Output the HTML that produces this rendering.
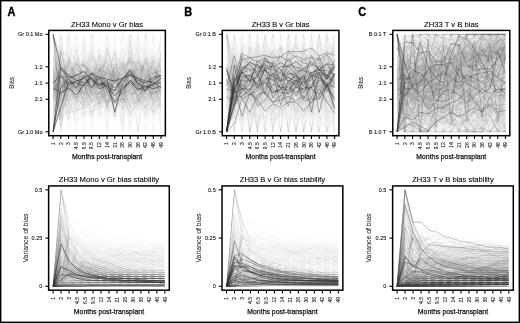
<!DOCTYPE html>
<html><head><meta charset="utf-8"><title>Figure</title>
<style>html,body{margin:0;padding:0;background:#fff;} svg{display:block;will-change:transform;} path{vector-effect:non-scaling-stroke;}</style>
</head><body>
<svg xmlns="http://www.w3.org/2000/svg" width="520" height="323" viewBox="0 0 520 323" font-family='"Liberation Sans", sans-serif'><rect x="0" y="0" width="520" height="323" fill="#fff"/><defs><filter id="bl" x="0" y="0" width="520" height="323" filterUnits="userSpaceOnUse"><feGaussianBlur stdDeviation="0.35"/></filter><filter id="bt" x="0" y="0" width="520" height="323" filterUnits="userSpaceOnUse"><feGaussianBlur stdDeviation="0.22"/></filter></defs><g filter="url(#bl)"><g fill="none" stroke-linejoin="round" transform="matrix(7.71 0 0 0.975000 53.1 34.3)"><g stroke="#555" stroke-opacity="0.0075" stroke-width="0.8"><path d="M0 81 1 70 2 72 3 52 4 100 5 100 6 62 7 40 8 85 9 88 10 14 11 17 12 40 13 14 14 13"/><path d="M0 54 1 42 2 100 3 14 4 20 5 76 6 85 7 37 8 23 9 78 10 74 11 62 12 64 13 39 14 78"/><path d="M0 30 1 23 2 45 3 81 4 70 5 62 6 50 7 28 8 66 9 74 10 51 11 43 12 71 13 100 14 0"/></g><g stroke="#555" stroke-opacity="0.01" stroke-width="0.8"><path d="M0 100 1 47 2 27 3 33 4 27 5 16 6 0 7 39 8 36 9 42 10 0 11 19 12 64 13 81 14 40"/><path d="M0 0 1 38 2 100 3 100 4 0 5 0 6 100 7 39 8 48 9 80 10 80 11 65 12 0 13 0 14 80"/><path d="M0 0 1 100 2 89 3 90 4 21 5 0 6 89 7 29 8 41 9 22 10 84 11 85 12 13 13 82 14 26"/><path d="M0 47 1 32 2 77 3 87 4 33 5 56 6 22 7 12 8 43 9 33 10 70 11 51 12 28 13 12 14 76"/><path d="M0 80 1 100 2 11 3 66 4 33 5 17 6 18 7 41 8 37 9 56 10 54 11 16 12 12 13 19 14 23"/><path d="M0 87 1 81 2 37 3 87 4 100 5 59 6 32 7 68 8 100 9 14 10 0 11 68 12 81 13 0 14 0"/><path d="M0 22 1 45 2 86 3 22 4 44 5 63 6 75 7 100 8 0 9 53 10 0 11 32 12 43 13 100 14 86"/><path d="M0 89 1 67 2 21 3 57 4 0 5 55 6 79 7 44 8 88 9 52 10 0 11 0 12 79 13 87 14 100"/><path d="M0 100 1 69 2 0 3 73 4 12 5 70 6 88 7 75 8 0 9 90 10 100 11 59 12 38 13 21 14 100"/><path d="M0 0 1 68 2 48 3 0 4 17 5 72 6 71 7 61 8 44 9 71 10 53 11 20 12 78 13 0 14 100"/><path d="M0 74 1 51 2 61 3 39 4 56 5 79 6 10 7 78 8 28 9 25 10 68 11 52 12 34 13 0 14 65"/><path d="M0 78 1 50 2 85 3 14 4 78 5 73 6 70 7 15 8 48 9 90 10 45 11 33 12 24 13 22 14 46"/><path d="M0 66 1 33 2 39 3 28 4 100 5 49 6 86 7 79 8 71 9 30 10 18 11 21 12 45 13 100 14 100"/><path d="M0 0 1 100 2 76 3 75 4 0 5 71 6 41 7 83 8 37 9 16 10 33 11 100 12 57 13 100 14 12"/><path d="M0 23 1 85 2 0 3 78 4 30 5 65 6 20 7 13 8 16 9 64 10 45 11 45 12 100 13 17 14 100"/><path d="M0 30 1 24 2 100 3 46 4 89 5 24 6 26 7 64 8 20 9 67 10 19 11 20 12 37 13 79 14 0"/><path d="M0 63 1 21 2 52 3 76 4 78 5 41 6 47 7 23 8 43 9 36 10 40 11 67 12 52 13 83 14 74"/><path d="M0 54 1 68 2 74 3 0 4 0 5 54 6 100 7 100 8 69 9 0 10 12 11 56 12 15 13 85 14 69"/><path d="M0 0 1 100 2 24 3 100 4 70 5 42 6 100 7 100 8 0 9 52 10 100 11 69 12 58 13 58 14 0"/><path d="M0 68 1 68 2 100 3 12 4 100 5 39 6 52 7 64 8 100 9 78 10 60 11 82 12 100 13 68 14 44"/><path d="M0 100 1 23 2 47 3 45 4 78 5 24 6 0 7 100 8 0 9 44 10 73 11 30 12 100 13 85 14 20"/><path d="M0 0 1 84 2 87 3 28 4 17 5 46 6 86 7 38 8 38 9 13 10 34 11 37 12 28 13 41 14 47"/><path d="M0 48 1 29 2 0 3 73 4 100 5 66 6 100 7 100 8 46 9 12 10 21 11 22 12 11 13 0 14 66"/><path d="M0 76 1 71 2 45 3 27 4 76 5 44 6 28 7 22 8 55 9 70 10 66 11 70 12 12 13 84 14 30"/><path d="M0 15 1 0 2 89 3 81 4 46 5 73 6 28 7 87 8 41 9 41 10 39 11 24 12 48 13 66 14 20"/><path d="M0 85 1 83 2 41 3 29 4 68 5 0 6 16 7 63 8 49 9 32 10 34 11 100 12 0 13 38 14 36"/><path d="M0 100 1 0 2 39 3 55 4 37 5 74 6 32 7 89 8 100 9 59 10 100 11 22 12 0 13 86 14 30"/></g><g stroke="#555" stroke-opacity="0.0125" stroke-width="0.8"><path d="M0 79 1 56 2 29 3 63 4 53 5 85 6 64 7 42 8 0 9 0 10 37 11 46 12 64 13 39 14 54"/><path d="M0 69 1 45 2 34 3 0 4 69 5 63 6 67 7 72 8 89 9 15 10 46 11 59 12 100 13 15 14 31"/><path d="M0 37 1 22 2 43 3 0 4 100 5 0 6 0 7 57 8 82 9 13 10 100 11 83 12 28 13 85 14 84"/><path d="M0 77 1 25 2 74 3 32 4 68 5 33 6 71 7 49 8 44 9 14 10 67 11 100 12 60 13 21 14 29"/><path d="M0 100 1 100 2 46 3 76 4 16 5 79 6 67 7 87 8 71 9 14 10 57 11 0 12 52 13 33 14 80"/><path d="M0 56 1 33 2 88 3 100 4 11 5 0 6 80 7 46 8 27 9 0 10 80 11 11 12 0 13 42 14 59"/><path d="M0 74 1 71 2 43 3 47 4 78 5 30 6 46 7 0 8 85 9 14 10 68 11 11 12 37 13 20 14 59"/><path d="M0 30 1 0 2 65 3 15 4 47 5 22 6 32 7 43 8 80 9 37 10 24 11 64 12 89 13 51 14 18"/><path d="M0 62 1 32 2 49 3 58 4 53 5 14 6 46 7 0 8 60 9 87 10 12 11 59 12 27 13 82 14 87"/><path d="M0 82 1 48 2 77 3 23 4 0 5 0 6 20 7 100 8 28 9 43 10 100 11 0 12 0 13 40 14 87"/><path d="M0 66 1 70 2 0 3 69 4 13 5 18 6 75 7 76 8 100 9 100 10 72 11 76 12 84 13 0 14 19"/><path d="M0 29 1 77 2 34 3 75 4 67 5 0 6 74 7 14 8 23 9 67 10 53 11 87 12 51 13 100 14 0"/><path d="M0 72 1 68 2 69 3 31 4 73 5 64 6 56 7 65 8 13 9 81 10 45 11 100 12 0 13 100 14 72"/><path d="M0 86 1 25 2 87 3 81 4 87 5 46 6 29 7 32 8 0 9 19 10 43 11 65 12 65 13 88 14 32"/><path d="M0 50 1 100 2 55 3 20 4 35 5 100 6 36 7 71 8 71 9 73 10 12 11 44 12 88 13 82 14 43"/><path d="M0 12 1 11 2 27 3 0 4 100 5 100 6 74 7 100 8 74 9 35 10 45 11 100 12 100 13 52 14 84"/><path d="M0 0 1 46 2 51 3 83 4 77 5 54 6 71 7 77 8 35 9 21 10 100 11 72 12 34 13 28 14 66"/><path d="M0 83 1 0 2 29 3 100 4 13 5 61 6 42 7 74 8 54 9 59 10 0 11 66 12 56 13 15 14 15"/><path d="M0 75 1 52 2 65 3 37 4 39 5 78 6 83 7 35 8 45 9 84 10 44 11 16 12 100 13 65 14 55"/><path d="M0 82 1 100 2 76 3 43 4 58 5 84 6 12 7 60 8 46 9 43 10 12 11 100 12 54 13 18 14 40"/><path d="M0 65 1 30 2 31 3 0 4 27 5 49 6 13 7 65 8 59 9 24 10 0 11 14 12 68 13 28 14 40"/><path d="M0 81 1 100 2 30 3 0 4 0 5 82 6 0 7 33 8 63 9 0 10 83 11 100 12 56 13 0 14 0"/><path d="M0 38 1 45 2 29 3 100 4 50 5 41 6 73 7 74 8 69 9 76 10 26 11 84 12 30 13 17 14 42"/><path d="M0 59 1 54 2 82 3 45 4 15 5 59 6 85 7 66 8 56 9 100 10 32 11 33 12 11 13 33 14 62"/><path d="M0 80 1 59 2 0 3 36 4 74 5 64 6 76 7 73 8 100 9 74 10 31 11 53 12 71 13 84 14 58"/><path d="M0 41 1 81 2 0 3 0 4 15 5 67 6 58 7 16 8 41 9 31 10 87 11 52 12 27 13 34 14 54"/><path d="M0 0 1 36 2 51 3 34 4 60 5 0 6 52 7 10 8 21 9 40 10 44 11 100 12 44 13 11 14 10"/><path d="M0 79 1 0 2 36 3 52 4 29 5 20 6 53 7 42 8 20 9 39 10 45 11 21 12 100 13 41 14 57"/><path d="M0 90 1 21 2 100 3 81 4 77 5 57 6 36 7 79 8 24 9 0 10 0 11 71 12 22 13 64 14 10"/><path d="M0 34 1 56 2 83 3 81 4 62 5 43 6 0 7 0 8 35 9 10 10 0 11 49 12 60 13 27 14 0"/></g><g stroke="#555" stroke-opacity="0.015" stroke-width="0.8"><path d="M0 75 1 21 2 100 3 81 4 81 5 100 6 37 7 100 8 38 9 0 10 17 11 30 12 0 13 82 14 18"/><path d="M0 0 1 76 2 0 3 34 4 0 5 73 6 100 7 0 8 11 9 22 10 100 11 100 12 30 13 36 14 56"/><path d="M0 79 1 73 2 14 3 67 4 80 5 66 6 22 7 24 8 71 9 29 10 36 11 45 12 13 13 49 14 39"/><path d="M0 100 1 78 2 29 3 14 4 79 5 58 6 78 7 0 8 88 9 60 10 79 11 14 12 15 13 62 14 0"/><path d="M0 65 1 49 2 87 3 30 4 13 5 66 6 44 7 30 8 24 9 0 10 53 11 65 12 85 13 0 14 21"/><path d="M0 47 1 0 2 65 3 0 4 100 5 36 6 70 7 69 8 84 9 0 10 0 11 26 12 100 13 100 14 30"/><path d="M0 13 1 72 2 76 3 77 4 65 5 60 6 0 7 19 8 100 9 89 10 73 11 29 12 0 13 59 14 0"/><path d="M0 31 1 63 2 48 3 46 4 42 5 33 6 70 7 100 8 100 9 0 10 31 11 38 12 40 13 35 14 57"/><path d="M0 63 1 36 2 65 3 90 4 67 5 0 6 55 7 47 8 19 9 100 10 0 11 72 12 100 13 64 14 25"/><path d="M0 0 1 0 2 100 3 68 4 15 5 0 6 67 7 85 8 49 9 83 10 81 11 0 12 100 13 26 14 27"/><path d="M0 15 1 100 2 46 3 83 4 43 5 54 6 100 7 74 8 84 9 48 10 10 11 66 12 14 13 72 14 22"/><path d="M0 100 1 13 2 27 3 100 4 39 5 50 6 88 7 41 8 79 9 40 10 100 11 29 12 86 13 36 14 78"/><path d="M0 88 1 41 2 30 3 100 4 29 5 60 6 0 7 45 8 49 9 42 10 57 11 47 12 88 13 70 14 52"/><path d="M0 100 1 100 2 69 3 21 4 63 5 0 6 57 7 42 8 29 9 47 10 42 11 0 12 88 13 53 14 37"/><path d="M0 100 1 46 2 32 3 42 4 52 5 67 6 40 7 55 8 16 9 100 10 19 11 64 12 21 13 29 14 69"/><path d="M0 71 1 100 2 25 3 85 4 73 5 39 6 64 7 0 8 50 9 0 10 20 11 0 12 87 13 55 14 0"/><path d="M0 57 1 27 2 79 3 27 4 0 5 0 6 27 7 54 8 83 9 81 10 22 11 30 12 11 13 53 14 79"/><path d="M0 43 1 77 2 28 3 68 4 43 5 14 6 52 7 75 8 43 9 88 10 61 11 61 12 71 13 100 14 86"/><path d="M0 60 1 86 2 50 3 72 4 24 5 17 6 42 7 65 8 73 9 57 10 100 11 100 12 0 13 33 14 0"/><path d="M0 28 1 100 2 20 3 38 4 73 5 85 6 80 7 66 8 0 9 71 10 0 11 13 12 22 13 54 14 24"/><path d="M0 81 1 100 2 26 3 37 4 50 5 37 6 65 7 39 8 35 9 26 10 14 11 63 12 23 13 23 14 63"/><path d="M0 34 1 100 2 18 3 82 4 35 5 60 6 36 7 100 8 35 9 41 10 0 11 42 12 46 13 0 14 79"/><path d="M0 80 1 56 2 27 3 83 4 37 5 31 6 65 7 100 8 57 9 79 10 37 11 78 12 68 13 100 14 0"/><path d="M0 22 1 100 2 0 3 48 4 28 5 61 6 80 7 11 8 88 9 29 10 26 11 20 12 40 13 53 14 89"/><path d="M0 72 1 51 2 12 3 71 4 21 5 86 6 88 7 31 8 83 9 87 10 14 11 49 12 61 13 23 14 77"/><path d="M0 49 1 50 2 88 3 57 4 100 5 87 6 70 7 25 8 68 9 100 10 10 11 42 12 81 13 0 14 74"/><path d="M0 65 1 48 2 63 3 18 4 71 5 34 6 0 7 10 8 34 9 47 10 18 11 100 12 73 13 77 14 36"/><path d="M0 67 1 84 2 86 3 67 4 77 5 28 6 21 7 31 8 84 9 100 10 41 11 40 12 82 13 100 14 58"/><path d="M0 22 1 0 2 20 3 12 4 24 5 25 6 20 7 76 8 83 9 73 10 52 11 30 12 62 13 13 14 100"/><path d="M0 41 1 72 2 37 3 70 4 22 5 37 6 60 7 38 8 85 9 23 10 33 11 45 12 0 13 100 14 51"/><path d="M0 33 1 63 2 34 3 76 4 64 5 42 6 49 7 55 8 37 9 82 10 11 11 60 12 55 13 35 14 77"/><path d="M0 93 1 66 2 65 3 64 4 48 5 73 6 89 7 52 8 59 9 55 10 21 11 73 12 34 13 74 14 22"/><path d="M0 55 1 57 2 52 3 55 4 46 5 50 6 38 7 38 8 42 9 93 10 35 11 64 12 59 13 35 14 49"/><path d="M0 46 1 36 2 5 3 71 4 31 5 66 6 70 7 80 8 59 9 56 10 62 11 59 12 74 13 40 14 65"/><path d="M0 100 1 28 2 59 3 60 4 62 5 57 6 39 7 83 8 40 9 31 10 34 11 27 12 56 13 65 14 55"/><path d="M0 100 1 46 2 31 3 59 4 27 5 39 6 32 7 48 8 45 9 56 10 54 11 59 12 69 13 65 14 30"/><path d="M0 77 1 34 2 31 3 60 4 23 5 51 6 53 7 13 8 47 9 57 10 10 11 43 12 29 13 16 14 51"/><path d="M0 100 1 62 2 69 3 48 4 58 5 22 6 25 7 65 8 66 9 40 10 10 11 19 12 61 13 29 14 27"/><path d="M0 57 1 54 2 37 3 42 4 79 5 36 6 81 7 46 8 45 9 49 10 56 11 80 12 49 13 33 14 51"/><path d="M0 69 1 45 2 65 3 53 4 100 5 34 6 69 7 66 8 43 9 32 10 23 11 39 12 10 13 84 14 74"/><path d="M0 12 1 28 2 36 3 76 4 27 5 43 6 37 7 44 8 66 9 50 10 37 11 40 12 31 13 35 14 25"/><path d="M0 0 1 56 2 38 3 34 4 30 5 35 6 13 7 46 8 27 9 47 10 36 11 32 12 68 13 46 14 36"/><path d="M0 36 1 51 2 44 3 79 4 75 5 37 6 33 7 68 8 14 9 30 10 15 11 38 12 59 13 62 14 40"/><path d="M0 23 1 36 2 49 3 44 4 45 5 35 6 37 7 41 8 83 9 63 10 20 11 74 12 0 13 45 14 49"/><path d="M0 45 1 56 2 28 3 60 4 55 5 47 6 45 7 36 8 73 9 41 10 66 11 34 12 61 13 62 14 27"/><path d="M0 61 1 44 2 31 3 42 4 61 5 46 6 42 7 50 8 30 9 47 10 54 11 16 12 45 13 37 14 35"/><path d="M0 71 1 61 2 68 3 41 4 65 5 57 6 21 7 70 8 56 9 47 10 55 11 0 12 49 13 48 14 38"/><path d="M0 73 1 58 2 77 3 98 4 71 5 49 6 75 7 66 8 39 9 39 10 46 11 53 12 35 13 45 14 56"/><path d="M0 0 1 55 2 29 3 28 4 40 5 58 6 54 7 56 8 14 9 4 10 46 11 11 12 48 13 65 14 44"/><path d="M0 69 1 51 2 63 3 62 4 43 5 35 6 50 7 76 8 50 9 41 10 48 11 60 12 89 13 49 14 52"/><path d="M0 16 1 53 2 38 3 35 4 46 5 29 6 1 7 58 8 58 9 57 10 64 11 66 12 81 13 56 14 74"/><path d="M0 57 1 35 2 50 3 55 4 73 5 54 6 39 7 21 8 38 9 39 10 46 11 65 12 35 13 18 14 27"/><path d="M0 22 1 74 2 52 3 37 4 39 5 60 6 49 7 52 8 86 9 48 10 64 11 80 12 51 13 71 14 47"/><path d="M0 30 1 52 2 26 3 58 4 40 5 48 6 68 7 76 8 45 9 66 10 61 11 66 12 55 13 37 14 73"/><path d="M0 34 1 41 2 40 3 57 4 46 5 72 6 48 7 55 8 39 9 54 10 24 11 47 12 46 13 45 14 24"/><path d="M0 32 1 37 2 46 3 63 4 79 5 95 6 35 7 79 8 53 9 40 10 47 11 55 12 24 13 76 14 30"/><path d="M0 35 1 12 2 37 3 28 4 45 5 51 6 13 7 67 8 41 9 39 10 25 11 75 12 63 13 58 14 64"/><path d="M0 72 1 73 2 74 3 11 4 47 5 39 6 60 7 54 8 62 9 88 10 64 11 36 12 49 13 38 14 51"/><path d="M0 100 1 70 2 0 3 13 4 88 5 78 6 75 7 23 8 64 9 26 10 78 11 45 12 37 13 60 14 81"/><path d="M0 100 1 51 2 57 3 49 4 55 5 71 6 46 7 73 8 42 9 51 10 66 11 75 12 73 13 56 14 69"/><path d="M0 20 1 60 2 40 3 77 4 30 5 0 6 56 7 26 8 20 9 28 10 53 11 48 12 48 13 71 14 55"/><path d="M0 100 1 25 2 33 3 71 4 39 5 40 6 53 7 54 8 30 9 56 10 47 11 58 12 13 13 36 14 70"/><path d="M0 70 1 80 2 54 3 50 4 70 5 59 6 84 7 50 8 83 9 82 10 77 11 81 12 72 13 91 14 60"/><path d="M0 84 1 55 2 58 3 44 4 66 5 21 6 25 7 75 8 6 9 63 10 47 11 26 12 52 13 51 14 23"/><path d="M0 52 1 45 2 50 3 37 4 47 5 84 6 42 7 62 8 14 9 41 10 43 11 63 12 49 13 54 14 12"/></g><g stroke="#555" stroke-opacity="0.0175" stroke-width="0.8"><path d="M0 50 1 62 2 86 3 45 4 58 5 62 6 41 7 72 8 35 9 67 10 36 11 79 12 50 13 47 14 79"/><path d="M0 44 1 56 2 66 3 86 4 69 5 77 6 35 7 81 8 31 9 70 10 85 11 33 12 17 13 88 14 49"/><path d="M0 100 1 44 2 54 3 40 4 53 5 57 6 32 7 45 8 56 9 23 10 54 11 26 12 39 13 47 14 54"/><path d="M0 62 1 55 2 40 3 61 4 49 5 36 6 44 7 58 8 48 9 44 10 51 11 74 12 52 13 59 14 54"/><path d="M0 51 1 62 2 63 3 67 4 73 5 71 6 61 7 78 8 60 9 52 10 67 11 45 12 64 13 65 14 59"/><path d="M0 90 1 53 2 81 3 71 4 56 5 53 6 84 7 28 8 66 9 67 10 25 11 61 12 76 13 21 14 49"/><path d="M0 0 1 62 2 49 3 25 4 58 5 85 6 91 7 90 8 81 9 61 10 74 11 29 12 76 13 38 14 64"/><path d="M0 43 1 46 2 23 3 58 4 22 5 6 6 46 7 40 8 38 9 59 10 38 11 44 12 15 13 49 14 54"/><path d="M0 67 1 10 2 33 3 84 4 18 5 52 6 51 7 70 8 52 9 75 10 58 11 52 12 32 13 42 14 100"/><path d="M0 100 1 50 2 72 3 76 4 76 5 56 6 50 7 57 8 84 9 52 10 50 11 67 12 71 13 49 14 26"/><path d="M0 67 1 70 2 91 3 41 4 40 5 47 6 34 7 100 8 36 9 61 10 50 11 57 12 41 13 38 14 40"/><path d="M0 52 1 52 2 39 3 49 4 64 5 55 6 62 7 32 8 24 9 47 10 45 11 57 12 68 13 54 14 61"/><path d="M0 39 1 74 2 0 3 57 4 38 5 17 6 62 7 63 8 63 9 79 10 70 11 49 12 48 13 38 14 25"/><path d="M0 45 1 52 2 46 3 49 4 66 5 70 6 58 7 48 8 41 9 50 10 46 11 11 12 30 13 49 14 37"/><path d="M0 59 1 12 2 50 3 59 4 43 5 100 6 69 7 70 8 7 9 78 10 22 11 60 12 37 13 41 14 79"/><path d="M0 29 1 38 2 61 3 27 4 40 5 20 6 66 7 25 8 62 9 36 10 37 11 64 12 53 13 48 14 44"/><path d="M0 27 1 43 2 61 3 59 4 67 5 31 6 53 7 28 8 69 9 39 10 61 11 54 12 65 13 22 14 59"/><path d="M0 73 1 27 2 51 3 51 4 67 5 62 6 54 7 31 8 28 9 79 10 68 11 40 12 28 13 47 14 54"/><path d="M0 69 1 25 2 50 3 53 4 46 5 54 6 47 7 52 8 39 9 38 10 36 11 54 12 40 13 43 14 44"/><path d="M0 82 1 60 2 39 3 25 4 22 5 38 6 57 7 42 8 17 9 50 10 47 11 28 12 23 13 39 14 49"/><path d="M0 53 1 45 2 61 3 32 4 65 5 64 6 47 7 64 8 59 9 46 10 49 11 59 12 45 13 62 14 44"/><path d="M0 46 1 58 2 0 3 25 4 52 5 42 6 30 7 34 8 30 9 67 10 36 11 32 12 23 13 54 14 53"/><path d="M0 100 1 52 2 47 3 67 4 32 5 76 6 69 7 54 8 77 9 63 10 54 11 65 12 61 13 42 14 54"/><path d="M0 51 1 64 2 23 3 26 4 28 5 49 6 82 7 56 8 4 9 39 10 48 11 50 12 25 13 43 14 75"/><path d="M0 59 1 69 2 56 3 65 4 59 5 13 6 69 7 51 8 81 9 34 10 31 11 82 12 88 13 63 14 53"/><path d="M0 57 1 58 2 48 3 100 4 44 5 61 6 22 7 48 8 48 9 39 10 66 11 77 12 52 13 31 14 26"/><path d="M0 27 1 63 2 38 3 33 4 38 5 53 6 39 7 64 8 40 9 15 10 17 11 61 12 41 13 31 14 38"/><path d="M0 76 1 21 2 35 3 37 4 41 5 46 6 65 7 49 8 56 9 60 10 51 11 53 12 26 13 28 14 51"/><path d="M0 37 1 36 2 44 3 23 4 35 5 47 6 26 7 47 8 29 9 55 10 33 11 29 12 47 13 36 14 52"/><path d="M0 12 1 37 2 4 3 32 4 65 5 50 6 29 7 67 8 56 9 74 10 20 11 17 12 61 13 54 14 39"/><path d="M0 63 1 38 2 51 3 51 4 45 5 33 6 29 7 57 8 55 9 44 10 37 11 63 12 35 13 39 14 59"/><path d="M0 62 1 52 2 50 3 46 4 61 5 78 6 53 7 41 8 58 9 61 10 61 11 58 12 57 13 55 14 62"/><path d="M0 100 1 41 2 73 3 29 4 50 5 71 6 57 7 39 8 41 9 44 10 29 11 55 12 72 13 97 14 24"/><path d="M0 36 1 52 2 45 3 65 4 44 5 70 6 66 7 67 8 75 9 45 10 55 11 67 12 18 13 50 14 54"/><path d="M0 100 1 55 2 30 3 42 4 37 5 67 6 81 7 76 8 26 9 49 10 62 11 28 12 64 13 54 14 35"/><path d="M0 66 1 47 2 66 3 40 4 73 5 70 6 55 7 65 8 49 9 61 10 35 11 53 12 56 13 45 14 38"/></g><g stroke="#555" stroke-opacity="0.02" stroke-width="0.8"><path d="M0 52 1 56 2 54 3 35 4 14 5 27 6 51 7 19 8 48 9 56 10 26 11 26 12 40 13 72 14 72"/><path d="M0 68 1 57 2 44 3 44 4 82 5 43 6 33 7 20 8 79 9 0 10 20 11 51 12 30 13 49 14 54"/><path d="M0 33 1 43 2 61 3 26 4 24 5 60 6 69 7 40 8 49 9 38 10 18 11 33 12 46 13 59 14 44"/><path d="M0 51 1 48 2 37 3 40 4 70 5 41 6 31 7 46 8 38 9 23 10 48 11 57 12 73 13 68 14 49"/><path d="M0 100 1 47 2 49 3 50 4 51 5 52 6 22 7 41 8 40 9 51 10 39 11 44 12 63 13 56 14 32"/><path d="M0 65 1 43 2 46 3 55 4 57 5 38 6 56 7 60 8 60 9 55 10 52 11 44 12 57 13 80 14 55"/><path d="M0 50 1 47 2 61 3 44 4 36 5 73 6 65 7 47 8 61 9 64 10 47 11 47 12 57 13 79 14 38"/><path d="M0 39 1 51 2 57 3 31 4 47 5 41 6 27 7 74 8 33 9 38 10 41 11 71 12 57 13 67 14 91"/><path d="M0 48 1 37 2 44 3 30 4 42 5 26 6 53 7 16 8 38 9 41 10 48 11 25 12 40 13 67 14 40"/><path d="M0 61 1 0 2 69 3 38 4 63 5 76 6 61 7 30 8 68 9 65 10 49 11 67 12 65 13 49 14 69"/><path d="M0 64 1 31 2 51 3 58 4 37 5 49 6 53 7 45 8 34 9 53 10 60 11 41 12 36 13 36 14 52"/><path d="M0 76 1 55 2 38 3 39 4 57 5 59 6 76 7 63 8 47 9 45 10 52 11 44 12 58 13 48 14 47"/><path d="M0 25 1 66 2 4 3 29 4 63 5 32 6 55 7 73 8 38 9 52 10 81 11 68 12 14 13 54 14 38"/><path d="M0 66 1 25 2 48 3 48 4 25 5 68 6 36 7 42 8 49 9 57 10 26 11 55 12 21 13 28 14 80"/><path d="M0 37 1 68 2 58 3 39 4 53 5 43 6 55 7 46 8 48 9 55 10 48 11 63 12 56 13 55 14 49"/><path d="M0 100 1 54 2 76 3 74 4 68 5 19 6 72 7 70 8 69 9 86 10 88 11 48 12 79 13 28 14 60"/><path d="M0 42 1 64 2 54 3 64 4 61 5 39 6 63 7 49 8 36 9 66 10 28 11 72 12 47 13 27 14 53"/><path d="M0 65 1 43 2 43 3 35 4 52 5 44 6 55 7 47 8 34 9 48 10 60 11 47 12 45 13 21 14 42"/><path d="M0 29 1 25 2 30 3 59 4 54 5 37 6 37 7 63 8 72 9 25 10 50 11 34 12 43 13 50 14 26"/><path d="M0 80 1 60 2 42 3 30 4 79 5 39 6 81 7 82 8 66 9 33 10 7 11 17 12 62 13 61 14 64"/><path d="M0 59 1 44 2 59 3 47 4 39 5 66 6 60 7 74 8 57 9 46 10 24 11 60 12 0 13 44 14 59"/><path d="M0 63 1 46 2 55 3 0 4 55 5 39 6 47 7 68 8 59 9 50 10 37 11 77 12 100 13 46 14 71"/><path d="M0 22 1 41 2 39 3 32 4 72 5 39 6 45 7 47 8 42 9 49 10 34 11 25 12 19 13 27 14 19"/><path d="M0 75 1 32 2 75 3 56 4 61 5 55 6 33 7 45 8 44 9 54 10 58 11 29 12 58 13 46 14 7"/><path d="M0 54 1 47 2 66 3 52 4 55 5 57 6 39 7 45 8 67 9 50 10 62 11 59 12 64 13 37 14 60"/><path d="M0 100 1 51 2 68 3 73 4 71 5 23 6 57 7 81 8 17 9 87 10 53 11 84 12 55 13 67 14 60"/><path d="M0 80 1 41 2 42 3 63 4 54 5 46 6 44 7 28 8 38 9 58 10 34 11 53 12 80 13 71 14 59"/><path d="M0 67 1 51 2 45 3 37 4 38 5 10 6 40 7 64 8 43 9 22 10 42 11 33 12 57 13 27 14 64"/><path d="M0 25 1 40 2 29 3 46 4 62 5 41 6 61 7 21 8 40 9 23 10 46 11 63 12 51 13 19 14 73"/><path d="M0 34 1 38 2 70 3 42 4 42 5 23 6 38 7 72 8 43 9 12 10 77 11 42 12 69 13 65 14 37"/><path d="M0 77 1 48 2 48 3 37 4 38 5 57 6 63 7 65 8 38 9 45 10 49 11 35 12 45 13 73 14 57"/><path d="M0 58 1 30 2 57 3 71 4 67 5 83 6 46 7 47 8 58 9 69 10 28 11 49 12 46 13 37 14 7"/><path d="M0 52 1 64 2 49 3 75 4 36 5 36 6 44 7 33 8 25 9 58 10 15 11 46 12 37 13 64 14 61"/><path d="M0 68 1 74 2 41 3 51 4 39 5 55 6 20 7 52 8 55 9 49 10 37 11 34 12 56 13 30 14 30"/><path d="M0 46 1 81 2 44 3 27 4 48 5 74 6 35 7 57 8 80 9 51 10 62 11 58 12 49 13 74 14 75"/><path d="M0 58 1 23 2 30 3 16 4 44 5 9 6 60 7 19 8 65 9 55 10 30 11 30 12 42 13 56 14 53"/><path d="M0 56 1 51 2 48 3 61 4 55 5 68 6 63 7 62 8 50 9 54 10 42 11 73 12 59 13 57 14 48"/><path d="M0 31 1 53 2 44 3 61 4 76 5 59 6 62 7 67 8 31 9 52 10 37 11 69 12 55 13 27 14 54"/></g><g stroke="#555" stroke-opacity="0.0225" stroke-width="0.8"><path d="M0 34 1 74 2 70 3 38 4 77 5 96 6 43 7 40 8 48 9 59 10 94 11 43 12 49 13 54 14 73"/><path d="M0 25 1 77 2 31 3 45 4 32 5 46 6 56 7 23 8 74 9 64 10 52 11 33 12 62 13 31 14 46"/><path d="M0 41 1 68 2 33 3 46 4 50 5 80 6 38 7 52 8 46 9 60 10 57 11 54 12 49 13 64 14 45"/><path d="M0 0 1 50 2 48 3 40 4 51 5 86 6 34 7 41 8 37 9 64 10 48 11 69 12 62 13 60 14 45"/><path d="M0 34 1 28 2 62 3 55 4 7 5 61 6 75 7 50 8 40 9 38 10 40 11 50 12 31 13 61 14 28"/><path d="M0 41 1 40 2 35 3 17 4 53 5 46 6 65 7 24 8 34 9 31 10 36 11 23 12 39 13 49 14 24"/><path d="M0 100 1 52 2 58 3 33 4 56 5 82 6 21 7 40 8 21 9 66 10 50 11 36 12 62 13 55 14 17"/><path d="M0 89 1 64 2 45 3 64 4 51 5 45 6 65 7 67 8 46 9 64 10 77 11 52 12 45 13 45 14 98"/><path d="M0 0 1 44 2 43 3 63 4 47 5 71 6 67 7 56 8 37 9 78 10 58 11 71 12 53 13 48 14 54"/><path d="M0 35 1 11 2 8 3 35 4 6 5 100 6 32 7 0 8 44 9 47 10 41 11 66 12 45 13 78 14 46"/><path d="M0 52 1 35 2 57 3 32 4 46 5 58 6 36 7 40 8 37 9 38 10 45 11 48 12 38 13 36 14 38"/><path d="M0 38 1 66 2 37 3 52 4 58 5 63 6 64 7 32 8 16 9 54 10 70 11 35 12 42 13 61 14 13"/><path d="M0 46 1 52 2 43 3 30 4 42 5 54 6 54 7 27 8 57 9 32 10 28 11 65 12 64 13 28 14 62"/><path d="M0 100 1 75 2 35 3 68 4 55 5 64 6 29 7 71 8 39 9 39 10 30 11 49 12 55 13 69 14 52"/><path d="M0 68 1 63 2 60 3 36 4 31 5 58 6 25 7 58 8 36 9 80 10 34 11 65 12 73 13 74 14 72"/><path d="M0 0 1 97 2 49 3 25 4 45 5 31 6 56 7 55 8 35 9 29 10 65 11 38 12 41 13 63 14 93"/><path d="M0 58 1 58 2 48 3 63 4 48 5 62 6 32 7 32 8 64 9 15 10 44 11 43 12 56 13 62 14 35"/><path d="M0 64 1 75 2 66 3 76 4 56 5 51 6 73 7 77 8 59 9 49 10 52 11 42 12 65 13 61 14 62"/><path d="M0 28 1 47 2 61 3 54 4 53 5 25 6 54 7 60 8 84 9 52 10 58 11 32 12 76 13 51 14 37"/><path d="M0 16 1 31 2 39 3 58 4 84 5 80 6 61 7 46 8 50 9 38 10 55 11 21 12 47 13 25 14 71"/><path d="M0 37 1 28 2 30 3 27 4 17 5 40 6 52 7 97 8 24 9 56 10 24 11 52 12 50 13 1 14 39"/><path d="M0 0 1 53 2 32 3 79 4 8 5 97 6 60 7 56 8 52 9 65 10 56 11 39 12 64 13 39 14 59"/><path d="M0 42 1 64 2 45 3 55 4 62 5 45 6 63 7 52 8 45 9 49 10 63 11 77 12 74 13 39 14 45"/><path d="M0 32 1 39 2 56 3 50 4 52 5 41 6 48 7 37 8 63 9 73 10 50 11 26 12 37 13 33 14 59"/><path d="M0 53 1 45 2 43 3 53 4 60 5 47 6 36 7 73 8 45 9 46 10 58 11 57 12 70 13 78 14 70"/><path d="M0 16 1 52 2 46 3 28 4 32 5 50 6 49 7 63 8 45 9 28 10 28 11 37 12 43 13 42 14 40"/><path d="M0 44 1 37 2 21 3 51 4 5 5 34 6 50 7 12 8 41 9 52 10 22 11 43 12 43 13 40 14 65"/></g><g stroke="#555" stroke-opacity="0.025" stroke-width="0.8"><path d="M0 54 1 40 2 33 3 44 4 45 5 67 6 39 7 44 8 45 9 58 10 31 11 51 12 50 13 65 14 64"/><path d="M0 100 1 49 2 80 3 78 4 1 5 47 6 49 7 74 8 26 9 24 10 51 11 12 12 43 13 46 14 0"/><path d="M0 77 1 40 2 26 3 48 4 50 5 32 6 28 7 51 8 50 9 27 10 5 11 43 12 41 13 49 14 46"/><path d="M0 56 1 56 2 30 3 34 4 43 5 25 6 59 7 67 8 46 9 47 10 49 11 24 12 42 13 46 14 51"/><path d="M0 59 1 39 2 62 3 79 4 62 5 43 6 58 7 67 8 63 9 38 10 44 11 62 12 73 13 55 14 30"/><path d="M0 54 1 45 2 57 3 53 4 56 5 44 6 37 7 60 8 45 9 56 10 47 11 44 12 69 13 54 14 47"/><path d="M0 0 1 73 2 29 3 29 4 80 5 66 6 71 7 60 8 67 9 69 10 33 11 10 12 55 13 62 14 55"/><path d="M0 79 1 36 2 72 3 31 4 50 5 63 6 38 7 59 8 43 9 29 10 59 11 58 12 58 13 39 14 32"/><path d="M0 24 1 54 2 36 3 46 4 40 5 53 6 50 7 38 8 38 9 37 10 44 11 44 12 48 13 14 14 48"/><path d="M0 61 1 31 2 48 3 34 4 54 5 29 6 42 7 37 8 54 9 44 10 43 11 61 12 39 13 47 14 60"/><path d="M0 20 1 39 2 65 3 57 4 27 5 38 6 85 7 79 8 55 9 80 10 52 11 40 12 64 13 50 14 64"/><path d="M0 39 1 51 2 93 3 21 4 48 5 41 6 47 7 30 8 57 9 73 10 64 11 79 12 57 13 79 14 83"/><path d="M0 57 1 47 2 36 3 38 4 43 5 50 6 38 7 50 8 23 9 17 10 59 11 37 12 49 13 54 14 54"/><path d="M0 53 1 55 2 63 3 39 4 12 5 55 6 69 7 49 8 56 9 28 10 24 11 70 12 0 13 38 14 47"/><path d="M0 39 1 62 2 50 3 47 4 40 5 79 6 73 7 75 8 49 9 58 10 48 11 51 12 54 13 33 14 48"/><path d="M0 41 1 64 2 61 3 53 4 69 5 58 6 69 7 35 8 84 9 92 10 50 11 42 12 45 13 75 14 64"/><path d="M0 65 1 58 2 36 3 57 4 34 5 44 6 22 7 92 8 22 9 62 10 58 11 50 12 85 13 26 14 59"/><path d="M0 0 1 63 2 49 3 33 4 53 5 50 6 57 7 58 8 52 9 53 10 33 11 39 12 48 13 24 14 52"/><path d="M0 66 1 58 2 55 3 48 4 29 5 26 6 35 7 54 8 63 9 59 10 40 11 46 12 34 13 42 14 53"/><path d="M0 100 1 56 2 27 3 55 4 38 5 53 6 40 7 46 8 45 9 64 10 28 11 34 12 34 13 6 14 32"/><path d="M0 47 1 54 2 36 3 42 4 50 5 70 6 61 7 34 8 41 9 21 10 82 11 30 12 44 13 41 14 81"/><path d="M0 100 1 23 2 64 3 49 4 38 5 55 6 46 7 72 8 51 9 45 10 64 11 53 12 37 13 27 14 44"/><path d="M0 24 1 37 2 63 3 29 4 48 5 46 6 22 7 27 8 21 9 67 10 49 11 41 12 33 13 30 14 34"/><path d="M0 55 1 45 2 30 3 38 4 2 5 39 6 37 7 40 8 42 9 18 10 31 11 51 12 43 13 51 14 1"/><path d="M0 34 1 53 2 55 3 78 4 41 5 49 6 30 7 36 8 48 9 45 10 15 11 76 12 41 13 57 14 22"/><path d="M0 79 1 67 2 30 3 29 4 34 5 63 6 39 7 53 8 65 9 69 10 64 11 70 12 59 13 40 14 41"/><path d="M0 86 1 53 2 45 3 44 4 55 5 0 6 18 7 42 8 75 9 44 10 85 11 64 12 45 13 30 14 80"/><path d="M0 79 1 35 2 58 3 55 4 27 5 57 6 39 7 50 8 54 9 65 10 2 11 61 12 57 13 27 14 51"/><path d="M0 50 1 53 2 51 3 48 4 62 5 47 6 47 7 34 8 48 9 51 10 37 11 45 12 34 13 43 14 43"/><path d="M0 100 1 37 2 55 3 53 4 51 5 54 6 51 7 53 8 42 9 55 10 37 11 23 12 21 13 44 14 38"/><path d="M0 27 1 56 2 52 3 44 4 39 5 51 6 21 7 31 8 34 9 63 10 40 11 54 12 50 13 44 14 32"/><path d="M0 0 1 46 2 87 3 55 4 54 5 18 6 73 7 81 8 25 9 30 10 79 11 54 12 49 13 55 14 57"/><path d="M0 62 1 79 2 30 3 75 4 62 5 60 6 67 7 63 8 31 9 66 10 68 11 63 12 57 13 61 14 72"/><path d="M0 47 1 79 2 54 3 24 4 36 5 60 6 71 7 55 8 49 9 51 10 49 11 66 12 39 13 53 14 79"/><path d="M0 25 1 48 2 34 3 43 4 69 5 15 6 50 7 26 8 25 9 80 10 71 11 44 12 72 13 49 14 45"/><path d="M0 59 1 55 2 18 3 17 4 62 5 24 6 34 7 56 8 28 9 34 10 6 11 41 12 47 13 43 14 53"/><path d="M0 42 1 48 2 29 3 20 4 62 5 32 6 19 7 0 8 34 9 35 10 66 11 38 12 28 13 40 14 36"/><path d="M0 0 1 48 2 28 3 56 4 50 5 16 6 41 7 34 8 63 9 54 10 23 11 42 12 53 13 46 14 46"/><path d="M0 67 1 45 2 72 3 31 4 68 5 63 6 46 7 93 8 72 9 53 10 72 11 53 12 40 13 76 14 35"/><path d="M0 26 1 43 2 26 3 48 4 35 5 61 6 56 7 47 8 64 9 67 10 42 11 33 12 52 13 62 14 47"/><path d="M0 73 1 44 2 72 3 10 4 28 5 34 6 51 7 55 8 53 9 87 10 10 11 24 12 69 13 42 14 17"/><path d="M0 15 1 30 2 19 3 54 4 45 5 42 6 31 7 33 8 50 9 87 10 38 11 60 12 67 13 43 14 49"/><path d="M0 47 1 60 2 26 3 62 4 62 5 27 6 35 7 49 8 66 9 55 10 54 11 59 12 42 13 41 14 24"/><path d="M0 100 1 50 2 40 3 60 4 14 5 66 6 45 7 61 8 36 9 39 10 76 11 14 12 39 13 56 14 51"/></g><g stroke="#555" stroke-opacity="0.0275" stroke-width="0.8"><path d="M0 37 1 31 2 54 3 69 4 55 5 53 6 42 7 75 8 60 9 40 10 59 11 80 12 61 13 46 14 50"/><path d="M0 69 1 50 2 72 3 48 4 62 5 31 6 55 7 25 8 83 9 44 10 63 11 36 12 38 13 55 14 82"/><path d="M0 100 1 37 2 34 3 46 4 32 5 37 6 45 7 96 8 52 9 100 10 50 11 50 12 61 13 44 14 32"/><path d="M0 41 1 66 2 44 3 41 4 73 5 76 6 69 7 39 8 58 9 56 10 59 11 59 12 51 13 29 14 32"/><path d="M0 68 1 53 2 70 3 48 4 65 5 52 6 20 7 68 8 40 9 24 10 39 11 71 12 72 13 57 14 57"/><path d="M0 67 1 48 2 27 3 28 4 50 5 37 6 31 7 52 8 17 9 45 10 45 11 37 12 15 13 38 14 44"/><path d="M0 44 1 50 2 41 3 62 4 32 5 21 6 63 7 32 8 27 9 28 10 41 11 31 12 0 13 33 14 40"/><path d="M0 53 1 54 2 52 3 43 4 58 5 41 6 21 7 37 8 54 9 63 10 45 11 39 12 64 13 54 14 65"/><path d="M0 81 1 51 2 38 3 41 4 62 5 38 6 57 7 70 8 28 9 61 10 58 11 18 12 59 13 74 14 46"/><path d="M0 39 1 53 2 30 3 55 4 29 5 21 6 30 7 57 8 45 9 41 10 46 11 69 12 43 13 79 14 36"/><path d="M0 62 1 37 2 57 3 61 4 80 5 88 6 14 7 42 8 43 9 71 10 55 11 27 12 42 13 60 14 55"/><path d="M0 100 1 63 2 46 3 25 4 30 5 58 6 62 7 4 8 72 9 42 10 66 11 44 12 56 13 38 14 64"/><path d="M0 94 1 72 2 72 3 60 4 40 5 37 6 48 7 84 8 63 9 78 10 58 11 63 12 50 13 53 14 73"/><path d="M0 50 1 53 2 46 3 29 4 47 5 14 6 64 7 29 8 29 9 68 10 31 11 54 12 16 13 70 14 38"/><path d="M0 61 1 38 2 42 3 52 4 51 5 40 6 50 7 48 8 47 9 55 10 71 11 69 12 50 13 35 14 47"/><path d="M0 16 1 64 2 74 3 56 4 54 5 38 6 79 7 63 8 40 9 94 10 28 11 64 12 51 13 21 14 19"/><path d="M0 44 1 65 2 13 3 38 4 32 5 74 6 48 7 0 8 46 9 49 10 99 11 51 12 79 13 64 14 16"/><path d="M0 69 1 51 2 80 3 51 4 60 5 25 6 80 7 61 8 85 9 59 10 53 11 41 12 46 13 84 14 49"/><path d="M0 68 1 59 2 73 3 59 4 56 5 68 6 59 7 67 8 67 9 69 10 64 11 59 12 60 13 46 14 37"/><path d="M0 42 1 50 2 33 3 39 4 61 5 41 6 53 7 73 8 48 9 41 10 55 11 55 12 54 13 50 14 67"/><path d="M0 100 1 19 2 33 3 51 4 61 5 49 6 50 7 38 8 50 9 22 10 18 11 36 12 56 13 46 14 54"/><path d="M0 100 1 54 2 26 3 55 4 30 5 58 6 56 7 44 8 40 9 33 10 34 11 41 12 70 13 69 14 48"/><path d="M0 53 1 72 2 75 3 73 4 12 5 46 6 78 7 42 8 59 9 78 10 65 11 75 12 35 13 67 14 68"/><path d="M0 63 1 80 2 2 3 57 4 23 5 21 6 50 7 43 8 35 9 81 10 23 11 84 12 47 13 48 14 40"/><path d="M0 34 1 62 2 67 3 46 4 74 5 29 6 47 7 20 8 64 9 23 10 64 11 57 12 40 13 34 14 77"/></g><g stroke="#555" stroke-opacity="0.03" stroke-width="0.8"><path d="M0 50 1 93 2 38 3 54 4 56 5 47 6 56 7 51 8 67 9 56 10 43 11 54 12 53 13 83 14 69"/><path d="M0 26 1 33 2 39 3 56 4 58 5 48 6 66 7 58 8 63 9 39 10 37 11 43 12 54 13 26 14 64"/><path d="M0 0 1 62 2 39 3 67 4 61 5 43 6 66 7 34 8 50 9 47 10 91 11 65 12 57 13 46 14 64"/><path d="M0 33 1 52 2 62 3 27 4 62 5 84 6 60 7 58 8 31 9 58 10 90 11 55 12 48 13 57 14 62"/><path d="M0 64 1 26 2 30 3 0 4 69 5 68 6 32 7 29 8 57 9 92 10 24 11 0 12 68 13 67 14 74"/><path d="M0 54 1 17 2 56 3 46 4 65 5 48 6 22 7 54 8 38 9 75 10 43 11 39 12 39 13 46 14 27"/><path d="M0 59 1 72 2 71 3 80 4 66 5 65 6 15 7 52 8 50 9 54 10 18 11 52 12 51 13 25 14 38"/><path d="M0 66 1 22 2 38 3 46 4 43 5 9 6 56 7 65 8 38 9 100 10 45 11 49 12 49 13 29 14 31"/><path d="M0 49 1 33 2 54 3 28 4 34 5 40 6 32 7 35 8 51 9 45 10 50 11 51 12 43 13 67 14 60"/><path d="M0 0 1 47 2 55 3 60 4 24 5 49 6 84 7 43 8 55 9 49 10 77 11 41 12 54 13 58 14 46"/><path d="M0 47 1 61 2 68 3 83 4 46 5 31 6 82 7 77 8 54 9 65 10 74 11 60 12 31 13 60 14 52"/><path d="M0 73 1 57 2 23 3 28 4 40 5 43 6 66 7 61 8 52 9 68 10 46 11 58 12 22 13 57 14 97"/><path d="M0 50 1 46 2 26 3 64 4 53 5 40 6 39 7 36 8 49 9 47 10 40 11 59 12 43 13 17 14 36"/><path d="M0 100 1 56 2 63 3 54 4 50 5 0 6 27 7 35 8 61 9 55 10 65 11 23 12 46 13 87 14 63"/><path d="M0 52 1 40 2 59 3 29 4 47 5 11 6 39 7 28 8 61 9 52 10 61 11 29 12 35 13 21 14 47"/></g><g stroke="#555" stroke-opacity="0.06" stroke-width="0.8"><path d="M0 48 1 22 2 75 3 79 4 65 5 55 6 59 7 68 8 67 9 77 10 60 11 55 12 61 13 81 14 70"/><path d="M0 52 1 53 2 56 3 65 4 64 5 45 6 65 7 40 8 58 9 70 10 64 11 52 12 23 13 66 14 73"/></g><g stroke="#555" stroke-opacity="0.0625" stroke-width="0.8"><path d="M0 50 1 0 2 56 3 52 4 66 5 57 6 44 7 59 8 56 9 57 10 43 11 39 12 69 13 60 14 56"/><path d="M0 66 1 84 2 61 3 79 4 63 5 19 6 71 7 59 8 58 9 31 10 63 11 36 12 32 13 37 14 47"/><path d="M0 59 1 43 2 46 3 49 4 42 5 59 6 39 7 47 8 71 9 67 10 47 11 58 12 44 13 51 14 86"/></g><g stroke="#555" stroke-opacity="0.065" stroke-width="0.8"><path d="M0 84 1 47 2 82 3 71 4 86 5 52 6 54 7 81 8 68 9 65 10 80 11 73 12 82 13 53 14 58"/><path d="M0 42 1 30 2 49 3 65 4 42 5 42 6 61 7 39 8 60 9 58 10 70 11 50 12 61 13 46 14 63"/></g><g stroke="#555" stroke-opacity="0.0675" stroke-width="0.8"><path d="M0 42 1 74 2 42 3 48 4 63 5 55 6 41 7 67 8 67 9 58 10 58 11 56 12 62 13 48 14 58"/></g><g stroke="#555" stroke-opacity="0.07" stroke-width="0.8"><path d="M0 0 1 19 2 21 3 42 4 63 5 53 6 39 7 26 8 25 9 35 10 56 11 4 12 24 13 29 14 36"/><path d="M0 100 1 20 2 22 3 47 4 52 5 26 6 45 7 38 8 44 9 45 10 19 11 32 12 26 13 28 14 31"/><path d="M0 33 1 51 2 24 3 54 4 34 5 34 6 36 7 46 8 23 9 54 10 47 11 48 12 39 13 45 14 28"/></g><g stroke="#555" stroke-opacity="0.0725" stroke-width="0.8"><path d="M0 100 1 11 2 56 3 40 4 50 5 58 6 61 7 74 8 48 9 46 10 54 11 45 12 61 13 60 14 56"/></g><g stroke="#555" stroke-opacity="0.075" stroke-width="0.8"><path d="M0 50 1 66 2 28 3 61 4 59 5 38 6 53 7 55 8 32 9 36 10 44 11 33 12 34 13 35 14 45"/></g><g stroke="#555" stroke-opacity="0.0775" stroke-width="0.8"><path d="M0 100 1 42 2 65 3 39 4 54 5 47 6 47 7 55 8 61 9 50 10 49 11 28 12 50 13 49 14 41"/><path d="M0 50 1 57 2 41 3 28 4 42 5 39 6 54 7 37 8 38 9 18 10 18 11 46 12 27 13 38 14 43"/><path d="M0 61 1 26 2 63 3 60 4 54 5 51 6 56 7 52 8 58 9 53 10 51 11 49 12 53 13 47 14 50"/><path d="M0 0 1 71 2 58 3 38 4 73 5 39 6 41 7 75 8 35 9 26 10 50 11 63 12 65 13 52 14 49"/></g><g stroke="#555" stroke-opacity="0.08" stroke-width="0.8"><path d="M0 43 1 64 2 79 3 80 4 73 5 85 6 52 7 53 8 47 9 76 10 66 11 69 12 41 13 75 14 62"/><path d="M0 60 1 41 2 50 3 56 4 43 5 43 6 36 7 31 8 48 9 52 10 61 11 31 12 39 13 33 14 46"/></g><g stroke="#555" stroke-opacity="0.0825" stroke-width="0.8"><path d="M0 66 1 17 2 51 3 52 4 71 5 56 6 71 7 53 8 30 9 62 10 81 11 67 12 70 13 62 14 75"/></g><g stroke="#555" stroke-opacity="0.085" stroke-width="0.8"><path d="M0 46 1 94 2 67 3 64 4 59 5 59 6 59 7 55 8 61 9 58 10 54 11 58 12 60 13 49 14 61"/><path d="M0 77 1 70 2 63 3 65 4 65 5 56 6 42 7 71 8 63 9 57 10 61 11 60 12 65 13 69 14 58"/><path d="M0 0 1 67 2 41 3 48 4 47 5 49 6 40 7 61 8 49 9 36 10 45 11 47 12 53 13 45 14 37"/><path d="M0 45 1 67 2 48 3 66 4 39 5 20 6 38 7 57 8 50 9 33 10 43 11 58 12 56 13 51 14 45"/><path d="M0 45 1 45 2 47 3 57 4 60 5 53 6 51 7 58 8 37 9 71 10 28 11 58 12 47 13 42 14 42"/></g><g stroke="#555" stroke-opacity="0.0875" stroke-width="0.8"><path d="M0 100 1 52 2 59 3 43 4 48 5 32 6 55 7 33 8 52 9 52 10 52 11 47 12 29 13 39 14 51"/><path d="M0 41 1 17 2 52 3 56 4 43 5 58 6 49 7 47 8 56 9 59 10 34 11 43 12 53 13 62 14 51"/><path d="M0 100 1 54 2 68 3 63 4 67 5 63 6 31 7 53 8 45 9 62 10 51 11 43 12 54 13 40 14 62"/><path d="M0 51 1 62 2 43 3 43 4 61 5 40 6 54 7 48 8 52 9 33 10 28 11 34 12 39 13 43 14 58"/></g><g stroke="#555" stroke-opacity="0.09" stroke-width="0.8"><path d="M0 50 1 15 2 60 3 40 4 47 5 60 6 65 7 41 8 52 9 47 10 48 11 37 12 62 13 54 14 50"/><path d="M0 36 1 34 2 32 3 36 4 29 5 28 6 36 7 31 8 31 9 34 10 37 11 40 12 43 13 29 14 12"/><path d="M0 64 1 70 2 28 3 32 4 62 5 50 6 51 7 49 8 54 9 47 10 70 11 32 12 62 13 61 14 32"/><path d="M0 67 1 44 2 58 3 68 4 70 5 58 6 22 7 51 8 34 9 43 10 58 11 27 12 47 13 67 14 37"/></g><g stroke="#555" stroke-opacity="0.0925" stroke-width="0.8"><path d="M0 0 1 63 2 36 3 37 4 39 5 39 6 21 7 30 8 37 9 32 10 26 11 37 12 28 13 41 14 37"/></g><g stroke="#555" stroke-opacity="0.095" stroke-width="0.8"><path d="M0 18 1 57 2 40 3 50 4 26 5 48 6 46 7 16 8 41 9 32 10 0 11 19 12 55 13 38 14 42"/><path d="M0 0 1 27 2 37 3 46 4 36 5 43 6 34 7 29 8 40 9 55 10 40 11 58 12 27 13 42 14 36"/></g><g stroke="#555" stroke-opacity="0.1" stroke-width="0.8"><path d="M0 56 1 4 2 54 3 38 4 28 5 69 6 46 7 59 8 67 9 44 10 37 11 68 12 58 13 52 14 58"/></g><g stroke="#555" stroke-opacity="0.1025" stroke-width="0.8"><path d="M0 55 1 90 2 40 3 56 4 31 5 42 6 26 7 44 8 44 9 50 10 23 11 62 12 44 13 40 14 28"/><path d="M0 34 1 41 2 24 3 45 4 39 5 41 6 38 7 38 8 51 9 40 10 33 11 41 12 30 13 30 14 55"/></g><g stroke="#555" stroke-opacity="0.105" stroke-width="0.8"><path d="M0 58 1 44 2 62 3 61 4 54 5 67 6 65 7 61 8 58 9 59 10 75 11 68 12 67 13 56 14 51"/><path d="M0 66 1 67 2 67 3 67 4 73 5 42 6 73 7 50 8 46 9 41 10 49 11 66 12 45 13 72 14 54"/></g><g stroke="#555" stroke-opacity="0.11" stroke-width="0.8"><path d="M0 56 1 77 2 53 3 67 4 45 5 51 6 56 7 48 8 69 9 46 10 62 11 58 12 39 13 54 14 55"/><path d="M0 22 1 38 2 68 3 55 4 67 5 43 6 62 7 61 8 46 9 64 10 44 11 42 12 28 13 64 14 66"/></g><g stroke="#555" stroke-opacity="0.1125" stroke-width="0.8"><path d="M0 0 1 27 2 49 3 52 4 46 5 46 6 56 7 53 8 42 9 41 10 25 11 51 12 54 13 40 14 36"/></g><g stroke="#555" stroke-opacity="0.115" stroke-width="0.8"><path d="M0 56 1 47 2 54 3 49 4 45 5 61 6 37 7 60 8 44 9 47 10 39 11 56 12 51 13 53 14 48"/><path d="M0 92 1 18 2 37 3 59 4 51 5 71 6 45 7 72 8 85 9 55 10 41 11 100 12 41 13 47 14 59"/><path d="M0 53 1 79 2 64 3 62 4 76 5 61 6 59 7 62 8 67 9 60 10 84 11 70 12 45 13 69 14 67"/></g><g stroke="#555" stroke-opacity="0.12" stroke-width="0.8"><path d="M0 64 1 61 2 53 3 50 4 83 5 63 6 68 7 55 8 69 9 67 10 61 11 61 12 76 13 54 14 56"/></g><g stroke="#555" stroke-opacity="0.1225" stroke-width="0.8"><path d="M0 36 1 45 2 53 3 45 4 56 5 51 6 50 7 22 8 18 9 76 10 7 11 56 12 68 13 35 14 43"/><path d="M0 100 1 53 2 56 3 65 4 54 5 48 6 61 7 49 8 67 9 55 10 44 11 48 12 58 13 54 14 73"/><path d="M0 100 1 43 2 46 3 54 4 51 5 48 6 56 7 70 8 45 9 60 10 58 11 47 12 45 13 51 14 59"/><path d="M0 100 1 15 2 59 3 50 4 44 5 51 6 68 7 68 8 57 9 53 10 51 11 48 12 40 13 31 14 53"/><path d="M0 0 1 29 2 43 3 30 4 32 5 55 6 36 7 33 8 43 9 36 10 48 11 36 12 59 13 32 14 48"/></g><g stroke="#555" stroke-opacity="0.1275" stroke-width="0.8"><path d="M0 36 1 57 2 47 3 36 4 31 5 45 6 30 7 60 8 51 9 50 10 52 11 63 12 54 13 52 14 41"/></g><g stroke="#555" stroke-opacity="0.13" stroke-width="0.8"><path d="M0 74 1 31 2 81 3 77 4 76 5 67 6 71 7 69 8 69 9 67 10 59 11 72 12 67 13 80 14 72"/><path d="M0 52 1 39 2 31 3 42 4 30 5 46 6 72 7 35 8 81 9 39 10 48 11 48 12 53 13 51 14 61"/><path d="M0 54 1 34 2 43 3 56 4 48 5 49 6 41 7 52 8 34 9 44 10 41 11 35 12 43 13 48 14 48"/><path d="M0 100 1 61 2 54 3 29 4 49 5 48 6 55 7 48 8 34 9 36 10 42 11 48 12 59 13 40 14 50"/></g><g stroke="#555" stroke-opacity="0.1325" stroke-width="0.8"><path d="M0 49 1 47 2 74 3 39 4 62 5 62 6 59 7 54 8 64 9 61 10 57 11 77 12 46 13 52 14 70"/></g><g stroke="#555" stroke-opacity="0.135" stroke-width="0.8"><path d="M0 44 1 95 2 54 3 41 4 69 5 74 6 71 7 35 8 44 9 54 10 73 11 65 12 76 13 60 14 68"/><path d="M0 66 1 20 2 17 3 26 4 31 5 62 6 61 7 15 8 44 9 30 10 58 11 41 12 25 13 57 14 24"/></g><g stroke="#555" stroke-opacity="0.1375" stroke-width="0.8"><path d="M0 40 1 45 2 38 3 30 4 39 5 36 6 36 7 40 8 42 9 50 10 34 11 43 12 53 13 52 14 30"/><path d="M0 42 1 86 2 78 3 65 4 50 5 70 6 60 7 71 8 56 9 52 10 56 11 44 12 76 13 80 14 68"/></g><g stroke="#555" stroke-opacity="0.14" stroke-width="0.8"><path d="M0 49 1 37 2 59 3 46 4 74 5 52 6 42 7 68 8 40 9 67 10 66 11 73 12 42 13 52 14 46"/><path d="M0 29 1 45 2 42 3 59 4 44 5 44 6 43 7 41 8 39 9 47 10 49 11 44 12 60 13 23 14 36"/><path d="M0 100 1 60 2 88 3 41 4 45 5 54 6 54 7 40 8 20 9 33 10 41 11 43 12 33 13 54 14 36"/><path d="M0 88 1 79 2 45 3 72 4 45 5 58 6 52 7 76 8 41 9 71 10 51 11 51 12 50 13 70 14 65"/><path d="M0 50 1 59 2 57 3 52 4 51 5 62 6 44 7 60 8 51 9 56 10 52 11 45 12 54 13 59 14 59"/></g><g stroke="#555" stroke-opacity="0.1425" stroke-width="0.8"><path d="M0 31 1 88 2 42 3 33 4 31 5 39 6 54 7 33 8 49 9 34 10 27 11 56 12 24 13 36 14 48"/><path d="M0 64 1 36 2 68 3 89 4 80 5 79 6 75 7 58 8 74 9 64 10 81 11 65 12 82 13 71 14 73"/><path d="M0 64 1 42 2 44 3 70 4 52 5 53 6 35 7 58 8 77 9 66 10 72 11 62 12 57 13 44 14 52"/></g><g stroke="#555" stroke-opacity="0.145" stroke-width="0.8"><path d="M0 22 1 53 2 55 3 57 4 60 5 40 6 40 7 13 8 50 9 41 10 43 11 29 12 41 13 53 14 44"/><path d="M0 0 1 51 2 54 3 54 4 41 5 46 6 46 7 64 8 32 9 30 10 32 11 27 12 37 13 56 14 46"/></g><g stroke="#555" stroke-opacity="0.1475" stroke-width="0.8"><path d="M0 0 1 83 2 60 3 50 4 41 5 59 6 35 7 75 8 46 9 52 10 76 11 42 12 67 13 60 14 59"/><path d="M0 53 1 60 2 56 3 65 4 50 5 83 6 65 7 63 8 57 9 59 10 64 11 55 12 66 13 57 14 65"/><path d="M0 83 1 29 2 55 3 15 4 56 5 49 6 50 7 57 8 60 9 63 10 40 11 69 12 43 13 68 14 42"/><path d="M0 53 1 67 2 40 3 58 4 47 5 23 6 32 7 41 8 72 9 37 10 23 11 37 12 36 13 62 14 54"/><path d="M0 0 1 87 2 23 3 50 4 31 5 40 6 43 7 59 8 57 9 62 10 39 11 37 12 31 13 53 14 19"/></g><g stroke="#555" stroke-opacity="0.15" stroke-width="0.8"><path d="M0 56 1 50 2 48 3 48 4 60 5 36 6 47 7 45 8 41 9 29 10 54 11 52 12 35 13 60 14 57"/><path d="M0 37 1 70 2 51 3 36 4 40 5 33 6 37 7 26 8 48 9 36 10 28 11 29 12 37 13 40 14 37"/></g></g><g fill="none" stroke-linejoin="round" transform="matrix(7.71 0 0 0.097500 53.1 34.3)"><g stroke="#333" stroke-opacity="0.62" stroke-width="1.0"><path d="M0 0 1 350 2 450 3 420 4 380 5 470 6 520 7 500 8 550 9 470 10 360 11 520 12 570 13 460 14 430"/><path d="M0 1000 1 340 2 420 3 470 4 500 5 440 6 530 7 470 8 800 9 500 10 400 11 500 12 550 13 520 14 450"/><path d="M0 1000 1 745 2 490 3 500 4 530 5 400 6 450 7 550 8 700 9 580 10 470 11 550 12 580 13 500 14 500"/><path d="M0 1000 1 553 2 460 3 550 4 420 5 550 6 440 7 460 8 480 9 450 10 380 11 470 12 500 13 440 14 420"/><path d="M0 550 1 600 2 550 3 620 4 520 5 450 6 560 7 520 8 630 9 550 10 490 11 570 12 530 13 560 14 530"/><path d="M0 500 1 420 2 520 3 480 4 450 5 400 6 500 7 530 8 580 9 450 10 420 11 450 12 480 13 490 14 550"/></g></g><g fill="none" stroke-linejoin="round" transform="matrix(7.98 0 0 -1.930000 53.1 286.3)"><g stroke="#555" stroke-opacity="0.01" stroke-width="0.8"><path d="M0 0 1 1 2 1 3 4 4 9 5 9 6 8 7 7 8 6 9 10 10 10 11 10 12 10 13 12 14 12"/><path d="M0 0 1 4 2 18 3 16 4 12 5 11 6 12 7 11 8 10 9 10 10 11 11 14 12 13 13 12 14 12"/><path d="M0 0 1 38 2 21 3 14 4 20 5 16 6 17 7 19 8 19 9 17 10 18 11 17 12 15 13 15 14 15"/><path d="M0 0 1 5 2 26 3 19 4 19 5 16 6 18 7 16 8 16 9 18 10 18 11 17 12 17 13 17 14 17"/><path d="M0 0 1 50 2 33 3 25 4 22 5 22 6 23 7 23 8 22 9 21 10 19 11 18 12 17 13 19 14 18"/><path d="M0 0 1 1 2 1 3 8 4 6 5 5 6 5 7 6 8 6 9 7 10 8 11 10 12 11 13 10 14 10"/><path d="M0 0 1 8 2 5 3 9 4 9 5 9 6 7 7 7 8 7 9 12 10 14 11 13 12 15 13 16 14 15"/><path d="M0 0 1 0 2 1 3 23 4 27 5 27 6 23 7 20 8 17 9 18 10 18 11 18 12 17 13 16 14 15"/><path d="M0 0 1 5 2 14 3 12 4 16 5 13 6 13 7 12 8 14 9 15 10 16 11 14 12 15 13 15 14 16"/><path d="M0 0 1 6 2 19 3 16 4 12 5 14 6 14 7 15 8 15 9 14 10 14 11 14 12 16 13 17 14 16"/><path d="M0 0 1 0 2 2 3 4 4 6 5 6 6 6 7 7 8 8 9 9 10 10 11 10 12 10 13 11 14 12"/><path d="M0 0 1 32 2 22 3 22 4 20 5 18 6 16 7 14 8 12 9 12 10 15 11 15 12 17 13 17 14 16"/><path d="M0 0 1 0 2 5 3 4 4 4 5 4 6 3 7 3 8 3 9 4 10 5 11 6 12 8 13 8 14 10"/><path d="M0 0 1 20 2 26 3 18 4 17 5 14 6 13 7 12 8 12 9 10 10 10 11 9 12 8 13 12 14 12"/><path d="M0 0 1 3 2 27 3 18 4 20 5 16 6 17 7 19 8 19 9 17 10 17 11 15 12 14 13 13 14 13"/><path d="M0 0 1 32 2 28 3 28 4 21 5 21 6 18 7 19 8 17 9 17 10 16 11 17 12 18 13 17 14 17"/><path d="M0 0 1 0 2 11 3 14 4 12 5 10 6 10 7 9 8 9 9 13 10 11 11 12 12 12 13 11 14 11"/><path d="M0 0 1 0 2 0 3 6 4 5 5 8 6 7 7 8 8 9 9 10 10 10 11 10 12 9 13 9 14 9"/><path d="M0 0 1 50 2 25 3 23 4 17 5 15 6 12 7 11 8 11 9 11 10 12 11 12 12 11 13 11 14 14"/><path d="M0 0 1 33 2 17 3 22 4 18 5 20 6 17 7 18 8 18 9 17 10 19 11 18 12 18 13 17 14 16"/><path d="M0 0 1 23 2 13 3 9 4 14 5 16 6 18 7 15 8 16 9 15 10 15 11 14 12 16 13 16 14 15"/><path d="M0 0 1 18 2 25 3 24 4 19 5 17 6 22 7 20 8 19 9 18 10 19 11 17 12 16 13 18 14 17"/><path d="M0 0 1 10 2 5 3 7 4 6 5 4 6 7 7 9 8 9 9 9 10 12 11 11 12 13 13 14 14 13"/><path d="M0 0 1 3 2 4 3 14 4 11 5 13 6 11 7 10 8 11 9 11 10 10 11 13 12 13 13 13 14 12"/><path d="M0 0 1 3 2 2 3 2 4 2 5 2 6 6 7 5 8 10 9 11 10 10 11 9 12 9 13 9 14 12"/><path d="M0 0 1 14 2 10 3 7 4 14 5 20 6 17 7 20 8 17 9 16 10 14 11 13 12 12 13 11 14 10"/><path d="M0 0 1 1 2 6 3 6 4 6 5 6 6 6 7 7 8 6 9 7 10 6 11 8 12 9 13 8 14 8"/><path d="M0 0 1 9 2 6 3 4 4 6 5 5 6 4 7 6 8 6 9 6 10 7 11 7 12 6 13 8 14 8"/><path d="M0 0 1 1 2 19 3 15 4 11 5 10 6 9 7 11 8 10 9 9 10 9 11 9 12 10 13 10 14 11"/><path d="M0 0 1 1 2 29 3 23 4 22 5 20 6 18 7 16 8 21 9 19 10 17 11 16 12 15 13 14 14 13"/><path d="M0 0 1 16 2 8 3 6 4 7 5 5 6 7 7 6 8 10 9 10 10 10 11 12 12 14 13 13 14 13"/><path d="M0 0 1 21 2 11 3 9 4 7 5 11 6 10 7 10 8 9 9 9 10 11 11 11 12 11 13 10 14 9"/><path d="M0 0 1 12 2 8 3 8 4 13 5 15 6 13 7 12 8 11 9 10 10 12 11 11 12 11 13 10 14 10"/><path d="M0 0 1 2 2 1 3 23 4 27 5 25 6 21 7 23 8 23 9 21 10 19 11 19 12 18 13 17 14 17"/><path d="M0 0 1 3 2 27 3 22 4 17 5 13 6 11 7 11 8 15 9 14 10 13 11 12 12 12 13 11 14 10"/><path d="M0 0 1 35 2 18 3 12 4 16 5 17 6 17 7 20 8 20 9 19 10 20 11 20 12 19 13 19 14 19"/><path d="M0 0 1 29 2 20 3 19 4 17 5 17 6 20 7 19 8 21 9 19 10 19 11 19 12 18 13 18 14 19"/><path d="M0 0 1 0 2 3 3 2 4 7 5 6 6 8 7 12 8 10 9 11 10 12 11 12 12 11 13 12 14 11"/><path d="M0 0 1 50 2 33 3 24 4 21 5 19 6 21 7 22 8 22 9 22 10 20 11 21 12 21 13 21 14 21"/><path d="M0 0 1 1 2 0 3 0 4 6 5 5 6 4 7 5 8 5 9 4 10 7 11 6 12 7 13 7 14 9"/></g><g stroke="#555" stroke-opacity="0.0125" stroke-width="0.8"><path d="M0 0 1 19 2 10 3 17 4 18 5 16 6 15 7 16 8 17 9 18 10 18 11 18 12 19 13 19 14 18"/><path d="M0 0 1 2 2 6 3 4 4 9 5 15 6 17 7 18 8 16 9 17 10 17 11 18 12 19 13 19 14 20"/><path d="M0 0 1 30 2 15 3 10 4 14 5 11 6 14 7 12 8 13 9 14 10 16 11 16 12 17 13 18 14 19"/><path d="M0 0 1 3 2 2 3 22 4 19 5 24 6 26 7 22 8 21 9 19 10 18 11 17 12 17 13 16 14 17"/><path d="M0 0 1 12 2 8 3 5 4 4 5 15 6 14 7 14 8 17 9 19 10 19 11 18 12 17 13 16 14 16"/><path d="M0 0 1 3 2 10 3 7 4 11 5 11 6 10 7 9 8 13 9 12 10 14 11 15 12 14 13 13 14 12"/><path d="M0 0 1 2 2 20 3 19 4 15 5 12 6 12 7 11 8 10 9 15 10 14 11 18 12 16 13 17 14 19"/><path d="M0 0 1 9 2 11 3 9 4 11 5 14 6 11 7 11 8 10 9 10 10 11 11 10 12 9 13 9 14 9"/><path d="M0 0 1 2 2 7 3 19 4 21 5 17 6 17 7 16 8 15 9 16 10 18 11 16 12 15 13 15 14 14"/><path d="M0 0 1 50 2 33 3 33 4 26 5 25 6 22 7 19 8 17 9 16 10 19 11 20 12 20 13 19 14 17"/><path d="M0 0 1 13 2 9 3 8 4 6 5 14 6 15 7 15 8 13 9 15 10 16 11 14 12 15 13 15 14 14"/><path d="M0 0 1 14 2 10 3 17 4 13 5 12 6 10 7 11 8 11 9 10 10 12 11 13 12 12 13 12 14 11"/><path d="M0 0 1 0 2 33 3 33 4 30 5 25 6 23 7 23 8 22 9 23 10 22 11 21 12 21 13 20 14 19"/><path d="M0 0 1 5 2 5 3 4 4 4 5 8 6 12 7 14 8 15 9 13 10 12 11 12 12 12 13 11 14 11"/><path d="M0 0 1 1 2 5 3 3 4 4 5 5 6 4 7 7 8 9 9 11 10 10 11 11 12 12 13 13 14 14"/><path d="M0 0 1 0 2 4 3 22 4 25 5 22 6 20 7 17 8 15 9 16 10 17 11 18 12 19 13 19 14 18"/><path d="M0 0 1 5 2 9 3 8 4 18 5 21 6 17 7 18 8 17 9 16 10 16 11 15 12 14 13 14 14 16"/><path d="M0 0 1 1 2 3 3 20 4 19 5 19 6 21 7 20 8 18 9 17 10 15 11 16 12 15 13 14 14 14"/><path d="M0 0 1 5 2 3 3 5 4 9 5 9 6 10 7 11 8 11 9 14 10 13 11 13 12 12 13 11 14 11"/><path d="M0 0 1 50 2 25 3 17 4 13 5 14 6 12 7 10 8 9 9 8 10 7 11 7 12 7 13 9 14 8"/><path d="M0 0 1 28 2 19 3 15 4 14 5 12 6 14 7 16 8 15 9 14 10 14 11 14 12 14 13 14 14 15"/><path d="M0 0 1 0 2 0 3 2 4 5 5 11 6 11 7 12 8 11 9 13 10 13 11 14 12 13 13 12 14 13"/><path d="M0 0 1 50 2 28 3 23 4 19 5 18 6 16 7 19 8 18 9 20 10 20 11 19 12 18 13 17 14 19"/><path d="M0 0 1 7 2 19 3 20 4 18 5 17 6 14 7 16 8 15 9 14 10 13 11 16 12 16 13 16 14 18"/><path d="M0 0 1 12 2 8 3 7 4 5 5 14 6 13 7 13 8 11 9 10 10 9 11 10 12 9 13 8 14 8"/><path d="M0 0 1 0 2 22 3 20 4 24 5 20 6 17 7 16 8 17 9 18 10 18 11 16 12 18 13 17 14 17"/><path d="M0 0 1 4 2 19 3 16 4 23 5 24 6 23 7 23 8 21 9 20 10 21 11 19 12 18 13 18 14 18"/><path d="M0 0 1 14 2 9 3 23 4 17 5 16 6 15 7 15 8 15 9 18 10 16 11 16 12 15 13 16 14 16"/><path d="M0 0 1 4 2 10 3 14 4 11 5 12 6 15 7 14 8 16 9 17 10 16 11 17 12 18 13 18 14 17"/><path d="M0 0 1 5 2 26 3 18 4 14 5 11 6 11 7 16 8 14 9 16 10 16 11 18 12 18 13 19 14 19"/><path d="M0 0 1 0 2 3 3 11 4 8 5 11 6 10 7 8 8 10 9 11 10 10 11 12 12 13 13 12 14 12"/><path d="M0 0 1 34 2 24 3 16 4 12 5 11 6 13 7 12 8 15 9 13 10 12 11 13 12 13 13 12 14 11"/><path d="M0 0 1 15 2 18 3 12 4 13 5 13 6 17 7 15 8 14 9 13 10 12 11 12 12 11 13 12 14 11"/><path d="M0 0 1 4 2 9 3 8 4 18 5 21 6 18 7 15 8 16 9 16 10 15 11 18 12 19 13 20 14 18"/><path d="M0 0 1 23 2 12 3 13 4 10 5 12 6 10 7 10 8 13 9 13 10 13 11 11 12 10 13 12 14 13"/><path d="M0 0 1 40 2 24 3 18 4 18 5 16 6 13 7 12 8 10 9 10 10 11 11 10 12 10 13 9 14 11"/><path d="M0 0 1 0 2 8 3 5 4 13 5 13 6 11 7 10 8 10 9 9 10 11 11 11 12 11 13 11 14 11"/><path d="M0 0 1 11 2 10 3 8 4 19 5 23 6 20 7 20 8 19 9 21 10 19 11 18 12 16 13 15 14 17"/><path d="M0 0 1 15 2 8 3 11 4 11 5 11 6 11 7 11 8 14 9 16 10 16 11 16 12 15 13 16 14 17"/><path d="M0 0 1 2 2 7 3 7 4 5 5 14 6 12 7 11 8 11 9 15 10 16 11 17 12 18 13 19 14 17"/><path d="M0 0 1 24 2 12 3 15 4 16 5 19 6 16 7 17 8 15 9 16 10 17 11 17 12 18 13 18 14 19"/><path d="M0 0 1 50 2 33 3 22 4 25 5 24 6 22 7 20 8 19 9 17 10 15 11 14 12 14 13 14 14 13"/><path d="M0 0 1 0 2 0 3 0 4 8 5 7 6 6 7 5 8 6 9 6 10 5 11 5 12 10 13 11 14 14"/><path d="M0 0 1 0 2 33 3 22 4 17 5 15 6 16 7 19 8 17 9 19 10 20 11 20 12 20 13 19 14 20"/><path d="M0 0 1 0 2 33 3 33 4 30 5 27 6 24 7 27 8 25 9 22 10 20 11 21 12 21 13 22 14 21"/><path d="M0 0 1 21 2 11 3 13 4 10 5 10 6 11 7 10 8 11 9 10 10 9 11 10 12 9 13 9 14 11"/><path d="M0 0 1 0 2 9 3 8 4 8 5 11 6 9 7 8 8 11 9 10 10 11 11 11 12 10 13 9 14 9"/><path d="M0 0 1 23 2 13 3 17 4 17 5 16 6 13 7 12 8 14 9 15 10 16 11 17 12 16 13 15 14 15"/><path d="M0 0 1 14 2 18 3 12 4 11 5 12 6 13 7 11 8 10 9 10 10 10 11 12 12 12 13 12 14 13"/><path d="M0 0 1 5 2 3 3 2 4 11 5 13 6 11 7 14 8 16 9 15 10 14 11 15 12 15 13 16 14 17"/><path d="M0 0 1 0 2 0 3 2 4 19 5 21 6 20 7 17 8 20 9 19 10 18 11 17 12 19 13 19 14 17"/><path d="M0 0 1 0 2 20 3 27 4 21 5 21 6 20 7 19 8 22 9 21 10 19 11 18 12 17 13 16 14 17"/><path d="M0 0 1 40 2 21 3 24 4 21 5 19 6 16 7 16 8 14 9 13 10 13 11 13 12 11 13 13 14 14"/><path d="M0 0 1 50 2 26 3 22 4 17 5 14 6 12 7 11 8 16 9 15 10 14 11 13 12 14 13 14 14 13"/><path d="M0 0 1 15 2 8 3 17 4 16 5 13 6 11 7 14 8 13 9 14 10 13 11 12 12 13 13 12 14 13"/><path d="M0 0 1 0 2 0 3 25 4 19 5 15 6 13 7 12 8 12 9 11 10 10 11 15 12 14 13 13 14 17"/><path d="M0 0 1 0 2 4 3 10 4 7 5 8 6 8 7 7 8 8 9 7 10 6 11 6 12 5 13 5 14 5"/><path d="M0 0 1 1 2 12 3 12 4 19 5 18 6 21 7 22 8 19 9 17 10 17 11 17 12 16 13 16 14 16"/><path d="M0 0 1 0 2 0 3 25 4 19 5 18 6 17 7 15 8 16 9 18 10 17 11 16 12 17 13 15 14 15"/></g><g stroke="#555" stroke-opacity="0.015" stroke-width="0.8"><path d="M0 0 1 3 2 27 3 21 4 21 5 19 6 16 7 15 8 19 9 19 10 18 11 17 12 16 13 15 14 14"/><path d="M0 0 1 4 2 12 3 12 4 9 5 11 6 10 7 10 8 11 9 9 10 11 11 10 12 10 13 9 14 9"/><path d="M0 0 1 5 2 9 3 6 4 5 5 12 6 14 7 15 8 17 9 16 10 15 11 15 12 14 13 13 14 13"/><path d="M0 0 1 8 2 25 3 22 4 25 5 20 6 21 7 18 8 19 9 19 10 18 11 16 12 18 13 19 14 19"/><path d="M0 0 1 23 2 26 3 22 4 17 5 15 6 21 7 21 8 20 9 20 10 18 11 19 12 18 13 18 14 18"/><path d="M0 0 1 4 2 26 3 26 4 24 5 23 6 22 7 19 8 20 9 21 10 21 11 21 12 20 13 19 14 19"/><path d="M0 0 1 3 2 2 3 4 4 3 5 2 6 4 7 4 8 4 9 5 10 4 11 4 12 4 13 4 14 4"/><path d="M0 0 1 50 2 33 3 25 4 30 5 24 6 22 7 22 8 19 9 20 10 21 11 19 12 20 13 20 14 20"/><path d="M0 0 1 5 2 4 3 7 4 6 5 5 6 5 7 13 8 17 9 17 10 15 11 15 12 16 13 16 14 17"/><path d="M0 0 1 0 2 26 3 26 4 23 5 23 6 19 7 17 8 19 9 19 10 17 11 18 12 17 13 17 14 18"/><path d="M0 0 1 50 2 25 3 23 4 20 5 20 6 23 7 19 8 17 9 16 10 14 11 14 12 14 13 14 14 14"/><path d="M0 0 1 2 2 6 3 6 4 6 5 6 6 5 7 4 8 5 9 6 10 6 11 6 12 9 13 11 14 11"/><path d="M0 0 1 2 2 10 3 7 4 6 5 4 6 4 7 6 8 8 9 8 10 10 11 9 12 9 13 11 14 10"/><path d="M0 0 1 0 2 0 3 1 4 1 5 5 6 15 7 13 8 19 9 17 10 17 11 20 12 19 13 21 14 20"/><path d="M0 0 1 3 2 20 3 17 4 13 5 11 6 14 7 15 8 14 9 14 10 13 11 13 12 12 13 11 14 11"/><path d="M0 0 1 33 2 17 3 16 4 14 5 17 6 18 7 16 8 15 9 17 10 17 11 17 12 17 13 16 14 15"/><path d="M0 0 1 31 2 21 3 16 4 13 5 10 6 9 7 16 8 15 9 18 10 16 11 18 12 17 13 17 14 17"/><path d="M0 0 1 1 2 30 3 20 4 17 5 14 6 12 7 11 8 10 9 10 10 9 11 12 12 11 13 10 14 10"/><path d="M0 0 1 14 2 25 3 23 4 19 5 15 6 19 7 17 8 16 9 17 10 18 11 16 12 17 13 18 14 17"/><path d="M0 0 1 50 2 33 3 33 4 30 5 27 6 23 7 20 8 18 9 21 10 22 11 21 12 22 13 22 14 22"/><path d="M0 0 1 2 2 13 3 9 4 7 5 6 6 5 7 5 8 8 9 7 10 7 11 7 12 6 13 6 14 7"/><path d="M0 0 1 1 2 6 3 20 4 22 5 22 6 20 7 18 8 19 9 20 10 21 11 20 12 20 13 21 14 19"/><path d="M0 0 1 21 2 18 3 12 4 13 5 10 6 14 7 13 8 12 9 11 10 11 11 12 12 12 13 11 14 12"/><path d="M0 0 1 9 2 6 3 6 4 8 5 14 6 14 7 13 8 16 9 15 10 13 11 13 12 13 13 13 14 14"/><path d="M0 0 1 3 2 27 3 27 4 26 5 22 6 21 7 19 8 19 9 21 10 22 11 20 12 20 13 19 14 19"/><path d="M0 0 1 23 2 11 3 18 4 19 5 15 6 13 7 13 8 12 9 12 10 12 11 12 12 11 13 14 14 17"/><path d="M0 0 1 12 2 13 3 9 4 7 5 11 6 10 7 9 8 9 9 8 10 7 11 7 12 7 13 7 14 6"/><path d="M0 0 1 2 2 28 3 28 4 27 5 25 6 21 7 18 8 17 9 16 10 15 11 14 12 14 13 14 14 13"/><path d="M0 0 1 50 2 33 3 25 4 20 5 17 6 14 7 12 8 19 9 18 10 16 11 20 12 19 13 21 14 19"/><path d="M0 0 1 50 2 25 3 18 4 14 5 12 6 10 7 11 8 10 9 13 10 13 11 12 12 14 13 13 14 12"/><path d="M0 0 1 2 2 1 3 3 4 11 5 13 6 11 7 11 8 10 9 14 10 13 11 13 12 12 13 15 14 14"/><path d="M0 0 1 34 2 19 3 13 4 9 5 12 6 15 7 16 8 16 9 18 10 17 11 16 12 16 13 17 14 17"/><path d="M0 0 1 1 2 30 3 23 4 17 5 18 6 15 7 13 8 12 9 12 10 15 11 16 12 17 13 18 14 18"/><path d="M0 0 1 3 2 6 3 4 4 5 5 4 6 8 7 8 8 9 9 10 10 10 11 10 12 10 13 11 14 12"/><path d="M0 0 1 6 2 9 3 7 4 6 5 12 6 14 7 15 8 13 9 16 10 17 11 15 12 15 13 14 14 15"/><path d="M0 0 1 9 2 25 3 22 4 18 5 17 6 14 7 13 8 16 9 15 10 14 11 14 12 14 13 13 14 14"/><path d="M0 0 1 2 2 7 3 6 4 4 5 7 6 8 7 7 8 8 9 11 10 10 11 11 12 13 13 14 14 13"/><path d="M0 0 1 0 2 0 3 2 4 1 5 2 6 3 7 3 8 5 9 4 10 4 11 4 12 3 13 6 14 7"/><path d="M0 0 1 0 2 26 3 30 4 28 5 24 6 21 7 21 8 22 9 20 10 20 11 21 12 19 13 19 14 19"/><path d="M0 0 1 14 2 19 3 17 4 22 5 19 6 20 7 19 8 17 9 18 10 16 11 17 12 16 13 15 14 14"/><path d="M0 0 1 8 2 4 3 6 4 6 5 6 6 5 7 6 8 7 9 8 10 8 11 7 12 7 13 8 14 10"/><path d="M0 0 1 0 2 1 3 5 4 4 5 3 6 9 7 8 8 7 9 8 10 10 11 10 12 11 13 11 14 11"/><path d="M0 0 1 1 2 8 3 8 4 6 5 6 6 6 7 13 8 12 9 12 10 11 11 15 12 14 13 15 14 14"/><path d="M0 0 1 1 2 1 3 23 4 27 5 25 6 21 7 20 8 20 9 17 10 17 11 19 12 21 13 21 14 20"/><path d="M0 0 1 15 2 10 3 7 4 14 5 14 6 13 7 14 8 13 9 13 10 12 11 15 12 14 13 14 14 13"/><path d="M0 0 1 3 2 4 3 4 4 9 5 12 6 10 7 9 8 10 9 9 10 12 11 12 12 12 13 12 14 11"/><path d="M0 0 1 7 2 15 3 13 4 10 5 8 6 9 7 8 8 7 9 7 10 6 11 6 12 7 13 7 14 7"/><path d="M0 0 1 3 2 13 3 10 4 8 5 10 6 13 7 12 8 13 9 11 10 10 11 10 12 9 13 9 14 9"/><path d="M0 0 1 30 2 15 3 10 4 11 5 9 6 8 7 8 8 13 9 13 10 14 11 13 12 12 13 11 14 12"/><path d="M0 0 1 50 2 27 3 18 4 15 5 19 6 20 7 20 8 19 9 17 10 16 11 14 12 14 13 13 14 13"/><path d="M0 0 1 50 2 25 3 20 4 21 5 22 6 22 7 19 8 19 9 20 10 19 11 20 12 20 13 20 14 19"/><path d="M0 0 1 16 2 10 3 7 4 7 5 8 6 7 7 7 8 6 9 6 10 6 11 10 12 13 13 13 14 12"/><path d="M0 0 1 4 2 4 3 5 4 5 5 8 6 8 7 11 8 14 9 14 10 15 11 14 12 14 13 13 14 13"/><path d="M0 0 1 21 2 12 3 12 4 9 5 9 6 11 7 10 8 13 9 12 10 12 11 14 12 13 13 14 14 13"/><path d="M0 0 1 13 2 7 3 5 4 6 5 10 6 9 7 10 8 10 9 9 10 10 11 9 12 12 13 11 14 12"/><path d="M0 0 1 50 2 33 3 25 4 22 5 21 6 23 7 20 8 20 9 18 10 16 11 17 12 18 13 16 14 17"/><path d="M0 0 1 32 2 16 3 12 4 10 5 9 6 12 7 14 8 12 9 14 10 15 11 15 12 15 13 16 14 16"/><path d="M0 0 1 2 2 2 3 7 4 5 5 5 6 10 7 10 8 12 9 10 10 10 11 11 12 11 13 12 14 12"/><path d="M0 0 1 0 2 1 3 8 4 8 5 7 6 9 7 10 8 10 9 9 10 8 11 11 12 11 13 14 14 13"/><path d="M0 0 1 30 2 28 3 20 4 17 5 17 6 16 7 14 8 12 9 12 10 13 11 13 12 12 13 14 14 14"/><path d="M0 0 1 50 2 33 3 25 4 20 5 27 6 29 7 27 8 24 9 23 10 22 11 24 12 23 13 21 14 20"/><path d="M0 0 1 19 2 18 3 18 4 15 5 16 6 13 7 11 8 13 9 13 10 12 11 12 12 12 13 11 14 11"/><path d="M0 0 1 9 2 6 3 22 4 20 5 20 6 17 7 14 8 15 9 14 10 15 11 15 12 14 13 13 14 15"/><path d="M0 0 1 4 2 12 3 19 4 20 5 18 6 19 7 16 8 18 9 16 10 15 11 14 12 13 13 14 14 14"/><path d="M0 0 1 4 2 8 3 6 4 5 5 4 6 11 7 15 8 17 9 16 10 16 11 15 12 14 13 14 14 13"/><path d="M0 0 1 50 2 25 3 22 4 17 5 16 6 15 7 14 8 13 9 14 10 13 11 12 12 11 13 12 14 11"/><path d="M0 0 1 8 2 25 3 17 4 13 5 15 6 15 7 14 8 12 9 14 10 13 11 14 12 15 13 14 14 13"/><path d="M0 0 1 18 2 12 3 9 4 7 5 6 6 11 7 9 8 10 9 12 10 11 11 11 12 10 13 11 14 10"/><path d="M0 0 1 14 2 9 3 7 4 18 5 17 6 14 7 15 8 17 9 16 10 18 11 16 12 17 13 17 14 17"/><path d="M0 0 1 0 2 33 3 25 4 20 5 16 6 21 7 22 8 21 9 21 10 22 11 21 12 20 13 20 14 21"/><path d="M0 0 1 5 2 4 3 4 4 4 5 8 6 8 7 8 8 11 9 11 10 11 11 13 12 13 13 13 14 12"/><path d="M0 0 1 6 2 7 3 13 4 13 5 13 6 11 7 10 8 9 9 14 10 17 11 16 12 16 13 15 14 14"/><path d="M0 0 1 1 2 2 3 3 4 4 5 6 6 5 7 10 8 10 9 11 10 12 11 11 12 11 13 10 14 9"/><path d="M0 0 1 8 2 25 3 18 4 13 5 11 6 11 7 14 8 12 9 13 10 14 11 14 12 14 13 14 14 13"/><path d="M0 0 1 8 2 5 3 13 4 12 5 10 6 18 7 16 8 15 9 19 10 18 11 17 12 16 13 19 14 18"/><path d="M0 0 1 1 2 1 3 17 4 21 5 21 6 22 7 22 8 21 9 20 10 19 11 19 12 17 13 20 14 21"/><path d="M0 0 1 0 2 18 3 13 4 13 5 13 6 18 7 17 8 15 9 15 10 17 11 18 12 19 13 20 14 19"/><path d="M0 0 1 22 2 21 3 20 4 23 5 22 6 24 7 23 8 24 9 22 10 22 11 20 12 18 13 18 14 17"/><path d="M0 0 1 6 2 9 3 19 4 18 5 16 6 15 7 17 8 17 9 15 10 17 11 18 12 18 13 18 14 19"/><path d="M0 0 1 5 2 3 3 5 4 4 5 3 6 3 7 2 8 2 9 3 10 4 11 4 12 4 13 4 14 4"/><path d="M0 0 1 4 2 3 3 2 4 3 5 2 6 2 7 3 8 2 9 2 10 4 11 4 12 4 13 4 14 5"/><path d="M0 0 1 0 2 0 3 0 4 0 5 0 6 0 7 1 8 1 9 3 10 3 11 2 12 2 13 2 14 2"/><path d="M0 0 1 1 2 5 3 7 4 6 5 6 6 6 7 6 8 6 9 5 10 5 11 4 12 4 13 4 14 4"/><path d="M0 0 1 26 2 13 3 9 4 7 5 5 6 5 7 5 8 5 9 5 10 5 11 5 12 5 13 5 14 4"/><path d="M0 0 1 15 2 13 3 9 4 9 5 7 6 6 7 6 8 5 9 4 10 4 11 4 12 4 13 4 14 4"/><path d="M0 0 1 9 2 6 3 5 4 5 5 4 6 3 7 4 8 4 9 4 10 4 11 4 12 4 13 4 14 4"/><path d="M0 0 1 7 2 4 3 5 4 4 5 6 6 7 7 6 8 6 9 5 10 7 11 7 12 6 13 6 14 6"/><path d="M0 0 1 0 2 1 3 1 4 3 5 3 6 4 7 3 8 3 9 3 10 2 11 3 12 3 13 3 14 2"/><path d="M0 0 1 3 2 2 3 1 4 4 5 5 6 4 7 4 8 4 9 4 10 5 11 5 12 6 13 6 14 6"/><path d="M0 0 1 1 2 2 3 8 4 6 5 5 6 4 7 3 8 4 9 4 10 3 11 3 12 3 13 3 14 3"/><path d="M0 0 1 16 2 8 3 5 4 4 5 3 6 3 7 3 8 3 9 3 10 2 11 2 12 3 13 3 14 3"/><path d="M0 0 1 1 2 1 3 4 4 4 5 4 6 4 7 3 8 5 9 4 10 5 11 5 12 4 13 4 14 4"/><path d="M0 0 1 1 2 2 3 1 4 1 5 1 6 1 7 1 8 3 9 3 10 3 11 4 12 5 13 5 14 4"/><path d="M0 0 1 1 2 2 3 2 4 2 5 1 6 1 7 1 8 2 9 2 10 2 11 2 12 2 13 2 14 2"/><path d="M0 0 1 1 2 2 3 1 4 2 5 1 6 1 7 1 8 1 9 1 10 1 11 2 12 2 13 1 14 1"/><path d="M0 0 1 1 2 0 3 2 4 1 5 1 6 3 7 3 8 3 9 2 10 2 11 5 12 4 13 4 14 4"/><path d="M0 0 1 1 2 1 3 3 4 2 5 3 6 2 7 2 8 3 9 3 10 3 11 3 12 3 13 3 14 3"/><path d="M0 0 1 15 2 8 3 5 4 4 5 5 6 4 7 4 8 4 9 5 10 5 11 5 12 4 13 5 14 4"/><path d="M0 0 1 2 2 1 3 1 4 1 5 2 6 1 7 2 8 2 9 2 10 2 11 1 12 2 13 2 14 2"/><path d="M0 0 1 7 2 3 3 2 4 2 5 2 6 3 7 4 8 4 9 4 10 4 11 4 12 5 13 4 14 5"/><path d="M0 0 1 3 2 1 3 1 4 2 5 2 6 2 7 3 8 2 9 2 10 2 11 2 12 2 13 2 14 2"/><path d="M0 0 1 14 2 7 3 5 4 4 5 4 6 3 7 3 8 4 9 3 10 3 11 3 12 3 13 3 14 3"/><path d="M0 0 1 2 2 2 3 3 4 2 5 2 6 2 7 3 8 3 9 3 10 3 11 2 12 2 13 2 14 2"/><path d="M0 0 1 0 2 0 3 1 4 1 5 2 6 2 7 1 8 1 9 1 10 2 11 2 12 1 13 1 14 2"/><path d="M0 0 1 0 2 1 3 2 4 4 5 6 6 6 7 6 8 5 9 5 10 4 11 4 12 4 13 5 14 5"/><path d="M0 0 1 3 2 2 3 1 4 2 5 2 6 2 7 4 8 3 9 3 10 3 11 4 12 4 13 4 14 4"/><path d="M0 0 1 0 2 0 3 9 4 7 5 6 6 5 7 5 8 4 9 5 10 4 11 4 12 4 13 4 14 4"/><path d="M0 0 1 5 2 26 3 22 4 20 5 17 6 15 7 14 8 13 9 12 10 11 11 11 12 10 13 9 14 9"/><path d="M0 0 1 12 2 7 3 6 4 4 5 4 6 4 7 3 8 3 9 3 10 3 11 3 12 3 13 2 14 2"/><path d="M0 0 1 8 2 4 3 6 4 5 5 8 6 7 7 6 8 6 9 5 10 5 11 5 12 4 13 5 14 4"/><path d="M0 0 1 28 2 17 3 12 4 10 5 8 6 7 7 6 8 6 9 5 10 4 11 4 12 5 13 5 14 5"/><path d="M0 0 1 0 2 2 3 2 4 2 5 1 6 2 7 2 8 2 9 2 10 2 11 2 12 2 13 2 14 2"/><path d="M0 0 1 4 2 3 3 3 4 2 5 5 6 5 7 5 8 7 9 6 10 6 11 6 12 5 13 5 14 5"/><path d="M0 0 1 0 2 0 3 0 4 0 5 3 6 2 7 2 8 3 9 3 10 3 11 3 12 3 13 2 14 3"/></g><g stroke="#555" stroke-opacity="0.0175" stroke-width="0.8"><path d="M0 0 1 0 2 1 3 3 4 4 5 4 6 4 7 5 8 5 9 5 10 6 11 6 12 6 13 6 14 5"/><path d="M0 0 1 25 2 13 3 8 4 9 5 16 6 13 7 12 8 12 9 15 10 15 11 16 12 17 13 16 14 15"/><path d="M0 0 1 4 2 26 3 18 4 17 5 14 6 13 7 12 8 14 9 12 10 12 11 11 12 10 13 11 14 10"/><path d="M0 0 1 1 2 1 3 5 4 4 5 12 6 10 7 11 8 14 9 14 10 15 11 16 12 16 13 15 14 16"/><path d="M0 0 1 1 2 9 3 13 4 13 5 11 6 11 7 13 8 13 9 13 10 12 11 12 12 14 13 13 14 12"/><path d="M0 0 1 8 2 8 3 13 4 10 5 8 6 9 7 10 8 12 9 11 10 10 11 11 12 13 13 13 14 13"/><path d="M0 0 1 0 2 0 3 0 4 2 5 5 6 6 7 8 8 7 9 8 10 11 11 13 12 13 13 14 14 14"/><path d="M0 0 1 0 2 0 3 1 4 2 5 8 6 7 7 8 8 7 9 9 10 9 11 8 12 9 13 10 14 9"/><path d="M0 0 1 8 2 5 3 4 4 12 5 11 6 9 7 9 8 9 9 11 10 13 11 14 12 13 13 13 14 12"/><path d="M0 0 1 5 2 4 3 9 4 11 5 14 6 12 7 12 8 11 9 12 10 11 11 13 12 12 13 11 14 12"/><path d="M0 0 1 29 2 16 3 12 4 9 5 7 6 9 7 12 8 13 9 13 10 12 11 13 12 12 13 11 14 10"/><path d="M0 0 1 4 2 5 3 12 4 10 5 8 6 7 7 10 8 11 9 10 10 9 11 11 12 10 13 9 14 9"/><path d="M0 0 1 3 2 12 3 11 4 13 5 11 6 10 7 13 8 15 9 15 10 14 11 16 12 16 13 15 14 16"/><path d="M0 0 1 3 2 2 3 2 4 11 5 10 6 12 7 10 8 13 9 12 10 12 11 13 12 12 13 11 14 12"/><path d="M0 0 1 8 2 25 3 24 4 21 5 25 6 21 7 20 8 22 9 20 10 19 11 18 12 20 13 20 14 20"/><path d="M0 0 1 8 2 25 3 22 4 17 5 17 6 15 7 13 8 14 9 15 10 14 11 14 12 14 13 13 14 13"/><path d="M0 0 1 10 2 8 3 15 4 14 5 12 6 13 7 12 8 11 9 10 10 12 11 13 12 12 13 13 14 12"/><path d="M0 0 1 50 2 33 3 23 4 19 5 16 6 14 7 12 8 12 9 14 10 13 11 16 12 15 13 17 14 17"/><path d="M0 0 1 24 2 16 3 22 4 23 5 19 6 17 7 15 8 16 9 16 10 16 11 16 12 17 13 16 14 15"/><path d="M0 0 1 12 2 7 3 5 4 3 5 3 6 9 7 9 8 10 9 10 10 10 11 11 12 11 13 10 14 11"/><path d="M0 0 1 6 2 26 3 25 4 19 5 17 6 15 7 16 8 15 9 13 10 13 11 12 12 11 13 10 14 11"/><path d="M0 0 1 3 2 2 3 22 4 19 5 15 6 16 7 14 8 13 9 13 10 16 11 16 12 16 13 18 14 17"/><path d="M0 0 1 2 2 10 3 7 4 14 5 12 6 10 7 11 8 12 9 13 10 12 11 11 12 12 13 13 14 13"/><path d="M0 0 1 2 2 7 3 11 4 10 5 8 6 7 7 8 8 10 9 9 10 9 11 9 12 10 13 10 14 9"/><path d="M0 0 1 13 2 25 3 23 4 20 5 17 6 22 7 21 8 21 9 21 10 20 11 20 12 21 13 22 14 21"/><path d="M0 0 1 10 2 18 3 14 4 13 5 12 6 11 7 9 8 9 9 8 10 8 11 7 12 9 13 9 14 12"/><path d="M0 0 1 8 2 7 3 5 4 5 5 6 6 9 7 8 8 10 9 12 10 13 11 13 12 14 13 13 14 12"/><path d="M0 0 1 17 2 25 3 18 4 15 5 19 6 16 7 14 8 14 9 15 10 16 11 15 12 16 13 17 14 17"/><path d="M0 0 1 4 2 11 3 10 4 19 5 19 6 16 7 17 8 15 9 17 10 17 11 17 12 16 13 16 14 16"/><path d="M0 0 1 32 2 22 3 16 4 15 5 15 6 13 7 11 8 14 9 15 10 15 11 14 12 16 13 15 14 14"/><path d="M0 0 1 13 2 7 3 7 4 15 5 17 6 18 7 18 8 18 9 20 10 18 11 18 12 17 13 18 14 18"/><path d="M0 0 1 2 2 16 3 12 4 13 5 11 6 12 7 15 8 16 9 15 10 15 11 14 12 15 13 15 14 15"/><path d="M0 0 1 11 2 6 3 6 4 5 5 13 6 11 7 11 8 12 9 12 10 11 11 14 12 14 13 13 14 13"/><path d="M0 0 1 5 2 13 3 9 4 15 5 13 6 12 7 12 8 11 9 11 10 10 11 11 12 11 13 12 14 11"/><path d="M0 0 1 22 2 18 3 24 4 20 5 20 6 20 7 19 8 17 9 15 10 14 11 14 12 13 13 16 14 16"/><path d="M0 0 1 5 2 4 3 13 4 10 5 8 6 8 7 7 8 8 9 9 10 8 11 8 12 10 13 10 14 10"/><path d="M0 0 1 14 2 7 3 7 4 12 5 12 6 11 7 15 8 17 9 16 10 17 11 17 12 16 13 16 14 14"/><path d="M0 0 1 26 2 21 3 25 4 24 5 22 6 19 7 17 8 15 9 14 10 14 11 14 12 13 13 12 14 12"/><path d="M0 0 1 0 2 0 3 25 4 22 5 25 6 25 7 25 8 25 9 25 10 25 11 23 12 23 13 23 14 23"/><path d="M0 0 1 50 2 33 3 25 4 19 5 19 6 16 7 19 8 16 9 17 10 17 11 17 12 17 13 15 14 15"/><path d="M0 0 1 3 2 4 3 4 4 15 5 14 6 15 7 13 8 12 9 11 10 11 11 14 12 13 13 12 14 13"/><path d="M0 0 1 8 2 4 3 4 4 4 5 4 6 6 7 8 8 9 9 8 10 9 11 11 12 10 13 10 14 10"/><path d="M0 0 1 12 2 6 3 7 4 7 5 6 6 6 7 9 8 12 9 14 10 14 11 15 12 14 13 13 14 14"/><path d="M0 0 1 1 2 23 3 16 4 18 5 18 6 17 7 20 8 18 9 16 10 15 11 14 12 15 13 16 14 15"/><path d="M0 0 1 20 2 13 3 12 4 12 5 12 6 15 7 14 8 15 9 16 10 15 11 14 12 13 13 13 14 12"/><path d="M0 0 1 14 2 7 3 6 4 4 5 5 6 5 7 5 8 5 9 5 10 5 11 5 12 5 13 6 14 5"/><path d="M0 0 1 1 2 29 3 20 4 17 5 16 6 20 7 19 8 17 9 16 10 14 11 14 12 13 13 13 14 12"/><path d="M0 0 1 10 2 7 3 10 4 7 5 10 6 9 7 8 8 8 9 8 10 8 11 10 12 9 13 9 14 9"/><path d="M0 0 1 8 2 16 3 20 4 15 5 15 6 13 7 12 8 12 9 11 10 10 11 10 12 9 13 8 14 8"/><path d="M0 0 1 7 2 11 3 14 4 18 5 16 6 16 7 14 8 14 9 13 10 16 11 19 12 18 13 20 14 18"/><path d="M0 0 1 31 2 21 3 14 4 13 5 12 6 11 7 11 8 11 9 15 10 18 11 17 12 17 13 18 14 18"/><path d="M0 0 1 0 2 0 3 0 4 0 5 0 6 14 7 21 8 21 9 18 10 17 11 16 12 19 13 21 14 20"/><path d="M0 0 1 1 2 5 3 13 4 10 5 10 6 9 7 8 8 10 9 9 10 9 11 8 12 9 13 10 14 10"/><path d="M0 0 1 0 2 11 3 24 4 18 5 14 6 14 7 13 8 17 9 17 10 17 11 19 12 18 13 17 14 16"/><path d="M0 0 1 50 2 33 3 22 4 17 5 14 6 13 7 12 8 11 9 11 10 14 11 14 12 16 13 16 14 15"/><path d="M0 0 1 19 2 10 3 8 4 19 5 17 6 14 7 18 8 20 9 21 10 21 11 21 12 21 13 22 14 20"/><path d="M0 0 1 4 2 3 3 2 4 8 5 10 6 9 7 12 8 12 9 11 10 10 11 9 12 11 13 12 14 11"/><path d="M0 0 1 9 2 15 3 14 4 12 5 19 6 17 7 16 8 15 9 17 10 18 11 17 12 16 13 17 14 17"/><path d="M0 0 1 0 2 12 3 12 4 11 5 9 6 13 7 16 8 15 9 14 10 13 11 15 12 16 13 14 14 15"/><path d="M0 0 1 0 2 2 3 1 4 1 5 1 6 2 7 12 8 11 9 14 10 14 11 13 12 14 13 15 14 15"/><path d="M0 0 1 16 2 11 3 8 4 7 5 12 6 11 7 10 8 9 9 8 10 9 11 9 12 11 13 12 14 12"/><path d="M0 0 1 0 2 8 3 5 4 11 5 9 6 8 7 8 8 7 9 6 10 8 11 8 12 8 13 8 14 8"/><path d="M0 0 1 35 2 18 3 12 4 12 5 13 6 14 7 12 8 14 9 13 10 13 11 14 12 14 13 13 14 14"/><path d="M0 0 1 18 2 15 3 18 4 17 5 21 6 19 7 18 8 20 9 18 10 18 11 17 12 16 13 16 14 15"/><path d="M0 0 1 2 2 1 3 6 4 16 5 15 6 19 7 18 8 15 9 14 10 13 11 12 12 11 13 10 14 10"/><path d="M0 0 1 1 2 1 3 4 4 6 5 5 6 8 7 9 8 8 9 9 10 8 11 8 12 7 13 10 14 10"/><path d="M0 0 1 4 2 2 3 8 4 9 5 13 6 12 7 10 8 9 9 12 10 11 11 11 12 12 13 13 14 14"/><path d="M0 0 1 11 2 19 3 21 4 17 5 18 6 18 7 17 8 16 9 19 10 21 11 19 12 19 13 19 14 20"/><path d="M0 0 1 9 2 25 3 17 4 13 5 12 6 11 7 13 8 14 9 15 10 15 11 15 12 15 13 16 14 16"/><path d="M0 0 1 7 2 5 3 22 4 17 5 20 6 20 7 18 8 16 9 15 10 15 11 15 12 14 13 15 14 14"/><path d="M0 0 1 11 2 8 3 6 4 15 5 14 6 12 7 16 8 18 9 18 10 18 11 17 12 19 13 18 14 17"/><path d="M0 0 1 50 2 33 3 29 4 23 5 21 6 24 7 23 8 24 9 24 10 24 11 22 12 20 13 19 14 20"/><path d="M0 0 1 4 2 12 3 8 4 6 5 6 6 6 7 5 8 6 9 6 10 6 11 5 12 6 13 5 14 5"/><path d="M0 0 1 50 2 33 3 33 4 30 5 30 6 26 7 24 8 23 9 23 10 22 11 20 12 20 13 20 14 19"/><path d="M0 0 1 3 2 4 3 5 4 14 5 17 6 14 7 13 8 12 9 13 10 13 11 14 12 13 13 12 14 11"/><path d="M0 0 1 2 2 2 3 1 4 1 5 8 6 10 7 9 8 9 9 10 10 9 11 9 12 8 13 8 14 8"/><path d="M0 0 1 28 2 14 3 13 4 12 5 11 6 10 7 15 8 18 9 19 10 18 11 17 12 16 13 16 14 15"/><path d="M0 0 1 6 2 26 3 22 4 17 5 14 6 18 7 17 8 18 9 18 10 19 11 20 12 18 13 17 14 17"/><path d="M0 0 1 50 2 33 3 33 4 26 5 26 6 26 7 25 8 24 9 25 10 24 11 23 12 21 13 23 14 23"/><path d="M0 0 1 1 2 4 3 3 4 3 5 2 6 2 7 2 8 3 9 2 10 3 11 3 12 3 13 2 14 3"/><path d="M0 0 1 1 2 1 3 3 4 2 5 2 6 3 7 3 8 4 9 4 10 4 11 4 12 5 13 6 14 5"/><path d="M0 0 1 16 2 9 3 8 4 6 5 5 6 5 7 4 8 4 9 4 10 4 11 4 12 4 13 3 14 3"/><path d="M0 0 1 0 2 1 3 1 4 1 5 1 6 1 7 1 8 1 9 1 10 1 11 1 12 1 13 1 14 1"/><path d="M0 0 1 1 2 0 3 0 4 1 5 1 6 1 7 1 8 1 9 1 10 1 11 1 12 1 13 1 14 1"/><path d="M0 0 1 7 2 4 3 3 4 3 5 3 6 3 7 4 8 4 9 3 10 4 11 4 12 4 13 5 14 5"/><path d="M0 0 1 19 2 11 3 7 4 7 5 9 6 10 7 11 8 10 9 9 10 8 11 8 12 8 13 8 14 7"/><path d="M0 0 1 0 2 2 3 2 4 2 5 4 6 3 7 3 8 3 9 3 10 3 11 2 12 3 13 2 14 2"/><path d="M0 0 1 16 2 8 3 11 4 10 5 8 6 7 7 7 8 6 9 6 10 5 11 5 12 5 13 4 14 6"/><path d="M0 0 1 12 2 6 3 4 4 3 5 3 6 3 7 3 8 3 9 3 10 3 11 3 12 2 13 2 14 3"/><path d="M0 0 1 0 2 2 3 4 4 5 5 4 6 4 7 6 8 6 9 5 10 5 11 4 12 4 13 4 14 4"/><path d="M0 0 1 0 2 1 3 0 4 1 5 1 6 1 7 1 8 2 9 2 10 1 11 1 12 2 13 1 14 1"/><path d="M0 0 1 6 2 14 3 10 4 8 5 7 6 7 7 6 8 6 9 6 10 6 11 6 12 5 13 5 14 5"/><path d="M0 0 1 0 2 0 3 0 4 1 5 1 6 1 7 1 8 1 9 1 10 1 11 2 12 2 13 2 14 2"/><path d="M0 0 1 11 2 6 3 5 4 4 5 8 6 7 7 6 8 8 9 8 10 8 11 8 12 7 13 7 14 7"/><path d="M0 0 1 0 2 3 3 2 4 2 5 2 6 3 7 3 8 3 9 3 10 3 11 3 12 3 13 2 14 2"/><path d="M0 0 1 1 2 3 3 3 4 3 5 3 6 2 7 3 8 3 9 3 10 2 11 2 12 2 13 3 14 3"/><path d="M0 0 1 11 2 5 3 4 4 3 5 3 6 2 7 3 8 3 9 3 10 3 11 3 12 3 13 3 14 3"/><path d="M0 0 1 10 2 5 3 3 4 3 5 2 6 2 7 2 8 1 9 1 10 1 11 1 12 1 13 1 14 1"/><path d="M0 0 1 2 2 5 3 6 4 6 5 5 6 4 7 4 8 4 9 4 10 3 11 3 12 3 13 3 14 3"/><path d="M0 0 1 0 2 1 3 2 4 2 5 2 6 1 7 1 8 1 9 1 10 1 11 1 12 1 13 1 14 1"/><path d="M0 0 1 1 2 9 3 7 4 6 5 5 6 4 7 3 8 3 9 4 10 3 11 3 12 3 13 3 14 3"/><path d="M0 0 1 12 2 9 3 6 4 7 5 6 6 5 7 4 8 4 9 4 10 3 11 3 12 3 13 3 14 3"/><path d="M0 0 1 1 2 4 3 4 4 3 5 3 6 5 7 4 8 6 9 5 10 5 11 4 12 4 13 4 14 4"/><path d="M0 0 1 1 2 0 3 0 4 0 5 4 6 4 7 3 8 4 9 4 10 4 11 4 12 5 13 4 14 4"/><path d="M0 0 1 0 2 0 3 5 4 5 5 4 6 6 7 5 8 4 9 4 10 4 11 4 12 4 13 4 14 4"/><path d="M0 0 1 6 2 3 3 2 4 2 5 2 6 1 7 2 8 2 9 2 10 3 11 3 12 3 13 2 14 2"/><path d="M0 0 1 15 2 8 3 6 4 4 5 3 6 4 7 3 8 3 9 3 10 2 11 2 12 2 13 2 14 2"/><path d="M0 0 1 0 2 0 3 1 4 1 5 1 6 1 7 1 8 1 9 1 10 1 11 1 12 1 13 1 14 1"/><path d="M0 0 1 3 2 3 3 3 4 6 5 5 6 4 7 5 8 5 9 6 10 6 11 5 12 5 13 5 14 5"/><path d="M0 0 1 3 2 2 3 1 4 1 5 1 6 1 7 1 8 1 9 1 10 1 11 1 12 1 13 1 14 1"/><path d="M0 0 1 0 2 0 3 0 4 0 5 1 6 1 7 1 8 1 9 1 10 1 11 1 12 1 13 1 14 1"/><path d="M0 0 1 18 2 9 3 10 4 8 5 7 6 6 7 5 8 5 9 5 10 5 11 4 12 4 13 5 14 6"/><path d="M0 0 1 1 2 1 3 1 4 1 5 2 6 2 7 2 8 2 9 2 10 2 11 2 12 3 13 2 14 2"/><path d="M0 0 1 10 2 13 3 9 4 8 5 7 6 6 7 6 8 7 9 6 10 5 11 5 12 5 13 5 14 5"/><path d="M0 0 1 2 2 1 3 2 4 2 5 2 6 2 7 1 8 1 9 1 10 2 11 1 12 1 13 1 14 1"/></g><g stroke="#555" stroke-opacity="0.02" stroke-width="0.8"><path d="M0 0 1 50 2 25 3 17 4 17 5 21 6 18 7 18 8 19 9 17 10 18 11 17 12 17 13 18 14 18"/><path d="M0 0 1 0 2 7 3 5 4 4 5 9 6 8 7 7 8 7 9 6 10 8 11 7 12 7 13 7 14 8"/><path d="M0 0 1 9 2 6 3 5 4 19 5 24 6 25 7 22 8 20 9 18 10 17 11 17 12 17 13 18 14 17"/><path d="M0 0 1 25 2 17 3 12 4 9 5 17 6 14 7 14 8 13 9 17 10 16 11 18 12 17 13 18 14 17"/><path d="M0 0 1 0 2 33 3 25 4 22 5 20 6 18 7 22 8 20 9 22 10 21 11 20 12 19 13 20 14 22"/><path d="M0 0 1 3 2 2 3 3 4 2 5 2 6 2 7 2 8 11 9 10 10 15 11 18 12 17 13 19 14 20"/><path d="M0 0 1 13 2 25 3 17 4 19 5 18 6 17 7 20 8 18 9 17 10 16 11 16 12 16 13 15 14 15"/><path d="M0 0 1 50 2 33 3 28 4 21 5 17 6 15 7 14 8 16 9 15 10 15 11 14 12 16 13 16 14 16"/><path d="M0 0 1 11 2 6 3 8 4 16 5 16 6 14 7 13 8 14 9 13 10 13 11 13 12 15 13 15 14 14"/><path d="M0 0 1 1 2 4 3 3 4 2 5 2 6 4 7 4 8 4 9 7 10 6 11 9 12 10 13 12 14 12"/><path d="M0 0 1 5 2 6 3 4 4 14 5 12 6 12 7 14 8 16 9 17 10 17 11 16 12 16 13 16 14 15"/><path d="M0 0 1 2 2 16 3 18 4 15 5 12 6 11 7 14 8 15 9 14 10 13 11 13 12 13 13 13 14 15"/><path d="M0 0 1 0 2 0 3 25 4 20 5 17 6 24 7 21 8 19 9 21 10 19 11 18 12 19 13 18 14 17"/><path d="M0 0 1 50 2 28 3 23 4 24 5 21 6 18 7 15 8 14 9 12 10 13 11 12 12 13 13 12 14 13"/><path d="M0 0 1 9 2 25 3 24 4 25 5 22 6 23 7 20 8 18 9 19 10 19 11 17 12 18 13 17 14 17"/><path d="M0 0 1 0 2 3 3 3 4 17 5 15 6 20 7 20 8 19 9 21 10 21 11 22 12 21 13 21 14 21"/><path d="M0 0 1 7 2 14 3 13 4 15 5 18 6 16 7 16 8 16 9 15 10 14 11 13 12 12 13 14 14 14"/><path d="M0 0 1 29 2 19 3 19 4 19 5 17 6 17 7 17 8 17 9 19 10 19 11 19 12 19 13 17 14 17"/><path d="M0 0 1 34 2 17 3 13 4 18 5 19 6 17 7 17 8 18 9 16 10 17 11 15 12 15 13 14 14 14"/><path d="M0 0 1 4 2 8 3 7 4 6 5 8 6 7 7 12 8 13 9 13 10 13 11 12 12 11 13 11 14 11"/><path d="M0 0 1 2 2 18 3 12 4 11 5 12 6 11 7 9 8 9 9 8 10 8 11 8 12 8 13 9 14 8"/><path d="M0 0 1 39 2 21 3 14 4 16 5 18 6 19 7 17 8 16 9 17 10 15 11 15 12 14 13 13 14 12"/><path d="M0 0 1 1 2 2 3 8 4 14 5 11 6 12 7 10 8 12 9 14 10 12 11 11 12 11 13 12 14 12"/><path d="M0 0 1 0 2 12 3 8 4 13 5 14 6 12 7 15 8 14 9 13 10 12 11 12 12 12 13 12 14 11"/><path d="M0 0 1 0 2 3 3 2 4 2 5 8 6 7 7 7 8 12 9 12 10 12 11 13 12 13 13 12 14 12"/><path d="M0 0 1 3 2 7 3 10 4 7 5 6 6 11 7 10 8 9 9 8 10 9 11 9 12 10 13 10 14 10"/><path d="M0 0 1 11 2 7 3 6 4 17 5 14 6 13 7 11 8 11 9 9 10 11 11 10 12 10 13 10 14 11"/><path d="M0 0 1 0 2 33 3 25 4 30 5 30 6 29 7 27 8 25 9 27 10 24 11 25 12 23 13 22 14 23"/><path d="M0 0 1 1 2 5 3 6 4 5 5 4 6 4 7 3 8 5 9 6 10 5 11 6 12 5 13 5 14 5"/><path d="M0 0 1 1 2 22 3 16 4 15 5 13 6 16 7 15 8 17 9 16 10 16 11 16 12 18 13 17 14 16"/><path d="M0 0 1 36 2 29 3 23 4 27 5 25 6 21 7 23 8 21 9 21 10 22 11 22 12 22 13 23 14 21"/><path d="M0 0 1 2 2 1 3 6 4 8 5 10 6 14 7 12 8 11 9 10 10 11 11 10 12 10 13 11 14 12"/><path d="M0 0 1 8 2 5 3 7 4 7 5 6 6 10 7 10 8 9 9 8 10 10 11 15 12 15 13 15 14 15"/><path d="M0 0 1 0 2 1 3 23 4 23 5 19 6 18 7 16 8 20 9 19 10 21 11 22 12 23 13 21 14 20"/><path d="M0 0 1 36 2 29 3 22 4 19 5 17 6 19 7 20 8 18 9 16 10 17 11 17 12 17 13 18 14 17"/><path d="M0 0 1 31 2 20 3 14 4 14 5 15 6 16 7 15 8 16 9 14 10 16 11 16 12 16 13 16 14 16"/><path d="M0 0 1 6 2 3 3 8 4 6 5 11 6 13 7 13 8 13 9 14 10 13 11 12 12 11 13 11 14 11"/><path d="M0 0 1 29 2 17 3 18 4 17 5 21 6 18 7 16 8 16 9 18 10 16 11 15 12 15 13 15 14 15"/><path d="M0 0 1 14 2 10 3 9 4 18 5 20 6 17 7 15 8 16 9 17 10 16 11 16 12 16 13 15 14 16"/><path d="M0 0 1 21 2 14 3 10 4 19 5 18 6 15 7 19 8 19 9 19 10 18 11 20 12 21 13 19 14 20"/><path d="M0 0 1 5 2 19 3 14 4 13 5 10 6 9 7 9 8 11 9 11 10 10 11 12 12 11 13 11 14 10"/><path d="M0 0 1 50 2 33 3 23 4 22 5 18 6 21 7 18 8 16 9 16 10 16 11 18 12 18 13 19 14 19"/><path d="M0 0 1 0 2 1 3 20 4 17 5 14 6 19 7 16 8 14 9 13 10 12 11 14 12 15 13 15 14 15"/><path d="M0 0 1 0 2 0 3 1 4 3 5 3 6 3 7 3 8 3 9 3 10 3 11 3 12 2 13 3 14 3"/><path d="M0 0 1 1 2 1 3 1 4 3 5 2 6 3 7 4 8 4 9 7 10 7 11 6 12 6 13 5 14 5"/><path d="M0 0 1 1 2 2 3 2 4 2 5 3 6 3 7 3 8 3 9 2 10 3 11 3 12 2 13 2 14 2"/><path d="M0 0 1 0 2 1 3 0 4 2 5 1 6 2 7 1 8 1 9 2 10 2 11 2 12 2 13 2 14 2"/><path d="M0 0 1 14 2 9 3 7 4 5 5 4 6 5 7 5 8 4 9 4 10 4 11 3 12 3 13 3 14 3"/><path d="M0 0 1 2 2 1 3 1 4 1 5 1 6 1 7 1 8 1 9 1 10 1 11 1 12 1 13 1 14 1"/><path d="M0 0 1 0 2 1 3 1 4 1 5 2 6 2 7 2 8 1 9 1 10 1 11 1 12 1 13 1 14 2"/><path d="M0 0 1 1 2 1 3 1 4 1 5 1 6 1 7 2 8 2 9 2 10 2 11 2 12 2 13 2 14 3"/><path d="M0 0 1 1 2 0 3 1 4 0 5 1 6 1 7 2 8 1 9 1 10 1 11 1 12 1 13 2 14 2"/><path d="M0 0 1 19 2 14 3 10 4 8 5 8 6 7 7 6 8 6 9 6 10 5 11 5 12 4 13 4 14 4"/><path d="M0 0 1 5 2 3 3 2 4 2 5 2 6 1 7 1 8 1 9 1 10 1 11 1 12 1 13 1 14 1"/><path d="M0 0 1 2 2 4 3 3 4 2 5 2 6 2 7 2 8 2 9 2 10 2 11 2 12 2 13 1 14 1"/><path d="M0 0 1 8 2 10 3 7 4 7 5 6 6 5 7 6 8 5 9 5 10 5 11 5 12 6 13 5 14 5"/><path d="M0 0 1 8 2 4 3 3 4 3 5 4 6 3 7 3 8 2 9 2 10 2 11 2 12 3 13 2 14 3"/><path d="M0 0 1 5 2 3 3 2 4 2 5 1 6 1 7 1 8 1 9 1 10 1 11 1 12 1 13 1 14 1"/><path d="M0 0 1 11 2 5 3 4 4 3 5 7 6 6 7 5 8 5 9 4 10 4 11 4 12 4 13 5 14 5"/><path d="M0 0 1 2 2 1 3 1 4 1 5 1 6 1 7 1 8 1 9 1 10 2 11 2 12 2 13 2 14 2"/><path d="M0 0 1 2 2 2 3 2 4 1 5 1 6 1 7 1 8 1 9 1 10 1 11 1 12 1 13 1 14 1"/><path d="M0 0 1 0 2 0 3 3 4 3 5 2 6 2 7 2 8 3 9 3 10 3 11 3 12 2 13 2 14 2"/><path d="M0 0 1 2 2 4 3 5 4 5 5 5 6 5 7 5 8 4 9 5 10 7 11 7 12 7 13 6 14 6"/><path d="M0 0 1 1 2 1 3 1 4 1 5 1 6 1 7 1 8 1 9 1 10 2 11 2 12 4 13 4 14 3"/><path d="M0 0 1 1 2 1 3 8 4 6 5 5 6 4 7 4 8 4 9 4 10 3 11 4 12 5 13 5 14 5"/><path d="M0 0 1 2 2 1 3 1 4 4 5 3 6 2 7 2 8 2 9 2 10 2 11 2 12 2 13 2 14 2"/><path d="M0 0 1 9 2 6 3 4 4 3 5 3 6 3 7 3 8 3 9 2 10 2 11 2 12 2 13 2 14 3"/><path d="M0 0 1 0 2 1 3 1 4 1 5 0 6 1 7 1 8 1 9 1 10 1 11 1 12 1 13 1 14 1"/><path d="M0 0 1 12 2 6 3 4 4 3 5 7 6 6 7 5 8 7 9 7 10 7 11 6 12 6 13 5 14 5"/><path d="M0 0 1 8 2 5 3 3 4 3 5 2 6 2 7 3 8 2 9 2 10 2 11 2 12 3 13 3 14 3"/><path d="M0 0 1 1 2 1 3 2 4 1 5 4 6 3 7 3 8 3 9 3 10 3 11 2 12 2 13 2 14 3"/><path d="M0 0 1 1 2 1 3 1 4 2 5 2 6 2 7 2 8 2 9 2 10 2 11 2 12 2 13 2 14 3"/><path d="M0 0 1 0 2 4 3 3 4 2 5 2 6 2 7 3 8 3 9 3 10 4 11 4 12 4 13 4 14 4"/><path d="M0 0 1 4 2 3 3 3 4 3 5 2 6 2 7 2 8 2 9 2 10 2 11 2 12 2 13 2 14 2"/><path d="M0 0 1 4 2 3 3 3 4 3 5 3 6 3 7 3 8 2 9 2 10 3 11 3 12 3 13 3 14 4"/><path d="M0 0 1 1 2 1 3 1 4 2 5 2 6 2 7 2 8 3 9 2 10 3 11 3 12 3 13 3 14 3"/><path d="M0 0 1 0 2 3 3 2 4 3 5 2 6 3 7 3 8 3 9 2 10 2 11 2 12 2 13 2 14 2"/><path d="M0 0 1 6 2 4 3 5 4 4 5 4 6 4 7 3 8 4 9 3 10 3 11 3 12 3 13 3 14 3"/><path d="M0 0 1 6 2 3 3 3 4 3 5 3 6 4 7 4 8 4 9 4 10 4 11 4 12 3 13 3 14 3"/><path d="M0 0 1 0 2 0 3 0 4 0 5 1 6 0 7 0 8 0 9 0 10 1 11 1 12 1 13 1 14 1"/><path d="M0 0 1 2 2 1 3 2 4 3 5 2 6 2 7 2 8 2 9 2 10 2 11 2 12 2 13 2 14 2"/><path d="M0 0 1 2 2 2 3 1 4 4 5 4 6 3 7 3 8 3 9 4 10 4 11 3 12 3 13 3 14 3"/><path d="M0 0 1 6 2 4 3 6 4 4 5 5 6 5 7 4 8 4 9 4 10 3 11 3 12 3 13 3 14 3"/><path d="M0 0 1 20 2 13 3 12 4 9 5 7 6 6 7 5 8 5 9 5 10 5 11 5 12 5 13 5 14 5"/><path d="M0 0 1 1 2 3 3 3 4 3 5 3 6 2 7 2 8 2 9 2 10 2 11 2 12 2 13 2 14 2"/><path d="M0 0 1 6 2 3 3 3 4 4 5 3 6 5 7 6 8 5 9 4 10 4 11 4 12 4 13 4 14 4"/><path d="M0 0 1 29 2 16 3 16 4 17 5 15 6 12 7 12 8 11 9 10 10 9 11 8 12 8 13 7 14 7"/><path d="M0 0 1 22 2 26 3 19 4 20 5 19 6 19 7 17 8 16 9 15 10 13 11 12 12 11 13 11 14 10"/><path d="M0 0 1 8 2 8 3 8 4 6 5 5 6 5 7 4 8 4 9 3 10 4 11 3 12 3 13 3 14 3"/><path d="M0 0 1 13 2 9 3 13 4 10 5 9 6 8 7 8 8 7 9 6 10 6 11 6 12 5 13 5 14 5"/><path d="M0 0 1 35 2 18 3 12 4 9 5 8 6 7 7 6 8 5 9 4 10 4 11 4 12 3 13 3 14 3"/><path d="M0 0 1 8 2 7 3 5 4 4 5 5 6 5 7 5 8 4 9 5 10 4 11 4 12 6 13 6 14 5"/><path d="M0 0 1 4 2 2 3 6 4 6 5 6 6 6 7 5 8 5 9 5 10 5 11 4 12 4 13 4 14 4"/><path d="M0 0 1 10 2 23 3 16 4 13 5 10 6 9 7 9 8 7 9 7 10 6 11 6 12 6 13 5 14 6"/><path d="M0 0 1 5 2 7 3 8 4 6 5 5 6 5 7 4 8 4 9 4 10 4 11 4 12 3 13 3 14 3"/><path d="M0 0 1 0 2 13 3 9 4 7 5 11 6 9 7 8 8 7 9 8 10 8 11 7 12 7 13 7 14 8"/></g><g stroke="#555" stroke-opacity="0.0225" stroke-width="0.8"><path d="M0 0 1 8 2 5 3 4 4 4 5 6 6 6 7 5 8 5 9 4 10 5 11 5 12 5 13 4 14 4"/><path d="M0 0 1 13 2 8 3 5 4 4 5 3 6 3 7 3 8 4 9 4 10 4 11 3 12 3 13 3 14 3"/><path d="M0 0 1 4 2 3 3 2 4 2 5 3 6 3 7 3 8 2 9 2 10 2 11 2 12 2 13 2 14 1"/><path d="M0 0 1 12 2 8 3 5 4 5 5 8 6 6 7 6 8 5 9 5 10 4 11 4 12 4 13 4 14 4"/><path d="M0 0 1 0 2 3 3 3 4 5 5 5 6 6 7 5 8 4 9 4 10 3 11 3 12 3 13 3 14 3"/><path d="M0 0 1 0 2 0 3 1 4 2 5 2 6 2 7 2 8 2 9 2 10 2 11 2 12 2 13 2 14 2"/><path d="M0 0 1 12 2 7 3 8 4 6 5 6 6 7 7 7 8 7 9 7 10 6 11 6 12 5 13 5 14 5"/><path d="M0 0 1 3 2 5 3 3 4 3 5 3 6 2 7 2 8 2 9 2 10 2 11 2 12 2 13 2 14 3"/><path d="M0 0 1 10 2 6 3 7 4 6 5 6 6 6 7 5 8 5 9 5 10 5 11 4 12 4 13 4 14 4"/><path d="M0 0 1 3 2 2 3 2 4 2 5 13 6 11 7 10 8 9 9 9 10 8 11 8 12 7 13 8 14 8"/><path d="M0 0 1 2 2 1 3 2 4 1 5 1 6 1 7 1 8 1 9 1 10 1 11 1 12 1 13 1 14 1"/><path d="M0 0 1 4 2 3 3 2 4 2 5 2 6 2 7 2 8 3 9 3 10 3 11 3 12 3 13 3 14 3"/><path d="M0 0 1 0 2 0 3 1 4 1 5 1 6 1 7 1 8 1 9 1 10 1 11 2 12 2 13 2 14 2"/><path d="M0 0 1 3 2 11 3 7 4 6 5 5 6 6 7 5 8 5 9 5 10 5 11 5 12 4 13 4 14 4"/><path d="M0 0 1 0 2 0 3 2 4 3 5 2 6 3 7 3 8 3 9 3 10 3 11 3 12 3 13 3 14 3"/><path d="M0 0 1 47 2 24 3 17 4 13 5 11 6 9 7 8 8 7 9 7 10 6 11 6 12 5 13 5 14 6"/><path d="M0 0 1 0 2 0 3 0 4 0 5 0 6 1 7 2 8 2 9 3 10 3 11 2 12 2 13 2 14 2"/><path d="M0 0 1 1 2 0 3 0 4 1 5 1 6 1 7 1 8 1 9 1 10 1 11 1 12 1 13 1 14 1"/><path d="M0 0 1 2 2 3 3 2 4 2 5 2 6 2 7 2 8 3 9 3 10 3 11 3 12 3 13 3 14 3"/><path d="M0 0 1 1 2 1 3 3 4 7 5 8 6 6 7 6 8 5 9 5 10 4 11 4 12 4 13 4 14 4"/><path d="M0 0 1 0 2 0 3 0 4 1 5 1 6 1 7 6 8 6 9 5 10 5 11 5 12 4 13 5 14 5"/><path d="M0 0 1 14 2 7 3 11 4 11 5 15 6 13 7 11 8 10 9 9 10 8 11 7 12 7 13 7 14 6"/><path d="M0 0 1 2 2 1 3 1 4 1 5 1 6 1 7 1 8 1 9 1 10 1 11 1 12 1 13 1 14 1"/><path d="M0 0 1 0 2 1 3 1 4 1 5 1 6 1 7 1 8 1 9 2 10 1 11 2 12 2 13 2 14 2"/><path d="M0 0 1 0 2 0 3 0 4 0 5 0 6 1 7 1 8 1 9 1 10 1 11 1 12 1 13 2 14 2"/><path d="M0 0 1 6 2 4 3 3 4 2 5 2 6 2 7 2 8 2 9 2 10 2 11 2 12 2 13 2 14 1"/><path d="M0 0 1 0 2 1 3 2 4 3 5 3 6 3 7 3 8 3 9 3 10 3 11 2 12 2 13 2 14 3"/><path d="M0 0 1 4 2 11 3 8 4 6 5 5 6 6 7 6 8 6 9 6 10 5 11 6 12 5 13 5 14 5"/><path d="M0 0 1 6 2 4 3 3 4 6 5 5 6 4 7 4 8 3 9 3 10 4 11 4 12 5 13 5 14 5"/><path d="M0 0 1 4 2 12 3 10 4 8 5 6 6 5 7 5 8 4 9 4 10 4 11 4 12 3 13 3 14 3"/><path d="M0 0 1 50 2 25 3 19 4 15 5 14 6 12 7 11 8 9 9 9 10 9 11 8 12 7 13 7 14 7"/><path d="M0 0 1 15 2 8 3 6 4 5 5 4 6 5 7 5 8 5 9 7 10 7 11 9 12 8 13 8 14 7"/><path d="M0 0 1 23 2 12 3 10 4 8 5 6 6 5 7 5 8 4 9 4 10 3 11 3 12 4 13 3 14 3"/><path d="M0 0 1 44 2 22 3 15 4 11 5 10 6 8 7 7 8 6 9 6 10 5 11 5 12 4 13 4 14 4"/><path d="M0 0 1 8 2 8 3 6 4 4 5 4 6 3 7 3 8 3 9 2 10 2 11 2 12 2 13 2 14 2"/><path d="M0 0 1 2 2 2 3 3 4 8 5 9 6 9 7 9 8 9 9 8 10 7 11 6 12 6 13 5 14 5"/><path d="M0 0 1 12 2 11 3 11 4 13 5 10 6 9 7 7 8 7 9 7 10 6 11 7 12 7 13 6 14 6"/><path d="M0 0 1 6 2 12 3 10 4 8 5 6 6 6 7 5 8 5 9 5 10 4 11 4 12 4 13 3 14 3"/><path d="M0 0 1 26 2 23 3 16 4 12 5 10 6 9 7 8 8 8 9 7 10 7 11 6 12 7 13 8 14 7"/><path d="M0 0 1 3 2 2 3 2 4 3 5 4 6 4 7 3 8 3 9 4 10 7 11 8 12 7 13 7 14 7"/><path d="M0 0 1 14 2 8 3 11 4 12 5 10 6 10 7 9 8 8 9 7 10 6 11 7 12 7 13 7 14 6"/><path d="M0 0 1 22 2 12 3 10 4 10 5 9 6 8 7 7 8 8 9 7 10 6 11 6 12 5 13 5 14 6"/><path d="M0 0 1 13 2 7 3 4 4 3 5 3 6 3 7 3 8 4 9 4 10 5 11 4 12 4 13 4 14 4"/><path d="M0 0 1 18 2 10 3 7 4 6 5 5 6 4 7 4 8 3 9 3 10 4 11 4 12 3 13 3 14 3"/><path d="M0 0 1 15 2 10 3 9 4 9 5 7 6 6 7 5 8 5 9 4 10 4 11 4 12 4 13 4 14 4"/><path d="M0 0 1 26 2 16 3 10 4 8 5 6 6 6 7 5 8 7 9 6 10 6 11 6 12 5 13 6 14 6"/><path d="M0 0 1 17 2 18 3 12 4 9 5 7 6 6 7 5 8 5 9 6 10 5 11 5 12 5 13 4 14 5"/><path d="M0 0 1 8 2 8 3 9 4 8 5 6 6 6 7 5 8 5 9 5 10 4 11 4 12 4 13 4 14 4"/><path d="M0 0 1 22 2 11 3 7 4 5 5 5 6 4 7 3 8 3 9 3 10 3 11 3 12 3 13 3 14 3"/><path d="M0 0 1 5 2 5 3 4 4 3 5 3 6 3 7 2 8 3 9 2 10 2 11 2 12 2 13 3 14 3"/><path d="M0 0 1 2 2 6 3 4 4 11 5 9 6 8 7 7 8 6 9 6 10 6 11 6 12 6 13 6 14 5"/><path d="M0 0 1 50 2 27 3 18 4 14 5 12 6 10 7 9 8 8 9 7 10 6 11 6 12 5 13 5 14 5"/><path d="M0 0 1 2 2 1 3 7 4 6 5 10 6 9 7 8 8 8 9 8 10 8 11 7 12 9 13 8 14 8"/><path d="M0 0 1 44 2 22 3 15 4 12 5 11 6 9 7 8 8 7 9 6 10 7 11 7 12 7 13 6 14 6"/><path d="M0 0 1 26 2 15 3 10 4 8 5 6 6 5 7 5 8 5 9 4 10 4 11 4 12 3 13 3 14 3"/><path d="M0 0 1 5 2 5 3 4 4 4 5 3 6 3 7 3 8 6 9 6 10 6 11 6 12 6 13 5 14 5"/><path d="M0 0 1 2 2 11 3 13 4 10 5 9 6 8 7 7 8 8 9 7 10 7 11 6 12 6 13 6 14 6"/><path d="M0 0 1 27 2 27 3 19 4 20 5 16 6 13 7 12 8 11 9 9 10 9 11 9 12 8 13 9 14 9"/><path d="M0 0 1 9 2 7 3 6 4 4 5 4 6 3 7 3 8 7 9 6 10 5 11 7 12 6 13 6 14 5"/><path d="M0 0 1 13 2 10 3 14 4 11 5 12 6 10 7 9 8 10 9 9 10 8 11 8 12 9 13 8 14 7"/><path d="M0 0 1 20 2 10 3 7 4 5 5 4 6 4 7 3 8 3 9 3 10 3 11 3 12 3 13 3 14 3"/></g><g stroke="#555" stroke-opacity="0.025" stroke-width="0.8"><path d="M0 0 1 1 2 1 3 1 4 1 5 1 6 1 7 1 8 1 9 1 10 1 11 1 12 1 13 1 14 1"/><path d="M0 0 1 13 2 7 3 4 4 15 5 12 6 10 7 9 8 9 9 9 10 8 11 9 12 8 13 8 14 9"/><path d="M0 0 1 7 2 7 3 5 4 4 5 3 6 3 7 3 8 2 9 3 10 4 11 3 12 3 13 3 14 3"/><path d="M0 0 1 0 2 2 3 2 4 1 5 2 6 2 7 2 8 2 9 2 10 2 11 2 12 2 13 2 14 2"/><path d="M0 0 1 2 2 2 3 3 4 2 5 2 6 2 7 2 8 1 9 2 10 2 11 2 12 2 13 2 14 2"/><path d="M0 0 1 0 2 0 3 0 4 0 5 0 6 1 7 1 8 1 9 1 10 0 11 0 12 1 13 1 14 1"/><path d="M0 0 1 27 2 14 3 9 4 11 5 10 6 9 7 8 8 7 9 7 10 6 11 7 12 7 13 6 14 6"/><path d="M0 0 1 9 2 5 3 6 4 5 5 4 6 4 7 3 8 3 9 3 10 3 11 3 12 2 13 2 14 2"/><path d="M0 0 1 5 2 2 3 2 4 1 5 1 6 1 7 1 8 1 9 1 10 1 11 1 12 1 13 1 14 1"/><path d="M0 0 1 5 2 2 3 2 4 2 5 2 6 1 7 1 8 1 9 1 10 1 11 1 12 1 13 1 14 1"/><path d="M0 0 1 2 2 5 3 4 4 4 5 3 6 5 7 6 8 5 9 5 10 5 11 4 12 4 13 4 14 4"/><path d="M0 0 1 1 2 8 3 9 4 7 5 6 6 5 7 5 8 4 9 4 10 4 11 4 12 4 13 4 14 4"/><path d="M0 0 1 0 2 1 3 1 4 1 5 1 6 1 7 1 8 1 9 2 10 2 11 2 12 1 13 1 14 1"/><path d="M0 0 1 0 2 0 3 1 4 4 5 3 6 4 7 3 8 3 9 3 10 3 11 3 12 5 13 4 14 4"/><path d="M0 0 1 3 2 1 3 1 4 1 5 2 6 3 7 3 8 2 9 2 10 2 11 2 12 2 13 2 14 2"/><path d="M0 0 1 3 2 2 3 1 4 1 5 1 6 1 7 2 8 2 9 3 10 3 11 3 12 3 13 3 14 3"/><path d="M0 0 1 0 2 2 3 2 4 2 5 2 6 2 7 5 8 5 9 5 10 4 11 4 12 5 13 5 14 4"/><path d="M0 0 1 20 2 11 3 7 4 6 5 5 6 5 7 4 8 4 9 3 10 3 11 3 12 3 13 3 14 3"/><path d="M0 0 1 0 2 0 3 1 4 2 5 3 6 2 7 2 8 2 9 2 10 2 11 2 12 2 13 2 14 2"/><path d="M0 0 1 10 2 13 3 9 4 8 5 6 6 5 7 5 8 4 9 4 10 4 11 4 12 4 13 5 14 4"/><path d="M0 0 1 0 2 1 3 1 4 1 5 1 6 1 7 2 8 1 9 2 10 3 11 3 12 3 13 3 14 3"/><path d="M0 0 1 30 2 15 3 10 4 9 5 7 6 6 7 5 8 5 9 4 10 4 11 4 12 4 13 4 14 4"/><path d="M0 0 1 1 2 4 3 3 4 2 5 2 6 2 7 2 8 2 9 3 10 3 11 2 12 2 13 2 14 2"/><path d="M0 0 1 1 2 2 3 1 4 4 5 3 6 3 7 2 8 2 9 2 10 2 11 2 12 2 13 2 14 3"/><path d="M0 0 1 2 2 1 3 3 4 3 5 2 6 3 7 2 8 2 9 2 10 3 11 3 12 3 13 3 14 3"/><path d="M0 0 1 1 2 6 3 7 4 5 5 5 6 4 7 4 8 3 9 3 10 3 11 3 12 3 13 3 14 3"/><path d="M0 0 1 5 2 5 3 4 4 3 5 8 6 8 7 7 8 7 9 6 10 7 11 6 12 6 13 6 14 6"/><path d="M0 0 1 10 2 5 3 3 4 4 5 4 6 3 7 3 8 2 9 2 10 4 11 4 12 4 13 4 14 4"/><path d="M0 0 1 0 2 0 3 0 4 0 5 0 6 0 7 1 8 1 9 0 10 1 11 1 12 1 13 1 14 1"/><path d="M0 0 1 20 2 10 3 7 4 6 5 5 6 4 7 3 8 3 9 3 10 3 11 3 12 4 13 3 14 3"/><path d="M0 0 1 4 2 2 3 2 4 1 5 1 6 2 7 2 8 1 9 2 10 2 11 2 12 2 13 1 14 1"/><path d="M0 0 1 10 2 19 3 13 4 10 5 9 6 9 7 9 8 9 9 8 10 8 11 8 12 7 13 6 14 6"/><path d="M0 0 1 1 2 6 3 5 4 4 5 3 6 2 7 2 8 3 9 3 10 2 11 2 12 2 13 2 14 2"/><path d="M0 0 1 5 2 3 3 5 4 4 5 4 6 4 7 3 8 3 9 2 10 2 11 2 12 2 13 2 14 2"/><path d="M0 0 1 3 2 1 3 1 4 3 5 4 6 3 7 3 8 3 9 4 10 5 11 4 12 4 13 4 14 4"/><path d="M0 0 1 0 2 5 3 5 4 5 5 5 6 4 7 4 8 3 9 3 10 4 11 3 12 3 13 3 14 3"/><path d="M0 0 1 0 2 1 3 2 4 3 5 2 6 3 7 4 8 3 9 3 10 4 11 3 12 3 13 3 14 3"/><path d="M0 0 1 12 2 6 3 6 4 5 5 5 6 4 7 4 8 4 9 4 10 4 11 3 12 3 13 3 14 3"/><path d="M0 0 1 2 2 2 3 4 4 3 5 3 6 2 7 4 8 3 9 3 10 3 11 3 12 3 13 3 14 3"/><path d="M0 0 1 1 2 1 3 1 4 1 5 2 6 2 7 2 8 2 9 2 10 2 11 2 12 2 13 2 14 2"/><path d="M0 0 1 4 2 3 3 9 4 8 5 6 6 5 7 5 8 4 9 5 10 6 11 6 12 6 13 6 14 6"/><path d="M0 0 1 1 2 1 3 3 4 3 5 2 6 2 7 2 8 2 9 4 10 4 11 4 12 4 13 4 14 3"/><path d="M0 0 1 1 2 3 3 3 4 2 5 3 6 3 7 2 8 2 9 2 10 2 11 2 12 2 13 2 14 2"/><path d="M0 0 1 13 2 10 3 7 4 10 5 8 6 7 7 6 8 6 9 5 10 5 11 6 12 6 13 5 14 5"/><path d="M0 0 1 36 2 19 3 13 4 10 5 8 6 7 7 6 8 6 9 5 10 5 11 5 12 5 13 5 14 4"/><path d="M0 0 1 1 2 7 3 9 4 7 5 9 6 14 7 12 8 12 9 10 10 9 11 9 12 9 13 9 14 8"/><path d="M0 0 1 31 2 16 3 11 4 9 5 10 6 9 7 11 8 10 9 9 10 8 11 7 12 8 13 7 14 9"/><path d="M0 0 1 24 2 12 3 8 4 7 5 6 6 5 7 4 8 4 9 3 10 3 11 3 12 2 13 3 14 2"/><path d="M0 0 1 50 2 25 3 17 4 13 5 10 6 8 7 7 8 6 9 6 10 5 11 5 12 4 13 4 14 4"/><path d="M0 0 1 0 2 13 3 16 4 12 5 10 6 10 7 10 8 10 9 9 10 8 11 7 12 7 13 6 14 7"/><path d="M0 0 1 14 2 11 3 7 4 5 5 6 6 7 7 6 8 5 9 4 10 4 11 4 12 4 13 3 14 3"/><path d="M0 0 1 1 2 11 3 12 4 9 5 8 6 7 7 6 8 6 9 6 10 6 11 5 12 5 13 5 14 4"/><path d="M0 0 1 25 2 14 3 14 4 10 5 9 6 7 7 8 8 7 9 7 10 8 11 7 12 7 13 6 14 7"/><path d="M0 0 1 6 2 5 3 7 4 7 5 6 6 5 7 4 8 4 9 3 10 3 11 3 12 4 13 3 14 3"/><path d="M0 0 1 10 2 7 3 4 4 3 5 3 6 3 7 3 8 3 9 3 10 3 11 3 12 2 13 2 14 2"/><path d="M0 0 1 2 2 1 3 2 4 3 5 3 6 4 7 4 8 5 9 5 10 5 11 4 12 4 13 4 14 4"/><path d="M0 0 1 23 2 12 3 17 4 17 5 14 6 13 7 12 8 10 9 13 10 11 11 11 12 10 13 9 14 8"/><path d="M0 0 1 0 2 15 3 12 4 12 5 9 6 12 7 10 8 10 9 9 10 8 11 8 12 7 13 7 14 7"/><path d="M0 0 1 33 2 17 3 12 4 9 5 7 6 6 7 6 8 5 9 4 10 4 11 4 12 4 13 4 14 3"/><path d="M0 0 1 40 2 21 3 14 4 11 5 9 6 8 7 7 8 6 9 6 10 6 11 6 12 5 13 5 14 5"/><path d="M0 0 1 11 2 7 3 16 4 13 5 13 6 11 7 9 8 9 9 8 10 7 11 7 12 6 13 6 14 5"/><path d="M0 0 1 7 2 5 3 4 4 5 5 4 6 3 7 4 8 4 9 3 10 3 11 3 12 3 13 3 14 3"/><path d="M0 0 1 8 2 6 3 5 4 8 5 8 6 6 7 6 8 7 9 6 10 6 11 5 12 5 13 5 14 5"/><path d="M0 0 1 10 2 12 3 9 4 7 5 6 6 5 7 5 8 4 9 4 10 4 11 4 12 3 13 3 14 3"/><path d="M0 0 1 14 2 7 3 9 4 7 5 6 6 5 7 5 8 5 9 5 10 4 11 4 12 4 13 4 14 4"/><path d="M0 0 1 15 2 7 3 11 4 9 5 7 6 6 7 5 8 5 9 5 10 4 11 4 12 4 13 4 14 4"/><path d="M0 0 1 21 2 11 3 9 4 8 5 6 6 5 7 4 8 4 9 4 10 3 11 3 12 3 13 3 14 2"/><path d="M0 0 1 50 2 25 3 17 4 13 5 11 6 9 7 8 8 7 9 6 10 6 11 5 12 5 13 4 14 4"/><path d="M0 0 1 10 2 5 3 4 4 4 5 4 6 4 7 4 8 6 9 5 10 5 11 5 12 5 13 5 14 5"/><path d="M0 0 1 42 2 25 3 17 4 14 5 11 6 10 7 9 8 9 9 8 10 7 11 7 12 6 13 6 14 5"/><path d="M0 0 1 19 2 13 3 9 4 7 5 6 6 6 7 5 8 5 9 5 10 4 11 4 12 4 13 3 14 3"/><path d="M0 0 1 10 2 5 3 5 4 5 5 5 6 5 7 6 8 7 9 7 10 6 11 6 12 7 13 6 14 6"/><path d="M0 0 1 12 2 7 3 5 4 5 5 4 6 4 7 3 8 3 9 3 10 2 11 2 12 2 13 2 14 2"/><path d="M0 0 1 41 2 20 3 14 4 10 5 11 6 10 7 9 8 9 9 8 10 7 11 7 12 8 13 7 14 7"/><path d="M0 0 1 26 2 13 3 9 4 7 5 6 6 5 7 5 8 4 9 4 10 3 11 3 12 3 13 3 14 3"/><path d="M0 0 1 17 2 16 3 11 4 11 5 9 6 8 7 8 8 7 9 7 10 6 11 6 12 6 13 6 14 6"/><path d="M0 0 1 17 2 24 3 17 4 13 5 11 6 11 7 10 8 8 9 8 10 7 11 8 12 8 13 9 14 8"/><path d="M0 0 1 47 2 24 3 16 4 13 5 11 6 9 7 8 8 7 9 7 10 6 11 6 12 5 13 5 14 5"/><path d="M0 0 1 12 2 7 3 6 4 7 5 6 6 5 7 5 8 5 9 4 10 4 11 4 12 4 13 4 14 3"/><path d="M0 0 1 4 2 2 3 2 4 2 5 5 6 5 7 7 8 8 9 8 10 8 11 8 12 9 13 8 14 8"/><path d="M0 0 1 23 2 11 3 9 4 8 5 9 6 7 7 6 8 6 9 5 10 5 11 4 12 4 13 4 14 4"/><path d="M0 0 1 5 2 3 3 3 4 7 5 6 6 5 7 7 8 6 9 5 10 5 11 5 12 7 13 8 14 8"/><path d="M0 0 1 29 2 15 3 11 4 10 5 8 6 8 7 7 8 9 9 9 10 9 11 9 12 11 13 10 14 11"/><path d="M0 0 1 5 2 4 3 3 4 4 5 5 6 5 7 4 8 4 9 4 10 3 11 3 12 3 13 3 14 3"/><path d="M0 0 1 20 2 10 3 7 4 6 5 8 6 7 7 6 8 5 9 5 10 5 11 4 12 4 13 4 14 3"/><path d="M0 0 1 27 2 13 3 9 4 7 5 6 6 5 7 5 8 4 9 4 10 3 11 3 12 3 13 3 14 3"/><path d="M0 0 1 8 2 7 3 5 4 6 5 5 6 5 7 6 8 5 9 5 10 5 11 4 12 5 13 4 14 5"/><path d="M0 0 1 0 2 7 3 6 4 5 5 5 6 4 7 3 8 3 9 3 10 4 11 4 12 4 13 4 14 4"/></g><g stroke="#555" stroke-opacity="0.0275" stroke-width="0.8"><path d="M0 0 1 0 2 1 3 3 4 2 5 2 6 2 7 2 8 2 9 2 10 2 11 2 12 2 13 2 14 2"/><path d="M0 0 1 2 2 2 3 2 4 1 5 2 6 2 7 3 8 4 9 3 10 3 11 3 12 3 13 3 14 3"/><path d="M0 0 1 20 2 14 3 10 4 8 5 7 6 6 7 8 8 7 9 8 10 7 11 7 12 6 13 6 14 6"/><path d="M0 0 1 3 2 2 3 1 4 2 5 3 6 3 7 3 8 2 9 2 10 2 11 2 12 2 13 2 14 2"/><path d="M0 0 1 1 2 1 3 1 4 1 5 1 6 3 7 3 8 3 9 3 10 3 11 3 12 3 13 3 14 3"/><path d="M0 0 1 2 2 4 3 4 4 3 5 2 6 2 7 2 8 2 9 2 10 2 11 2 12 2 13 2 14 2"/><path d="M0 0 1 0 2 0 3 1 4 1 5 2 6 2 7 2 8 2 9 2 10 2 11 2 12 3 13 3 14 2"/><path d="M0 0 1 0 2 0 3 0 4 0 5 0 6 2 7 1 8 1 9 2 10 1 11 1 12 1 13 1 14 1"/><path d="M0 0 1 5 2 5 3 4 4 3 5 3 6 2 7 3 8 3 9 3 10 3 11 3 12 3 13 3 14 3"/><path d="M0 0 1 1 2 1 3 1 4 2 5 2 6 2 7 2 8 2 9 2 10 1 11 2 12 2 13 3 14 2"/><path d="M0 0 1 3 2 2 3 1 4 2 5 3 6 6 7 6 8 5 9 5 10 4 11 5 12 4 13 4 14 4"/><path d="M0 0 1 7 2 8 3 10 4 9 5 7 6 6 7 9 8 8 9 7 10 7 11 6 12 6 13 5 14 5"/><path d="M0 0 1 2 2 2 3 2 4 4 5 5 6 4 7 4 8 4 9 4 10 3 11 3 12 3 13 3 14 3"/><path d="M0 0 1 0 2 0 3 1 4 1 5 2 6 3 7 3 8 2 9 3 10 3 11 3 12 3 13 3 14 3"/><path d="M0 0 1 2 2 1 3 1 4 1 5 1 6 1 7 1 8 0 9 0 10 1 11 1 12 1 13 1 14 1"/><path d="M0 0 1 12 2 10 3 6 4 5 5 4 6 5 7 4 8 4 9 5 10 5 11 5 12 5 13 5 14 5"/><path d="M0 0 1 2 2 7 3 5 4 4 5 5 6 4 7 6 8 5 9 5 10 8 11 7 12 7 13 7 14 7"/><path d="M0 0 1 2 2 2 3 2 4 2 5 4 6 4 7 3 8 4 9 3 10 3 11 3 12 3 13 3 14 3"/><path d="M0 0 1 0 2 0 3 0 4 1 5 0 6 0 7 0 8 0 9 0 10 0 11 0 12 0 13 0 14 1"/><path d="M0 0 1 0 2 1 3 1 4 1 5 1 6 1 7 2 8 2 9 1 10 1 11 1 12 1 13 1 14 1"/><path d="M0 0 1 33 2 19 3 12 4 10 5 8 6 6 7 6 8 5 9 5 10 6 11 5 12 5 13 4 14 4"/><path d="M0 0 1 11 2 14 3 9 4 9 5 7 6 6 7 5 8 5 9 5 10 4 11 4 12 4 13 4 14 4"/><path d="M0 0 1 2 2 1 3 1 4 7 5 6 6 6 7 5 8 5 9 5 10 4 11 4 12 4 13 4 14 4"/><path d="M0 0 1 1 2 17 3 11 4 10 5 9 6 8 7 7 8 6 9 7 10 7 11 7 12 7 13 6 14 6"/><path d="M0 0 1 4 2 3 3 2 4 3 5 3 6 3 7 4 8 4 9 4 10 4 11 3 12 3 13 3 14 4"/><path d="M0 0 1 10 2 5 3 6 4 4 5 4 6 3 7 3 8 2 9 2 10 2 11 2 12 2 13 2 14 2"/><path d="M0 0 1 21 2 18 3 12 4 10 5 10 6 13 7 12 8 11 9 10 10 11 11 10 12 9 13 10 14 10"/><path d="M0 0 1 0 2 4 3 6 4 5 5 4 6 4 7 3 8 3 9 4 10 4 11 3 12 3 13 3 14 3"/><path d="M0 0 1 10 2 7 3 5 4 4 5 4 6 3 7 3 8 2 9 2 10 2 11 2 12 2 13 2 14 2"/><path d="M0 0 1 11 2 7 3 5 4 4 5 4 6 3 7 3 8 6 9 5 10 5 11 5 12 5 13 6 14 7"/><path d="M0 0 1 9 2 5 3 5 4 6 5 5 6 5 7 4 8 5 9 5 10 5 11 4 12 4 13 4 14 4"/><path d="M0 0 1 15 2 7 3 6 4 5 5 5 6 4 7 8 8 7 9 7 10 7 11 6 12 6 13 6 14 6"/><path d="M0 0 1 11 2 6 3 4 4 4 5 3 6 3 7 3 8 2 9 2 10 2 11 2 12 2 13 2 14 2"/><path d="M0 0 1 36 2 18 3 13 4 10 5 8 6 7 7 7 8 6 9 5 10 7 11 7 12 6 13 7 14 6"/><path d="M0 0 1 9 2 18 3 13 4 11 5 9 6 8 7 7 8 6 9 6 10 6 11 6 12 5 13 5 14 5"/><path d="M0 0 1 3 2 10 3 10 4 8 5 6 6 5 7 4 8 4 9 4 10 4 11 4 12 6 13 6 14 6"/><path d="M0 0 1 15 2 11 3 9 4 7 5 6 6 5 7 5 8 4 9 5 10 4 11 4 12 4 13 4 14 3"/><path d="M0 0 1 32 2 16 3 11 4 8 5 7 6 6 7 5 8 4 9 4 10 4 11 4 12 3 13 3 14 3"/><path d="M0 0 1 31 2 19 3 13 4 10 5 8 6 9 7 9 8 9 9 8 10 8 11 7 12 7 13 7 14 7"/><path d="M0 0 1 13 2 12 3 16 4 13 5 14 6 12 7 12 8 11 9 10 10 10 11 10 12 9 13 8 14 8"/><path d="M0 0 1 8 2 9 3 11 4 9 5 9 6 7 7 6 8 6 9 5 10 5 11 5 12 4 13 4 14 4"/><path d="M0 0 1 16 2 9 3 7 4 6 5 5 6 5 7 4 8 4 9 5 10 4 11 5 12 6 13 5 14 5"/><path d="M0 0 1 1 2 3 3 16 4 12 5 10 6 8 7 10 8 10 9 9 10 8 11 7 12 7 13 6 14 6"/><path d="M0 0 1 26 2 14 3 10 4 10 5 12 6 10 7 10 8 9 9 9 10 9 11 9 12 8 13 8 14 8"/><path d="M0 0 1 9 2 9 3 6 4 6 5 5 6 4 7 4 8 4 9 3 10 3 11 3 12 3 13 3 14 3"/><path d="M0 0 1 4 2 11 3 12 4 9 5 9 6 11 7 10 8 9 9 8 10 7 11 7 12 6 13 7 14 7"/><path d="M0 0 1 6 2 10 3 7 4 9 5 8 6 7 7 9 8 8 9 7 10 7 11 6 12 6 13 5 14 5"/><path d="M0 0 1 8 2 7 3 5 4 4 5 3 6 4 7 4 8 5 9 4 10 4 11 4 12 3 13 3 14 3"/></g><g stroke="#555" stroke-opacity="0.03" stroke-width="0.8"><path d="M0 0 1 9 2 8 3 6 4 4 5 4 6 3 7 3 8 2 9 2 10 2 11 2 12 2 13 2 14 2"/><path d="M0 0 1 0 2 0 3 2 4 2 5 2 6 2 7 2 8 2 9 2 10 2 11 2 12 2 13 2 14 2"/><path d="M0 0 1 19 2 10 3 9 4 8 5 6 6 6 7 5 8 5 9 4 10 5 11 5 12 5 13 4 14 4"/><path d="M0 0 1 2 2 2 3 3 4 3 5 4 6 4 7 3 8 3 9 3 10 4 11 4 12 3 13 3 14 3"/><path d="M0 0 1 7 2 4 3 7 4 8 5 8 6 7 7 6 8 6 9 8 10 7 11 8 12 8 13 8 14 8"/><path d="M0 0 1 7 2 5 3 3 4 3 5 3 6 3 7 3 8 3 9 3 10 3 11 3 12 2 13 2 14 2"/><path d="M0 0 1 1 2 1 3 1 4 1 5 1 6 5 7 4 8 4 9 3 10 4 11 4 12 4 13 4 14 4"/><path d="M0 0 1 10 2 5 3 3 4 2 5 4 6 4 7 4 8 4 9 6 10 6 11 5 12 5 13 5 14 5"/><path d="M0 0 1 1 2 1 3 2 4 1 5 1 6 1 7 1 8 1 9 1 10 1 11 1 12 1 13 1 14 1"/><path d="M0 0 1 11 2 9 3 8 4 6 5 5 6 7 7 6 8 6 9 5 10 5 11 5 12 4 13 4 14 4"/><path d="M0 0 1 1 2 1 3 2 4 2 5 3 6 4 7 4 8 3 9 3 10 3 11 3 12 3 13 3 14 3"/><path d="M0 0 1 1 2 7 3 6 4 4 5 3 6 4 7 3 8 3 9 3 10 3 11 2 12 3 13 3 14 4"/><path d="M0 0 1 0 2 2 3 2 4 2 5 2 6 1 7 1 8 1 9 1 10 1 11 1 12 1 13 1 14 1"/><path d="M0 0 1 10 2 6 3 5 4 4 5 10 6 10 7 8 8 8 9 7 10 6 11 6 12 6 13 6 14 6"/><path d="M0 0 1 1 2 1 3 2 4 1 5 3 6 2 7 2 8 3 9 2 10 3 11 2 12 2 13 2 14 2"/><path d="M0 0 1 27 2 13 3 12 4 9 5 7 6 6 7 5 8 5 9 5 10 5 11 4 12 4 13 4 14 5"/><path d="M0 0 1 15 2 12 3 8 4 6 5 5 6 5 7 4 8 4 9 4 10 3 11 3 12 3 13 3 14 3"/><path d="M0 0 1 24 2 24 3 16 4 16 5 15 6 13 7 11 8 10 9 9 10 8 11 8 12 8 13 7 14 7"/><path d="M0 0 1 25 2 13 3 9 4 7 5 6 6 6 7 5 8 5 9 6 10 6 11 5 12 6 13 5 14 5"/><path d="M0 0 1 4 2 8 3 6 4 7 5 7 6 6 7 5 8 4 9 4 10 4 11 3 12 3 13 3 14 3"/><path d="M0 0 1 9 2 8 3 9 4 9 5 9 6 8 7 7 8 6 9 5 10 5 11 5 12 4 13 4 14 4"/><path d="M0 0 1 17 2 9 3 8 4 8 5 7 6 10 7 9 8 8 9 7 10 7 11 6 12 6 13 5 14 5"/><path d="M0 0 1 22 2 11 3 8 4 7 5 6 6 5 7 5 8 4 9 4 10 3 11 3 12 3 13 3 14 3"/><path d="M0 0 1 24 2 12 3 10 4 9 5 7 6 6 7 6 8 5 9 4 10 4 11 4 12 5 13 4 14 5"/><path d="M0 0 1 7 2 5 3 9 4 7 5 7 6 6 7 5 8 6 9 6 10 5 11 5 12 4 13 4 14 4"/><path d="M0 0 1 5 2 13 3 11 4 13 5 10 6 10 7 9 8 8 9 7 10 7 11 6 12 6 13 6 14 5"/><path d="M0 0 1 9 2 6 3 15 4 13 5 11 6 9 7 9 8 8 9 8 10 8 11 9 12 8 13 8 14 8"/><path d="M0 0 1 4 2 12 3 8 4 7 5 6 6 5 7 5 8 5 9 5 10 5 11 5 12 4 13 4 14 4"/><path d="M0 0 1 19 2 10 3 7 4 13 5 11 6 10 7 12 8 11 9 10 10 9 11 8 12 7 13 8 14 8"/><path d="M0 0 1 23 2 11 3 9 4 7 5 6 6 5 7 5 8 5 9 4 10 4 11 4 12 4 13 4 14 4"/><path d="M0 0 1 22 2 20 3 14 4 12 5 10 6 9 7 8 8 7 9 6 10 6 11 6 12 6 13 5 14 6"/><path d="M0 0 1 4 2 2 3 2 4 1 5 2 6 2 7 2 8 2 9 2 10 2 11 2 12 2 13 2 14 1"/><path d="M0 0 1 50 2 30 3 22 4 19 5 15 6 12 7 11 8 10 9 9 10 8 11 8 12 7 13 7 14 6"/><path d="M0 0 1 8 2 11 3 10 4 8 5 9 6 7 7 8 8 7 9 6 10 6 11 5 12 5 13 5 14 4"/><path d="M0 0 1 16 2 20 3 14 4 11 5 9 6 8 7 7 8 6 9 6 10 6 11 5 12 5 13 5 14 5"/><path d="M0 0 1 0 2 8 3 10 4 9 5 9 6 9 7 7 8 7 9 6 10 6 11 6 12 6 13 6 14 5"/><path d="M0 0 1 21 2 18 3 12 4 13 5 11 6 9 7 10 8 9 9 8 10 7 11 7 12 8 13 9 14 10"/><path d="M0 0 1 8 2 7 3 7 4 6 5 5 6 4 7 6 8 6 9 7 10 7 11 10 12 10 13 9 14 9"/><path d="M0 0 1 20 2 12 3 8 4 6 5 7 6 6 7 5 8 5 9 7 10 6 11 6 12 6 13 6 14 6"/><path d="M0 0 1 10 2 7 3 8 4 6 5 5 6 4 7 3 8 3 9 3 10 3 11 3 12 3 13 2 14 2"/><path d="M0 0 1 18 2 11 3 7 4 6 5 5 6 5 7 4 8 3 9 3 10 3 11 3 12 3 13 3 14 3"/><path d="M0 0 1 24 2 15 3 10 4 8 5 6 6 5 7 4 8 4 9 4 10 3 11 3 12 3 13 3 14 2"/><path d="M0 0 1 16 2 14 3 9 4 8 5 6 6 5 7 5 8 4 9 4 10 4 11 4 12 3 13 3 14 3"/></g><g stroke="#555" stroke-opacity="0.0325" stroke-width="0.8"><path d="M0 0 1 1 2 2 3 2 4 2 5 2 6 4 7 4 8 4 9 4 10 4 11 3 12 3 13 4 14 4"/><path d="M0 0 1 5 2 16 3 12 4 10 5 8 6 7 7 6 8 5 9 5 10 5 11 5 12 5 13 4 14 4"/><path d="M0 0 1 4 2 20 3 13 4 11 5 9 6 8 7 7 8 7 9 7 10 7 11 6 12 6 13 5 14 6"/><path d="M0 0 1 5 2 5 3 5 4 5 5 6 6 5 7 5 8 8 9 8 10 8 11 8 12 7 13 7 14 7"/><path d="M0 0 1 7 2 11 3 9 4 8 5 8 6 7 7 6 8 6 9 5 10 5 11 4 12 4 13 4 14 4"/><path d="M0 0 1 0 2 31 3 27 4 21 5 17 6 17 7 17 8 15 9 15 10 13 11 13 12 12 13 11 14 11"/><path d="M0 0 1 17 2 12 3 9 4 7 5 6 6 6 7 5 8 5 9 5 10 5 11 4 12 4 13 4 14 4"/><path d="M0 0 1 0 2 2 3 2 4 2 5 6 6 7 7 11 8 10 9 9 10 11 11 10 12 9 13 11 14 10"/><path d="M0 0 1 30 2 15 3 11 4 8 5 7 6 6 7 6 8 5 9 6 10 5 11 5 12 5 13 4 14 4"/><path d="M0 0 1 29 2 22 3 16 4 12 5 11 6 11 7 9 8 8 9 7 10 7 11 7 12 6 13 6 14 5"/><path d="M0 0 1 23 2 12 3 10 4 8 5 7 6 6 7 5 8 5 9 5 10 4 11 4 12 4 13 4 14 4"/><path d="M0 0 1 5 2 12 3 8 4 6 5 6 6 5 7 4 8 4 9 4 10 3 11 3 12 3 13 3 14 3"/><path d="M0 0 1 33 2 18 3 12 4 10 5 8 6 8 7 7 8 6 9 5 10 5 11 5 12 4 13 4 14 4"/><path d="M0 0 1 6 2 14 3 10 4 10 5 8 6 8 7 8 8 9 9 8 10 8 11 9 12 9 13 8 14 8"/><path d="M0 0 1 12 2 10 3 7 4 8 5 8 6 7 7 6 8 5 9 6 10 7 11 7 12 6 13 6 14 6"/><path d="M0 0 1 28 2 14 3 9 4 7 5 6 6 5 7 5 8 4 9 4 10 3 11 3 12 3 13 3 14 2"/><path d="M0 0 1 36 2 18 3 12 4 10 5 8 6 7 7 6 8 7 9 6 10 7 11 7 12 6 13 6 14 5"/><path d="M0 0 1 4 2 16 3 11 4 9 5 8 6 8 7 10 8 8 9 7 10 8 11 8 12 8 13 7 14 7"/><path d="M0 0 1 24 2 13 3 10 4 8 5 6 6 8 7 8 8 7 9 8 10 8 11 8 12 8 13 7 14 7"/><path d="M0 0 1 49 2 25 3 17 4 13 5 10 6 9 7 11 8 10 9 9 10 8 11 7 12 7 13 6 14 7"/><path d="M0 0 1 11 2 6 3 5 4 4 5 3 6 3 7 3 8 4 9 5 10 5 11 5 12 4 13 4 14 4"/><path d="M0 0 1 24 2 12 3 8 4 6 5 9 6 8 7 7 8 7 9 6 10 6 11 5 12 5 13 5 14 5"/><path d="M0 0 1 1 2 1 3 4 4 5 5 5 6 4 7 4 8 4 9 4 10 4 11 4 12 4 13 3 14 3"/><path d="M0 0 1 26 2 14 3 10 4 8 5 6 6 6 7 5 8 5 9 4 10 4 11 4 12 3 13 3 14 3"/><path d="M0 0 1 2 2 5 3 4 4 3 5 3 6 2 7 2 8 3 9 2 10 2 11 2 12 2 13 2 14 2"/><path d="M0 0 1 11 2 5 3 4 4 12 5 10 6 9 7 8 8 7 9 7 10 6 11 7 12 6 13 6 14 5"/><path d="M0 0 1 19 2 9 3 12 4 10 5 8 6 7 7 6 8 6 9 6 10 7 11 7 12 6 13 6 14 5"/><path d="M0 0 1 20 2 11 3 8 4 6 5 5 6 5 7 5 8 4 9 4 10 4 11 4 12 3 13 3 14 3"/><path d="M0 0 1 33 2 18 3 13 4 10 5 9 6 8 7 8 8 7 9 6 10 6 11 6 12 6 13 7 14 6"/><path d="M0 0 1 39 2 23 3 18 4 18 5 15 6 14 7 12 8 11 9 10 10 9 11 8 12 8 13 8 14 8"/><path d="M0 0 1 33 2 22 3 14 4 11 5 9 6 8 7 7 8 6 9 6 10 5 11 5 12 5 13 5 14 5"/><path d="M0 0 1 36 2 18 3 14 4 12 5 12 6 10 7 9 8 8 9 7 10 6 11 6 12 6 13 5 14 5"/><path d="M0 0 1 32 2 16 3 12 4 9 5 9 6 7 7 7 8 6 9 7 10 7 11 6 12 6 13 6 14 6"/><path d="M0 0 1 12 2 6 3 6 4 8 5 7 6 6 7 5 8 6 9 5 10 5 11 4 12 4 13 4 14 4"/><path d="M0 0 1 50 2 25 3 18 4 16 5 14 6 13 7 11 8 10 9 9 10 8 11 8 12 8 13 7 14 7"/><path d="M0 0 1 33 2 16 3 11 4 11 5 9 6 8 7 7 8 6 9 6 10 6 11 6 12 5 13 5 14 5"/><path d="M0 0 1 5 2 4 3 8 4 7 5 6 6 5 7 4 8 4 9 5 10 4 11 4 12 4 13 3 14 3"/><path d="M0 0 1 15 2 15 3 10 4 13 5 15 6 15 7 14 8 14 9 13 10 14 11 13 12 13 13 12 14 12"/><path d="M0 0 1 2 2 12 3 13 4 12 5 10 6 9 7 8 8 7 9 7 10 6 11 6 12 5 13 5 14 5"/><path d="M0 0 1 8 2 7 3 5 4 4 5 3 6 6 7 5 8 4 9 5 10 4 11 5 12 4 13 4 14 4"/><path d="M0 0 1 39 2 23 3 18 4 14 5 12 6 10 7 9 8 9 9 8 10 7 11 6 12 6 13 6 14 6"/><path d="M0 0 1 31 2 16 3 10 4 8 5 7 6 6 7 5 8 5 9 4 10 4 11 4 12 3 13 3 14 3"/><path d="M0 0 1 50 2 26 3 17 4 13 5 11 6 9 7 8 8 7 9 7 10 6 11 6 12 5 13 5 14 5"/></g><g stroke="#555" stroke-opacity="0.035" stroke-width="0.8"><path d="M0 0 1 21 2 11 3 8 4 10 5 8 6 7 7 6 8 6 9 5 10 5 11 4 12 4 13 4 14 3"/><path d="M0 0 1 14 2 7 3 5 4 4 5 5 6 4 7 4 8 4 9 3 10 3 11 3 12 3 13 3 14 2"/><path d="M0 0 1 6 2 10 3 8 4 8 5 7 6 6 7 5 8 5 9 4 10 4 11 4 12 4 13 4 14 4"/><path d="M0 0 1 13 2 15 3 12 4 11 5 9 6 8 7 7 8 7 9 6 10 5 11 5 12 5 13 4 14 4"/><path d="M0 0 1 3 2 7 3 8 4 7 5 6 6 9 7 9 8 8 9 8 10 7 11 7 12 6 13 7 14 7"/><path d="M0 0 1 38 2 20 3 13 4 11 5 9 6 7 7 6 8 6 9 5 10 5 11 4 12 4 13 4 14 4"/><path d="M0 0 1 23 2 13 3 10 4 8 5 7 6 6 7 5 8 5 9 6 10 5 11 5 12 5 13 5 14 5"/><path d="M0 0 1 1 2 15 3 12 4 9 5 10 6 9 7 8 8 7 9 6 10 5 11 5 12 5 13 5 14 5"/><path d="M0 0 1 7 2 6 3 4 4 3 5 3 6 4 7 3 8 3 9 3 10 3 11 3 12 3 13 3 14 2"/><path d="M0 0 1 7 2 5 3 4 4 5 5 4 6 4 7 4 8 3 9 3 10 3 11 3 12 3 13 2 14 2"/><path d="M0 0 1 6 2 19 3 14 4 11 5 9 6 9 7 9 8 8 9 8 10 9 11 9 12 8 13 8 14 8"/><path d="M0 0 1 4 2 5 3 6 4 5 5 4 6 4 7 3 8 4 9 4 10 4 11 4 12 4 13 3 14 3"/><path d="M0 0 1 11 2 9 3 7 4 6 5 5 6 5 7 5 8 4 9 4 10 4 11 3 12 3 13 3 14 3"/><path d="M0 0 1 6 2 13 3 8 4 6 5 6 6 5 7 5 8 4 9 7 10 6 11 6 12 6 13 5 14 5"/><path d="M0 0 1 31 2 15 3 16 4 13 5 11 6 9 7 8 8 7 9 6 10 6 11 6 12 6 13 6 14 7"/><path d="M0 0 1 14 2 8 3 10 4 10 5 10 6 10 7 10 8 9 9 8 10 7 11 7 12 6 13 6 14 6"/><path d="M0 0 1 11 2 9 3 6 4 7 5 6 6 6 7 5 8 6 9 5 10 5 11 4 12 5 13 5 14 5"/><path d="M0 0 1 14 2 13 3 9 4 11 5 9 6 8 7 7 8 6 9 6 10 5 11 5 12 6 13 6 14 6"/><path d="M0 0 1 25 2 15 3 10 4 8 5 6 6 5 7 5 8 4 9 4 10 4 11 4 12 3 13 4 14 3"/><path d="M0 0 1 16 2 11 3 8 4 8 5 6 6 6 7 5 8 5 9 5 10 4 11 4 12 4 13 4 14 3"/><path d="M0 0 1 32 2 17 3 11 4 9 5 7 6 6 7 5 8 5 9 4 10 4 11 4 12 4 13 4 14 4"/><path d="M0 0 1 4 2 8 3 6 4 5 5 4 6 5 7 4 8 4 9 4 10 4 11 3 12 3 13 3 14 3"/><path d="M0 0 1 18 2 11 3 8 4 6 5 5 6 4 7 4 8 3 9 3 10 3 11 3 12 3 13 3 14 3"/><path d="M0 0 1 0 2 10 3 7 4 14 5 11 6 10 7 8 8 9 9 9 10 8 11 7 12 7 13 7 14 6"/><path d="M0 0 1 0 2 5 3 10 4 10 5 8 6 7 7 6 8 6 9 7 10 6 11 6 12 5 13 5 14 5"/><path d="M0 0 1 18 2 14 3 15 4 15 5 14 6 14 7 16 8 14 9 13 10 15 11 13 12 13 13 14 14 13"/><path d="M0 0 1 8 2 10 3 7 4 10 5 8 6 10 7 8 8 7 9 8 10 8 11 8 12 8 13 7 14 7"/><path d="M0 0 1 50 2 26 3 22 4 17 5 15 6 12 7 13 8 11 9 10 10 10 11 9 12 8 13 8 14 9"/><path d="M0 0 1 8 2 17 3 12 4 9 5 7 6 6 7 5 8 5 9 5 10 4 11 4 12 4 13 3 14 4"/><path d="M0 0 1 3 2 2 3 1 4 1 5 1 6 2 7 2 8 1 9 1 10 1 11 1 12 2 13 2 14 2"/><path d="M0 0 1 12 2 7 3 8 4 8 5 6 6 6 7 6 8 5 9 4 10 4 11 4 12 3 13 3 14 3"/><path d="M0 0 1 10 2 11 3 9 4 7 5 7 6 7 7 6 8 5 9 5 10 5 11 6 12 6 13 7 14 7"/><path d="M0 0 1 10 2 5 3 8 4 6 5 6 6 5 7 5 8 4 9 4 10 4 11 4 12 4 13 4 14 4"/><path d="M0 0 1 3 2 2 3 3 4 3 5 2 6 3 7 3 8 3 9 2 10 2 11 3 12 3 13 3 14 2"/><path d="M0 0 1 5 2 7 3 7 4 8 5 6 6 5 7 5 8 4 9 4 10 4 11 3 12 3 13 3 14 3"/><path d="M0 0 1 3 2 7 3 5 4 4 5 4 6 4 7 5 8 4 9 5 10 5 11 5 12 5 13 5 14 5"/><path d="M0 0 1 6 2 26 3 25 4 19 5 16 6 14 7 12 8 10 9 9 10 9 11 9 12 8 13 9 14 8"/><path d="M0 0 1 11 2 7 3 5 4 7 5 5 6 5 7 4 8 4 9 4 10 4 11 4 12 3 13 3 14 3"/><path d="M0 0 1 3 2 7 3 7 4 5 5 4 6 4 7 3 8 3 9 3 10 3 11 2 12 2 13 2 14 2"/><path d="M0 0 1 0 2 0 3 0 4 0 5 1 6 1 7 1 8 1 9 1 10 1 11 1 12 2 13 2 14 2"/></g><g stroke="#555" stroke-opacity="0.0375" stroke-width="0.8"><path d="M0 0 1 39 2 20 3 13 4 10 5 9 6 7 7 6 8 6 9 5 10 5 11 5 12 4 13 4 14 4"/><path d="M0 0 1 3 2 9 3 12 4 10 5 8 6 10 7 8 8 8 9 8 10 7 11 7 12 6 13 6 14 6"/><path d="M0 0 1 24 2 13 3 11 4 9 5 9 6 8 7 7 8 6 9 6 10 6 11 5 12 5 13 5 14 5"/><path d="M0 0 1 13 2 12 3 8 4 6 5 5 6 4 7 4 8 3 9 3 10 3 11 3 12 3 13 3 14 3"/><path d="M0 0 1 15 2 11 3 9 4 11 5 15 6 13 7 12 8 12 9 11 10 12 11 12 12 11 13 11 14 10"/><path d="M0 0 1 50 2 26 3 19 4 15 5 13 6 11 7 9 8 9 9 9 10 9 11 8 12 8 13 8 14 8"/><path d="M0 0 1 19 2 10 3 7 4 6 5 6 6 7 7 6 8 7 9 6 10 6 11 8 12 7 13 7 14 7"/><path d="M0 0 1 12 2 8 3 7 4 6 5 5 6 4 7 6 8 5 9 5 10 4 11 4 12 4 13 4 14 4"/><path d="M0 0 1 4 2 6 3 6 4 13 5 11 6 9 7 9 8 8 9 7 10 7 11 7 12 6 13 6 14 6"/><path d="M0 0 1 23 2 12 3 8 4 6 5 6 6 5 7 4 8 4 9 4 10 4 11 3 12 3 13 3 14 3"/><path d="M0 0 1 24 2 12 3 9 4 6 5 8 6 8 7 7 8 6 9 6 10 8 11 7 12 7 13 8 14 7"/><path d="M0 0 1 10 2 14 3 12 4 9 5 11 6 10 7 11 8 10 9 9 10 8 11 8 12 8 13 7 14 7"/><path d="M0 0 1 4 2 8 3 18 4 17 5 15 6 13 7 12 8 10 9 11 10 10 11 9 12 9 13 8 14 8"/><path d="M0 0 1 3 2 11 3 8 4 6 5 5 6 5 7 5 8 5 9 4 10 4 11 4 12 3 13 3 14 4"/><path d="M0 0 1 9 2 13 3 9 4 8 5 7 6 6 7 6 8 5 9 6 10 6 11 5 12 5 13 4 14 4"/><path d="M0 0 1 19 2 13 3 9 4 8 5 7 6 6 7 7 8 6 9 6 10 7 11 6 12 6 13 6 14 7"/><path d="M0 0 1 25 2 21 3 14 4 12 5 11 6 9 7 8 8 7 9 6 10 6 11 5 12 6 13 6 14 8"/><path d="M0 0 1 37 2 19 3 13 4 11 5 9 6 8 7 7 8 6 9 6 10 5 11 5 12 5 13 5 14 4"/><path d="M0 0 1 10 2 7 3 7 4 6 5 5 6 5 7 5 8 4 9 4 10 4 11 3 12 3 13 3 14 3"/><path d="M0 0 1 5 2 9 3 6 4 5 5 4 6 4 7 4 8 3 9 3 10 3 11 5 12 5 13 4 14 4"/><path d="M0 0 1 9 2 6 3 10 4 10 5 10 6 12 7 12 8 12 9 12 10 11 11 10 12 10 13 9 14 9"/><path d="M0 0 1 27 2 13 3 9 4 8 5 7 6 6 7 6 8 5 9 5 10 5 11 5 12 5 13 5 14 5"/><path d="M0 0 1 0 2 2 3 2 4 4 5 4 6 3 7 3 8 3 9 3 10 3 11 2 12 2 13 4 14 6"/><path d="M0 0 1 7 2 4 3 3 4 2 5 3 6 3 7 2 8 2 9 2 10 2 11 2 12 2 13 2 14 2"/><path d="M0 0 1 1 2 19 3 14 4 12 5 10 6 9 7 8 8 7 9 7 10 6 11 5 12 5 13 6 14 7"/><path d="M0 0 1 3 2 2 3 2 4 4 5 5 6 6 7 5 8 4 9 4 10 4 11 4 12 4 13 6 14 6"/><path d="M0 0 1 9 2 8 3 7 4 7 5 6 6 5 7 8 8 7 9 8 10 8 11 8 12 8 13 8 14 8"/><path d="M0 0 1 8 2 5 3 5 4 10 5 9 6 10 7 8 8 10 9 9 10 9 11 9 12 8 13 8 14 8"/><path d="M0 0 1 16 2 9 3 6 4 5 5 6 6 5 7 5 8 4 9 4 10 4 11 4 12 3 13 3 14 3"/><path d="M0 0 1 13 2 9 3 7 4 7 5 6 6 5 7 4 8 4 9 3 10 3 11 3 12 3 13 3 14 3"/><path d="M0 0 1 2 2 1 3 1 4 1 5 5 6 5 7 4 8 3 9 4 10 4 11 4 12 4 13 4 14 4"/><path d="M0 0 1 1 2 1 3 0 4 0 5 1 6 1 7 1 8 1 9 1 10 1 11 1 12 1 13 1 14 2"/></g><g stroke="#555" stroke-opacity="0.04" stroke-width="0.8"><path d="M0 0 1 0 2 9 3 11 4 8 5 8 6 7 7 7 8 7 9 6 10 5 11 5 12 5 13 5 14 4"/><path d="M0 0 1 7 2 8 3 17 4 16 5 13 6 12 7 10 8 9 9 8 10 8 11 7 12 7 13 7 14 6"/><path d="M0 0 1 3 2 8 3 6 4 7 5 7 6 6 7 5 8 5 9 4 10 4 11 3 12 3 13 3 14 3"/><path d="M0 0 1 7 2 5 3 4 4 6 5 8 6 6 7 6 8 5 9 5 10 4 11 4 12 4 13 4 14 4"/><path d="M0 0 1 2 2 5 3 10 4 9 5 7 6 6 7 5 8 5 9 6 10 5 11 5 12 6 13 7 14 7"/><path d="M0 0 1 10 2 5 3 3 4 5 5 7 6 6 7 5 8 5 9 5 10 5 11 5 12 5 13 5 14 4"/><path d="M0 0 1 7 2 4 3 3 4 3 5 3 6 3 7 3 8 2 9 2 10 2 11 2 12 2 13 2 14 2"/><path d="M0 0 1 1 2 1 3 2 4 2 5 1 6 1 7 1 8 1 9 1 10 2 11 1 12 1 13 1 14 1"/><path d="M0 0 1 5 2 3 3 2 4 2 5 2 6 2 7 2 8 2 9 1 10 1 11 1 12 1 13 1 14 1"/></g><g stroke="#555" stroke-opacity="0.0425" stroke-width="0.8"><path d="M0 0 1 40 2 20 3 14 4 10 5 8 6 7 7 7 8 6 9 5 10 5 11 4 12 4 13 4 14 4"/><path d="M0 0 1 2 2 1 3 3 4 6 5 6 6 5 7 4 8 4 9 3 10 3 11 4 12 4 13 3 14 3"/><path d="M0 0 1 32 2 21 3 14 4 11 5 9 6 8 7 7 8 6 9 5 10 5 11 5 12 5 13 4 14 4"/><path d="M0 0 1 2 2 2 3 2 4 2 5 1 6 1 7 1 8 1 9 1 10 1 11 1 12 1 13 1 14 1"/></g><g stroke="#555" stroke-opacity="0.045" stroke-width="0.8"><path d="M0 0 1 1 2 4 3 3 4 2 5 2 6 2 7 2 8 2 9 2 10 2 11 2 12 2 13 2 14 1"/></g><g stroke="#555" stroke-opacity="0.0475" stroke-width="0.8"><path d="M0 0 1 17 2 9 3 8 4 6 5 5 6 4 7 4 8 3 9 3 10 3 11 3 12 3 13 3 14 3"/><path d="M0 0 1 2 2 3 3 3 4 2 5 2 6 2 7 2 8 2 9 2 10 2 11 2 12 2 13 2 14 2"/><path d="M0 0 1 0 2 1 3 2 4 1 5 1 6 1 7 1 8 1 9 1 10 2 11 2 12 2 13 1 14 1"/><path d="M0 0 1 6 2 4 3 3 4 2 5 2 6 2 7 1 8 1 9 1 10 1 11 1 12 1 13 1 14 1"/><path d="M0 0 1 25 2 14 3 10 4 9 5 7 6 6 7 6 8 6 9 6 10 5 11 5 12 5 13 4 14 4"/><path d="M0 0 1 2 2 1 3 1 4 1 5 1 6 1 7 1 8 1 9 1 10 1 11 1 12 1 13 1 14 1"/></g><g stroke="#555" stroke-opacity="0.05" stroke-width="0.8"><path d="M0 0 1 11 2 6 3 4 4 3 5 3 6 2 7 2 8 2 9 2 10 1 11 1 12 1 13 1 14 1"/><path d="M0 0 1 12 2 6 3 4 4 5 5 4 6 4 7 3 8 3 9 3 10 3 11 3 12 3 13 3 14 3"/><path d="M0 0 1 0 2 0 3 0 4 0 5 0 6 1 7 1 8 1 9 1 10 1 11 1 12 1 13 1 14 1"/><path d="M0 0 1 22 2 11 3 8 4 6 5 5 6 4 7 4 8 4 9 3 10 3 11 3 12 3 13 2 14 2"/><path d="M0 0 1 3 2 2 3 1 4 2 5 3 6 3 7 2 8 2 9 2 10 2 11 2 12 2 13 2 14 2"/><path d="M0 0 1 0 2 0 3 0 4 1 5 0 6 0 7 0 8 1 9 1 10 1 11 1 12 1 13 1 14 1"/></g><g stroke="#555" stroke-opacity="0.0525" stroke-width="0.8"><path d="M0 0 1 11 2 7 3 6 4 5 5 6 6 5 7 5 8 4 9 4 10 3 11 3 12 3 13 3 14 3"/><path d="M0 0 1 3 2 3 3 3 4 2 5 2 6 2 7 2 8 2 9 2 10 2 11 1 12 1 13 1 14 1"/><path d="M0 0 1 11 2 6 3 4 4 3 5 3 6 4 7 4 8 4 9 3 10 3 11 3 12 3 13 3 14 3"/><path d="M0 0 1 1 2 1 3 1 4 1 5 1 6 1 7 1 8 1 9 1 10 1 11 1 12 1 13 1 14 1"/></g><g stroke="#555" stroke-opacity="0.055" stroke-width="0.8"><path d="M0 0 1 6 2 5 3 4 4 3 5 3 6 3 7 3 8 2 9 2 10 2 11 2 12 2 13 2 14 2"/><path d="M0 0 1 20 2 10 3 7 4 5 5 4 6 4 7 3 8 3 9 2 10 2 11 2 12 2 13 2 14 2"/><path d="M0 0 1 0 2 0 3 0 4 0 5 0 6 0 7 0 8 0 9 0 10 0 11 0 12 0 13 0 14 0"/><path d="M0 0 1 0 2 5 3 5 4 4 5 3 6 3 7 2 8 2 9 2 10 2 11 2 12 2 13 2 14 2"/><path d="M0 0 1 3 2 1 3 1 4 1 5 1 6 3 7 3 8 3 9 2 10 2 11 3 12 2 13 2 14 2"/></g><g stroke="#555" stroke-opacity="0.0575" stroke-width="0.8"><path d="M0 0 1 7 2 4 3 3 4 3 5 2 6 2 7 2 8 2 9 2 10 3 11 3 12 3 13 3 14 3"/><path d="M0 0 1 4 2 4 3 4 4 3 5 3 6 2 7 2 8 2 9 2 10 2 11 2 12 2 13 2 14 2"/></g><g stroke="#555" stroke-opacity="0.06" stroke-width="0.8"><path d="M0 0 1 14 2 9 3 6 4 5 5 6 6 5 7 4 8 4 9 4 10 4 11 4 12 3 13 3 14 3"/></g><g stroke="#555" stroke-opacity="0.0625" stroke-width="0.8"><path d="M0 0 1 1 2 1 3 1 4 1 5 1 6 1 7 1 8 0 9 0 10 1 11 1 12 1 13 1 14 1"/><path d="M0 0 1 6 2 7 3 4 4 5 5 4 6 5 7 4 8 3 9 3 10 3 11 3 12 3 13 3 14 3"/><path d="M0 0 1 0 2 1 3 1 4 1 5 1 6 0 7 0 8 1 9 0 10 0 11 0 12 0 13 0 14 1"/><path d="M0 0 1 0 2 0 3 0 4 0 5 1 6 1 7 1 8 1 9 2 10 2 11 1 12 2 13 2 14 1"/></g><g stroke="#555" stroke-opacity="0.065" stroke-width="0.8"><path d="M0 0 1 2 2 2 3 1 4 2 5 1 6 1 7 1 8 1 9 1 10 1 11 1 12 1 13 1 14 1"/><path d="M0 0 1 1 2 6 3 4 4 4 5 3 6 3 7 3 8 2 9 2 10 2 11 2 12 2 13 2 14 2"/></g><g stroke="#555" stroke-opacity="0.0675" stroke-width="0.8"><path d="M0 0 1 4 2 6 3 6 4 5 5 4 6 4 7 4 8 3 9 3 10 3 11 3 12 3 13 2 14 2"/></g><g stroke="#555" stroke-opacity="0.07" stroke-width="0.8"><path d="M0 0 1 0 2 0 3 0 4 0 5 0 6 1 7 1 8 1 9 1 10 1 11 1 12 1 13 1 14 0"/><path d="M0 0 1 27 2 15 3 10 4 7 5 7 6 6 7 5 8 6 9 5 10 5 11 6 12 6 13 5 14 5"/><path d="M0 0 1 3 2 2 3 1 4 1 5 1 6 1 7 1 8 1 9 1 10 1 11 1 12 1 13 1 14 1"/></g><g stroke="#555" stroke-opacity="0.0725" stroke-width="0.8"><path d="M0 0 1 0 2 1 3 1 4 1 5 1 6 0 7 1 8 2 9 3 10 4 11 4 12 4 13 4 14 3"/><path d="M0 0 1 11 2 7 3 5 4 4 5 4 6 3 7 3 8 3 9 2 10 2 11 2 12 2 13 2 14 2"/><path d="M0 0 1 0 2 0 3 0 4 2 5 1 6 1 7 1 8 1 9 1 10 1 11 1 12 1 13 1 14 1"/><path d="M0 0 1 16 2 10 3 7 4 5 5 5 6 4 7 3 8 3 9 3 10 3 11 2 12 2 13 2 14 2"/><path d="M0 0 1 36 2 18 3 12 4 9 5 8 6 7 7 6 8 5 9 5 10 4 11 4 12 4 13 4 14 4"/><path d="M0 0 1 4 2 5 3 3 4 3 5 3 6 3 7 2 8 2 9 2 10 2 11 2 12 2 13 2 14 2"/></g><g stroke="#555" stroke-opacity="0.0775" stroke-width="0.8"><path d="M0 0 1 10 2 7 3 6 4 4 5 4 6 3 7 3 8 2 9 2 10 2 11 2 12 2 13 2 14 1"/><path d="M0 0 1 1 2 1 3 1 4 1 5 1 6 2 7 2 8 3 9 3 10 3 11 2 12 2 13 2 14 2"/><path d="M0 0 1 2 2 1 3 1 4 1 5 1 6 1 7 1 8 1 9 1 10 1 11 1 12 1 13 1 14 1"/><path d="M0 0 1 2 2 1 3 1 4 1 5 1 6 1 7 1 8 1 9 1 10 1 11 1 12 1 13 0 14 0"/><path d="M0 0 1 8 2 6 3 9 4 7 5 6 6 5 7 4 8 4 9 4 10 4 11 3 12 3 13 3 14 3"/></g><g stroke="#555" stroke-opacity="0.08" stroke-width="0.8"><path d="M0 0 1 13 2 7 3 6 4 5 5 4 6 4 7 4 8 4 9 4 10 3 11 3 12 3 13 3 14 3"/><path d="M0 0 1 11 2 8 3 5 4 4 5 5 6 5 7 5 8 4 9 4 10 4 11 4 12 3 13 3 14 3"/><path d="M0 0 1 0 2 2 3 2 4 2 5 2 6 1 7 1 8 1 9 1 10 1 11 1 12 1 13 1 14 1"/></g><g stroke="#555" stroke-opacity="0.0825" stroke-width="0.8"><path d="M0 0 1 0 2 0 3 0 4 0 5 0 6 0 7 0 8 0 9 0 10 0 11 0 12 0 13 0 14 1"/><path d="M0 0 1 10 2 6 3 4 4 3 5 3 6 2 7 2 8 2 9 2 10 2 11 2 12 2 13 2 14 2"/></g><g stroke="#555" stroke-opacity="0.085" stroke-width="0.8"><path d="M0 0 1 1 2 1 3 1 4 2 5 2 6 1 7 2 8 2 9 2 10 2 11 2 12 2 13 2 14 2"/><path d="M0 0 1 16 2 9 3 7 4 6 5 5 6 4 7 4 8 3 9 3 10 3 11 3 12 3 13 3 14 3"/><path d="M0 0 1 1 2 1 3 2 4 1 5 1 6 1 7 1 8 1 9 1 10 1 11 0 12 1 13 1 14 1"/><path d="M0 0 1 4 2 3 3 5 4 4 5 3 6 3 7 3 8 2 9 2 10 2 11 2 12 2 13 2 14 2"/><path d="M0 0 1 8 2 4 3 7 4 7 5 6 6 5 7 5 8 6 9 6 10 5 11 5 12 5 13 5 14 4"/><path d="M0 0 1 0 2 5 3 3 4 4 5 3 6 3 7 3 8 3 9 3 10 3 11 2 12 2 13 2 14 2"/><path d="M0 0 1 3 2 2 3 2 4 2 5 1 6 2 7 1 8 2 9 2 10 2 11 2 12 2 13 2 14 1"/><path d="M0 0 1 0 2 0 3 0 4 0 5 0 6 0 7 0 8 0 9 0 10 0 11 0 12 0 13 0 14 0"/></g><g stroke="#555" stroke-opacity="0.0875" stroke-width="0.8"><path d="M0 0 1 34 2 18 3 12 4 9 5 8 6 7 7 7 8 6 9 5 10 5 11 5 12 5 13 4 14 4"/><path d="M0 0 1 0 2 0 3 0 4 0 5 1 6 1 7 1 8 1 9 1 10 1 11 1 12 1 13 1 14 1"/><path d="M0 0 1 14 2 7 3 9 4 7 5 5 6 5 7 4 8 4 9 3 10 3 11 3 12 3 13 3 14 3"/><path d="M0 0 1 1 2 2 3 1 4 1 5 2 6 2 7 2 8 3 9 2 10 3 11 3 12 2 13 2 14 2"/><path d="M0 0 1 5 2 3 3 3 4 2 5 2 6 2 7 3 8 3 9 2 10 2 11 2 12 2 13 2 14 2"/><path d="M0 0 1 13 2 9 3 7 4 5 5 4 6 4 7 4 8 3 9 3 10 3 11 3 12 3 13 3 14 2"/><path d="M0 0 1 37 2 20 3 14 4 11 5 8 6 7 7 7 8 6 9 6 10 5 11 5 12 4 13 4 14 4"/></g><g stroke="#555" stroke-opacity="0.09" stroke-width="0.8"><path d="M0 0 1 0 2 0 3 0 4 0 5 1 6 1 7 1 8 1 9 1 10 1 11 1 12 1 13 1 14 1"/><path d="M0 0 1 5 2 3 3 3 4 2 5 2 6 2 7 2 8 2 9 1 10 2 11 1 12 1 13 1 14 1"/></g></g><g fill="none" stroke-linejoin="round" transform="matrix(7.98 0 0 -0.193000 53.1 286.3)"><g stroke="#333" stroke-opacity="0.62" stroke-width="1.0"><path d="M0 0 1 61 2 56 3 43 4 33 5 31 6 30 7 28 8 27 9 25 10 22 11 21 12 21 13 20 14 18"/><path d="M0 0 1 218 2 130 3 90 4 68 5 56 6 47 7 41 8 44 9 40 10 38 11 34 12 31 13 29 14 27"/><path d="M0 0 1 33 2 65 3 58 4 48 5 49 6 45 7 39 8 35 9 31 10 30 11 27 12 25 13 23 14 22"/><path d="M0 0 1 100 2 83 3 59 4 54 5 44 6 40 7 35 8 32 9 29 10 28 11 26 12 24 13 22 14 21"/><path d="M0 0 1 1 2 1 3 1 4 2 5 4 6 3 7 3 8 3 9 3 10 3 11 3 12 3 13 2 14 2"/><path d="M0 0 1 3 2 3 3 2 4 2 5 2 6 2 7 2 8 3 9 3 10 3 11 3 12 3 13 2 14 3"/></g></g><g fill="none" stroke-linejoin="round" transform="matrix(7.714 0 0 0.975000 226.6 34.3)"><g stroke="#555" stroke-opacity="0.0075" stroke-width="0.8"><path d="M0 38 1 62 2 100 3 68 4 100 5 77 6 100 7 0 8 36 9 100 10 54 11 44 12 80 13 0 14 100"/><path d="M0 69 1 56 2 15 3 100 4 52 5 41 6 63 7 21 8 70 9 85 10 34 11 60 12 50 13 100 14 78"/><path d="M0 54 1 100 2 86 3 62 4 23 5 62 6 66 7 89 8 0 9 81 10 70 11 100 12 72 13 23 14 0"/><path d="M0 0 1 0 2 40 3 0 4 22 5 0 6 59 7 0 8 77 9 68 10 100 11 100 12 100 13 88 14 100"/><path d="M0 0 1 10 2 100 3 26 4 100 5 14 6 19 7 40 8 51 9 100 10 73 11 100 12 33 13 0 14 25"/><path d="M0 42 1 41 2 43 3 100 4 87 5 83 6 79 7 44 8 57 9 100 10 100 11 32 12 72 13 69 14 21"/><path d="M0 100 1 0 2 24 3 100 4 81 5 42 6 100 7 0 8 37 9 88 10 32 11 100 12 34 13 0 14 26"/><path d="M0 59 1 0 2 17 3 38 4 33 5 19 6 100 7 38 8 83 9 37 10 87 11 58 12 90 13 10 14 84"/><path d="M0 100 1 17 2 100 3 100 4 36 5 100 6 31 7 68 8 100 9 81 10 100 11 11 12 33 13 85 14 62"/><path d="M0 83 1 100 2 58 3 72 4 68 5 80 6 20 7 21 8 14 9 100 10 45 11 36 12 42 13 90 14 26"/><path d="M0 41 1 12 2 42 3 100 4 100 5 0 6 16 7 38 8 90 9 26 10 100 11 70 12 11 13 64 14 100"/><path d="M0 15 1 79 2 40 3 21 4 0 5 100 6 56 7 100 8 19 9 100 10 100 11 100 12 0 13 100 14 22"/></g><g stroke="#555" stroke-opacity="0.01" stroke-width="0.8"><path d="M0 43 1 100 2 44 3 13 4 26 5 59 6 52 7 36 8 100 9 67 10 0 11 100 12 32 13 100 14 72"/><path d="M0 24 1 64 2 34 3 85 4 0 5 21 6 0 7 62 8 58 9 0 10 23 11 0 12 87 13 11 14 65"/><path d="M0 75 1 0 2 21 3 42 4 100 5 42 6 0 7 100 8 64 9 0 10 36 11 31 12 63 13 66 14 100"/><path d="M0 79 1 83 2 38 3 84 4 67 5 37 6 100 7 100 8 40 9 87 10 53 11 100 12 100 13 77 14 100"/><path d="M0 90 1 100 2 0 3 100 4 67 5 58 6 0 7 100 8 100 9 79 10 85 11 72 12 100 13 100 14 22"/><path d="M0 19 1 44 2 85 3 100 4 35 5 79 6 100 7 79 8 11 9 25 10 19 11 17 12 29 13 100 14 62"/><path d="M0 86 1 25 2 19 3 100 4 72 5 0 6 100 7 87 8 71 9 22 10 100 11 15 12 39 13 0 14 100"/><path d="M0 49 1 100 2 76 3 87 4 29 5 0 6 33 7 32 8 30 9 18 10 86 11 38 12 76 13 81 14 0"/><path d="M0 33 1 13 2 17 3 63 4 20 5 100 6 32 7 74 8 57 9 24 10 100 11 100 12 60 13 16 14 57"/><path d="M0 42 1 24 2 50 3 31 4 41 5 23 6 36 7 35 8 26 9 83 10 52 11 100 12 18 13 100 14 100"/><path d="M0 100 1 39 2 46 3 100 4 10 5 29 6 100 7 100 8 12 9 83 10 0 11 100 12 100 13 52 14 43"/><path d="M0 0 1 14 2 39 3 100 4 49 5 62 6 67 7 100 8 65 9 100 10 29 11 52 12 72 13 20 14 76"/><path d="M0 0 1 13 2 100 3 0 4 77 5 70 6 51 7 100 8 90 9 100 10 0 11 100 12 0 13 100 14 100"/><path d="M0 60 1 61 2 86 3 100 4 0 5 28 6 73 7 34 8 100 9 38 10 42 11 54 12 77 13 43 14 84"/><path d="M0 37 1 57 2 100 3 58 4 0 5 87 6 100 7 37 8 0 9 0 10 0 11 79 12 100 13 85 14 31"/><path d="M0 58 1 0 2 17 3 60 4 100 5 47 6 33 7 56 8 100 9 17 10 89 11 35 12 0 13 100 14 69"/><path d="M0 100 1 74 2 69 3 83 4 100 5 41 6 45 7 0 8 69 9 0 10 41 11 63 12 100 13 100 14 0"/><path d="M0 100 1 43 2 51 3 13 4 100 5 0 6 79 7 22 8 56 9 100 10 100 11 0 12 100 13 0 14 81"/><path d="M0 0 1 36 2 63 3 55 4 66 5 46 6 100 7 100 8 38 9 18 10 0 11 28 12 55 13 35 14 85"/><path d="M0 72 1 59 2 100 3 0 4 65 5 0 6 0 7 0 8 16 9 100 10 71 11 27 12 19 13 33 14 100"/><path d="M0 58 1 100 2 100 3 100 4 51 5 71 6 53 7 34 8 100 9 100 10 55 11 0 12 28 13 20 14 75"/><path d="M0 10 1 54 2 69 3 62 4 36 5 66 6 50 7 74 8 0 9 49 10 86 11 21 12 29 13 100 14 100"/><path d="M0 23 1 69 2 100 3 100 4 28 5 100 6 100 7 100 8 42 9 100 10 0 11 100 12 88 13 100 14 59"/><path d="M0 100 1 60 2 38 3 57 4 0 5 45 6 15 7 100 8 17 9 81 10 33 11 38 12 65 13 41 14 77"/><path d="M0 41 1 46 2 42 3 13 4 100 5 55 6 100 7 37 8 11 9 0 10 65 11 53 12 19 13 25 14 57"/><path d="M0 14 1 39 2 100 3 80 4 100 5 44 6 23 7 100 8 59 9 57 10 77 11 89 12 0 13 100 14 72"/><path d="M0 66 1 100 2 0 3 14 4 100 5 33 6 69 7 89 8 100 9 32 10 11 11 48 12 32 13 18 14 46"/><path d="M0 86 1 78 2 89 3 33 4 13 5 75 6 46 7 15 8 100 9 11 10 71 11 0 12 35 13 13 14 76"/><path d="M0 100 1 64 2 26 3 58 4 31 5 34 6 63 7 100 8 42 9 41 10 60 11 78 12 35 13 0 14 42"/><path d="M0 100 1 65 2 76 3 100 4 10 5 100 6 86 7 63 8 66 9 100 10 37 11 100 12 100 13 28 14 0"/><path d="M0 100 1 67 2 23 3 53 4 100 5 100 6 100 7 58 8 64 9 30 10 63 11 38 12 37 13 100 14 46"/><path d="M0 79 1 85 2 15 3 35 4 46 5 0 6 82 7 65 8 72 9 69 10 100 11 81 12 24 13 90 14 33"/><path d="M0 100 1 100 2 26 3 34 4 100 5 43 6 50 7 80 8 100 9 37 10 100 11 100 12 100 13 36 14 100"/><path d="M0 18 1 26 2 100 3 53 4 65 5 76 6 13 7 100 8 100 9 31 10 85 11 85 12 100 13 55 14 60"/><path d="M0 68 1 100 2 100 3 100 4 76 5 31 6 15 7 25 8 59 9 24 10 100 11 100 12 89 13 71 14 100"/><path d="M0 79 1 0 2 100 3 100 4 29 5 100 6 81 7 52 8 62 9 85 10 100 11 24 12 26 13 67 14 100"/><path d="M0 66 1 14 2 100 3 66 4 21 5 23 6 56 7 67 8 19 9 51 10 35 11 34 12 75 13 0 14 55"/><path d="M0 25 1 36 2 16 3 36 4 63 5 100 6 38 7 82 8 38 9 70 10 49 11 44 12 100 13 80 14 78"/><path d="M0 32 1 64 2 56 3 14 4 19 5 59 6 71 7 34 8 100 9 46 10 62 11 22 12 69 13 18 14 19"/><path d="M0 67 1 0 2 10 3 15 4 19 5 42 6 61 7 0 8 84 9 100 10 69 11 85 12 48 13 80 14 100"/><path d="M0 100 1 38 2 72 3 100 4 44 5 100 6 65 7 87 8 100 9 12 10 100 11 36 12 67 13 13 14 36"/><path d="M0 0 1 11 2 39 3 100 4 100 5 0 6 0 7 79 8 14 9 100 10 88 11 84 12 100 13 84 14 30"/><path d="M0 60 1 100 2 28 3 100 4 13 5 100 6 66 7 100 8 30 9 82 10 100 11 33 12 82 13 29 14 0"/><path d="M0 24 1 64 2 100 3 80 4 18 5 100 6 0 7 27 8 31 9 0 10 100 11 58 12 26 13 72 14 65"/><path d="M0 15 1 70 2 38 3 0 4 31 5 26 6 0 7 51 8 11 9 80 10 12 11 63 12 86 13 15 14 90"/><path d="M0 100 1 100 2 0 3 100 4 10 5 19 6 85 7 61 8 57 9 73 10 72 11 0 12 77 13 0 14 0"/><path d="M0 80 1 13 2 29 3 100 4 0 5 66 6 75 7 61 8 35 9 26 10 65 11 82 12 85 13 52 14 79"/></g><g stroke="#555" stroke-opacity="0.0125" stroke-width="0.8"><path d="M0 54 1 100 2 34 3 77 4 66 5 75 6 43 7 14 8 54 9 37 10 69 11 28 12 65 13 26 14 0"/><path d="M0 57 1 10 2 15 3 50 4 75 5 40 6 26 7 12 8 82 9 15 10 45 11 51 12 26 13 62 14 0"/><path d="M0 77 1 60 2 34 3 21 4 100 5 27 6 15 7 100 8 52 9 48 10 80 11 100 12 100 13 72 14 14"/><path d="M0 24 1 68 2 100 3 53 4 16 5 40 6 33 7 27 8 44 9 10 10 86 11 29 12 22 13 43 14 100"/><path d="M0 80 1 25 2 26 3 74 4 67 5 56 6 32 7 82 8 51 9 87 10 44 11 15 12 90 13 74 14 14"/><path d="M0 11 1 100 2 34 3 100 4 83 5 100 6 0 7 100 8 0 9 12 10 100 11 29 12 38 13 33 14 100"/><path d="M0 0 1 100 2 20 3 100 4 43 5 26 6 45 7 100 8 50 9 21 10 12 11 100 12 16 13 24 14 17"/><path d="M0 75 1 87 2 39 3 86 4 86 5 16 6 71 7 54 8 0 9 31 10 26 11 78 12 49 13 0 14 100"/><path d="M0 87 1 80 2 0 3 18 4 100 5 87 6 29 7 100 8 25 9 32 10 87 11 63 12 34 13 31 14 100"/><path d="M0 23 1 29 2 100 3 34 4 55 5 21 6 80 7 100 8 28 9 46 10 61 11 14 12 86 13 39 14 51"/><path d="M0 45 1 100 2 38 3 57 4 100 5 10 6 100 7 67 8 16 9 100 10 46 11 52 12 53 13 13 14 86"/><path d="M0 11 1 57 2 25 3 100 4 48 5 88 6 52 7 100 8 65 9 32 10 88 11 15 12 100 13 24 14 18"/><path d="M0 12 1 42 2 74 3 47 4 27 5 36 6 100 7 100 8 43 9 39 10 69 11 66 12 32 13 100 14 56"/><path d="M0 100 1 13 2 66 3 100 4 89 5 79 6 100 7 75 8 33 9 100 10 100 11 0 12 0 13 25 14 100"/><path d="M0 37 1 75 2 54 3 59 4 42 5 30 6 77 7 37 8 81 9 21 10 100 11 53 12 17 13 78 14 100"/><path d="M0 62 1 100 2 35 3 31 4 20 5 0 6 27 7 67 8 74 9 42 10 53 11 86 12 100 13 56 14 100"/><path d="M0 45 1 75 2 54 3 48 4 100 5 89 6 100 7 70 8 86 9 100 10 100 11 60 12 0 13 83 14 100"/><path d="M0 41 1 23 2 60 3 63 4 43 5 0 6 100 7 100 8 39 9 31 10 64 11 86 12 74 13 44 14 100"/><path d="M0 76 1 50 2 75 3 66 4 77 5 82 6 71 7 55 8 81 9 47 10 17 11 100 12 34 13 46 14 30"/><path d="M0 0 1 17 2 38 3 34 4 18 5 88 6 84 7 100 8 100 9 53 10 61 11 81 12 21 13 43 14 79"/><path d="M0 86 1 78 2 10 3 87 4 74 5 34 6 70 7 17 8 26 9 100 10 0 11 47 12 23 13 61 14 15"/><path d="M0 100 1 56 2 47 3 100 4 64 5 48 6 51 7 100 8 100 9 52 10 43 11 13 12 100 13 84 14 57"/><path d="M0 44 1 100 2 85 3 0 4 100 5 13 6 37 7 100 8 15 9 100 10 100 11 100 12 70 13 19 14 78"/><path d="M0 100 1 100 2 36 3 85 4 0 5 67 6 15 7 15 8 69 9 58 10 0 11 11 12 44 13 67 14 100"/><path d="M0 70 1 29 2 26 3 15 4 62 5 53 6 63 7 32 8 23 9 28 10 77 11 27 12 76 13 30 14 18"/><path d="M0 76 1 81 2 72 3 16 4 100 5 0 6 77 7 100 8 59 9 54 10 26 11 0 12 69 13 100 14 76"/><path d="M0 61 1 24 2 59 3 85 4 67 5 100 6 85 7 23 8 100 9 43 10 56 11 100 12 100 13 22 14 89"/><path d="M0 100 1 73 2 0 3 100 4 35 5 82 6 56 7 20 8 45 9 66 10 46 11 90 12 100 13 36 14 72"/><path d="M0 100 1 13 2 62 3 69 4 87 5 32 6 0 7 33 8 73 9 85 10 100 11 47 12 77 13 74 14 89"/><path d="M0 0 1 100 2 42 3 84 4 66 5 0 6 42 7 43 8 62 9 100 10 100 11 73 12 100 13 88 14 100"/><path d="M0 45 1 100 2 0 3 0 4 46 5 15 6 100 7 100 8 0 9 100 10 62 11 100 12 100 13 36 14 48"/><path d="M0 46 1 78 2 76 3 66 4 0 5 100 6 81 7 0 8 100 9 49 10 64 11 100 12 60 13 61 14 27"/><path d="M0 56 1 75 2 34 3 54 4 23 5 0 6 67 7 0 8 78 9 20 10 27 11 74 12 76 13 43 14 60"/><path d="M0 77 1 20 2 0 3 58 4 100 5 30 6 38 7 100 8 78 9 83 10 52 11 59 12 51 13 64 14 0"/><path d="M0 77 1 54 2 100 3 88 4 29 5 100 6 63 7 100 8 74 9 23 10 100 11 54 12 48 13 55 14 100"/><path d="M0 17 1 14 2 82 3 42 4 21 5 100 6 39 7 43 8 69 9 19 10 38 11 40 12 0 13 0 14 51"/><path d="M0 53 1 0 2 57 3 100 4 80 5 100 6 100 7 71 8 0 9 100 10 0 11 100 12 0 13 12 14 100"/><path d="M0 82 1 100 2 69 3 88 4 49 5 45 6 100 7 76 8 100 9 60 10 85 11 70 12 33 13 14 14 63"/><path d="M0 15 1 0 2 42 3 85 4 32 5 12 6 0 7 45 8 100 9 67 10 31 11 100 12 100 13 100 14 57"/><path d="M0 16 1 57 2 87 3 37 4 61 5 48 6 45 7 16 8 70 9 100 10 43 11 57 12 100 13 59 14 23"/><path d="M0 52 1 100 2 65 3 100 4 64 5 22 6 81 7 100 8 0 9 35 10 41 11 0 12 100 13 16 14 80"/><path d="M0 0 1 39 2 27 3 30 4 46 5 20 6 64 7 80 8 49 9 100 10 37 11 100 12 60 13 57 14 47"/><path d="M0 0 1 31 2 100 3 65 4 22 5 100 6 88 7 100 8 0 9 62 10 0 11 20 12 55 13 67 14 33"/><path d="M0 41 1 88 2 100 3 0 4 50 5 100 6 67 7 16 8 0 9 36 10 23 11 33 12 100 13 20 14 81"/><path d="M0 43 1 88 2 71 3 0 4 84 5 87 6 67 7 74 8 15 9 62 10 100 11 100 12 64 13 100 14 24"/><path d="M0 16 1 0 2 22 3 0 4 100 5 100 6 18 7 0 8 100 9 77 10 100 11 38 12 0 13 48 14 100"/><path d="M0 31 1 73 2 77 3 0 4 63 5 0 6 35 7 85 8 100 9 43 10 100 11 22 12 56 13 52 14 14"/><path d="M0 57 1 100 2 0 3 86 4 54 5 32 6 88 7 46 8 41 9 68 10 46 11 51 12 100 13 78 14 0"/><path d="M0 100 1 100 2 100 3 35 4 100 5 100 6 30 7 39 8 25 9 50 10 100 11 85 12 19 13 59 14 0"/><path d="M0 100 1 61 2 73 3 64 4 68 5 13 6 0 7 73 8 50 9 43 10 40 11 100 12 0 13 35 14 0"/></g><g stroke="#555" stroke-opacity="0.015" stroke-width="0.8"><path d="M0 20 1 0 2 26 3 35 4 25 5 79 6 29 7 15 8 100 9 56 10 23 11 38 12 88 13 11 14 88"/><path d="M0 100 1 50 2 29 3 48 4 16 5 60 6 100 7 100 8 62 9 80 10 51 11 80 12 49 13 22 14 100"/><path d="M0 100 1 0 2 100 3 67 4 44 5 52 6 27 7 14 8 63 9 78 10 65 11 34 12 42 13 11 14 100"/><path d="M0 100 1 56 2 46 3 62 4 100 5 87 6 34 7 62 8 31 9 0 10 87 11 62 12 23 13 86 14 72"/><path d="M0 100 1 14 2 71 3 64 4 63 5 100 6 100 7 55 8 0 9 59 10 32 11 100 12 100 13 18 14 28"/><path d="M0 36 1 100 2 58 3 100 4 32 5 83 6 100 7 58 8 52 9 14 10 19 11 100 12 21 13 16 14 88"/><path d="M0 54 1 100 2 100 3 15 4 18 5 48 6 71 7 85 8 20 9 52 10 34 11 100 12 88 13 12 14 45"/><path d="M0 49 1 73 2 84 3 31 4 100 5 12 6 0 7 80 8 59 9 61 10 100 11 62 12 86 13 41 14 73"/><path d="M0 100 1 59 2 100 3 0 4 52 5 0 6 100 7 60 8 28 9 100 10 0 11 100 12 40 13 100 14 53"/><path d="M0 100 1 100 2 100 3 54 4 68 5 66 6 54 7 0 8 74 9 54 10 100 11 55 12 88 13 54 14 78"/><path d="M0 23 1 13 2 89 3 45 4 100 5 27 6 100 7 100 8 0 9 64 10 100 11 56 12 0 13 87 14 15"/><path d="M0 0 1 88 2 0 3 58 4 11 5 68 6 52 7 11 8 0 9 53 10 30 11 73 12 100 13 64 14 64"/><path d="M0 47 1 100 2 0 3 71 4 77 5 38 6 69 7 100 8 39 9 79 10 65 11 71 12 39 13 0 14 36"/><path d="M0 20 1 25 2 14 3 29 4 34 5 35 6 42 7 32 8 100 9 84 10 20 11 84 12 38 13 85 14 64"/><path d="M0 53 1 0 2 85 3 76 4 17 5 38 6 56 7 56 8 43 9 29 10 85 11 16 12 28 13 56 14 89"/><path d="M0 36 1 23 2 42 3 49 4 68 5 36 6 54 7 100 8 50 9 77 10 38 11 25 12 54 13 77 14 49"/><path d="M0 100 1 90 2 76 3 56 4 0 5 78 6 74 7 100 8 58 9 27 10 87 11 47 12 23 13 69 14 34"/><path d="M0 75 1 77 2 88 3 78 4 56 5 26 6 58 7 10 8 43 9 81 10 76 11 44 12 31 13 72 14 18"/><path d="M0 26 1 64 2 81 3 22 4 76 5 21 6 49 7 0 8 100 9 12 10 33 11 77 12 37 13 46 14 100"/><path d="M0 73 1 76 2 100 3 11 4 82 5 31 6 24 7 39 8 76 9 48 10 63 11 55 12 12 13 30 14 100"/><path d="M0 32 1 100 2 80 3 80 4 100 5 35 6 100 7 40 8 69 9 100 10 100 11 100 12 44 13 31 14 66"/><path d="M0 100 1 0 2 24 3 40 4 15 5 32 6 58 7 65 8 67 9 80 10 100 11 55 12 75 13 100 14 80"/><path d="M0 59 1 12 2 100 3 0 4 0 5 100 6 77 7 100 8 100 9 100 10 34 11 100 12 73 13 0 14 24"/><path d="M0 64 1 64 2 67 3 78 4 87 5 61 6 39 7 100 8 48 9 81 10 65 11 84 12 28 13 35 14 16"/><path d="M0 46 1 66 2 38 3 46 4 100 5 73 6 0 7 100 8 80 9 35 10 22 11 0 12 100 13 100 14 36"/><path d="M0 63 1 21 2 78 3 73 4 48 5 36 6 70 7 0 8 62 9 100 10 70 11 74 12 0 13 23 14 27"/><path d="M0 35 1 45 2 100 3 100 4 79 5 63 6 34 7 41 8 0 9 18 10 100 11 100 12 12 13 84 14 0"/><path d="M0 80 1 24 2 74 3 36 4 0 5 77 6 73 7 15 8 10 9 100 10 0 11 100 12 35 13 31 14 31"/><path d="M0 58 1 78 2 73 3 18 4 66 5 58 6 68 7 73 8 56 9 88 10 33 11 24 12 24 13 64 14 75"/><path d="M0 77 1 0 2 12 3 100 4 100 5 100 6 100 7 0 8 100 9 100 10 76 11 51 12 100 13 100 14 52"/><path d="M0 100 1 90 2 73 3 100 4 100 5 100 6 88 7 37 8 26 9 88 10 79 11 88 12 12 13 76 14 100"/><path d="M0 58 1 86 2 12 3 68 4 73 5 100 6 85 7 81 8 0 9 59 10 0 11 40 12 100 13 66 14 19"/><path d="M0 14 1 49 2 36 3 31 4 100 5 30 6 75 7 63 8 66 9 29 10 100 11 100 12 10 13 22 14 0"/><path d="M0 0 1 74 2 100 3 100 4 20 5 51 6 74 7 26 8 100 9 34 10 100 11 21 12 0 13 70 14 29"/><path d="M0 100 1 0 2 32 3 26 4 78 5 100 6 0 7 0 8 51 9 100 10 50 11 100 12 51 13 100 14 11"/><path d="M0 27 1 31 2 28 3 0 4 0 5 43 6 50 7 11 8 19 9 18 10 68 11 90 12 0 13 59 14 83"/><path d="M0 0 1 21 2 39 3 36 4 100 5 18 6 100 7 29 8 100 9 57 10 100 11 0 12 14 13 17 14 0"/><path d="M0 100 1 13 2 100 3 66 4 100 5 100 6 41 7 78 8 0 9 35 10 100 11 100 12 100 13 88 14 100"/><path d="M0 100 1 89 2 86 3 100 4 60 5 77 6 25 7 100 8 46 9 100 10 100 11 42 12 0 13 52 14 18"/><path d="M0 83 1 100 2 100 3 0 4 100 5 77 6 0 7 59 8 100 9 100 10 43 11 100 12 0 13 38 14 100"/><path d="M0 0 1 0 2 65 3 69 4 40 5 63 6 73 7 100 8 0 9 82 10 29 11 45 12 64 13 0 14 100"/><path d="M0 70 1 83 2 25 3 100 4 68 5 72 6 73 7 13 8 100 9 38 10 100 11 54 12 10 13 0 14 65"/><path d="M0 62 1 64 2 21 3 72 4 43 5 16 6 65 7 42 8 100 9 11 10 73 11 87 12 100 13 58 14 0"/><path d="M0 55 1 88 2 88 3 52 4 100 5 32 6 100 7 38 8 100 9 100 10 71 11 100 12 0 13 100 14 86"/><path d="M0 100 1 22 2 42 3 18 4 70 5 85 6 26 7 39 8 15 9 53 10 88 11 100 12 69 13 43 14 100"/><path d="M0 0 1 24 2 85 3 20 4 79 5 84 6 100 7 12 8 100 9 86 10 63 11 30 12 47 13 56 14 34"/><path d="M0 0 1 72 2 46 3 100 4 14 5 43 6 100 7 35 8 65 9 56 10 68 11 59 12 17 13 62 14 84"/><path d="M0 100 1 100 2 22 3 100 4 60 5 100 6 60 7 60 8 27 9 79 10 100 11 0 12 18 13 0 14 100"/><path d="M0 100 1 84 2 74 3 13 4 31 5 100 6 65 7 67 8 100 9 100 10 41 11 39 12 39 13 100 14 32"/><path d="M0 63 1 42 2 69 3 58 4 37 5 38 6 85 7 100 8 22 9 52 10 100 11 38 12 66 13 50 14 12"/><path d="M0 88 1 60 2 41 3 100 4 63 5 0 6 30 7 73 8 33 9 37 10 55 11 0 12 47 13 52 14 68"/><path d="M0 100 1 57 2 92 3 37 4 26 5 100 6 57 7 14 8 7 9 87 10 32 11 44 12 74 13 55 14 0"/><path d="M0 55 1 44 2 55 3 40 4 33 5 66 6 0 7 34 8 41 9 61 10 89 11 50 12 24 13 56 14 35"/><path d="M0 67 1 27 2 50 3 43 4 58 5 27 6 22 7 62 8 36 9 44 10 8 11 46 12 64 13 19 14 42"/><path d="M0 100 1 54 2 71 3 87 4 61 5 54 6 49 7 84 8 82 9 39 10 0 11 67 12 26 13 34 14 7"/><path d="M0 100 1 61 2 35 3 59 4 0 5 68 6 67 7 71 8 32 9 65 10 16 11 58 12 85 13 23 14 40"/><path d="M0 71 1 48 2 34 3 37 4 17 5 58 6 51 7 16 8 7 9 21 10 14 11 50 12 28 13 0 14 42"/><path d="M0 73 1 44 2 44 3 40 4 39 5 46 6 56 7 50 8 59 9 36 10 57 11 56 12 26 13 82 14 31"/><path d="M0 45 1 92 2 44 3 51 4 20 5 77 6 53 7 31 8 71 9 22 10 74 11 75 12 27 13 81 14 55"/><path d="M0 100 1 85 2 69 3 54 4 55 5 56 6 23 7 80 8 65 9 58 10 47 11 67 12 62 13 76 14 68"/><path d="M0 100 1 57 2 50 3 28 4 41 5 43 6 0 7 39 8 30 9 44 10 55 11 0 12 0 13 38 14 48"/><path d="M0 36 1 34 2 25 3 44 4 28 5 46 6 0 7 33 8 7 9 15 10 30 11 30 12 56 13 39 14 49"/><path d="M0 65 1 40 2 61 3 48 4 66 5 55 6 54 7 62 8 47 9 56 10 64 11 27 12 33 13 41 14 26"/><path d="M0 100 1 71 2 62 3 51 4 53 5 63 6 67 7 44 8 50 9 55 10 56 11 70 12 69 13 72 14 35"/><path d="M0 72 1 11 2 39 3 55 4 48 5 48 6 75 7 42 8 47 9 32 10 65 11 62 12 0 13 60 14 48"/><path d="M0 49 1 39 2 35 3 74 4 54 5 0 6 57 7 5 8 40 9 1 10 56 11 84 12 84 13 62 14 60"/><path d="M0 46 1 44 2 36 3 57 4 36 5 89 6 93 7 15 8 55 9 38 10 80 11 5 12 55 13 51 14 99"/><path d="M0 79 1 79 2 83 3 51 4 73 5 67 6 37 7 71 8 93 9 73 10 41 11 50 12 66 13 49 14 66"/><path d="M0 49 1 12 2 57 3 54 4 23 5 80 6 79 7 62 8 16 9 54 10 23 11 18 12 23 13 56 14 57"/><path d="M0 43 1 33 2 30 3 51 4 48 5 23 6 45 7 26 8 31 9 46 10 19 11 17 12 51 13 6 14 33"/><path d="M0 33 1 79 2 33 3 57 4 46 5 0 6 23 7 92 8 95 9 32 10 95 11 45 12 34 13 35 14 37"/><path d="M0 0 1 28 2 62 3 40 4 0 5 18 6 16 7 21 8 22 9 62 10 38 11 16 12 12 13 0 14 68"/><path d="M0 34 1 50 2 31 3 13 4 40 5 50 6 23 7 34 8 41 9 50 10 46 11 63 12 46 13 37 14 46"/><path d="M0 48 1 66 2 26 3 66 4 43 5 71 6 73 7 19 8 43 9 27 10 81 11 42 12 32 13 66 14 44"/><path d="M0 56 1 34 2 20 3 49 4 76 5 77 6 57 7 72 8 43 9 53 10 33 11 75 12 74 13 43 14 48"/><path d="M0 61 1 48 2 40 3 59 4 64 5 35 6 42 7 47 8 41 9 58 10 43 11 55 12 59 13 40 14 39"/><path d="M0 100 1 19 2 56 3 39 4 17 5 61 6 86 7 48 8 100 9 50 10 61 11 0 12 32 13 32 14 52"/><path d="M0 16 1 41 2 54 3 51 4 55 5 32 6 56 7 70 8 47 9 76 10 26 11 70 12 23 13 22 14 54"/><path d="M0 36 1 63 2 58 3 55 4 44 5 22 6 61 7 37 8 62 9 23 10 27 11 29 12 38 13 62 14 61"/><path d="M0 82 1 32 2 41 3 81 4 5 5 55 6 7 7 46 8 92 9 61 10 23 11 32 12 31 13 78 14 63"/><path d="M0 100 1 4 2 34 3 45 4 60 5 45 6 83 7 50 8 27 9 47 10 84 11 34 12 42 13 66 14 76"/><path d="M0 0 1 13 2 44 3 43 4 40 5 22 6 60 7 36 8 23 9 56 10 18 11 33 12 40 13 60 14 38"/></g><g stroke="#555" stroke-opacity="0.0175" stroke-width="0.8"><path d="M0 41 1 87 2 74 3 81 4 23 5 0 6 62 7 58 8 44 9 47 10 48 11 76 12 22 13 71 14 56"/><path d="M0 100 1 51 2 64 3 40 4 18 5 45 6 43 7 57 8 39 9 62 10 49 11 77 12 59 13 53 14 32"/><path d="M0 50 1 69 2 88 3 62 4 32 5 69 6 78 7 67 8 29 9 49 10 67 11 63 12 66 13 55 14 97"/><path d="M0 46 1 83 2 81 3 35 4 30 5 61 6 23 7 40 8 37 9 10 10 78 11 51 12 35 13 27 14 40"/><path d="M0 64 1 18 2 26 3 26 4 0 5 15 6 32 7 28 8 4 9 32 10 0 11 60 12 3 13 49 14 29"/><path d="M0 100 1 35 2 32 3 42 4 66 5 48 6 54 7 30 8 43 9 37 10 40 11 26 12 46 13 52 14 59"/><path d="M0 100 1 51 2 54 3 50 4 56 5 35 6 54 7 70 8 46 9 52 10 44 11 37 12 57 13 36 14 59"/><path d="M0 22 1 0 2 44 3 32 4 32 5 46 6 53 7 27 8 59 9 57 10 27 11 39 12 30 13 36 14 0"/><path d="M0 37 1 48 2 97 3 12 4 69 5 6 6 33 7 20 8 35 9 26 10 60 11 12 12 36 13 35 14 50"/><path d="M0 17 1 27 2 41 3 34 4 54 5 15 6 58 7 45 8 73 9 81 10 38 11 8 12 53 13 29 14 46"/><path d="M0 53 1 65 2 56 3 67 4 23 5 77 6 86 7 64 8 47 9 73 10 85 11 7 12 63 13 73 14 61"/><path d="M0 37 1 55 2 32 3 66 4 0 5 4 6 80 7 22 8 70 9 33 10 41 11 30 12 40 13 22 14 86"/><path d="M0 43 1 55 2 54 3 46 4 22 5 51 6 23 7 48 8 31 9 2 10 63 11 26 12 69 13 26 14 65"/><path d="M0 71 1 46 2 49 3 41 4 54 5 59 6 67 7 74 8 85 9 40 10 49 11 69 12 25 13 49 14 84"/><path d="M0 65 1 37 2 68 3 31 4 43 5 25 6 29 7 63 8 64 9 70 10 25 11 42 12 82 13 45 14 32"/><path d="M0 0 1 57 2 44 3 60 4 50 5 32 6 34 7 42 8 34 9 34 10 59 11 82 12 22 13 32 14 42"/><path d="M0 66 1 67 2 50 3 10 4 65 5 64 6 53 7 84 8 55 9 39 10 36 11 79 12 62 13 26 14 72"/><path d="M0 38 1 43 2 45 3 49 4 46 5 72 6 68 7 78 8 42 9 45 10 62 11 60 12 62 13 35 14 70"/><path d="M0 60 1 40 2 38 3 33 4 66 5 68 6 88 7 36 8 39 9 58 10 79 11 13 12 43 13 62 14 36"/><path d="M0 43 1 46 2 37 3 45 4 69 5 25 6 26 7 38 8 54 9 53 10 12 11 24 12 66 13 35 14 26"/><path d="M0 50 1 79 2 52 3 51 4 44 5 16 6 50 7 34 8 49 9 74 10 49 11 47 12 58 13 33 14 49"/><path d="M0 100 1 57 2 80 3 50 4 71 5 23 6 19 7 72 8 43 9 56 10 26 11 56 12 54 13 64 14 34"/><path d="M0 47 1 75 2 59 3 57 4 17 5 55 6 44 7 38 8 0 9 40 10 47 11 4 12 76 13 57 14 37"/><path d="M0 75 1 52 2 47 3 38 4 59 5 25 6 8 7 12 8 54 9 36 10 53 11 83 12 81 13 31 14 14"/><path d="M0 100 1 40 2 30 3 50 4 51 5 48 6 40 7 67 8 63 9 14 10 53 11 30 12 42 13 45 14 77"/><path d="M0 46 1 45 2 17 3 38 4 21 5 19 6 21 7 20 8 40 9 5 10 38 11 24 12 63 13 38 14 1"/><path d="M0 34 1 64 2 60 3 70 4 32 5 57 6 63 7 52 8 37 9 53 10 81 11 83 12 69 13 51 14 87"/><path d="M0 31 1 99 2 53 3 34 4 34 5 12 6 56 7 41 8 42 9 33 10 40 11 52 12 100 13 56 14 50"/><path d="M0 29 1 24 2 9 3 37 4 17 5 36 6 23 7 33 8 50 9 0 10 23 11 39 12 30 13 19 14 30"/><path d="M0 68 1 32 2 31 3 35 4 49 5 30 6 38 7 48 8 30 9 83 10 47 11 48 12 50 13 42 14 59"/><path d="M0 44 1 72 2 25 3 57 4 25 5 35 6 53 7 37 8 54 9 49 10 39 11 62 12 62 13 22 14 59"/><path d="M0 0 1 34 2 14 3 84 4 38 5 38 6 58 7 39 8 32 9 1 10 46 11 46 12 47 13 45 14 26"/><path d="M0 57 1 40 2 30 3 52 4 21 5 16 6 36 7 40 8 14 9 38 10 39 11 30 12 48 13 9 14 75"/><path d="M0 0 1 35 2 100 3 33 4 39 5 85 6 59 7 55 8 87 9 76 10 100 11 96 12 35 13 73 14 53"/><path d="M0 52 1 69 2 62 3 84 4 45 5 36 6 56 7 54 8 66 9 73 10 71 11 51 12 27 13 65 14 66"/><path d="M0 34 1 55 2 71 3 50 4 29 5 47 6 14 7 27 8 32 9 50 10 100 11 66 12 60 13 46 14 22"/></g><g stroke="#555" stroke-opacity="0.02" stroke-width="0.8"><path d="M0 47 1 83 2 88 3 54 4 54 5 45 6 19 7 50 8 61 9 52 10 80 11 42 12 45 13 53 14 54"/><path d="M0 0 1 36 2 32 3 41 4 4 5 62 6 16 7 33 8 64 9 81 10 29 11 0 12 46 13 47 14 17"/><path d="M0 8 1 43 2 43 3 49 4 28 5 23 6 21 7 29 8 29 9 7 10 36 11 13 12 29 13 6 14 22"/><path d="M0 32 1 27 2 61 3 33 4 36 5 21 6 17 7 38 8 45 9 41 10 33 11 50 12 45 13 32 14 52"/><path d="M0 38 1 37 2 52 3 43 4 63 5 44 6 78 7 31 8 76 9 13 10 38 11 28 12 62 13 24 14 50"/><path d="M0 27 1 72 2 63 3 61 4 46 5 63 6 17 7 64 8 27 9 74 10 39 11 53 12 46 13 23 14 34"/><path d="M0 100 1 67 2 53 3 0 4 51 5 37 6 11 7 29 8 35 9 46 10 34 11 59 12 24 13 58 14 66"/><path d="M0 50 1 37 2 37 3 44 4 33 5 39 6 41 7 25 8 31 9 43 10 67 11 41 12 46 13 31 14 30"/><path d="M0 100 1 48 2 54 3 51 4 65 5 39 6 68 7 53 8 53 9 47 10 50 11 54 12 86 13 16 14 69"/><path d="M0 0 1 95 2 81 3 86 4 69 5 68 6 47 7 62 8 72 9 68 10 61 11 100 12 59 13 64 14 38"/><path d="M0 100 1 52 2 25 3 45 4 56 5 83 6 48 7 34 8 38 9 46 10 48 11 79 12 48 13 59 14 11"/><path d="M0 62 1 35 2 65 3 71 4 64 5 22 6 77 7 75 8 40 9 85 10 98 11 64 12 35 13 43 14 68"/><path d="M0 100 1 86 2 56 3 61 4 49 5 13 6 45 7 85 8 32 9 95 10 4 11 50 12 49 13 95 14 67"/><path d="M0 59 1 26 2 42 3 66 4 43 5 15 6 32 7 39 8 29 9 32 10 51 11 18 12 40 13 56 14 38"/><path d="M0 100 1 67 2 48 3 78 4 69 5 69 6 46 7 62 8 70 9 59 10 39 11 46 12 73 13 54 14 60"/><path d="M0 0 1 39 2 5 3 28 4 12 5 22 6 50 7 67 8 23 9 9 10 41 11 43 12 71 13 40 14 35"/><path d="M0 100 1 26 2 40 3 43 4 30 5 37 6 23 7 27 8 23 9 39 10 48 11 26 12 24 13 31 14 46"/><path d="M0 37 1 62 2 54 3 82 4 74 5 42 6 37 7 76 8 0 9 29 10 44 11 61 12 69 13 73 14 32"/><path d="M0 0 1 10 2 44 3 23 4 10 5 26 6 70 7 40 8 25 9 22 10 2 11 56 12 19 13 7 14 16"/><path d="M0 49 1 54 2 46 3 44 4 46 5 31 6 46 7 19 8 34 9 30 10 56 11 30 12 62 13 19 14 0"/><path d="M0 39 1 59 2 47 3 25 4 42 5 71 6 44 7 46 8 46 9 54 10 43 11 42 12 50 13 31 14 51"/><path d="M0 52 1 42 2 49 3 12 4 94 5 61 6 61 7 72 8 52 9 84 10 41 11 14 12 97 13 37 14 56"/><path d="M0 67 1 15 2 50 3 67 4 77 5 28 6 18 7 31 8 47 9 87 10 51 11 59 12 59 13 62 14 61"/><path d="M0 100 1 59 2 53 3 36 4 55 5 52 6 92 7 58 8 100 9 66 10 0 11 52 12 45 13 58 14 65"/><path d="M0 37 1 46 2 75 3 77 4 49 5 52 6 64 7 21 8 47 9 46 10 50 11 36 12 65 13 38 14 38"/><path d="M0 100 1 45 2 49 3 44 4 30 5 50 6 49 7 43 8 59 9 57 10 38 11 44 12 61 13 74 14 26"/><path d="M0 71 1 62 2 31 3 71 4 39 5 40 6 82 7 27 8 38 9 72 10 27 11 18 12 71 13 33 14 60"/><path d="M0 48 1 72 2 10 3 43 4 0 5 65 6 44 7 50 8 46 9 60 10 34 11 31 12 26 13 70 14 50"/><path d="M0 56 1 74 2 54 3 31 4 39 5 14 6 61 7 66 8 65 9 34 10 22 11 52 12 27 13 75 14 59"/></g><g stroke="#555" stroke-opacity="0.0225" stroke-width="0.8"><path d="M0 100 1 17 2 19 3 28 4 5 5 31 6 43 7 68 8 51 9 49 10 27 11 81 12 55 13 29 14 34"/><path d="M0 48 1 70 2 50 3 24 4 41 5 53 6 39 7 19 8 58 9 57 10 35 11 39 12 26 13 46 14 31"/><path d="M0 100 1 74 2 54 3 51 4 12 5 47 6 51 7 59 8 42 9 63 10 49 11 80 12 49 13 39 14 29"/><path d="M0 100 1 51 2 52 3 32 4 25 5 71 6 47 7 56 8 16 9 36 10 43 11 54 12 71 13 69 14 61"/><path d="M0 30 1 37 2 55 3 74 4 40 5 52 6 73 7 50 8 72 9 36 10 48 11 43 12 31 13 47 14 51"/><path d="M0 49 1 51 2 16 3 36 4 45 5 34 6 44 7 21 8 17 9 53 10 40 11 40 12 46 13 70 14 55"/><path d="M0 35 1 57 2 24 3 31 4 40 5 58 6 32 7 25 8 6 9 67 10 44 11 30 12 78 13 39 14 63"/><path d="M0 51 1 39 2 58 3 71 4 60 5 52 6 61 7 49 8 78 9 27 10 59 11 36 12 48 13 44 14 72"/><path d="M0 100 1 30 2 46 3 63 4 52 5 4 6 44 7 87 8 56 9 4 10 46 11 41 12 64 13 71 14 40"/><path d="M0 62 1 29 2 50 3 36 4 22 5 14 6 25 7 43 8 32 9 36 10 26 11 78 12 28 13 31 14 46"/><path d="M0 0 1 46 2 41 3 33 4 16 5 32 6 23 7 23 8 49 9 12 10 34 11 40 12 45 13 36 14 23"/><path d="M0 51 1 74 2 66 3 38 4 49 5 77 6 38 7 36 8 53 9 32 10 58 11 60 12 57 13 72 14 78"/><path d="M0 95 1 75 2 30 3 15 4 35 5 54 6 30 7 68 8 36 9 46 10 21 11 62 12 46 13 47 14 46"/><path d="M0 0 1 25 2 37 3 100 4 67 5 39 6 41 7 18 8 80 9 76 10 35 11 64 12 78 13 85 14 43"/><path d="M0 64 1 36 2 63 3 65 4 59 5 32 6 74 7 68 8 26 9 39 10 73 11 54 12 34 13 67 14 47"/><path d="M0 100 1 62 2 59 3 26 4 23 5 61 6 63 7 35 8 33 9 10 10 76 11 62 12 34 13 33 14 69"/><path d="M0 100 1 52 2 49 3 36 4 46 5 44 6 55 7 58 8 29 9 47 10 42 11 6 12 45 13 27 14 75"/><path d="M0 76 1 50 2 78 3 100 4 45 5 52 6 62 7 51 8 58 9 36 10 82 11 62 12 58 13 67 14 63"/><path d="M0 64 1 61 2 100 3 80 4 44 5 55 6 28 7 40 8 45 9 78 10 34 11 21 12 48 13 19 14 36"/><path d="M0 45 1 59 2 36 3 50 4 52 5 100 6 24 7 73 8 44 9 53 10 27 11 27 12 55 13 77 14 51"/><path d="M0 46 1 31 2 45 3 100 4 75 5 31 6 66 7 93 8 69 9 100 10 64 11 0 12 59 13 25 14 57"/><path d="M0 60 1 40 2 30 3 31 4 50 5 57 6 45 7 26 8 43 9 49 10 62 11 70 12 36 13 39 14 47"/><path d="M0 58 1 62 2 64 3 48 4 49 5 72 6 55 7 68 8 66 9 57 10 68 11 48 12 68 13 67 14 75"/><path d="M0 21 1 60 2 38 3 52 4 52 5 54 6 42 7 53 8 63 9 45 10 69 11 41 12 36 13 46 14 52"/><path d="M0 59 1 77 2 20 3 53 4 6 5 71 6 49 7 62 8 46 9 42 10 40 11 41 12 32 13 85 14 34"/><path d="M0 21 1 74 2 61 3 52 4 17 5 33 6 51 7 57 8 56 9 53 10 43 11 26 12 66 13 60 14 36"/><path d="M0 61 1 50 2 79 3 42 4 74 5 65 6 57 7 30 8 46 9 82 10 19 11 47 12 61 13 100 14 45"/><path d="M0 42 1 46 2 25 3 51 4 32 5 61 6 59 7 13 8 45 9 40 10 61 11 39 12 76 13 44 14 51"/><path d="M0 87 1 61 2 35 3 70 4 87 5 51 6 72 7 41 8 14 9 52 10 48 11 14 12 51 13 41 14 87"/><path d="M0 100 1 66 2 38 3 32 4 61 5 32 6 34 7 59 8 69 9 36 10 46 11 23 12 53 13 0 14 8"/><path d="M0 34 1 43 2 74 3 6 4 71 5 61 6 52 7 38 8 44 9 39 10 48 11 77 12 47 13 30 14 16"/><path d="M0 63 1 54 2 24 3 50 4 34 5 63 6 32 7 48 8 55 9 65 10 45 11 77 12 38 13 21 14 38"/><path d="M0 47 1 52 2 55 3 28 4 52 5 45 6 38 7 27 8 51 9 75 10 35 11 43 12 51 13 40 14 49"/><path d="M0 21 1 59 2 60 3 51 4 73 5 30 6 54 7 75 8 63 9 59 10 45 11 69 12 54 13 15 14 48"/><path d="M0 45 1 56 2 54 3 27 4 51 5 31 6 69 7 53 8 60 9 47 10 72 11 64 12 34 13 69 14 70"/><path d="M0 49 1 5 2 37 3 33 4 94 5 27 6 77 7 71 8 7 9 90 10 37 11 70 12 50 13 76 14 83"/><path d="M0 100 1 35 2 61 3 27 4 60 5 73 6 55 7 35 8 29 9 64 10 43 11 29 12 62 13 48 14 73"/></g><g stroke="#555" stroke-opacity="0.025" stroke-width="0.8"><path d="M0 100 1 4 2 36 3 75 4 33 5 8 6 24 7 30 8 36 9 20 10 57 11 37 12 72 13 31 14 36"/><path d="M0 41 1 16 2 3 3 57 4 52 5 1 6 50 7 14 8 79 9 26 10 59 11 100 12 45 13 20 14 0"/><path d="M0 30 1 36 2 31 3 36 4 45 5 45 6 52 7 30 8 67 9 51 10 47 11 36 12 37 13 3 14 47"/><path d="M0 0 1 85 2 50 3 16 4 69 5 22 6 17 7 43 8 62 9 100 10 56 11 41 12 34 13 46 14 54"/><path d="M0 31 1 42 2 47 3 59 4 68 5 67 6 20 7 58 8 41 9 77 10 55 11 50 12 52 13 14 14 83"/><path d="M0 4 1 26 2 41 3 60 4 100 5 50 6 76 7 100 8 63 9 41 10 10 11 75 12 78 13 9 14 27"/><path d="M0 3 1 21 2 17 3 53 4 95 5 10 6 33 7 40 8 57 9 63 10 32 11 19 12 53 13 50 14 59"/><path d="M0 3 1 14 2 59 3 28 4 11 5 40 6 24 7 74 8 0 9 38 10 66 11 84 12 24 13 89 14 62"/><path d="M0 59 1 46 2 32 3 39 4 36 5 44 6 68 7 14 8 19 9 100 10 50 11 74 12 0 13 32 14 32"/><path d="M0 12 1 30 2 58 3 19 4 44 5 23 6 60 7 52 8 35 9 26 10 42 11 20 12 59 13 54 14 47"/><path d="M0 34 1 28 2 52 3 26 4 66 5 22 6 38 7 71 8 57 9 42 10 47 11 49 12 38 13 23 14 50"/><path d="M0 74 1 54 2 53 3 51 4 79 5 66 6 32 7 41 8 45 9 69 10 51 11 69 12 64 13 46 14 26"/><path d="M0 56 1 44 2 23 3 29 4 40 5 22 6 37 7 22 8 17 9 58 10 62 11 36 12 51 13 56 14 51"/><path d="M0 65 1 58 2 61 3 43 4 50 5 39 6 72 7 61 8 80 9 54 10 57 11 65 12 53 13 34 14 47"/><path d="M0 0 1 0 2 45 3 25 4 30 5 38 6 6 7 37 8 65 9 48 10 6 11 47 12 9 13 0 14 24"/><path d="M0 78 1 72 2 48 3 73 4 71 5 43 6 84 7 37 8 48 9 61 10 46 11 53 12 25 13 26 14 61"/><path d="M0 28 1 58 2 17 3 70 4 49 5 62 6 25 7 62 8 28 9 45 10 46 11 27 12 46 13 35 14 53"/><path d="M0 100 1 51 2 42 3 13 4 29 5 31 6 63 7 33 8 63 9 36 10 37 11 60 12 44 13 38 14 52"/><path d="M0 33 1 63 2 53 3 61 4 64 5 58 6 98 7 67 8 69 9 68 10 73 11 64 12 64 13 33 14 77"/><path d="M0 100 1 70 2 36 3 56 4 56 5 71 6 65 7 51 8 77 9 50 10 77 11 99 12 93 13 42 14 81"/><path d="M0 91 1 29 2 86 3 47 4 30 5 60 6 76 7 50 8 73 9 59 10 74 11 73 12 10 13 33 14 51"/><path d="M0 51 1 18 2 50 3 0 4 54 5 0 6 36 7 47 8 55 9 51 10 34 11 54 12 41 13 23 14 39"/><path d="M0 37 1 86 2 82 3 91 4 72 5 72 6 74 7 80 8 71 9 50 10 68 11 62 12 48 13 63 14 75"/><path d="M0 100 1 43 2 71 3 17 4 33 5 27 6 55 7 13 8 33 9 30 10 31 11 42 12 51 13 42 14 49"/><path d="M0 100 1 55 2 28 3 26 4 52 5 57 6 40 7 48 8 51 9 40 10 57 11 48 12 63 13 43 14 60"/><path d="M0 22 1 52 2 56 3 54 4 79 5 44 6 46 7 25 8 59 9 75 10 65 11 47 12 65 13 86 14 43"/><path d="M0 37 1 53 2 37 3 21 4 36 5 19 6 63 7 24 8 42 9 26 10 48 11 60 12 43 13 39 14 3"/><path d="M0 14 1 33 2 34 3 55 4 44 5 94 6 29 7 62 8 25 9 17 10 66 11 28 12 66 13 7 14 27"/><path d="M0 65 1 58 2 41 3 48 4 64 5 47 6 51 7 46 8 56 9 60 10 63 11 72 12 62 13 40 14 44"/><path d="M0 46 1 75 2 46 3 48 4 64 5 14 6 45 7 60 8 45 9 37 10 44 11 27 12 44 13 36 14 10"/><path d="M0 71 1 58 2 57 3 68 4 44 5 30 6 49 7 42 8 66 9 39 10 48 11 69 12 55 13 69 14 28"/><path d="M0 55 1 75 2 79 3 71 4 32 5 66 6 44 7 58 8 55 9 46 10 62 11 61 12 32 13 47 14 79"/><path d="M0 43 1 31 2 0 3 31 4 11 5 0 6 25 7 77 8 3 9 24 10 39 11 35 12 16 13 90 14 79"/><path d="M0 0 1 70 2 57 3 47 4 42 5 36 6 15 7 33 8 37 9 58 10 34 11 37 12 23 13 77 14 26"/><path d="M0 100 1 42 2 35 3 39 4 65 5 42 6 28 7 45 8 40 9 69 10 54 11 46 12 61 13 12 14 84"/><path d="M0 21 1 63 2 0 3 33 4 71 5 89 6 57 7 70 8 63 9 50 10 56 11 46 12 29 13 78 14 61"/><path d="M0 65 1 54 2 89 3 87 4 60 5 0 6 0 7 32 8 36 9 50 10 19 11 31 12 0 13 50 14 82"/><path d="M0 45 1 34 2 53 3 32 4 31 5 40 6 40 7 81 8 43 9 8 10 30 11 51 12 57 13 49 14 41"/><path d="M0 34 1 68 2 40 3 41 4 82 5 31 6 50 7 65 8 12 9 59 10 55 11 31 12 46 13 24 14 50"/><path d="M0 0 1 49 2 44 3 59 4 38 5 39 6 39 7 47 8 40 9 48 10 48 11 42 12 38 13 47 14 42"/><path d="M0 60 1 52 2 54 3 39 4 31 5 70 6 63 7 49 8 54 9 58 10 38 11 70 12 49 13 79 14 85"/><path d="M0 61 1 72 2 42 3 47 4 65 5 39 6 48 7 29 8 72 9 41 10 65 11 66 12 44 13 40 14 52"/></g><g stroke="#555" stroke-opacity="0.0275" stroke-width="0.8"><path d="M0 100 1 60 2 27 3 22 4 38 5 48 6 20 7 61 8 36 9 33 10 27 11 24 12 46 13 36 14 3"/><path d="M0 76 1 62 2 14 3 47 4 48 5 29 6 22 7 67 8 49 9 53 10 52 11 72 12 53 13 18 14 57"/><path d="M0 33 1 23 2 79 3 56 4 25 5 57 6 49 7 16 8 44 9 31 10 17 11 5 12 16 13 17 14 22"/><path d="M0 47 1 41 2 50 3 36 4 37 5 93 6 41 7 54 8 43 9 51 10 28 11 47 12 35 13 57 14 66"/><path d="M0 51 1 49 2 29 3 60 4 73 5 70 6 44 7 46 8 49 9 48 10 40 11 82 12 69 13 88 14 59"/><path d="M0 100 1 39 2 37 3 59 4 24 5 53 6 36 7 39 8 40 9 55 10 11 11 12 12 34 13 19 14 28"/><path d="M0 52 1 57 2 68 3 52 4 76 5 56 6 38 7 52 8 57 9 61 10 81 11 60 12 65 13 58 14 64"/><path d="M0 57 1 64 2 46 3 72 4 60 5 60 6 24 7 45 8 17 9 42 10 67 11 64 12 31 13 55 14 54"/><path d="M0 55 1 47 2 71 3 59 4 34 5 75 6 19 7 31 8 41 9 26 10 50 11 66 12 46 13 100 14 56"/><path d="M0 100 1 58 2 49 3 49 4 100 5 58 6 72 7 48 8 38 9 59 10 61 11 35 12 28 13 63 14 49"/><path d="M0 31 1 61 2 49 3 47 4 29 5 43 6 26 7 42 8 30 9 35 10 75 11 81 12 21 13 35 14 73"/><path d="M0 100 1 41 2 26 3 32 4 53 5 53 6 17 7 62 8 33 9 25 10 29 11 36 12 39 13 46 14 22"/><path d="M0 25 1 20 2 25 3 40 4 39 5 36 6 31 7 63 8 64 9 0 10 35 11 73 12 20 13 4 14 23"/><path d="M0 59 1 61 2 44 3 17 4 9 5 37 6 12 7 26 8 61 9 28 10 24 11 44 12 62 13 44 14 7"/><path d="M0 60 1 66 2 39 3 48 4 43 5 55 6 47 7 60 8 28 9 56 10 43 11 62 12 45 13 67 14 39"/><path d="M0 56 1 46 2 43 3 21 4 63 5 58 6 66 7 40 8 25 9 51 10 41 11 42 12 46 13 62 14 65"/><path d="M0 56 1 67 2 48 3 44 4 70 5 91 6 61 7 62 8 49 9 39 10 61 11 54 12 58 13 54 14 59"/><path d="M0 48 1 0 2 49 3 16 4 36 5 56 6 55 7 35 8 19 9 42 10 24 11 32 12 4 13 83 14 69"/><path d="M0 51 1 37 2 51 3 73 4 48 5 61 6 21 7 1 8 54 9 20 10 67 11 85 12 45 13 55 14 0"/><path d="M0 100 1 33 2 69 3 53 4 66 5 57 6 43 7 54 8 28 9 52 10 54 11 41 12 67 13 36 14 57"/><path d="M0 100 1 48 2 28 3 41 4 50 5 1 6 41 7 45 8 23 9 13 10 44 11 27 12 11 13 27 14 33"/><path d="M0 23 1 36 2 37 3 43 4 49 5 51 6 35 7 47 8 60 9 24 10 45 11 52 12 49 13 29 14 39"/><path d="M0 100 1 54 2 66 3 40 4 43 5 71 6 57 7 32 8 75 9 50 10 70 11 38 12 88 13 25 14 55"/><path d="M0 73 1 40 2 58 3 71 4 61 5 52 6 41 7 59 8 62 9 61 10 57 11 46 12 51 13 30 14 38"/><path d="M0 29 1 10 2 52 3 25 4 9 5 64 6 45 7 46 8 42 9 62 10 44 11 39 12 59 13 62 14 16"/><path d="M0 0 1 33 2 64 3 62 4 99 5 74 6 15 7 32 8 51 9 35 10 83 11 68 12 80 13 72 14 75"/><path d="M0 38 1 61 2 59 3 44 4 54 5 56 6 53 7 25 8 67 9 55 10 46 11 55 12 24 13 46 14 29"/><path d="M0 25 1 8 2 26 3 0 4 26 5 62 6 11 7 21 8 40 9 0 10 16 11 22 12 58 13 23 14 24"/><path d="M0 0 1 55 2 31 3 62 4 47 5 14 6 60 7 84 8 69 9 7 10 23 11 21 12 43 13 40 14 42"/><path d="M0 12 1 15 2 59 3 47 4 25 5 45 6 25 7 27 8 25 9 38 10 40 11 26 12 0 13 46 14 46"/><path d="M0 57 1 48 2 41 3 32 4 73 5 74 6 35 7 55 8 49 9 77 10 44 11 41 12 45 13 22 14 47"/><path d="M0 42 1 45 2 58 3 72 4 77 5 52 6 48 7 42 8 57 9 65 10 61 11 36 12 59 13 58 14 63"/><path d="M0 67 1 42 2 39 3 66 4 57 5 36 6 44 7 59 8 30 9 47 10 19 11 76 12 45 13 58 14 42"/><path d="M0 51 1 56 2 25 3 35 4 60 5 67 6 43 7 27 8 54 9 50 10 68 11 37 12 38 13 60 14 60"/></g><g stroke="#555" stroke-opacity="0.03" stroke-width="0.8"><path d="M0 74 1 81 2 64 3 88 4 75 5 47 6 53 7 45 8 71 9 53 10 65 11 61 12 52 13 79 14 53"/><path d="M0 54 1 48 2 55 3 68 4 68 5 43 6 91 7 35 8 38 9 41 10 8 11 34 12 0 13 54 14 24"/><path d="M0 35 1 23 2 36 3 100 4 68 5 60 6 60 7 27 8 38 9 14 10 20 11 58 12 9 13 14 14 40"/><path d="M0 45 1 54 2 46 3 43 4 60 5 41 6 98 7 26 8 1 9 32 10 49 11 46 12 41 13 4 14 51"/><path d="M0 45 1 48 2 68 3 76 4 39 5 39 6 32 7 62 8 64 9 39 10 45 11 64 12 65 13 27 14 52"/><path d="M0 57 1 42 2 11 3 20 4 51 5 58 6 52 7 18 8 62 9 77 10 41 11 62 12 26 13 73 14 46"/><path d="M0 23 1 50 2 43 3 53 4 39 5 45 6 36 7 44 8 60 9 27 10 49 11 54 12 22 13 30 14 55"/><path d="M0 65 1 50 2 54 3 51 4 58 5 42 6 41 7 48 8 66 9 34 10 39 11 48 12 78 13 69 14 66"/><path d="M0 100 1 53 2 79 3 68 4 68 5 87 6 78 7 64 8 55 9 56 10 100 11 71 12 69 13 79 14 50"/><path d="M0 0 1 47 2 80 3 60 4 37 5 58 6 46 7 85 8 71 9 35 10 80 11 43 12 49 13 57 14 62"/><path d="M0 52 1 56 2 52 3 41 4 45 5 51 6 13 7 55 8 64 9 31 10 68 11 23 12 52 13 61 14 47"/></g><g stroke="#555" stroke-opacity="0.05" stroke-width="0.8"><path d="M0 41 1 53 2 20 3 33 4 31 5 17 6 23 7 29 8 34 9 39 10 35 11 39 12 48 13 29 14 33"/><path d="M0 32 1 71 2 72 3 45 4 41 5 60 6 43 7 44 8 88 9 53 10 71 11 54 12 53 13 41 14 61"/><path d="M0 0 1 31 2 45 3 52 4 56 5 23 6 44 7 29 8 37 9 41 10 42 11 38 12 54 13 46 14 33"/></g><g stroke="#555" stroke-opacity="0.0525" stroke-width="0.8"><path d="M0 100 1 26 2 31 3 43 4 36 5 28 6 32 7 41 8 38 9 44 10 36 11 52 12 29 13 51 14 37"/><path d="M0 17 1 75 2 15 3 61 4 28 5 28 6 0 7 16 8 38 9 22 10 18 11 30 12 23 13 28 14 8"/><path d="M0 100 1 43 2 53 3 82 4 91 5 71 6 83 7 79 8 53 9 76 10 55 11 82 12 63 13 90 14 56"/></g><g stroke="#555" stroke-opacity="0.055" stroke-width="0.8"><path d="M0 9 1 76 2 10 3 23 4 25 5 11 6 24 7 12 8 30 9 28 10 26 11 21 12 21 13 28 14 14"/><path d="M0 100 1 44 2 50 3 43 4 52 5 35 6 56 7 52 8 40 9 39 10 54 11 54 12 33 13 45 14 54"/></g><g stroke="#555" stroke-opacity="0.06" stroke-width="0.8"><path d="M0 100 1 65 2 50 3 58 4 56 5 61 6 49 7 48 8 56 9 52 10 53 11 53 12 48 13 45 14 53"/></g><g stroke="#555" stroke-opacity="0.0625" stroke-width="0.8"><path d="M0 50 1 32 2 60 3 48 4 41 5 55 6 54 7 37 8 51 9 34 10 30 11 45 12 39 13 45 14 36"/><path d="M0 100 1 72 2 12 3 13 4 25 5 24 6 17 7 14 8 26 9 10 10 25 11 15 12 27 13 24 14 14"/><path d="M0 100 1 97 2 47 3 50 4 39 5 43 6 47 7 37 8 36 9 55 10 48 11 45 12 47 13 41 14 37"/><path d="M0 100 1 62 2 54 3 54 4 51 5 46 6 63 7 46 8 47 9 64 10 43 11 49 12 54 13 65 14 49"/><path d="M0 100 1 67 2 39 3 54 4 50 5 38 6 56 7 23 8 25 9 21 10 42 11 57 12 29 13 34 14 21"/></g><g stroke="#555" stroke-opacity="0.065" stroke-width="0.8"><path d="M0 100 1 52 2 13 3 8 4 21 5 30 6 17 7 17 8 13 9 20 10 20 11 27 12 28 13 33 14 10"/><path d="M0 61 1 20 2 43 3 54 4 49 5 47 6 54 7 54 8 50 9 42 10 63 11 53 12 44 13 60 14 46"/><path d="M0 100 1 38 2 44 3 47 4 48 5 42 6 53 7 46 8 53 9 50 10 41 11 44 12 55 13 56 14 34"/></g><g stroke="#555" stroke-opacity="0.0675" stroke-width="0.8"><path d="M0 89 1 62 2 73 3 82 4 83 5 85 6 87 7 82 8 80 9 98 10 70 11 79 12 82 13 100 14 80"/><path d="M0 100 1 66 2 60 3 62 4 62 5 71 6 59 7 62 8 58 9 47 10 53 11 54 12 53 13 49 14 75"/><path d="M0 51 1 45 2 40 3 71 4 28 5 61 6 55 7 48 8 62 9 61 10 43 11 60 12 53 13 41 14 42"/></g><g stroke="#555" stroke-opacity="0.07" stroke-width="0.8"><path d="M0 100 1 37 2 44 3 30 4 31 5 57 6 51 7 37 8 19 9 29 10 28 11 28 12 10 13 38 14 16"/><path d="M0 0 1 64 2 80 3 62 4 69 5 75 6 92 7 76 8 58 9 62 10 66 11 37 12 63 13 66 14 74"/><path d="M0 0 1 54 2 45 3 45 4 58 5 70 6 48 7 44 8 68 9 53 10 48 11 61 12 56 13 52 14 34"/><path d="M0 43 1 36 2 55 3 67 4 23 5 48 6 52 7 59 8 58 9 46 10 43 11 64 12 55 13 57 14 67"/><path d="M0 29 1 47 2 18 3 15 4 15 5 25 6 22 7 14 8 19 9 22 10 16 11 11 12 27 13 21 14 17"/><path d="M0 52 1 42 2 48 3 65 4 67 5 58 6 46 7 51 8 55 9 50 10 70 11 64 12 63 13 68 14 48"/><path d="M0 52 1 41 2 50 3 62 4 48 5 53 6 71 7 42 8 37 9 54 10 38 11 48 12 36 13 42 14 30"/><path d="M0 31 1 47 2 20 3 44 4 33 5 23 6 28 7 18 8 21 9 42 10 38 11 32 12 49 13 36 14 34"/><path d="M0 0 1 37 2 31 3 34 4 11 5 23 6 23 7 23 8 31 9 10 10 31 11 16 12 22 13 40 14 35"/></g><g stroke="#555" stroke-opacity="0.0725" stroke-width="0.8"><path d="M0 71 1 58 2 61 3 84 4 72 5 67 6 70 7 61 8 58 9 71 10 70 11 64 12 67 13 69 14 76"/><path d="M0 100 1 73 2 50 3 100 4 61 5 53 6 80 7 56 8 65 9 69 10 40 11 77 12 48 13 71 14 40"/></g><g stroke="#555" stroke-opacity="0.075" stroke-width="0.8"><path d="M0 100 1 57 2 53 3 41 4 48 5 45 6 61 7 57 8 51 9 51 10 56 11 53 12 54 13 42 14 52"/><path d="M0 100 1 35 2 70 3 65 4 58 5 76 6 64 7 63 8 76 9 65 10 72 11 66 12 64 13 69 14 70"/></g><g stroke="#555" stroke-opacity="0.0775" stroke-width="0.8"><path d="M0 100 1 48 2 44 3 22 4 43 5 51 6 45 7 44 8 46 9 54 10 35 11 41 12 38 13 20 14 51"/><path d="M0 100 1 62 2 44 3 13 4 39 5 37 6 32 7 29 8 39 9 34 10 40 11 40 12 34 13 35 14 33"/><path d="M0 100 1 73 2 90 3 66 4 84 5 98 6 95 7 75 8 94 9 82 10 85 11 66 12 85 13 97 14 86"/><path d="M0 100 1 68 2 51 3 49 4 86 5 86 6 74 7 78 8 74 9 71 10 67 11 77 12 69 13 80 14 78"/></g><g stroke="#555" stroke-opacity="0.08" stroke-width="0.8"><path d="M0 0 1 30 2 49 3 48 4 30 5 28 6 38 7 50 8 29 9 22 10 41 11 55 12 23 13 46 14 52"/><path d="M0 100 1 55 2 46 3 57 4 57 5 62 6 61 7 44 8 42 9 54 10 44 11 53 12 55 13 49 14 63"/><path d="M0 100 1 59 2 30 3 28 4 21 5 25 6 24 7 34 8 34 9 46 10 22 11 45 12 17 13 45 14 10"/></g><g stroke="#555" stroke-opacity="0.0825" stroke-width="0.8"><path d="M0 58 1 39 2 48 3 52 4 43 5 61 6 40 7 67 8 57 9 55 10 38 11 46 12 52 13 53 14 43"/><path d="M0 100 1 29 2 52 3 36 4 45 5 22 6 40 7 55 8 44 9 60 10 28 11 28 12 30 13 53 14 29"/><path d="M0 0 1 56 2 61 3 52 4 67 5 58 6 56 7 58 8 65 9 55 10 61 11 64 12 53 13 60 14 51"/></g><g stroke="#555" stroke-opacity="0.085" stroke-width="0.8"><path d="M0 100 1 58 2 60 3 49 4 45 5 48 6 43 7 47 8 46 9 35 10 46 11 42 12 39 13 41 14 51"/><path d="M0 45 1 52 2 23 3 50 4 47 5 48 6 46 7 37 8 43 9 45 10 36 11 51 12 47 13 31 14 42"/><path d="M0 29 1 48 2 29 3 22 4 34 5 22 6 23 7 22 8 25 9 37 10 26 11 30 12 35 13 21 14 42"/><path d="M0 100 1 68 2 42 3 43 4 44 5 37 6 41 7 54 8 58 9 57 10 15 11 57 12 58 13 42 14 47"/><path d="M0 64 1 66 2 69 3 76 4 96 5 71 6 86 7 83 8 65 9 79 10 77 11 79 12 88 13 82 14 70"/></g><g stroke="#555" stroke-opacity="0.0875" stroke-width="0.8"><path d="M0 39 1 32 2 44 3 41 4 47 5 21 6 39 7 45 8 57 9 26 10 41 11 30 12 50 13 50 14 67"/><path d="M0 32 1 65 2 24 3 29 4 15 5 11 6 20 7 27 8 15 9 43 10 14 11 45 12 57 13 0 14 21"/></g><g stroke="#555" stroke-opacity="0.09" stroke-width="0.8"><path d="M0 0 1 52 2 25 3 38 4 38 5 29 6 18 7 28 8 38 9 32 10 19 11 30 12 29 13 40 14 26"/><path d="M0 78 1 32 2 86 3 79 4 68 5 66 6 80 7 64 8 71 9 82 10 53 11 73 12 100 13 100 14 88"/><path d="M0 35 1 33 2 41 3 46 4 51 5 47 6 51 7 55 8 52 9 62 10 55 11 48 12 56 13 42 14 59"/></g><g stroke="#555" stroke-opacity="0.0925" stroke-width="0.8"><path d="M0 48 1 59 2 59 3 45 4 73 5 47 6 62 7 70 8 58 9 40 10 42 11 59 12 61 13 64 14 43"/><path d="M0 44 1 31 2 38 3 25 4 44 5 32 6 19 7 33 8 33 9 29 10 47 11 32 12 29 13 49 14 46"/><path d="M0 100 1 66 2 47 3 44 4 72 5 50 6 64 7 72 8 57 9 60 10 48 11 59 12 53 13 60 14 50"/><path d="M0 100 1 70 2 32 3 49 4 40 5 38 6 29 7 11 8 45 9 5 10 14 11 20 12 26 13 47 14 25"/></g><g stroke="#555" stroke-opacity="0.095" stroke-width="0.8"><path d="M0 64 1 66 2 51 3 68 4 56 5 49 6 61 7 62 8 73 9 45 10 62 11 55 12 50 13 51 14 53"/><path d="M0 100 1 48 2 51 3 57 4 54 5 67 6 75 7 57 8 57 9 57 10 71 11 46 12 63 13 47 14 62"/></g><g stroke="#555" stroke-opacity="0.1" stroke-width="0.8"><path d="M0 63 1 67 2 42 3 44 4 52 5 38 6 50 7 55 8 33 9 54 10 24 11 46 12 49 13 39 14 41"/></g></g><g fill="none" stroke-linejoin="round" transform="matrix(7.714 0 0 0.097500 226.6 34.3)"><g stroke="#333" stroke-opacity="0.3475" stroke-width="0.9"><path d="M0 459 1 667 2 461 3 414 4 516 5 363 6 482 7 423 8 399 9 420 10 512 11 421 12 389 13 419 14 460"/><path d="M0 1000 1 785 2 221 3 314 4 394 5 248 6 328 7 482 8 180 9 238 10 297 11 309 12 350 13 462 14 333"/></g><g stroke="#333" stroke-opacity="0.3525" stroke-width="0.9"><path d="M0 537 1 222 2 577 3 449 4 509 5 621 6 275 7 362 8 490 9 636 10 470 11 441 12 400 13 442 14 485"/></g><g stroke="#333" stroke-opacity="0.36" stroke-width="0.9"><path d="M0 1000 1 631 2 641 3 556 4 738 5 674 6 512 7 542 8 730 9 498 10 683 11 664 12 669 13 513 14 672"/></g><g stroke="#333" stroke-opacity="0.3725" stroke-width="0.9"><path d="M0 1000 1 446 2 565 3 423 4 383 5 373 6 441 7 479 8 438 9 548 10 479 11 545 12 474 13 487 14 544"/></g><g stroke="#333" stroke-opacity="0.375" stroke-width="0.9"><path d="M0 1000 1 713 2 511 3 601 4 661 5 548 6 398 7 728 8 473 9 512 10 417 11 658 12 445 13 520 14 543"/></g><g stroke="#333" stroke-opacity="0.3875" stroke-width="0.9"><path d="M0 1000 1 441 2 477 3 479 4 555 5 472 6 396 7 556 8 408 9 404 10 533 11 567 12 612 13 426 14 504"/></g><g stroke="#333" stroke-opacity="0.405" stroke-width="0.9"><path d="M0 1000 1 514 2 259 3 243 4 282 5 246 6 312 7 226 8 276 9 220 10 258 11 237 12 264 13 206 14 316"/></g><g stroke="#333" stroke-opacity="0.415" stroke-width="0.9"><path d="M0 1000 1 470 2 398 3 364 4 366 5 302 6 409 7 331 8 329 9 406 10 353 11 326 12 230 13 453 14 259"/></g><g stroke="#333" stroke-opacity="0.4175" stroke-width="0.9"><path d="M0 361 1 693 2 594 3 506 4 263 5 370 6 430 7 403 8 442 9 485 10 490 11 468 12 370 13 424 14 322"/></g><g stroke="#333" stroke-opacity="0.4225" stroke-width="0.9"><path d="M0 1000 1 916 2 655 3 800 4 621 5 591 6 698 7 671 8 638 9 681 10 634 11 701 12 621 13 520 14 751"/></g><g stroke="#333" stroke-opacity="0.425" stroke-width="0.9"><path d="M0 369 1 617 2 368 3 290 4 317 5 370 6 320 7 364 8 481 9 427 10 452 11 393 12 369 13 371 14 415"/></g><g stroke="#333" stroke-opacity="0.4325" stroke-width="0.9"><path d="M0 1000 1 435 2 198 3 240 4 230 5 214 6 245 7 228 8 173 9 181 10 174 11 141 12 222 13 190 14 216"/></g><g stroke="#333" stroke-opacity="0.4375" stroke-width="0.9"><path d="M0 558 1 599 2 558 3 627 4 539 5 453 6 458 7 548 8 541 9 602 10 550 11 545 12 661 13 520 14 676"/></g><g stroke="#333" stroke-opacity="0.44" stroke-width="0.9"><path d="M0 1000 1 315 2 663 3 617 4 581 5 490 6 596 7 562 8 568 9 480 10 429 11 799 12 409 13 561 14 641"/></g><g stroke="#333" stroke-opacity="0.4425" stroke-width="0.9"><path d="M0 1000 1 500 2 340 3 310 4 423 5 259 6 356 7 397 8 250 9 376 10 373 11 394 12 358 13 463 14 340"/></g><g stroke="#333" stroke-opacity="0.4475" stroke-width="0.9"><path d="M0 1000 1 545 2 841 3 605 4 676 5 789 6 712 7 750 8 693 9 698 10 787 11 696 12 560 13 693 14 807"/></g><g stroke="#333" stroke-opacity="0.4575" stroke-width="0.9"><path d="M0 1000 1 729 2 628 3 581 4 400 5 614 6 696 7 634 8 518 9 472 10 526 11 391 12 802 13 495 14 766"/><path d="M0 348 1 589 2 343 3 351 4 560 5 335 6 367 7 501 8 381 9 450 10 469 11 216 12 372 13 299 14 442"/></g><g stroke="#333" stroke-opacity="0.4675" stroke-width="0.9"><path d="M0 1000 1 580 2 381 3 477 4 307 5 427 6 568 7 596 8 611 9 542 10 567 11 549 12 386 13 552 14 407"/></g><g stroke="#333" stroke-opacity="0.4825" stroke-width="0.9"><path d="M0 1000 1 706 2 434 3 420 4 536 5 491 6 598 7 569 8 487 9 418 10 602 11 423 12 439 13 527 14 403"/><path d="M0 641 1 724 2 555 3 565 4 489 5 332 6 656 7 507 8 608 9 461 10 664 11 521 12 403 13 587 14 405"/></g><g stroke="#333" stroke-opacity="0.485" stroke-width="0.9"><path d="M0 1000 1 546 2 383 3 282 4 344 5 317 6 338 7 289 8 336 9 277 10 347 11 287 12 360 13 303 14 316"/></g><g stroke="#333" stroke-opacity="0.4875" stroke-width="0.9"><path d="M0 1000 1 538 2 385 3 483 4 439 5 281 6 298 7 477 8 311 9 337 10 360 11 431 12 323 13 426 14 324"/></g></g><g fill="none" stroke-linejoin="round" transform="matrix(7.99 0 0 -1.930000 226.5 286.3)"><g stroke="#555" stroke-opacity="0.01" stroke-width="0.8"><path d="M0 0 1 5 2 3 3 4 4 10 5 8 6 7 7 6 8 5 9 7 10 6 11 6 12 7 13 9 14 10"/><path d="M0 0 1 16 2 8 3 7 4 15 5 15 6 13 7 16 8 15 9 15 10 15 11 17 12 17 13 16 14 16"/><path d="M0 0 1 0 2 4 3 3 4 3 5 4 6 3 7 5 8 5 9 8 10 8 11 9 12 9 13 11 14 11"/><path d="M0 0 1 50 2 25 3 19 4 18 5 21 6 21 7 22 8 23 9 23 10 21 11 21 12 20 13 20 14 21"/><path d="M0 0 1 50 2 25 3 17 4 19 5 15 6 17 7 15 8 13 9 14 10 13 11 13 12 14 13 14 14 13"/><path d="M0 0 1 0 2 0 3 25 4 22 5 25 6 24 7 22 8 24 9 22 10 21 11 22 12 22 13 20 14 19"/><path d="M0 0 1 12 2 25 3 18 4 17 5 14 6 14 7 16 8 17 9 17 10 17 11 15 12 14 13 13 14 14"/><path d="M0 0 1 2 2 1 3 2 4 2 5 3 6 3 7 12 8 17 9 20 10 19 11 19 12 21 13 19 14 19"/><path d="M0 0 1 14 2 14 3 11 4 14 5 14 6 13 7 14 8 16 9 17 10 16 11 15 12 16 13 17 14 16"/><path d="M0 0 1 12 2 25 3 23 4 20 5 21 6 22 7 20 8 19 9 18 10 19 11 19 12 19 13 19 14 19"/><path d="M0 0 1 2 2 15 3 12 4 9 5 11 6 11 7 10 8 11 9 12 10 12 11 14 12 13 13 12 14 12"/><path d="M0 0 1 20 2 13 3 10 4 22 5 25 6 25 7 25 8 22 9 21 10 23 11 22 12 21 13 20 14 19"/><path d="M0 0 1 3 2 27 3 26 4 24 5 21 6 23 7 23 8 22 9 23 10 24 11 22 12 22 13 22 14 20"/><path d="M0 0 1 14 2 8 3 12 4 13 5 18 6 19 7 19 8 19 9 20 10 18 11 18 12 18 13 17 14 16"/><path d="M0 0 1 3 2 6 3 4 4 3 5 3 6 3 7 6 8 6 9 6 10 8 11 9 12 9 13 9 14 8"/><path d="M0 0 1 30 2 16 3 15 4 20 5 21 6 22 7 19 8 20 9 20 10 21 11 19 12 18 13 18 14 18"/><path d="M0 0 1 10 2 7 3 23 4 20 5 24 6 25 7 24 8 22 9 23 10 23 11 21 12 20 13 20 14 19"/><path d="M0 0 1 30 2 15 3 12 4 9 5 12 6 10 7 9 8 11 9 11 10 12 11 13 12 14 13 15 14 15"/><path d="M0 0 1 9 2 25 3 22 4 19 5 24 6 20 7 19 8 18 9 17 10 18 11 17 12 16 13 15 14 18"/><path d="M0 0 1 25 2 26 3 22 4 26 5 26 6 24 7 23 8 20 9 19 10 17 11 20 12 19 13 18 14 18"/><path d="M0 0 1 25 2 13 3 11 4 10 5 10 6 8 7 12 8 12 9 10 10 12 11 13 12 12 13 12 14 11"/><path d="M0 0 1 10 2 25 3 17 4 13 5 15 6 12 7 11 8 10 9 10 10 11 11 11 12 11 13 13 14 14"/><path d="M0 0 1 9 2 25 3 18 4 17 5 16 6 13 7 14 8 13 9 12 10 11 11 10 12 10 13 9 14 10"/><path d="M0 0 1 0 2 0 3 1 4 6 5 7 6 6 7 11 8 12 9 12 10 14 11 15 12 14 13 15 14 14"/><path d="M0 0 1 7 2 4 3 3 4 5 5 4 6 7 7 8 8 9 9 9 10 9 11 10 12 9 13 9 14 9"/><path d="M0 0 1 38 2 30 3 23 4 19 5 17 6 21 7 20 8 23 9 22 10 20 11 21 12 19 13 20 14 18"/><path d="M0 0 1 2 2 1 3 3 4 4 5 3 6 13 7 11 8 14 9 17 10 16 11 18 12 16 13 17 14 16"/><path d="M0 0 1 29 2 17 3 18 4 14 5 13 6 12 7 11 8 10 9 9 10 11 11 10 12 9 13 9 14 9"/><path d="M0 0 1 0 2 10 3 23 4 20 5 16 6 16 7 16 8 17 9 15 10 16 11 15 12 14 13 13 14 13"/><path d="M0 0 1 7 2 17 3 15 4 17 5 20 6 20 7 19 8 17 9 15 10 14 11 13 12 12 13 12 14 11"/><path d="M0 0 1 0 2 2 3 4 4 4 5 5 6 5 7 4 8 5 9 4 10 4 11 4 12 7 13 9 14 9"/><path d="M0 0 1 1 2 4 3 6 4 8 5 8 6 8 7 7 8 9 9 12 10 11 11 12 12 13 13 14 14 15"/><path d="M0 0 1 35 2 18 3 22 4 16 5 13 6 14 7 14 8 15 9 15 10 17 11 18 12 17 13 18 14 18"/><path d="M0 0 1 6 2 4 3 3 4 5 5 16 6 20 7 22 8 22 9 22 10 20 11 21 12 21 13 21 14 21"/><path d="M0 0 1 0 2 16 3 25 4 20 5 22 6 22 7 20 8 17 9 16 10 15 11 16 12 17 13 16 14 17"/><path d="M0 0 1 4 2 2 3 5 4 6 5 6 6 9 7 12 8 11 9 11 10 10 11 12 12 11 13 13 14 12"/><path d="M0 0 1 50 2 26 3 17 4 15 5 17 6 14 7 12 8 12 9 12 10 12 11 15 12 15 13 17 14 16"/><path d="M0 0 1 0 2 0 3 0 4 3 5 7 6 6 7 10 8 11 9 13 10 14 11 13 12 12 13 12 14 11"/></g><g stroke="#555" stroke-opacity="0.0125" stroke-width="0.8"><path d="M0 0 1 6 2 4 3 4 4 13 5 11 6 14 7 15 8 13 9 13 10 13 11 15 12 16 13 16 14 16"/><path d="M0 0 1 2 2 7 3 17 4 19 5 20 6 17 7 18 8 16 9 16 10 15 11 15 12 14 13 14 14 14"/><path d="M0 0 1 5 2 26 3 20 4 18 5 15 6 13 7 12 8 11 9 10 10 9 11 8 12 8 13 8 14 9"/><path d="M0 0 1 14 2 25 3 23 4 25 5 22 6 21 7 23 8 23 9 24 10 23 11 24 12 22 13 23 14 22"/><path d="M0 0 1 1 2 29 3 23 4 17 5 16 6 15 7 14 8 15 9 17 10 16 11 16 12 15 13 15 14 15"/><path d="M0 0 1 31 2 21 3 27 4 24 5 24 6 21 7 20 8 19 9 21 10 21 11 22 12 22 13 21 14 22"/><path d="M0 0 1 17 2 11 3 8 4 6 5 17 6 15 7 14 8 13 9 12 10 11 11 10 12 14 13 14 14 13"/><path d="M0 0 1 0 2 33 3 25 4 20 5 17 6 19 7 17 8 16 9 16 10 15 11 14 12 13 13 14 14 13"/><path d="M0 0 1 3 2 27 3 18 4 17 5 16 6 14 7 16 8 14 9 13 10 13 11 12 12 14 13 13 14 14"/><path d="M0 0 1 28 2 18 3 18 4 14 5 14 6 14 7 12 8 16 9 15 10 15 11 17 12 16 13 18 14 17"/><path d="M0 0 1 50 2 30 3 20 4 16 5 15 6 12 7 12 8 11 9 14 10 13 11 15 12 14 13 14 14 15"/><path d="M0 0 1 3 2 2 3 1 4 7 5 17 6 21 7 20 8 22 9 20 10 21 11 20 12 18 13 17 14 17"/><path d="M0 0 1 11 2 8 3 8 4 7 5 13 6 18 7 20 8 20 9 21 10 21 11 21 12 22 13 20 14 21"/><path d="M0 0 1 1 2 29 3 29 4 27 5 22 6 24 7 23 8 21 9 19 10 18 11 18 12 17 13 17 14 16"/><path d="M0 0 1 0 2 0 3 1 4 5 5 4 6 4 7 4 8 4 9 6 10 8 11 7 12 7 13 7 14 7"/><path d="M0 0 1 3 2 2 3 9 4 7 5 12 6 10 7 12 8 10 9 9 10 10 11 9 12 9 13 11 14 12"/><path d="M0 0 1 3 2 14 3 18 4 20 5 21 6 19 7 17 8 15 9 14 10 13 11 13 12 15 13 16 14 16"/><path d="M0 0 1 50 2 25 3 23 4 20 5 18 6 15 7 15 8 13 9 12 10 11 11 13 12 12 13 11 14 12"/><path d="M0 0 1 37 2 29 3 23 4 28 5 28 6 27 7 27 8 23 9 24 10 21 11 21 12 20 13 21 14 21"/><path d="M0 0 1 0 2 6 3 4 4 4 5 5 6 5 7 5 8 5 9 4 10 4 11 4 12 4 13 8 14 11"/><path d="M0 0 1 50 2 33 3 25 4 19 5 16 6 14 7 12 8 11 9 16 10 19 11 20 12 21 13 22 14 22"/><path d="M0 0 1 0 2 4 3 4 4 17 5 18 6 20 7 20 8 18 9 16 10 15 11 14 12 14 13 14 14 14"/><path d="M0 0 1 1 2 20 3 17 4 19 5 17 6 17 7 17 8 19 9 18 10 19 11 17 12 16 13 15 14 14"/><path d="M0 0 1 17 2 25 3 22 4 25 5 25 6 25 7 24 8 24 9 22 10 20 11 19 12 18 13 17 14 16"/><path d="M0 0 1 23 2 26 3 25 4 26 5 25 6 21 7 21 8 19 9 20 10 18 11 17 12 18 13 16 14 15"/><path d="M0 0 1 1 2 23 3 20 4 24 5 22 6 23 7 22 8 22 9 22 10 22 11 21 12 21 13 19 14 19"/><path d="M0 0 1 8 2 5 3 17 4 19 5 21 6 21 7 22 8 20 9 20 10 20 11 20 12 19 13 19 14 18"/><path d="M0 0 1 0 2 0 3 6 4 6 5 9 6 8 7 9 8 8 9 9 10 9 11 11 12 10 13 11 14 10"/><path d="M0 0 1 50 2 33 3 22 4 25 5 25 6 23 7 22 8 20 9 19 10 18 11 21 12 23 13 22 14 21"/><path d="M0 0 1 3 2 27 3 27 4 20 5 17 6 16 7 17 8 16 9 15 10 13 11 14 12 15 13 15 14 16"/><path d="M0 0 1 5 2 4 3 8 4 7 5 9 6 13 7 15 8 13 9 15 10 14 11 14 12 14 13 14 14 13"/><path d="M0 0 1 50 2 28 3 20 4 24 5 20 6 18 7 18 8 20 9 21 10 21 11 21 12 22 13 20 14 20"/><path d="M0 0 1 1 2 0 3 5 4 4 5 7 6 7 7 10 8 10 9 10 10 10 11 11 12 11 13 12 14 12"/><path d="M0 0 1 0 2 11 3 9 4 12 5 11 6 12 7 11 8 10 9 9 10 10 11 9 12 9 13 8 14 8"/><path d="M0 0 1 27 2 14 3 18 4 15 5 19 6 16 7 16 8 15 9 13 10 14 11 15 12 15 13 16 14 16"/><path d="M0 0 1 24 2 13 3 21 4 16 5 13 6 12 7 14 8 15 9 14 10 15 11 16 12 15 13 16 14 15"/><path d="M0 0 1 50 2 33 3 25 4 20 5 27 6 29 7 29 8 25 9 25 10 25 11 24 12 22 13 21 14 21"/><path d="M0 0 1 50 2 33 3 25 4 23 5 19 6 22 7 22 8 22 9 23 10 23 11 22 12 22 13 21 14 19"/><path d="M0 0 1 0 2 6 3 9 4 14 5 15 6 15 7 13 8 11 9 12 10 12 11 12 12 11 13 14 14 13"/><path d="M0 0 1 21 2 11 3 8 4 11 5 15 6 12 7 14 8 12 9 12 10 12 11 13 12 14 13 13 14 14"/><path d="M0 0 1 7 2 5 3 7 4 6 5 5 6 4 7 3 8 6 9 6 10 8 11 7 12 10 13 11 14 12"/><path d="M0 0 1 13 2 10 3 9 4 11 5 16 6 16 7 18 8 17 9 17 10 16 11 15 12 14 13 13 14 13"/><path d="M0 0 1 50 2 33 3 25 4 20 5 24 6 22 7 24 8 23 9 20 10 20 11 21 12 20 13 19 14 17"/><path d="M0 0 1 0 2 9 3 7 4 12 5 19 6 21 7 20 8 18 9 17 10 17 11 17 12 16 13 16 14 16"/><path d="M0 0 1 6 2 16 3 15 4 21 5 20 6 18 7 17 8 21 9 23 10 21 11 22 12 20 13 18 14 18"/><path d="M0 0 1 0 2 0 3 19 4 14 5 12 6 11 7 15 8 13 9 12 10 13 11 13 12 12 13 13 14 12"/><path d="M0 0 1 5 2 10 3 9 4 11 5 16 6 18 7 18 8 18 9 18 10 20 11 18 12 18 13 17 14 19"/><path d="M0 0 1 4 2 3 3 5 4 8 5 15 6 15 7 13 8 16 9 16 10 14 11 14 12 14 13 16 14 18"/><path d="M0 0 1 25 2 13 3 11 4 11 5 11 6 10 7 16 8 17 9 19 10 19 11 19 12 20 13 20 14 19"/><path d="M0 0 1 25 2 13 3 9 4 9 5 13 6 12 7 11 8 10 9 9 10 11 11 11 12 12 13 11 14 12"/><path d="M0 0 1 17 2 12 3 8 4 9 5 8 6 8 7 14 8 13 9 13 10 13 11 13 12 13 13 15 14 15"/><path d="M0 0 1 6 2 5 3 7 4 13 5 15 6 12 7 11 8 10 9 11 10 10 11 10 12 11 13 12 14 12"/><path d="M0 0 1 0 2 19 3 19 4 17 5 19 6 16 7 17 8 16 9 16 10 15 11 15 12 14 13 16 14 18"/><path d="M0 0 1 22 2 12 3 22 4 18 5 18 6 15 7 15 8 15 9 14 10 13 11 12 12 11 13 14 14 13"/><path d="M0 0 1 0 2 2 3 9 4 11 5 9 6 13 7 12 8 14 9 13 10 12 11 13 12 13 13 14 14 13"/><path d="M0 0 1 0 2 9 3 10 4 12 5 16 6 17 7 17 8 15 9 15 10 14 11 17 12 17 13 16 14 15"/><path d="M0 0 1 17 2 25 3 24 4 21 5 25 6 23 7 20 8 18 9 17 10 17 11 17 12 18 13 19 14 19"/><path d="M0 0 1 29 2 19 3 22 4 18 5 18 6 17 7 18 8 18 9 17 10 16 11 18 12 18 13 17 14 17"/><path d="M0 0 1 3 2 4 3 3 4 2 5 3 6 3 7 2 8 3 9 5 10 6 11 5 12 7 13 7 14 6"/><path d="M0 0 1 15 2 8 3 6 4 8 5 7 6 13 7 13 8 16 9 18 10 19 11 19 12 19 13 19 14 18"/><path d="M0 0 1 4 2 2 3 8 4 8 5 7 6 15 7 15 8 15 9 13 10 13 11 16 12 16 13 16 14 18"/><path d="M0 0 1 0 2 33 3 22 4 17 5 14 6 13 7 12 8 10 9 9 10 10 11 10 12 10 13 13 14 13"/><path d="M0 0 1 0 2 1 3 1 4 8 5 7 6 9 7 8 8 10 9 9 10 9 11 10 12 11 13 11 14 12"/><path d="M0 0 1 0 2 3 3 18 4 17 5 14 6 11 7 11 8 12 9 15 10 17 11 18 12 18 13 18 14 17"/><path d="M0 0 1 19 2 12 3 24 4 18 5 19 6 20 7 21 8 19 9 17 10 18 11 17 12 17 13 18 14 18"/><path d="M0 0 1 3 2 2 3 10 4 8 5 7 6 7 7 10 8 9 9 10 10 10 11 9 12 11 13 12 14 12"/><path d="M0 0 1 37 2 29 3 23 4 19 5 16 6 14 7 12 8 19 9 17 10 21 11 20 12 19 13 18 14 21"/><path d="M0 0 1 1 2 0 3 5 4 4 5 5 6 9 7 11 8 12 9 12 10 12 11 11 12 12 13 12 14 11"/><path d="M0 0 1 0 2 0 3 25 4 30 5 30 6 25 7 24 8 25 9 24 10 22 11 22 12 23 13 22 14 23"/><path d="M0 0 1 7 2 5 3 5 4 4 5 3 6 4 7 4 8 4 9 4 10 3 11 3 12 3 13 3 14 3"/><path d="M0 0 1 27 2 17 3 14 4 11 5 10 6 9 7 8 8 9 9 9 10 8 11 7 12 7 13 6 14 6"/><path d="M0 0 1 1 2 11 3 22 4 17 5 16 6 14 7 12 8 11 9 11 10 10 11 9 12 9 13 8 14 7"/><path d="M0 0 1 3 2 2 3 2 4 5 5 5 6 5 7 5 8 5 9 5 10 5 11 4 12 6 13 6 14 6"/><path d="M0 0 1 2 2 9 3 8 4 8 5 9 6 11 7 11 8 12 9 12 10 12 11 11 12 11 13 11 14 11"/><path d="M0 0 1 21 2 16 3 12 4 14 5 13 6 18 7 16 8 15 9 16 10 14 11 13 12 12 13 12 14 11"/><path d="M0 0 1 12 2 10 3 7 4 5 5 5 6 4 7 4 8 4 9 4 10 4 11 4 12 4 13 4 14 3"/><path d="M0 0 1 16 2 15 3 16 4 12 5 11 6 10 7 11 8 10 9 9 10 8 11 8 12 8 13 9 14 9"/><path d="M0 0 1 0 2 19 3 16 4 12 5 10 6 9 7 8 8 7 9 7 10 6 11 7 12 8 13 8 14 8"/><path d="M0 0 1 2 2 22 3 15 4 11 5 9 6 8 7 7 8 6 9 6 10 6 11 7 12 7 13 8 14 8"/><path d="M0 0 1 10 2 6 3 6 4 6 5 5 6 7 7 6 8 5 9 5 10 4 11 4 12 4 13 4 14 4"/><path d="M0 0 1 4 2 4 3 6 4 7 5 7 6 6 7 5 8 5 9 4 10 4 11 4 12 4 13 4 14 4"/><path d="M0 0 1 19 2 10 3 16 4 15 5 13 6 11 7 9 8 9 9 10 10 9 11 9 12 8 13 8 14 8"/><path d="M0 0 1 0 2 0 3 3 4 2 5 2 6 2 7 3 8 2 9 4 10 4 11 3 12 3 13 3 14 3"/><path d="M0 0 1 15 2 7 3 5 4 4 5 5 6 4 7 4 8 4 9 3 10 3 11 3 12 3 13 4 14 4"/><path d="M0 0 1 10 2 6 3 6 4 6 5 7 6 6 7 8 8 7 9 6 10 5 11 5 12 7 13 6 14 6"/><path d="M0 0 1 13 2 11 3 8 4 8 5 6 6 5 7 5 8 5 9 4 10 5 11 4 12 4 13 4 14 4"/><path d="M0 0 1 14 2 14 3 12 4 9 5 7 6 6 7 6 8 6 9 6 10 6 11 6 12 5 13 5 14 4"/></g><g stroke="#555" stroke-opacity="0.015" stroke-width="0.8"><path d="M0 0 1 19 2 10 3 8 4 8 5 7 6 7 7 7 8 10 9 11 10 11 11 11 12 13 13 13 14 14"/><path d="M0 0 1 29 2 16 3 23 4 23 5 21 6 24 7 20 8 18 9 16 10 15 11 14 12 15 13 14 14 13"/><path d="M0 0 1 30 2 15 3 12 4 17 5 14 6 15 7 14 8 12 9 12 10 11 11 11 12 13 13 12 14 11"/><path d="M0 0 1 0 2 0 3 0 4 0 5 13 6 16 7 16 8 14 9 13 10 13 11 12 12 15 13 14 14 13"/><path d="M0 0 1 0 2 19 3 27 4 20 5 16 6 14 7 13 8 11 9 12 10 13 11 15 12 14 13 14 14 15"/><path d="M0 0 1 3 2 5 3 7 4 7 5 7 6 9 7 8 8 8 9 7 10 7 11 7 12 7 13 7 14 6"/><path d="M0 0 1 38 2 21 3 15 4 17 5 16 6 14 7 15 8 14 9 13 10 11 11 11 12 10 13 11 14 12"/><path d="M0 0 1 15 2 8 3 8 4 6 5 6 6 7 7 6 8 6 9 6 10 11 11 11 12 14 13 13 14 13"/><path d="M0 0 1 39 2 20 3 13 4 13 5 15 6 15 7 18 8 16 9 14 10 13 11 14 12 14 13 13 14 13"/><path d="M0 0 1 0 2 0 3 25 4 26 5 21 6 20 7 23 8 20 9 21 10 21 11 22 12 20 13 20 14 21"/><path d="M0 0 1 50 2 33 3 25 4 19 5 24 6 22 7 20 8 18 9 17 10 16 11 14 12 14 13 17 14 16"/><path d="M0 0 1 1 2 5 3 11 4 11 5 17 6 18 7 17 8 18 9 18 10 19 11 20 12 20 13 21 14 20"/><path d="M0 0 1 4 2 10 3 8 4 12 5 9 6 8 7 7 8 6 9 6 10 6 11 6 12 7 13 6 14 6"/><path d="M0 0 1 1 2 3 3 2 4 4 5 11 6 10 7 11 8 11 9 13 10 14 11 13 12 12 13 13 14 13"/><path d="M0 0 1 50 2 29 3 28 4 27 5 23 6 20 7 19 8 22 9 20 10 18 11 18 12 17 13 18 14 17"/><path d="M0 0 1 6 2 3 3 7 4 7 5 12 6 10 7 11 8 10 9 10 10 9 11 8 12 7 13 7 14 7"/><path d="M0 0 1 50 2 33 3 22 4 19 5 18 6 16 7 20 8 18 9 16 10 14 11 16 12 16 13 15 14 16"/><path d="M0 0 1 2 2 12 3 10 4 20 5 18 6 22 7 21 8 18 9 17 10 19 11 19 12 18 13 18 14 19"/><path d="M0 0 1 3 2 5 3 3 4 6 5 5 6 6 7 8 8 7 9 7 10 8 11 7 12 9 13 9 14 9"/><path d="M0 0 1 7 2 5 3 14 4 20 5 19 6 18 7 16 8 19 9 19 10 18 11 17 12 16 13 15 14 18"/><path d="M0 0 1 0 2 14 3 25 4 26 5 23 6 24 7 23 8 21 9 21 10 19 11 18 12 19 13 19 14 18"/><path d="M0 0 1 50 2 33 3 25 4 30 5 27 6 25 7 26 8 26 9 23 10 22 11 22 12 22 13 21 14 22"/><path d="M0 0 1 30 2 15 3 11 4 10 5 12 6 13 7 14 8 13 9 15 10 14 11 15 12 15 13 15 14 14"/><path d="M0 0 1 0 2 6 3 4 4 4 5 15 6 19 7 18 8 17 9 16 10 14 11 13 12 13 13 14 14 14"/><path d="M0 0 1 0 2 19 3 14 4 11 5 16 6 21 7 23 8 20 9 21 10 19 11 18 12 19 13 19 14 18"/><path d="M0 0 1 50 2 29 3 29 4 26 5 28 6 23 7 20 8 18 9 18 10 19 11 20 12 19 13 18 14 17"/><path d="M0 0 1 1 2 5 3 4 4 5 5 5 6 4 7 5 8 5 9 5 10 4 11 10 12 10 13 9 14 10"/><path d="M0 0 1 50 2 33 3 23 4 25 5 24 6 21 7 20 8 18 9 20 10 21 11 20 12 20 13 18 14 19"/><path d="M0 0 1 2 2 28 3 20 4 17 5 14 6 13 7 14 8 14 9 12 10 11 11 14 12 15 13 16 14 15"/><path d="M0 0 1 0 2 1 3 2 4 5 5 12 6 13 7 12 8 13 9 13 10 12 11 11 12 10 13 12 14 11"/><path d="M0 0 1 0 2 33 3 33 4 30 5 27 6 23 7 21 8 18 9 17 10 19 11 21 12 20 13 19 14 18"/><path d="M0 0 1 23 2 19 3 19 4 18 5 21 6 22 7 20 8 18 9 17 10 15 11 15 12 16 13 17 14 16"/><path d="M0 0 1 36 2 21 3 14 4 14 5 15 6 16 7 18 8 18 9 18 10 18 11 18 12 19 13 19 14 18"/><path d="M0 0 1 0 2 0 3 3 4 4 5 15 6 20 7 19 8 18 9 18 10 18 11 17 12 16 13 15 14 14"/><path d="M0 0 1 13 2 8 3 7 4 6 5 16 6 20 7 19 8 22 9 21 10 20 11 19 12 19 13 18 14 18"/><path d="M0 0 1 10 2 11 3 9 4 9 5 8 6 13 7 12 8 10 9 13 10 13 11 13 12 15 13 15 14 16"/><path d="M0 0 1 0 2 0 3 1 4 9 5 16 6 16 7 15 8 19 9 17 10 15 11 14 12 14 13 14 14 13"/><path d="M0 0 1 18 2 10 3 17 4 18 5 17 6 16 7 15 8 14 9 15 10 15 11 15 12 14 13 14 14 13"/><path d="M0 0 1 38 2 20 3 14 4 11 5 10 6 10 7 10 8 9 9 9 10 12 11 11 12 10 13 10 14 11"/><path d="M0 0 1 12 2 25 3 23 4 20 5 19 6 17 7 19 8 17 9 16 10 17 11 16 12 15 13 16 14 15"/><path d="M0 0 1 11 2 16 3 13 4 11 5 13 6 16 7 14 8 12 9 14 10 13 11 14 12 13 13 12 14 13"/><path d="M0 0 1 30 2 20 3 15 4 24 5 20 6 17 7 18 8 16 9 15 10 18 11 16 12 17 13 18 14 18"/><path d="M0 0 1 30 2 15 3 19 4 20 5 19 6 16 7 14 8 16 9 17 10 17 11 17 12 16 13 17 14 16"/><path d="M0 0 1 50 2 33 3 33 4 25 5 21 6 21 7 20 8 18 9 17 10 16 11 18 12 17 13 16 14 17"/><path d="M0 0 1 1 2 2 3 11 4 10 5 13 6 12 7 15 8 14 9 13 10 12 11 11 12 11 13 10 14 11"/><path d="M0 0 1 11 2 7 3 7 4 6 5 9 6 8 7 9 8 8 9 8 10 8 11 8 12 8 13 10 14 11"/><path d="M0 0 1 0 2 26 3 30 4 27 5 24 6 26 7 25 8 23 9 22 10 24 11 23 12 22 13 21 14 23"/><path d="M0 0 1 14 2 12 3 10 4 9 5 14 6 15 7 14 8 14 9 13 10 12 11 14 12 16 13 16 14 15"/><path d="M0 0 1 5 2 26 3 22 4 17 5 22 6 23 7 23 8 20 9 20 10 18 11 18 12 17 13 17 14 16"/><path d="M0 0 1 31 2 17 3 23 4 19 5 21 6 18 7 17 8 17 9 16 10 15 11 15 12 14 13 15 14 16"/><path d="M0 0 1 21 2 15 3 11 4 11 5 9 6 12 7 11 8 13 9 12 10 13 11 14 12 14 13 14 14 14"/><path d="M0 0 1 50 2 33 3 33 4 28 5 25 6 27 7 27 8 26 9 25 10 24 11 24 12 23 13 24 14 24"/><path d="M0 0 1 50 2 33 3 33 4 30 5 27 6 29 7 27 8 28 9 27 10 27 11 27 12 27 13 27 14 27"/><path d="M0 0 1 50 2 33 3 27 4 20 5 19 6 22 7 20 8 19 9 21 10 20 11 21 12 20 13 18 14 19"/><path d="M0 0 1 0 2 27 3 18 4 15 5 15 6 12 7 13 8 16 9 17 10 16 11 14 12 15 13 14 14 15"/><path d="M0 0 1 50 2 33 3 33 4 30 5 24 6 21 7 19 8 21 9 19 10 19 11 21 12 20 13 19 14 21"/><path d="M0 0 1 4 2 2 3 5 4 15 5 15 6 14 7 12 8 16 9 14 10 16 11 15 12 14 13 16 14 16"/><path d="M0 0 1 8 2 25 3 19 4 19 5 15 6 19 7 19 8 16 9 18 10 17 11 18 12 18 13 19 14 19"/><path d="M0 0 1 0 2 13 3 10 4 22 5 18 6 16 7 15 8 13 9 15 10 14 11 13 12 13 13 12 14 11"/><path d="M0 0 1 3 2 2 3 3 4 17 5 21 6 20 7 20 8 21 9 21 10 20 11 20 12 19 13 18 14 17"/><path d="M0 0 1 11 2 9 3 17 4 18 5 18 6 19 7 18 8 17 9 15 10 17 11 17 12 17 13 19 14 19"/><path d="M0 0 1 1 2 0 3 13 4 11 5 13 6 17 7 15 8 13 9 12 10 11 11 11 12 11 13 11 14 10"/><path d="M0 0 1 50 2 25 3 23 4 20 5 17 6 15 7 14 8 14 9 13 10 14 11 15 12 14 13 14 14 13"/><path d="M0 0 1 50 2 27 3 22 4 17 5 15 6 21 7 18 8 17 9 20 10 19 11 21 12 22 13 23 14 23"/><path d="M0 0 1 8 2 13 3 9 4 15 5 17 6 17 7 15 8 14 9 13 10 13 11 12 12 12 13 11 14 14"/><path d="M0 0 1 36 2 22 3 15 4 13 5 11 6 12 7 11 8 10 9 10 10 9 11 8 12 8 13 7 14 7"/><path d="M0 0 1 23 2 26 3 25 4 26 5 25 6 25 7 24 8 23 9 23 10 22 11 21 12 20 13 22 14 21"/><path d="M0 0 1 18 2 10 3 10 4 10 5 8 6 9 7 9 8 10 9 9 10 8 11 9 12 9 13 8 14 8"/><path d="M0 0 1 0 2 33 3 25 4 30 5 30 6 25 7 22 8 22 9 20 10 18 11 18 12 18 13 19 14 18"/><path d="M0 0 1 1 2 15 3 12 4 17 5 18 6 17 7 15 8 18 9 18 10 16 11 15 12 15 13 15 14 16"/><path d="M0 0 1 2 2 3 3 10 4 14 5 11 6 11 7 11 8 12 9 12 10 12 11 11 12 11 13 11 14 11"/><path d="M0 0 1 9 2 10 3 13 4 12 5 12 6 11 7 14 8 13 9 14 10 16 11 15 12 14 13 14 14 15"/><path d="M0 0 1 0 2 4 3 6 4 6 5 5 6 8 7 9 8 12 9 14 10 13 11 12 12 11 13 12 14 12"/><path d="M0 0 1 28 2 21 3 21 4 16 5 15 6 14 7 14 8 17 9 17 10 17 11 16 12 15 13 14 14 14"/><path d="M0 0 1 29 2 15 3 11 4 13 5 11 6 11 7 11 8 11 9 11 10 15 11 13 12 13 13 14 14 14"/><path d="M0 0 1 7 2 4 3 3 4 3 5 2 6 3 7 4 8 5 9 4 10 5 11 9 12 8 13 8 14 8"/><path d="M0 0 1 1 2 9 3 6 4 8 5 9 6 10 7 14 8 12 9 12 10 11 11 10 12 11 13 10 14 10"/><path d="M0 0 1 2 2 15 3 13 4 10 5 9 6 8 7 7 8 10 9 10 10 10 11 10 12 9 13 8 14 8"/><path d="M0 0 1 7 2 20 3 18 4 16 5 13 6 14 7 17 8 15 9 13 10 14 11 13 12 14 13 14 14 13"/><path d="M0 0 1 4 2 27 3 22 4 17 5 21 6 19 7 18 8 19 9 18 10 18 11 16 12 15 13 16 14 16"/><path d="M0 0 1 5 2 6 3 9 4 9 5 13 6 11 7 14 8 13 9 11 10 12 11 11 12 13 13 14 14 15"/><path d="M0 0 1 50 2 29 3 21 4 25 5 25 6 21 7 18 8 19 9 19 10 20 11 19 12 19 13 19 14 19"/><path d="M0 0 1 12 2 12 3 9 4 9 5 8 6 14 7 12 8 12 9 12 10 12 11 12 12 14 13 13 14 13"/><path d="M0 0 1 9 2 5 3 9 4 11 5 11 6 9 7 12 8 13 9 13 10 12 11 11 12 11 13 10 14 11"/><path d="M0 0 1 1 2 0 3 1 4 1 5 1 6 5 7 4 8 3 9 3 10 5 11 5 12 5 13 4 14 4"/><path d="M0 0 1 8 2 4 3 3 4 2 5 3 6 3 7 3 8 3 9 3 10 3 11 3 12 3 13 3 14 3"/><path d="M0 0 1 11 2 5 3 4 4 4 5 4 6 4 7 4 8 3 9 4 10 8 11 7 12 7 13 7 14 9"/><path d="M0 0 1 8 2 11 3 7 4 14 5 11 6 10 7 9 8 8 9 7 10 8 11 7 12 8 13 8 14 7"/><path d="M0 0 1 3 2 3 3 3 4 4 5 4 6 3 7 4 8 5 9 4 10 4 11 4 12 4 13 4 14 4"/><path d="M0 0 1 4 2 3 3 2 4 2 5 2 6 1 7 1 8 1 9 1 10 1 11 1 12 1 13 2 14 2"/><path d="M0 0 1 11 2 8 3 5 4 7 5 7 6 6 7 5 8 5 9 6 10 6 11 6 12 6 13 6 14 5"/><path d="M0 0 1 1 2 2 3 4 4 4 5 4 6 6 7 6 8 5 9 4 10 4 11 4 12 4 13 3 14 3"/><path d="M0 0 1 9 2 7 3 9 4 7 5 6 6 9 7 8 8 7 9 6 10 6 11 7 12 8 13 7 14 7"/><path d="M0 0 1 0 2 0 3 1 4 1 5 1 6 2 7 2 8 2 9 2 10 2 11 2 12 2 13 2 14 2"/><path d="M0 0 1 3 2 2 3 1 4 1 5 1 6 1 7 1 8 1 9 1 10 1 11 1 12 2 13 2 14 2"/><path d="M0 0 1 4 2 4 3 4 4 4 5 3 6 3 7 3 8 3 9 3 10 2 11 2 12 2 13 2 14 2"/><path d="M0 0 1 19 2 9 3 7 4 5 5 4 6 5 7 4 8 4 9 3 10 3 11 3 12 5 13 5 14 4"/><path d="M0 0 1 1 2 1 3 3 4 2 5 6 6 5 7 7 8 6 9 7 10 6 11 8 12 8 13 8 14 7"/><path d="M0 0 1 0 2 0 3 1 4 1 5 4 6 6 7 7 8 6 9 6 10 6 11 7 12 7 13 6 14 8"/><path d="M0 0 1 0 2 0 3 2 4 2 5 1 6 3 7 2 8 3 9 3 10 3 11 3 12 3 13 3 14 3"/><path d="M0 0 1 7 2 6 3 4 4 4 5 6 6 7 7 6 8 7 9 6 10 6 11 6 12 6 13 5 14 5"/><path d="M0 0 1 1 2 0 3 1 4 1 5 1 6 1 7 1 8 1 9 1 10 1 11 1 12 2 13 2 14 2"/><path d="M0 0 1 10 2 7 3 5 4 4 5 7 6 6 7 9 8 11 9 10 10 11 11 10 12 9 13 9 14 8"/><path d="M0 0 1 4 2 10 3 7 4 7 5 6 6 5 7 4 8 4 9 5 10 4 11 4 12 4 13 4 14 5"/><path d="M0 0 1 1 2 1 3 2 4 2 5 2 6 2 7 2 8 1 9 1 10 1 11 2 12 2 13 2 14 2"/><path d="M0 0 1 2 2 4 3 4 4 3 5 3 6 3 7 4 8 4 9 4 10 5 11 4 12 4 13 4 14 4"/><path d="M0 0 1 2 2 3 3 3 4 5 5 5 6 4 7 4 8 4 9 3 10 3 11 4 12 4 13 3 14 3"/><path d="M0 0 1 1 2 1 3 1 4 1 5 1 6 1 7 1 8 1 9 1 10 1 11 1 12 1 13 1 14 1"/><path d="M0 0 1 33 2 17 3 12 4 12 5 10 6 10 7 9 8 10 9 9 10 8 11 10 12 10 13 9 14 8"/><path d="M0 0 1 3 2 4 3 3 4 3 5 2 6 2 7 3 8 2 9 3 10 3 11 3 12 4 13 4 14 4"/><path d="M0 0 1 4 2 2 3 1 4 1 5 2 6 2 7 2 8 2 9 3 10 3 11 3 12 2 13 2 14 2"/><path d="M0 0 1 13 2 7 3 7 4 11 5 9 6 10 7 8 8 10 9 9 10 9 11 8 12 8 13 8 14 8"/><path d="M0 0 1 46 2 24 3 16 4 12 5 10 6 10 7 9 8 8 9 7 10 8 11 7 12 7 13 6 14 6"/><path d="M0 0 1 1 2 5 3 5 4 4 5 3 6 4 7 4 8 3 9 4 10 3 11 3 12 3 13 3 14 3"/><path d="M0 0 1 8 2 7 3 9 4 7 5 8 6 6 7 6 8 5 9 4 10 4 11 4 12 4 13 5 14 4"/><path d="M0 0 1 9 2 10 3 7 4 10 5 9 6 10 7 9 8 8 9 8 10 9 11 8 12 7 13 7 14 7"/><path d="M0 0 1 9 2 15 3 11 4 13 5 11 6 9 7 9 8 8 9 7 10 7 11 6 12 6 13 5 14 6"/><path d="M0 0 1 7 2 4 3 4 4 8 5 6 6 5 7 5 8 5 9 5 10 4 11 4 12 4 13 4 14 4"/><path d="M0 0 1 20 2 16 3 14 4 11 5 9 6 7 7 7 8 6 9 6 10 6 11 5 12 5 13 5 14 5"/><path d="M0 0 1 11 2 25 3 18 4 17 5 13 6 14 7 13 8 11 9 10 10 9 11 9 12 8 13 8 14 8"/><path d="M0 0 1 7 2 12 3 9 4 9 5 9 6 8 7 7 8 6 9 5 10 5 11 5 12 5 13 4 14 4"/><path d="M0 0 1 9 2 9 3 7 4 8 5 6 6 5 7 5 8 4 9 4 10 4 11 3 12 3 13 3 14 3"/><path d="M0 0 1 17 2 9 3 6 4 9 5 8 6 7 7 6 8 6 9 6 10 6 11 5 12 5 13 5 14 5"/><path d="M0 0 1 27 2 15 3 10 4 9 5 7 6 6 7 5 8 5 9 4 10 4 11 4 12 3 13 3 14 3"/><path d="M0 0 1 1 2 2 3 1 4 2 5 3 6 3 7 3 8 3 9 3 10 3 11 4 12 3 13 4 14 4"/><path d="M0 0 1 14 2 11 3 7 4 6 5 4 6 4 7 3 8 3 9 3 10 3 11 2 12 2 13 2 14 2"/><path d="M0 0 1 3 2 17 3 17 4 17 5 16 6 15 7 13 8 11 9 10 10 9 11 8 12 8 13 8 14 7"/><path d="M0 0 1 19 2 10 3 7 4 11 5 13 6 11 7 10 8 9 9 8 10 8 11 8 12 7 13 7 14 7"/><path d="M0 0 1 9 2 10 3 10 4 11 5 9 6 7 7 6 8 6 9 5 10 5 11 5 12 4 13 4 14 4"/><path d="M0 0 1 28 2 24 3 16 4 15 5 12 6 10 7 9 8 8 9 9 10 8 11 9 12 10 13 10 14 10"/><path d="M0 0 1 18 2 9 3 8 4 6 5 6 6 5 7 4 8 4 9 4 10 4 11 4 12 3 13 4 14 4"/><path d="M0 0 1 0 2 2 3 1 4 1 5 2 6 2 7 2 8 2 9 1 10 1 11 1 12 1 13 1 14 2"/><path d="M0 0 1 10 2 10 3 7 4 8 5 7 6 6 7 5 8 5 9 4 10 4 11 6 12 5 13 5 14 5"/><path d="M0 0 1 9 2 12 3 9 4 7 5 6 6 5 7 5 8 4 9 4 10 4 11 6 12 5 13 5 14 5"/><path d="M0 0 1 14 2 12 3 12 4 9 5 8 6 8 7 7 8 6 9 6 10 5 11 5 12 5 13 5 14 5"/><path d="M0 0 1 8 2 5 3 6 4 4 5 3 6 3 7 3 8 3 9 2 10 2 11 2 12 3 13 3 14 2"/><path d="M0 0 1 50 2 27 3 18 4 17 5 15 6 12 7 11 8 9 9 8 10 9 11 8 12 7 13 7 14 8"/><path d="M0 0 1 6 2 3 3 6 4 5 5 4 6 4 7 4 8 4 9 4 10 4 11 5 12 5 13 4 14 4"/><path d="M0 0 1 14 2 8 3 8 4 7 5 6 6 5 7 5 8 4 9 4 10 3 11 3 12 3 13 3 14 3"/><path d="M0 0 1 27 2 18 3 14 4 12 5 11 6 9 7 9 8 9 9 8 10 8 11 8 12 7 13 7 14 7"/><path d="M0 0 1 10 2 6 3 4 4 6 5 6 6 5 7 5 8 5 9 4 10 4 11 4 12 4 13 4 14 4"/><path d="M0 0 1 10 2 7 3 5 4 4 5 4 6 3 7 3 8 3 9 2 10 2 11 2 12 3 13 2 14 2"/></g><g stroke="#555" stroke-opacity="0.0175" stroke-width="0.8"><path d="M0 0 1 32 2 16 3 11 4 16 5 15 6 13 7 11 8 11 9 10 10 13 11 13 12 12 13 13 14 12"/><path d="M0 0 1 6 2 15 3 13 4 12 5 13 6 15 7 13 8 14 9 14 10 13 11 12 12 11 13 12 14 12"/><path d="M0 0 1 8 2 13 3 19 4 20 5 19 6 17 7 21 8 19 9 17 10 16 11 15 12 14 13 13 14 12"/><path d="M0 0 1 0 2 33 3 23 4 18 5 22 6 21 7 20 8 17 9 16 10 18 11 18 12 17 13 15 14 17"/><path d="M0 0 1 3 2 8 3 7 4 6 5 15 6 13 7 13 8 16 9 16 10 15 11 15 12 14 13 15 14 15"/><path d="M0 0 1 9 2 4 3 10 4 10 5 8 6 8 7 7 8 6 9 12 10 11 11 11 12 10 13 10 14 11"/><path d="M0 0 1 22 2 26 3 19 4 19 5 21 6 21 7 22 8 22 9 23 10 23 11 23 12 23 13 24 14 24"/><path d="M0 0 1 50 2 33 3 25 4 20 5 19 6 24 7 25 8 24 9 23 10 21 11 20 12 22 13 21 14 22"/><path d="M0 0 1 1 2 7 3 5 4 4 5 4 6 8 7 7 8 6 9 7 10 6 11 6 12 6 13 6 14 6"/><path d="M0 0 1 0 2 8 3 15 4 21 5 18 6 19 7 19 8 17 9 17 10 15 11 16 12 14 13 14 14 15"/><path d="M0 0 1 7 2 5 3 7 4 6 5 11 6 10 7 10 8 15 9 14 10 13 11 13 12 13 13 13 14 13"/><path d="M0 0 1 2 2 5 3 7 4 9 5 8 6 7 7 7 8 10 9 10 10 12 11 11 12 12 13 12 14 12"/><path d="M0 0 1 4 2 16 3 19 4 14 5 11 6 12 7 11 8 10 9 10 10 13 11 15 12 14 13 14 14 13"/><path d="M0 0 1 1 2 7 3 17 4 17 5 16 6 15 7 13 8 13 9 11 10 14 11 14 12 15 13 16 14 15"/><path d="M0 0 1 4 2 2 3 2 4 2 5 2 6 2 7 3 8 3 9 10 10 10 11 12 12 11 13 14 14 14"/><path d="M0 0 1 8 2 5 3 17 4 17 5 13 6 12 7 10 8 9 9 9 10 9 11 10 12 9 13 11 14 13"/><path d="M0 0 1 0 2 5 3 3 4 4 5 10 6 8 7 7 8 7 9 7 10 8 11 11 12 13 13 12 14 13"/><path d="M0 0 1 50 2 25 3 22 4 23 5 18 6 18 7 16 8 16 9 16 10 15 11 15 12 16 13 17 14 17"/><path d="M0 0 1 2 2 3 3 3 4 4 5 4 6 5 7 5 8 5 9 10 10 13 11 12 12 13 13 14 14 13"/><path d="M0 0 1 5 2 3 3 10 4 11 5 9 6 8 7 7 8 6 9 5 10 5 11 6 12 6 13 6 14 7"/><path d="M0 0 1 0 2 19 3 27 4 24 5 20 6 18 7 17 8 15 9 14 10 18 11 16 12 16 13 18 14 17"/><path d="M0 0 1 4 2 3 3 2 4 2 5 1 6 14 7 20 8 18 9 22 10 20 11 21 12 21 13 20 14 21"/><path d="M0 0 1 50 2 33 3 22 4 19 5 15 6 20 7 23 8 22 9 20 10 18 11 17 12 17 13 16 14 15"/><path d="M0 0 1 50 2 33 3 23 4 19 5 15 6 15 7 13 8 16 9 16 10 16 11 15 12 15 13 17 14 17"/><path d="M0 0 1 1 2 2 3 9 4 8 5 10 6 10 7 9 8 11 9 10 10 9 11 8 12 8 13 7 14 7"/><path d="M0 0 1 6 2 7 3 19 4 15 5 12 6 11 7 10 8 10 9 9 10 8 11 9 12 11 13 11 14 10"/><path d="M0 0 1 23 2 26 3 18 4 14 5 12 6 12 7 16 8 16 9 18 10 19 11 19 12 18 13 17 14 18"/><path d="M0 0 1 0 2 0 3 25 4 20 5 17 6 24 7 21 8 18 9 16 10 19 11 19 12 18 13 17 14 19"/><path d="M0 0 1 16 2 9 3 7 4 13 5 18 6 20 7 20 8 21 9 21 10 21 11 21 12 22 13 23 14 22"/><path d="M0 0 1 50 2 27 3 26 4 20 5 21 6 18 7 18 8 16 9 16 10 18 11 17 12 17 13 17 14 18"/><path d="M0 0 1 50 2 25 3 17 4 17 5 15 6 14 7 18 8 20 9 21 10 21 11 22 12 22 13 22 14 21"/><path d="M0 0 1 3 2 1 3 9 4 7 5 9 6 13 7 14 8 12 9 11 10 12 11 11 12 13 13 12 14 12"/><path d="M0 0 1 13 2 18 3 12 4 14 5 11 6 12 7 13 8 12 9 11 10 14 11 14 12 14 13 14 14 14"/><path d="M0 0 1 50 2 33 3 33 4 30 5 27 6 24 7 21 8 20 9 18 10 17 11 16 12 15 13 14 14 16"/><path d="M0 0 1 7 2 25 3 22 4 19 5 24 6 25 7 25 8 24 9 23 10 22 11 24 12 22 13 23 14 23"/><path d="M0 0 1 18 2 9 3 6 4 13 5 10 6 11 7 10 8 9 9 11 10 12 11 13 12 14 13 15 14 14"/><path d="M0 0 1 0 2 33 3 25 4 20 5 20 6 24 7 25 8 25 9 22 10 24 11 21 12 21 13 20 14 18"/><path d="M0 0 1 5 2 26 3 18 4 15 5 15 6 13 7 13 8 12 9 12 10 14 11 14 12 12 13 12 14 12"/><path d="M0 0 1 35 2 20 3 15 4 13 5 14 6 17 7 16 8 15 9 14 10 15 11 15 12 14 13 13 14 12"/><path d="M0 0 1 6 2 6 3 11 4 9 5 8 6 6 7 8 8 11 9 11 10 12 11 11 12 13 13 12 14 13"/><path d="M0 0 1 1 2 22 3 17 4 14 5 15 6 14 7 15 8 13 9 12 10 11 11 12 12 11 13 11 14 12"/><path d="M0 0 1 1 2 9 3 12 4 10 5 10 6 10 7 9 8 9 9 8 10 12 11 15 12 15 13 15 14 15"/><path d="M0 0 1 6 2 5 3 6 4 14 5 13 6 12 7 11 8 11 9 10 10 10 11 10 12 11 13 11 14 10"/><path d="M0 0 1 0 2 0 3 1 4 5 5 5 6 6 7 6 8 8 9 13 10 12 11 11 12 13 13 12 14 13"/><path d="M0 0 1 17 2 11 3 12 4 19 5 20 6 20 7 19 8 21 9 21 10 20 11 19 12 18 13 20 14 21"/><path d="M0 0 1 16 2 9 3 6 4 7 5 14 6 17 7 18 8 18 9 16 10 18 11 19 12 19 13 18 14 17"/><path d="M0 0 1 27 2 27 3 20 4 20 5 22 6 22 7 21 8 19 9 19 10 19 11 20 12 20 13 21 14 21"/><path d="M0 0 1 10 2 20 3 19 4 15 5 18 6 19 7 19 8 17 9 19 10 19 11 20 12 21 13 21 14 20"/><path d="M0 0 1 7 2 25 3 22 4 25 5 24 6 20 7 22 8 20 9 18 10 19 11 18 12 18 13 18 14 19"/><path d="M0 0 1 1 2 12 3 8 4 16 5 13 6 12 7 11 8 11 9 11 10 10 11 9 12 12 13 11 14 11"/><path d="M0 0 1 50 2 30 3 20 4 18 5 20 6 18 7 15 8 16 9 18 10 18 11 16 12 15 13 16 14 15"/><path d="M0 0 1 32 2 16 3 14 4 21 5 22 6 21 7 18 8 17 9 18 10 17 11 17 12 16 13 17 14 17"/><path d="M0 0 1 1 2 18 3 19 4 16 5 18 6 17 7 16 8 18 9 17 10 15 11 14 12 13 13 13 14 14"/><path d="M0 0 1 8 2 4 3 4 4 5 5 14 6 13 7 12 8 12 9 11 10 10 11 10 12 9 13 8 14 8"/><path d="M0 0 1 21 2 11 3 10 4 9 5 8 6 9 7 9 8 15 9 18 10 17 11 16 12 16 13 15 14 18"/><path d="M0 0 1 1 2 0 3 5 4 15 5 16 6 14 7 12 8 15 9 13 10 14 11 15 12 14 13 15 14 15"/><path d="M0 0 1 12 2 10 3 7 4 7 5 8 6 8 7 13 8 16 9 17 10 18 11 18 12 18 13 18 14 18"/><path d="M0 0 1 12 2 7 3 8 4 7 5 9 6 8 7 9 8 8 9 9 10 8 11 7 12 7 13 7 14 7"/><path d="M0 0 1 0 2 33 3 22 4 26 5 24 6 26 7 23 8 22 9 20 10 19 11 19 12 21 13 19 14 21"/><path d="M0 0 1 12 2 6 3 14 4 12 5 10 6 8 7 7 8 9 9 8 10 7 11 8 12 7 13 9 14 9"/><path d="M0 0 1 11 2 25 3 23 4 25 5 24 6 20 7 21 8 19 9 19 10 19 11 19 12 20 13 20 14 19"/><path d="M0 0 1 5 2 19 3 18 4 16 5 14 6 13 7 11 8 10 9 16 10 17 11 20 12 18 13 17 14 17"/><path d="M0 0 1 1 2 2 3 20 4 24 5 19 6 20 7 21 8 21 9 21 10 19 11 20 12 19 13 17 14 16"/><path d="M0 0 1 0 2 2 3 7 4 8 5 7 6 8 7 13 8 13 9 13 10 16 11 14 12 15 13 16 14 15"/><path d="M0 0 1 50 2 33 3 22 4 25 5 24 6 22 7 21 8 19 9 22 10 21 11 20 12 20 13 19 14 18"/><path d="M0 0 1 50 2 33 3 23 4 20 5 24 6 20 7 19 8 22 9 19 10 20 11 20 12 21 13 19 14 19"/><path d="M0 0 1 0 2 7 3 11 4 10 5 10 6 10 7 9 8 9 9 9 10 9 11 13 12 12 13 12 14 13"/><path d="M0 0 1 11 2 6 3 4 4 8 5 13 6 11 7 9 8 8 9 7 10 7 11 6 12 7 13 6 14 6"/><path d="M0 0 1 12 2 6 3 7 4 9 5 8 6 6 7 6 8 5 9 5 10 4 11 4 12 4 13 4 14 4"/><path d="M0 0 1 2 2 4 3 3 4 4 5 4 6 3 7 3 8 4 9 4 10 3 11 3 12 3 13 3 14 3"/><path d="M0 0 1 7 2 4 3 6 4 7 5 5 6 6 7 5 8 5 9 6 10 6 11 6 12 5 13 5 14 5"/><path d="M0 0 1 11 2 6 3 4 4 5 5 5 6 4 7 3 8 3 9 3 10 3 11 4 12 4 13 4 14 4"/><path d="M0 0 1 21 2 15 3 10 4 8 5 7 6 5 7 5 8 5 9 4 10 4 11 4 12 4 13 3 14 3"/><path d="M0 0 1 12 2 7 3 6 4 4 5 5 6 4 7 4 8 3 9 3 10 3 11 3 12 3 13 3 14 3"/><path d="M0 0 1 2 2 5 3 3 4 3 5 3 6 3 7 3 8 3 9 3 10 3 11 3 12 3 13 2 14 3"/><path d="M0 0 1 1 2 10 3 13 4 10 5 12 6 10 7 9 8 8 9 7 10 7 11 7 12 7 13 6 14 6"/><path d="M0 0 1 0 2 1 3 1 4 2 5 2 6 3 7 3 8 4 9 5 10 4 11 5 12 5 13 5 14 4"/><path d="M0 0 1 1 2 0 3 0 4 3 5 4 6 4 7 4 8 3 9 3 10 3 11 6 12 5 13 5 14 5"/><path d="M0 0 1 2 2 2 3 3 4 6 5 7 6 9 7 8 8 8 9 8 10 7 11 6 12 6 13 6 14 7"/><path d="M0 0 1 1 2 0 3 0 4 2 5 2 6 2 7 2 8 2 9 3 10 3 11 3 12 4 13 3 14 4"/><path d="M0 0 1 3 2 2 3 2 4 1 5 1 6 1 7 1 8 2 9 2 10 2 11 2 12 3 13 3 14 3"/><path d="M0 0 1 4 2 3 3 4 4 3 5 3 6 3 7 3 8 3 9 3 10 4 11 3 12 4 13 4 14 4"/><path d="M0 0 1 16 2 9 3 8 4 6 5 5 6 4 7 4 8 3 9 3 10 3 11 4 12 4 13 4 14 4"/><path d="M0 0 1 0 2 1 3 7 4 6 5 5 6 4 7 5 8 4 9 4 10 4 11 4 12 4 13 4 14 4"/><path d="M0 0 1 0 2 0 3 0 4 0 5 1 6 2 7 2 8 2 9 2 10 2 11 2 12 2 13 2 14 2"/><path d="M0 0 1 2 2 1 3 1 4 2 5 2 6 4 7 4 8 4 9 3 10 4 11 5 12 4 13 4 14 4"/><path d="M0 0 1 0 2 0 3 0 4 1 5 2 6 2 7 2 8 2 9 2 10 2 11 2 12 3 13 3 14 3"/><path d="M0 0 1 4 2 3 3 2 4 2 5 4 6 3 7 3 8 3 9 3 10 3 11 3 12 2 13 2 14 2"/><path d="M0 0 1 9 2 5 3 5 4 4 5 7 6 9 7 8 8 7 9 6 10 7 11 6 12 5 13 5 14 5"/><path d="M0 0 1 4 2 2 3 1 4 5 5 4 6 3 7 3 8 5 9 5 10 4 11 5 12 6 13 5 14 5"/><path d="M0 0 1 3 2 2 3 2 4 2 5 3 6 5 7 5 8 5 9 4 10 4 11 5 12 6 13 6 14 6"/><path d="M0 0 1 18 2 14 3 10 4 7 5 6 6 5 7 5 8 4 9 5 10 5 11 5 12 4 13 4 14 4"/><path d="M0 0 1 0 2 3 3 2 4 2 5 2 6 2 7 2 8 1 9 2 10 2 11 2 12 3 13 2 14 3"/><path d="M0 0 1 5 2 3 3 2 4 3 5 3 6 2 7 2 8 2 9 2 10 2 11 3 12 3 13 3 14 3"/><path d="M0 0 1 23 2 12 3 10 4 8 5 9 6 8 7 7 8 6 9 5 10 5 11 4 12 7 13 6 14 6"/><path d="M0 0 1 0 2 1 3 1 4 1 5 1 6 1 7 1 8 1 9 2 10 2 11 2 12 2 13 2 14 2"/><path d="M0 0 1 7 2 5 3 3 4 3 5 2 6 2 7 2 8 2 9 3 10 3 11 3 12 3 13 2 14 2"/><path d="M0 0 1 4 2 5 3 4 4 4 5 3 6 3 7 3 8 2 9 2 10 2 11 2 12 2 13 2 14 2"/><path d="M0 0 1 6 2 3 3 13 4 10 5 8 6 8 7 6 8 6 9 6 10 6 11 5 12 5 13 5 14 5"/><path d="M0 0 1 2 2 2 3 2 4 2 5 3 6 2 7 2 8 2 9 2 10 2 11 2 12 2 13 2 14 3"/><path d="M0 0 1 6 2 26 3 18 4 13 5 14 6 11 7 10 8 10 9 9 10 10 11 10 12 10 13 9 14 9"/><path d="M0 0 1 2 2 1 3 2 4 2 5 3 6 3 7 2 8 2 9 2 10 2 11 2 12 3 13 2 14 2"/><path d="M0 0 1 2 2 3 3 2 4 3 5 2 6 3 7 3 8 3 9 3 10 6 11 5 12 5 13 5 14 5"/><path d="M0 0 1 25 2 13 3 10 4 7 5 6 6 7 7 9 8 9 9 9 10 9 11 9 12 9 13 9 14 8"/><path d="M0 0 1 23 2 12 3 8 4 6 5 5 6 4 7 4 8 3 9 3 10 3 11 3 12 2 13 2 14 2"/><path d="M0 0 1 3 2 6 3 8 4 7 5 9 6 8 7 10 8 9 9 8 10 7 11 7 12 6 13 7 14 7"/><path d="M0 0 1 14 2 14 3 10 4 8 5 8 6 7 7 6 8 6 9 5 10 5 11 5 12 5 13 4 14 4"/><path d="M0 0 1 12 2 9 3 6 4 5 5 4 6 5 7 5 8 4 9 5 10 4 11 6 12 5 13 5 14 5"/><path d="M0 0 1 16 2 10 3 7 4 5 5 4 6 4 7 4 8 4 9 4 10 3 11 3 12 5 13 5 14 4"/><path d="M0 0 1 37 2 19 3 13 4 10 5 8 6 8 7 7 8 7 9 6 10 6 11 6 12 6 13 6 14 7"/><path d="M0 0 1 6 2 3 3 3 4 12 5 10 6 12 7 11 8 12 9 11 10 10 11 10 12 10 13 9 14 9"/><path d="M0 0 1 9 2 9 3 12 4 10 5 8 6 7 7 6 8 5 9 5 10 4 11 4 12 4 13 4 14 4"/><path d="M0 0 1 25 2 15 3 11 4 9 5 11 6 11 7 9 8 9 9 8 10 8 11 10 12 9 13 9 14 10"/><path d="M0 0 1 27 2 17 3 12 4 9 5 7 6 6 7 6 8 5 9 5 10 5 11 4 12 4 13 4 14 4"/><path d="M0 0 1 0 2 0 3 1 4 1 5 1 6 2 7 2 8 2 9 2 10 1 11 1 12 1 13 1 14 2"/><path d="M0 0 1 12 2 6 3 5 4 4 5 3 6 6 7 6 8 5 9 5 10 7 11 8 12 7 13 7 14 7"/><path d="M0 0 1 6 2 3 3 6 4 5 5 5 6 4 7 4 8 3 9 3 10 6 11 6 12 6 13 5 14 5"/><path d="M0 0 1 5 2 9 3 7 4 6 5 5 6 4 7 4 8 4 9 5 10 4 11 4 12 4 13 4 14 3"/><path d="M0 0 1 28 2 18 3 12 4 10 5 11 6 9 7 9 8 9 9 8 10 7 11 6 12 6 13 6 14 6"/><path d="M0 0 1 0 2 1 3 0 4 0 5 0 6 0 7 1 8 1 9 1 10 1 11 1 12 1 13 1 14 1"/><path d="M0 0 1 0 2 12 3 13 4 15 5 12 6 10 7 9 8 8 9 7 10 7 11 8 12 7 13 7 14 7"/><path d="M0 0 1 19 2 9 3 6 4 5 5 5 6 7 7 7 8 6 9 6 10 7 11 6 12 6 13 6 14 6"/><path d="M0 0 1 14 2 10 3 9 4 7 5 6 6 5 7 4 8 4 9 4 10 4 11 6 12 5 13 5 14 5"/><path d="M0 0 1 20 2 13 3 9 4 8 5 7 6 6 7 6 8 5 9 5 10 6 11 6 12 5 13 5 14 5"/><path d="M0 0 1 5 2 6 3 5 4 6 5 5 6 4 7 4 8 4 9 4 10 4 11 4 12 3 13 3 14 3"/><path d="M0 0 1 2 2 1 3 13 4 10 5 8 6 8 7 8 8 8 9 7 10 7 11 7 12 7 13 6 14 6"/><path d="M0 0 1 33 2 17 3 12 4 10 5 8 6 7 7 6 8 5 9 5 10 4 11 5 12 4 13 4 14 4"/><path d="M0 0 1 13 2 6 3 6 4 6 5 10 6 12 7 11 8 10 9 9 10 9 11 8 12 7 13 7 14 7"/></g><g stroke="#555" stroke-opacity="0.02" stroke-width="0.8"><path d="M0 0 1 0 2 0 3 14 4 11 5 9 6 19 7 17 8 19 9 17 10 16 11 19 12 18 13 17 14 18"/><path d="M0 0 1 13 2 25 3 19 4 15 5 15 6 15 7 13 8 17 9 16 10 15 11 17 12 17 13 15 14 16"/><path d="M0 0 1 24 2 16 3 12 4 10 5 8 6 7 7 6 8 7 9 8 10 8 11 7 12 7 13 12 14 11"/><path d="M0 0 1 5 2 3 3 8 4 15 5 17 6 17 7 19 8 19 9 19 10 17 11 16 12 15 13 15 14 15"/><path d="M0 0 1 4 2 8 3 6 4 16 5 14 6 14 7 12 8 11 9 14 10 12 11 12 12 11 13 10 14 11"/><path d="M0 0 1 9 2 25 3 24 4 19 5 17 6 16 7 19 8 17 9 15 10 17 11 17 12 17 13 17 14 17"/><path d="M0 0 1 15 2 25 3 23 4 21 5 21 6 23 7 19 8 18 9 18 10 17 11 16 12 16 13 16 14 17"/><path d="M0 0 1 0 2 33 3 33 4 30 5 24 6 23 7 21 8 20 9 23 10 20 11 22 12 21 13 22 14 22"/><path d="M0 0 1 4 2 2 3 19 4 22 5 22 6 21 7 18 8 17 9 20 10 18 11 19 12 19 13 18 14 17"/><path d="M0 0 1 17 2 9 3 10 4 12 5 13 6 15 7 16 8 16 9 18 10 19 11 19 12 19 13 19 14 18"/><path d="M0 0 1 0 2 33 3 33 4 30 5 30 6 29 7 27 8 24 9 26 10 25 11 26 12 26 13 24 14 24"/><path d="M0 0 1 6 2 4 3 11 4 10 5 16 6 18 7 18 8 18 9 18 10 18 11 17 12 18 13 18 14 18"/><path d="M0 0 1 50 2 27 3 26 4 23 5 20 6 19 7 20 8 20 9 18 10 17 11 17 12 15 13 15 14 14"/><path d="M0 0 1 16 2 10 3 8 4 8 5 7 6 6 7 6 8 10 9 9 10 11 11 10 12 10 13 9 14 12"/><path d="M0 0 1 4 2 27 3 18 4 21 5 17 6 18 7 19 8 17 9 18 10 19 11 19 12 19 13 20 14 19"/><path d="M0 0 1 20 2 12 3 8 4 6 5 8 6 11 7 11 8 10 9 10 10 13 11 13 12 13 13 12 14 11"/><path d="M0 0 1 8 2 6 3 4 4 10 5 8 6 9 7 13 8 12 9 14 10 13 11 12 12 14 13 13 14 13"/><path d="M0 0 1 3 2 3 3 11 4 9 5 9 6 9 7 9 8 10 9 9 10 12 11 11 12 10 13 10 14 9"/><path d="M0 0 1 20 2 10 3 12 4 11 5 11 6 10 7 10 8 10 9 9 10 9 11 12 12 15 13 15 14 15"/><path d="M0 0 1 3 2 13 3 10 4 7 5 8 6 14 7 13 8 13 9 11 10 14 11 13 12 13 13 12 14 13"/><path d="M0 0 1 24 2 26 3 26 4 26 5 24 6 26 7 25 8 23 9 23 10 23 11 23 12 23 13 23 14 22"/><path d="M0 0 1 6 2 26 3 25 4 22 5 18 6 16 7 20 8 18 9 18 10 17 11 18 12 18 13 19 14 18"/><path d="M0 0 1 24 2 26 3 18 4 17 5 17 6 16 7 14 8 16 9 14 10 13 11 14 12 15 13 15 14 15"/><path d="M0 0 1 24 2 16 3 25 4 23 5 18 6 15 7 17 8 18 9 17 10 15 11 16 12 17 13 17 14 18"/><path d="M0 0 1 50 2 26 3 18 4 14 5 14 6 15 7 13 8 12 9 13 10 13 11 13 12 12 13 11 14 10"/><path d="M0 0 1 28 2 27 3 22 4 20 5 22 6 19 7 17 8 15 9 16 10 14 11 15 12 14 13 15 14 14"/><path d="M0 0 1 1 2 1 3 1 4 3 5 4 6 5 7 8 8 8 9 9 10 9 11 9 12 9 13 11 14 10"/><path d="M0 0 1 0 2 33 3 33 4 30 5 30 6 29 7 27 8 24 9 25 10 24 11 25 12 25 13 24 14 23"/><path d="M0 0 1 8 2 5 3 22 4 19 5 24 6 22 7 24 8 22 9 21 10 23 11 21 12 22 13 22 14 22"/><path d="M0 0 1 40 2 21 3 19 4 20 5 17 6 17 7 17 8 16 9 18 10 20 11 19 12 19 13 19 14 20"/><path d="M0 0 1 4 2 9 3 13 4 11 5 13 6 13 7 16 8 18 9 19 10 19 11 20 12 19 13 18 14 18"/><path d="M0 0 1 3 2 7 3 7 4 5 5 10 6 9 7 13 8 13 9 16 10 15 11 14 12 15 13 16 14 15"/><path d="M0 0 1 50 2 33 3 25 4 26 5 28 6 23 7 21 8 21 9 21 10 20 11 19 12 19 13 20 14 21"/><path d="M0 0 1 0 2 26 3 30 4 25 5 24 6 20 7 20 8 17 9 17 10 19 11 20 12 20 13 19 14 18"/><path d="M0 0 1 9 2 6 3 8 4 7 5 14 6 17 7 18 8 19 9 19 10 20 11 20 12 21 13 21 14 21"/><path d="M0 0 1 28 2 27 3 27 4 24 5 19 6 18 7 15 8 14 9 17 10 16 11 18 12 19 13 20 14 20"/><path d="M0 0 1 5 2 3 3 4 4 4 5 13 6 12 7 10 8 10 9 14 10 16 11 16 12 16 13 18 14 17"/><path d="M0 0 1 2 2 1 3 1 4 19 5 16 6 21 7 23 8 22 9 21 10 19 11 19 12 20 13 19 14 20"/><path d="M0 0 1 1 2 4 3 3 4 9 5 12 6 11 7 11 8 11 9 13 10 13 11 11 12 12 13 13 14 14"/><path d="M0 0 1 4 2 2 3 5 4 6 5 5 6 11 7 14 8 13 9 12 10 11 11 12 12 12 13 14 14 15"/><path d="M0 0 1 0 2 7 3 14 4 17 5 14 6 12 7 11 8 14 9 15 10 13 11 12 12 13 13 13 14 13"/><path d="M0 0 1 50 2 25 3 20 4 17 5 19 6 20 7 21 8 21 9 20 10 21 11 20 12 20 13 20 14 20"/><path d="M0 0 1 3 2 2 3 2 4 2 5 2 6 1 7 12 8 17 9 20 10 20 11 18 12 18 13 20 14 19"/><path d="M0 0 1 7 2 5 3 4 4 4 5 4 6 6 7 5 8 4 9 4 10 4 11 4 12 4 13 3 14 3"/><path d="M0 0 1 6 2 4 3 3 4 4 5 6 6 5 7 4 8 5 9 7 10 6 11 7 12 6 13 6 14 6"/><path d="M0 0 1 6 2 4 3 4 4 3 5 2 6 2 7 2 8 2 9 2 10 2 11 2 12 2 13 2 14 2"/><path d="M0 0 1 0 2 4 3 2 4 2 5 2 6 2 7 2 8 2 9 2 10 1 11 2 12 1 13 1 14 1"/><path d="M0 0 1 0 2 1 3 1 4 1 5 1 6 2 7 2 8 3 9 4 10 4 11 4 12 4 13 4 14 3"/><path d="M0 0 1 10 2 5 3 4 4 3 5 3 6 4 7 4 8 4 9 4 10 4 11 4 12 3 13 4 14 3"/><path d="M0 0 1 6 2 6 3 17 4 13 5 11 6 11 7 10 8 9 9 8 10 7 11 7 12 7 13 6 14 6"/><path d="M0 0 1 1 2 1 3 0 4 0 5 0 6 0 7 1 8 1 9 1 10 1 11 1 12 1 13 1 14 1"/><path d="M0 0 1 14 2 8 3 6 4 5 5 5 6 4 7 3 8 3 9 3 10 3 11 2 12 3 13 4 14 4"/><path d="M0 0 1 45 2 26 3 19 4 15 5 12 6 10 7 9 8 8 9 7 10 6 11 7 12 6 13 6 14 6"/><path d="M0 0 1 12 2 14 3 10 4 8 5 7 6 6 7 6 8 6 9 5 10 5 11 5 12 4 13 4 14 5"/><path d="M0 0 1 4 2 3 3 3 4 2 5 4 6 4 7 4 8 4 9 4 10 5 11 5 12 5 13 5 14 4"/><path d="M0 0 1 1 2 5 3 4 4 5 5 9 6 8 7 8 8 8 9 8 10 10 11 10 12 9 13 9 14 9"/><path d="M0 0 1 5 2 3 3 3 4 2 5 4 6 3 7 3 8 3 9 2 10 2 11 2 12 2 13 2 14 2"/><path d="M0 0 1 5 2 7 3 5 4 4 5 3 6 3 7 3 8 3 9 2 10 3 11 3 12 3 13 3 14 2"/><path d="M0 0 1 7 2 4 3 3 4 3 5 2 6 3 7 5 8 5 9 4 10 4 11 4 12 5 13 5 14 4"/><path d="M0 0 1 27 2 15 3 11 4 9 5 7 6 7 7 6 8 6 9 5 10 5 11 4 12 4 13 4 14 4"/><path d="M0 0 1 3 2 2 3 4 4 3 5 3 6 3 7 3 8 7 9 6 10 6 11 5 12 5 13 5 14 5"/><path d="M0 0 1 0 2 5 3 4 4 3 5 2 6 6 7 5 8 5 9 4 10 4 11 5 12 4 13 4 14 4"/><path d="M0 0 1 0 2 0 3 0 4 0 5 1 6 0 7 1 8 1 9 1 10 1 11 1 12 2 13 2 14 3"/><path d="M0 0 1 2 2 1 3 2 4 2 5 3 6 2 7 2 8 2 9 2 10 1 11 1 12 1 13 1 14 1"/><path d="M0 0 1 0 2 0 3 3 4 9 5 7 6 6 7 6 8 5 9 5 10 5 11 6 12 7 13 7 14 6"/><path d="M0 0 1 13 2 7 3 6 4 6 5 6 6 6 7 6 8 5 9 6 10 6 11 5 12 5 13 5 14 4"/><path d="M0 0 1 8 2 6 3 7 4 6 5 5 6 5 7 5 8 6 9 5 10 9 11 8 12 7 13 7 14 6"/><path d="M0 0 1 0 2 4 3 4 4 3 5 3 6 2 7 4 8 3 9 3 10 3 11 3 12 3 13 2 14 2"/><path d="M0 0 1 15 2 9 3 7 4 7 5 6 6 5 7 4 8 4 9 3 10 3 11 3 12 3 13 3 14 3"/><path d="M0 0 1 0 2 4 3 4 4 3 5 3 6 4 7 4 8 4 9 4 10 4 11 5 12 5 13 5 14 4"/><path d="M0 0 1 3 2 10 3 6 4 9 5 8 6 7 7 6 8 5 9 5 10 5 11 4 12 4 13 5 14 4"/><path d="M0 0 1 2 2 1 3 3 4 3 5 5 6 4 7 4 8 4 9 4 10 4 11 4 12 4 13 4 14 4"/><path d="M0 0 1 23 2 13 3 9 4 13 5 11 6 9 7 10 8 11 9 10 10 10 11 9 12 9 13 8 14 9"/><path d="M0 0 1 1 2 1 3 3 4 5 5 8 6 7 7 6 8 6 9 5 10 5 11 5 12 4 13 4 14 6"/><path d="M0 0 1 11 2 11 3 7 4 7 5 7 6 6 7 5 8 5 9 6 10 5 11 5 12 7 13 7 14 6"/><path d="M0 0 1 13 2 7 3 6 4 4 5 5 6 5 7 4 8 4 9 4 10 3 11 4 12 4 13 5 14 5"/><path d="M0 0 1 3 2 2 3 2 4 1 5 2 6 2 7 2 8 3 9 2 10 3 11 3 12 2 13 3 14 3"/><path d="M0 0 1 0 2 4 3 3 4 4 5 6 6 5 7 6 8 6 9 5 10 5 11 5 12 5 13 4 14 4"/><path d="M0 0 1 2 2 12 3 12 4 10 5 8 6 9 7 8 8 7 9 6 10 6 11 6 12 5 13 5 14 5"/><path d="M0 0 1 6 2 26 3 17 4 13 5 10 6 10 7 8 8 8 9 7 10 7 11 6 12 6 13 6 14 6"/><path d="M0 0 1 17 2 10 3 7 4 6 5 5 6 5 7 5 8 4 9 5 10 6 11 5 12 6 13 6 14 5"/><path d="M0 0 1 2 2 4 3 3 4 4 5 3 6 3 7 3 8 2 9 2 10 2 11 2 12 2 13 2 14 2"/><path d="M0 0 1 3 2 7 3 9 4 7 5 6 6 6 7 5 8 5 9 5 10 4 11 4 12 4 13 4 14 4"/><path d="M0 0 1 17 2 9 3 6 4 6 5 5 6 5 7 6 8 5 9 6 10 6 11 6 12 6 13 6 14 8"/><path d="M0 0 1 23 2 12 3 8 4 6 5 6 6 5 7 4 8 6 9 5 10 5 11 4 12 4 13 4 14 5"/><path d="M0 0 1 0 2 17 3 21 4 23 5 22 6 19 7 16 8 15 9 14 10 13 11 12 12 11 13 11 14 11"/><path d="M0 0 1 24 2 13 3 9 4 7 5 6 6 5 7 4 8 4 9 4 10 3 11 3 12 3 13 3 14 3"/><path d="M0 0 1 9 2 4 3 6 4 5 5 4 6 3 7 3 8 2 9 2 10 2 11 2 12 2 13 2 14 2"/><path d="M0 0 1 16 2 21 3 16 4 12 5 10 6 9 7 8 8 7 9 7 10 6 11 6 12 6 13 5 14 5"/><path d="M0 0 1 1 2 2 3 3 4 3 5 3 6 3 7 2 8 2 9 2 10 2 11 2 12 3 13 2 14 2"/><path d="M0 0 1 30 2 15 3 10 4 8 5 6 6 7 7 6 8 6 9 5 10 5 11 4 12 4 13 4 14 4"/><path d="M0 0 1 15 2 9 3 11 4 9 5 9 6 8 7 7 8 6 9 7 10 6 11 6 12 6 13 5 14 5"/><path d="M0 0 1 11 2 14 3 11 4 8 5 10 6 12 7 11 8 10 9 9 10 8 11 7 12 6 13 8 14 8"/><path d="M0 0 1 23 2 11 3 12 4 10 5 8 6 7 7 7 8 6 9 6 10 6 11 6 12 5 13 5 14 7"/><path d="M0 0 1 23 2 26 3 18 4 16 5 13 6 12 7 16 8 15 9 13 10 12 11 12 12 11 13 10 14 10"/><path d="M0 0 1 48 2 29 3 20 4 15 5 12 6 12 7 10 8 9 9 9 10 8 11 7 12 7 13 7 14 6"/><path d="M0 0 1 9 2 6 3 5 4 4 5 3 6 3 7 2 8 5 9 5 10 4 11 4 12 4 13 3 14 4"/><path d="M0 0 1 30 2 17 3 13 4 10 5 8 6 8 7 7 8 6 9 7 10 8 11 7 12 7 13 7 14 7"/><path d="M0 0 1 8 2 8 3 10 4 8 5 7 6 8 7 7 8 6 9 5 10 6 11 5 12 6 13 6 14 7"/><path d="M0 0 1 10 2 20 3 16 4 16 5 13 6 12 7 10 8 9 9 8 10 8 11 8 12 7 13 7 14 6"/><path d="M0 0 1 15 2 8 3 10 4 7 5 11 6 11 7 10 8 9 9 9 10 9 11 8 12 8 13 9 14 9"/><path d="M0 0 1 10 2 9 3 6 4 8 5 6 6 5 7 5 8 5 9 4 10 4 11 4 12 4 13 3 14 4"/><path d="M0 0 1 16 2 11 3 14 4 12 5 9 6 9 7 8 8 7 9 7 10 6 11 6 12 5 13 5 14 5"/><path d="M0 0 1 32 2 28 3 26 4 20 5 19 6 16 7 15 8 13 9 13 10 13 11 12 12 12 13 11 14 11"/><path d="M0 0 1 20 2 13 3 9 4 7 5 11 6 10 7 8 8 7 9 7 10 6 11 6 12 6 13 5 14 5"/><path d="M0 0 1 17 2 9 3 6 4 5 5 7 6 6 7 6 8 6 9 5 10 5 11 6 12 5 13 6 14 6"/><path d="M0 0 1 16 2 8 3 19 4 15 5 12 6 11 7 10 8 9 9 8 10 8 11 8 12 7 13 7 14 9"/></g><g stroke="#555" stroke-opacity="0.0225" stroke-width="0.8"><path d="M0 0 1 35 2 23 3 16 4 14 5 12 6 10 7 10 8 9 9 8 10 7 11 8 12 7 13 7 14 7"/><path d="M0 0 1 3 2 2 3 4 4 3 5 2 6 2 7 3 8 3 9 2 10 2 11 2 12 2 13 2 14 2"/><path d="M0 0 1 3 2 5 3 5 4 11 5 9 6 7 7 6 8 6 9 5 10 5 11 5 12 4 13 4 14 4"/><path d="M0 0 1 12 2 8 3 9 4 9 5 8 6 6 7 5 8 6 9 6 10 5 11 5 12 5 13 5 14 4"/><path d="M0 0 1 0 2 2 3 4 4 3 5 2 6 3 7 3 8 3 9 3 10 2 11 2 12 2 13 2 14 2"/><path d="M0 0 1 0 2 4 3 3 4 2 5 2 6 1 7 2 8 2 9 2 10 2 11 2 12 2 13 2 14 2"/><path d="M0 0 1 2 2 3 3 2 4 2 5 2 6 2 7 2 8 3 9 3 10 3 11 3 12 4 13 4 14 4"/><path d="M0 0 1 1 2 1 3 2 4 1 5 1 6 1 7 1 8 1 9 2 10 2 11 2 12 2 13 2 14 2"/><path d="M0 0 1 25 2 13 3 9 4 7 5 10 6 9 7 9 8 8 9 10 10 9 11 8 12 8 13 7 14 7"/><path d="M0 0 1 5 2 3 3 2 4 3 5 3 6 3 7 2 8 2 9 2 10 2 11 3 12 3 13 3 14 3"/><path d="M0 0 1 11 2 6 3 4 4 4 5 3 6 2 7 2 8 2 9 2 10 2 11 2 12 2 13 2 14 2"/><path d="M0 0 1 3 2 1 3 3 4 2 5 2 6 3 7 3 8 2 9 3 10 2 11 2 12 2 13 2 14 2"/><path d="M0 0 1 2 2 11 3 14 4 11 5 9 6 8 7 8 8 7 9 6 10 6 11 6 12 5 13 5 14 5"/><path d="M0 0 1 3 2 3 3 18 4 15 5 12 6 10 7 9 8 10 9 10 10 9 11 8 12 8 13 9 14 8"/><path d="M0 0 1 4 2 3 3 2 4 1 5 2 6 3 7 2 8 3 9 3 10 3 11 3 12 3 13 3 14 3"/><path d="M0 0 1 7 2 5 3 9 4 10 5 8 6 7 7 6 8 6 9 7 10 7 11 7 12 6 13 6 14 6"/><path d="M0 0 1 11 2 8 3 8 4 6 5 5 6 4 7 4 8 4 9 4 10 3 11 5 12 4 13 4 14 5"/><path d="M0 0 1 3 2 2 3 4 4 5 5 5 6 4 7 4 8 3 9 4 10 4 11 3 12 3 13 3 14 3"/><path d="M0 0 1 0 2 5 3 3 4 4 5 4 6 6 7 5 8 5 9 5 10 5 11 6 12 5 13 6 14 5"/><path d="M0 0 1 1 2 1 3 1 4 1 5 5 6 6 7 5 8 5 9 4 10 5 11 5 12 4 13 4 14 4"/><path d="M0 0 1 1 2 1 3 9 4 8 5 8 6 6 7 7 8 6 9 7 10 6 11 9 12 9 13 9 14 8"/><path d="M0 0 1 2 2 2 3 2 4 2 5 2 6 1 7 2 8 1 9 1 10 2 11 2 12 2 13 2 14 2"/><path d="M0 0 1 0 2 0 3 0 4 1 5 1 6 1 7 1 8 1 9 1 10 1 11 1 12 1 13 1 14 1"/><path d="M0 0 1 7 2 4 3 3 4 2 5 2 6 2 7 2 8 2 9 1 10 2 11 2 12 2 13 1 14 1"/><path d="M0 0 1 2 2 8 3 6 4 9 5 8 6 7 7 6 8 5 9 5 10 4 11 4 12 4 13 5 14 4"/><path d="M0 0 1 14 2 8 3 5 4 6 5 5 6 5 7 4 8 4 9 3 10 3 11 3 12 3 13 3 14 3"/><path d="M0 0 1 1 2 2 3 3 4 2 5 2 6 2 7 3 8 2 9 3 10 4 11 4 12 3 13 5 14 4"/><path d="M0 0 1 0 2 1 3 1 4 1 5 2 6 2 7 3 8 2 9 2 10 2 11 2 12 3 13 3 14 2"/><path d="M0 0 1 4 2 7 3 5 4 5 5 4 6 4 7 4 8 6 9 5 10 5 11 6 12 5 13 5 14 6"/><path d="M0 0 1 6 2 10 3 10 4 7 5 7 6 6 7 6 8 5 9 5 10 5 11 5 12 4 13 6 14 6"/><path d="M0 0 1 0 2 5 3 8 4 8 5 7 6 6 7 5 8 4 9 4 10 4 11 4 12 4 13 4 14 4"/><path d="M0 0 1 0 2 4 3 3 4 2 5 3 6 2 7 2 8 2 9 2 10 2 11 2 12 2 13 3 14 3"/><path d="M0 0 1 0 2 0 3 2 4 1 5 1 6 1 7 1 8 1 9 2 10 2 11 2 12 2 13 2 14 1"/><path d="M0 0 1 7 2 5 3 3 4 4 5 4 6 3 7 4 8 3 9 3 10 3 11 3 12 2 13 3 14 3"/><path d="M0 0 1 1 2 0 3 2 4 1 5 2 6 2 7 2 8 2 9 2 10 2 11 2 12 2 13 2 14 2"/><path d="M0 0 1 10 2 5 3 4 4 11 5 9 6 9 7 9 8 10 9 11 10 10 11 9 12 9 13 8 14 8"/><path d="M0 0 1 21 2 11 3 11 4 8 5 7 6 6 7 6 8 6 9 5 10 5 11 5 12 5 13 4 14 4"/><path d="M0 0 1 9 2 14 3 9 4 9 5 9 6 8 7 7 8 9 9 9 10 8 11 7 12 7 13 6 14 6"/><path d="M0 0 1 50 2 25 3 18 4 14 5 11 6 10 7 8 8 7 9 7 10 6 11 6 12 5 13 5 14 5"/><path d="M0 0 1 9 2 8 3 5 4 6 5 5 6 7 7 6 8 6 9 7 10 7 11 7 12 7 13 6 14 6"/><path d="M0 0 1 45 2 23 3 18 4 14 5 11 6 12 7 10 8 9 9 8 10 8 11 7 12 9 13 8 14 8"/><path d="M0 0 1 37 2 21 3 23 4 17 5 14 6 12 7 10 8 9 9 8 10 9 11 8 12 8 13 8 14 7"/><path d="M0 0 1 34 2 20 3 14 4 11 5 9 6 9 7 8 8 9 9 8 10 8 11 7 12 7 13 6 14 6"/><path d="M0 0 1 38 2 20 3 15 4 11 5 10 6 9 7 8 8 7 9 7 10 7 11 7 12 9 13 8 14 7"/><path d="M0 0 1 4 2 8 3 7 4 6 5 5 6 5 7 4 8 4 9 4 10 3 11 3 12 3 13 3 14 3"/><path d="M0 0 1 3 2 5 3 4 4 8 5 9 6 7 7 6 8 6 9 5 10 5 11 5 12 6 13 6 14 5"/><path d="M0 0 1 13 2 8 3 7 4 5 5 5 6 4 7 4 8 3 9 3 10 3 11 3 12 3 13 2 14 2"/><path d="M0 0 1 34 2 17 3 12 4 9 5 8 6 8 7 9 8 11 9 11 10 10 11 9 12 10 13 10 14 10"/><path d="M0 0 1 15 2 13 3 16 4 14 5 12 6 10 7 9 8 8 9 9 10 8 11 8 12 7 13 8 14 7"/><path d="M0 0 1 15 2 11 3 10 4 8 5 7 6 7 7 7 8 6 9 7 10 7 11 6 12 6 13 6 14 6"/><path d="M0 0 1 5 2 6 3 11 4 12 5 11 6 9 7 8 8 7 9 7 10 6 11 6 12 6 13 7 14 7"/><path d="M0 0 1 8 2 25 3 21 4 16 5 13 6 11 7 9 8 9 9 9 10 8 11 7 12 7 13 7 14 6"/><path d="M0 0 1 7 2 4 3 3 4 7 5 10 6 9 7 8 8 7 9 6 10 6 11 6 12 7 13 6 14 6"/><path d="M0 0 1 0 2 13 3 10 4 8 5 9 6 8 7 7 8 6 9 6 10 5 11 5 12 5 13 5 14 5"/><path d="M0 0 1 21 2 12 3 8 4 9 5 7 6 6 7 8 8 7 9 7 10 7 11 7 12 6 13 7 14 7"/><path d="M0 0 1 7 2 5 3 5 4 5 5 4 6 4 7 4 8 3 9 3 10 3 11 3 12 2 13 3 14 2"/><path d="M0 0 1 7 2 5 3 3 4 4 5 7 6 6 7 6 8 6 9 5 10 5 11 5 12 5 13 5 14 5"/><path d="M0 0 1 0 2 0 3 1 4 0 5 4 6 4 7 5 8 4 9 4 10 4 11 3 12 3 13 3 14 3"/><path d="M0 0 1 22 2 13 3 9 4 8 5 7 6 8 7 9 8 7 9 8 10 11 11 10 12 10 13 9 14 8"/><path d="M0 0 1 20 2 12 3 9 4 8 5 8 6 6 7 6 8 5 9 4 10 5 11 4 12 4 13 4 14 4"/><path d="M0 0 1 18 2 10 3 7 4 6 5 5 6 4 7 3 8 3 9 3 10 3 11 3 12 2 13 2 14 2"/><path d="M0 0 1 9 2 5 3 10 4 10 5 9 6 9 7 9 8 8 9 7 10 7 11 6 12 6 13 6 14 6"/><path d="M0 0 1 12 2 6 3 6 4 5 5 4 6 4 7 3 8 3 9 3 10 3 11 3 12 3 13 3 14 3"/></g><g stroke="#555" stroke-opacity="0.025" stroke-width="0.8"><path d="M0 0 1 46 2 24 3 18 4 14 5 14 6 12 7 11 8 9 9 9 10 8 11 7 12 8 13 7 14 7"/><path d="M0 0 1 3 2 4 3 6 4 5 5 6 6 6 7 5 8 7 9 7 10 7 11 9 12 9 13 8 14 9"/><path d="M0 0 1 0 2 0 3 0 4 0 5 0 6 1 7 1 8 2 9 1 10 1 11 1 12 1 13 2 14 2"/><path d="M0 0 1 36 2 18 3 14 4 13 5 11 6 10 7 8 8 8 9 11 10 10 11 9 12 8 13 8 14 7"/><path d="M0 0 1 1 2 1 3 1 4 2 5 2 6 3 7 3 8 3 9 3 10 3 11 3 12 2 13 3 14 4"/><path d="M0 0 1 2 2 3 3 5 4 13 5 11 6 10 7 12 8 10 9 9 10 10 11 10 12 10 13 10 14 10"/><path d="M0 0 1 2 2 1 3 4 4 13 5 12 6 10 7 9 8 8 9 8 10 7 11 7 12 6 13 6 14 6"/><path d="M0 0 1 1 2 9 3 6 4 5 5 4 6 4 7 6 8 6 9 6 10 6 11 8 12 8 13 9 14 9"/><path d="M0 0 1 1 2 2 3 1 4 1 5 1 6 2 7 3 8 3 9 6 10 6 11 6 12 7 13 7 14 6"/><path d="M0 0 1 2 2 6 3 4 4 4 5 3 6 4 7 3 8 3 9 3 10 3 11 3 12 3 13 3 14 3"/><path d="M0 0 1 0 2 2 3 1 4 3 5 3 6 3 7 3 8 3 9 3 10 3 11 2 12 2 13 2 14 2"/><path d="M0 0 1 2 2 1 3 1 4 2 5 1 6 3 7 3 8 2 9 2 10 2 11 2 12 2 13 2 14 2"/><path d="M0 0 1 1 2 3 3 2 4 2 5 2 6 1 7 2 8 2 9 2 10 3 11 2 12 2 13 2 14 2"/><path d="M0 0 1 0 2 0 3 1 4 1 5 1 6 1 7 1 8 2 9 2 10 1 11 1 12 1 13 2 14 2"/><path d="M0 0 1 0 2 7 3 5 4 4 5 4 6 3 7 3 8 5 9 5 10 5 11 5 12 5 13 5 14 4"/><path d="M0 0 1 0 2 2 3 2 4 1 5 2 6 2 7 3 8 3 9 3 10 3 11 2 12 3 13 4 14 3"/><path d="M0 0 1 5 2 5 3 6 4 5 5 4 6 4 7 4 8 4 9 4 10 3 11 3 12 3 13 3 14 3"/><path d="M0 0 1 12 2 10 3 13 4 11 5 9 6 8 7 7 8 7 9 6 10 5 11 5 12 5 13 4 14 4"/><path d="M0 0 1 4 2 2 3 2 4 2 5 1 6 4 7 3 8 3 9 3 10 2 11 2 12 2 13 3 14 2"/><path d="M0 0 1 5 2 10 3 7 4 6 5 5 6 4 7 3 8 3 9 3 10 3 11 4 12 4 13 4 14 4"/><path d="M0 0 1 20 2 12 3 9 4 9 5 7 6 7 7 6 8 5 9 5 10 4 11 4 12 6 13 6 14 6"/><path d="M0 0 1 5 2 3 3 6 4 6 5 7 6 6 7 5 8 5 9 5 10 4 11 4 12 4 13 4 14 3"/><path d="M0 0 1 12 2 7 3 6 4 5 5 4 6 3 7 3 8 2 9 3 10 2 11 2 12 2 13 2 14 2"/><path d="M0 0 1 16 2 8 3 13 4 11 5 10 6 8 7 9 8 8 9 7 10 7 11 6 12 5 13 5 14 5"/><path d="M0 0 1 10 2 13 3 12 4 9 5 7 6 6 7 5 8 5 9 4 10 4 11 4 12 3 13 3 14 3"/><path d="M0 0 1 5 2 4 3 3 4 4 5 3 6 3 7 3 8 3 9 3 10 3 11 3 12 3 13 3 14 3"/><path d="M0 0 1 1 2 1 3 2 4 1 5 2 6 2 7 2 8 2 9 2 10 2 11 2 12 2 13 2 14 3"/><path d="M0 0 1 2 2 1 3 3 4 2 5 7 6 7 7 6 8 6 9 6 10 6 11 6 12 6 13 6 14 6"/><path d="M0 0 1 0 2 1 3 1 4 1 5 1 6 1 7 1 8 1 9 1 10 1 11 1 12 1 13 1 14 1"/><path d="M0 0 1 4 2 3 3 2 4 2 5 4 6 4 7 3 8 3 9 3 10 2 11 3 12 2 13 2 14 3"/><path d="M0 0 1 1 2 1 3 0 4 1 5 2 6 2 7 2 8 2 9 2 10 2 11 2 12 2 13 2 14 2"/><path d="M0 0 1 2 2 2 3 1 4 4 5 3 6 3 7 3 8 2 9 2 10 2 11 2 12 2 13 2 14 2"/><path d="M0 0 1 1 2 5 3 3 4 3 5 3 6 3 7 6 8 6 9 6 10 5 11 5 12 5 13 7 14 8"/><path d="M0 0 1 24 2 14 3 9 4 7 5 6 6 6 7 5 8 4 9 4 10 4 11 4 12 3 13 4 14 4"/><path d="M0 0 1 17 2 13 3 10 4 7 5 6 6 6 7 5 8 5 9 5 10 4 11 4 12 4 13 4 14 5"/><path d="M0 0 1 9 2 10 3 7 4 9 5 11 6 10 7 9 8 8 9 7 10 6 11 6 12 6 13 6 14 5"/><path d="M0 0 1 1 2 3 3 3 4 3 5 11 6 14 7 12 8 11 9 10 10 10 11 9 12 10 13 9 14 9"/><path d="M0 0 1 1 2 1 3 1 4 1 5 1 6 1 7 3 8 2 9 3 10 3 11 3 12 3 13 3 14 3"/><path d="M0 0 1 6 2 3 3 2 4 4 5 4 6 4 7 3 8 5 9 4 10 4 11 4 12 4 13 4 14 3"/><path d="M0 0 1 12 2 7 3 7 4 5 5 4 6 3 7 3 8 3 9 2 10 2 11 2 12 2 13 2 14 2"/><path d="M0 0 1 0 2 0 3 1 4 1 5 2 6 2 7 2 8 1 9 1 10 1 11 2 12 1 13 2 14 2"/><path d="M0 0 1 1 2 2 3 2 4 2 5 2 6 2 7 2 8 2 9 2 10 2 11 2 12 2 13 2 14 2"/><path d="M0 0 1 10 2 12 3 8 4 6 5 5 6 7 7 6 8 7 9 7 10 6 11 6 12 7 13 7 14 7"/><path d="M0 0 1 28 2 14 3 10 4 8 5 6 6 6 7 5 8 5 9 6 10 5 11 5 12 5 13 5 14 4"/><path d="M0 0 1 2 2 16 3 12 4 12 5 10 6 9 7 9 8 8 9 7 10 6 11 6 12 6 13 5 14 5"/><path d="M0 0 1 13 2 7 3 10 4 7 5 6 6 5 7 5 8 5 9 5 10 5 11 5 12 5 13 5 14 4"/><path d="M0 0 1 37 2 19 3 13 4 10 5 9 6 8 7 7 8 6 9 7 10 6 11 6 12 5 13 5 14 5"/><path d="M0 0 1 11 2 9 3 9 4 7 5 6 6 9 7 8 8 7 9 6 10 7 11 8 12 8 13 7 14 8"/><path d="M0 0 1 4 2 4 3 4 4 4 5 5 6 5 7 4 8 4 9 3 10 3 11 3 12 3 13 3 14 3"/><path d="M0 0 1 27 2 22 3 14 4 12 5 10 6 8 7 7 8 6 9 6 10 7 11 7 12 6 13 6 14 6"/><path d="M0 0 1 26 2 14 3 10 4 9 5 7 6 7 7 6 8 5 9 5 10 5 11 4 12 4 13 4 14 4"/><path d="M0 0 1 5 2 3 3 2 4 4 5 3 6 3 7 4 8 4 9 4 10 3 11 4 12 4 13 4 14 4"/><path d="M0 0 1 15 2 8 3 6 4 5 5 7 6 6 7 5 8 5 9 4 10 4 11 4 12 4 13 4 14 3"/><path d="M0 0 1 5 2 6 3 14 4 11 5 9 6 8 7 7 8 8 9 7 10 8 11 7 12 8 13 8 14 7"/><path d="M0 0 1 9 2 7 3 5 4 4 5 3 6 3 7 2 8 2 9 2 10 2 11 2 12 2 13 1 14 1"/><path d="M0 0 1 16 2 8 3 7 4 8 5 9 6 8 7 8 8 7 9 6 10 5 11 5 12 5 13 5 14 5"/><path d="M0 0 1 0 2 6 3 19 4 16 5 13 6 11 7 10 8 9 9 8 10 7 11 7 12 7 13 6 14 6"/><path d="M0 0 1 15 2 13 3 12 4 10 5 8 6 7 7 6 8 8 9 9 10 9 11 8 12 8 13 8 14 7"/><path d="M0 0 1 23 2 19 3 13 4 10 5 8 6 7 7 6 8 6 9 5 10 5 11 4 12 4 13 4 14 3"/><path d="M0 0 1 13 2 9 3 9 4 8 5 7 6 6 7 5 8 5 9 4 10 4 11 4 12 3 13 3 14 3"/><path d="M0 0 1 15 2 8 3 6 4 10 5 8 6 7 7 8 8 7 9 6 10 6 11 6 12 7 13 6 14 6"/><path d="M0 0 1 11 2 6 3 5 4 4 5 8 6 7 7 6 8 6 9 6 10 5 11 5 12 5 13 5 14 4"/><path d="M0 0 1 16 2 12 3 8 4 8 5 7 6 7 7 7 8 6 9 5 10 5 11 5 12 4 13 4 14 4"/><path d="M0 0 1 19 2 10 3 7 4 7 5 7 6 5 7 5 8 4 9 4 10 4 11 3 12 3 13 3 14 3"/><path d="M0 0 1 9 2 7 3 5 4 6 5 5 6 6 7 5 8 5 9 5 10 6 11 6 12 6 13 6 14 6"/><path d="M0 0 1 2 2 6 3 4 4 5 5 5 6 7 7 7 8 6 9 6 10 6 11 5 12 5 13 4 14 4"/><path d="M0 0 1 24 2 12 3 8 4 7 5 6 6 5 7 5 8 5 9 4 10 4 11 3 12 3 13 3 14 3"/><path d="M0 0 1 9 2 5 3 4 4 3 5 9 6 9 7 8 8 11 9 10 10 9 11 8 12 8 13 8 14 8"/><path d="M0 0 1 8 2 5 3 5 4 6 5 5 6 5 7 5 8 5 9 5 10 6 11 7 12 7 13 6 14 6"/><path d="M0 0 1 6 2 8 3 5 4 8 5 7 6 9 7 8 8 7 9 7 10 6 11 6 12 6 13 6 14 6"/></g><g stroke="#555" stroke-opacity="0.0275" stroke-width="0.8"><path d="M0 0 1 8 2 13 3 13 4 10 5 8 6 8 7 7 8 6 9 6 10 6 11 5 12 5 13 5 14 5"/><path d="M0 0 1 1 2 11 3 7 4 5 5 5 6 5 7 5 8 4 9 4 10 4 11 4 12 3 13 4 14 4"/><path d="M0 0 1 1 2 9 3 6 4 6 5 5 6 4 7 5 8 4 9 4 10 4 11 5 12 4 13 4 14 4"/><path d="M0 0 1 0 2 0 3 0 4 0 5 5 6 4 7 3 8 3 9 3 10 3 11 3 12 2 13 2 14 2"/><path d="M0 0 1 0 2 1 3 2 4 3 5 3 6 2 7 2 8 2 9 2 10 2 11 2 12 2 13 3 14 3"/><path d="M0 0 1 19 2 13 3 9 4 9 5 7 6 6 7 6 8 5 9 4 10 5 11 6 12 5 13 5 14 5"/><path d="M0 0 1 0 2 1 3 1 4 1 5 1 6 1 7 1 8 1 9 1 10 1 11 1 12 1 13 1 14 1"/><path d="M0 0 1 0 2 1 3 1 4 1 5 1 6 2 7 2 8 3 9 3 10 3 11 3 12 3 13 3 14 3"/><path d="M0 0 1 0 2 1 3 1 4 2 5 2 6 4 7 4 8 3 9 4 10 3 11 3 12 3 13 5 14 4"/><path d="M0 0 1 9 2 7 3 6 4 7 5 6 6 5 7 5 8 5 9 5 10 4 11 4 12 5 13 4 14 4"/><path d="M0 0 1 4 2 2 3 1 4 2 5 1 6 2 7 1 8 1 9 1 10 2 11 3 12 4 13 3 14 4"/><path d="M0 0 1 18 2 15 3 12 4 9 5 7 6 7 7 7 8 6 9 6 10 6 11 5 12 5 13 4 14 4"/><path d="M0 0 1 0 2 0 3 1 4 1 5 1 6 1 7 2 8 3 9 4 10 3 11 4 12 4 13 5 14 4"/><path d="M0 0 1 0 2 1 3 4 4 6 5 4 6 5 7 4 8 4 9 4 10 4 11 3 12 4 13 3 14 4"/><path d="M0 0 1 0 2 2 3 1 4 1 5 1 6 1 7 1 8 1 9 1 10 1 11 1 12 1 13 1 14 1"/><path d="M0 0 1 0 2 0 3 2 4 3 5 2 6 2 7 2 8 3 9 2 10 2 11 2 12 2 13 2 14 2"/><path d="M0 0 1 1 2 1 3 1 4 1 5 3 6 2 7 2 8 2 9 2 10 2 11 2 12 2 13 2 14 1"/><path d="M0 0 1 11 2 8 3 6 4 5 5 5 6 5 7 4 8 4 9 3 10 3 11 3 12 3 13 5 14 5"/><path d="M0 0 1 1 2 1 3 2 4 2 5 1 6 3 7 5 8 5 9 5 10 5 11 6 12 5 13 5 14 6"/><path d="M0 0 1 22 2 11 3 8 4 6 5 5 6 5 7 4 8 5 9 4 10 4 11 4 12 3 13 3 14 3"/><path d="M0 0 1 14 2 14 3 10 4 8 5 11 6 9 7 8 8 7 9 7 10 6 11 6 12 6 13 6 14 5"/><path d="M0 0 1 1 2 1 3 1 4 1 5 1 6 1 7 1 8 1 9 1 10 1 11 1 12 1 13 1 14 1"/><path d="M0 0 1 11 2 6 3 7 4 6 5 5 6 4 7 5 8 4 9 4 10 4 11 4 12 4 13 5 14 4"/><path d="M0 0 1 6 2 3 3 2 4 2 5 2 6 2 7 2 8 1 9 1 10 1 11 1 12 1 13 1 14 2"/><path d="M0 0 1 2 2 5 3 3 4 3 5 5 6 4 7 4 8 4 9 4 10 4 11 3 12 3 13 3 14 3"/><path d="M0 0 1 5 2 10 3 9 4 14 5 12 6 12 7 11 8 10 9 9 10 9 11 8 12 8 13 8 14 8"/><path d="M0 0 1 3 2 2 3 1 4 1 5 1 6 1 7 1 8 2 9 1 10 1 11 1 12 2 13 2 14 2"/><path d="M0 0 1 1 2 1 3 2 4 1 5 5 6 4 7 3 8 3 9 4 10 3 11 3 12 4 13 3 14 3"/><path d="M0 0 1 15 2 8 3 8 4 6 5 6 6 6 7 8 8 7 9 8 10 8 11 7 12 7 13 6 14 6"/><path d="M0 0 1 0 2 7 3 5 4 4 5 4 6 3 7 3 8 2 9 2 10 2 11 2 12 3 13 3 14 3"/><path d="M0 0 1 0 2 1 3 1 4 2 5 3 6 3 7 2 8 2 9 3 10 2 11 2 12 2 13 3 14 2"/><path d="M0 0 1 0 2 1 3 2 4 2 5 2 6 2 7 2 8 2 9 1 10 1 11 2 12 1 13 1 14 1"/><path d="M0 0 1 3 2 2 3 2 4 2 5 2 6 2 7 2 8 2 9 2 10 2 11 3 12 3 13 2 14 2"/><path d="M0 0 1 0 2 3 3 2 4 2 5 3 6 2 7 2 8 2 9 2 10 2 11 2 12 2 13 2 14 2"/></g><g stroke="#555" stroke-opacity="0.03" stroke-width="0.8"><path d="M0 0 1 0 2 1 3 1 4 1 5 2 6 2 7 3 8 2 9 2 10 2 11 2 12 2 13 2 14 2"/><path d="M0 0 1 0 2 0 3 1 4 1 5 1 6 3 7 3 8 3 9 3 10 5 11 4 12 6 13 5 14 5"/><path d="M0 0 1 1 2 1 3 12 4 10 5 8 6 7 7 7 8 6 9 7 10 7 11 6 12 7 13 7 14 6"/><path d="M0 0 1 0 2 0 3 0 4 1 5 1 6 4 7 4 8 7 9 6 10 6 11 5 12 5 13 6 14 5"/><path d="M0 0 1 0 2 2 3 2 4 3 5 2 6 3 7 2 8 2 9 2 10 2 11 2 12 2 13 2 14 2"/><path d="M0 0 1 1 2 6 3 4 4 4 5 4 6 4 7 4 8 4 9 5 10 4 11 4 12 4 13 4 14 4"/><path d="M0 0 1 4 2 2 3 2 4 1 5 1 6 1 7 1 8 1 9 1 10 1 11 1 12 1 13 1 14 1"/><path d="M0 0 1 1 2 1 3 0 4 0 5 1 6 1 7 1 8 1 9 1 10 1 11 1 12 2 13 2 14 2"/><path d="M0 0 1 11 2 6 3 4 4 3 5 3 6 2 7 2 8 2 9 2 10 3 11 3 12 2 13 2 14 2"/><path d="M0 0 1 11 2 16 3 11 4 9 5 7 6 6 7 7 8 7 9 6 10 6 11 6 12 5 13 5 14 5"/><path d="M0 0 1 0 2 0 3 0 4 0 5 0 6 2 7 2 8 2 9 2 10 2 11 3 12 2 13 2 14 2"/><path d="M0 0 1 1 2 3 3 2 4 1 5 2 6 2 7 1 8 1 9 1 10 1 11 1 12 1 13 1 14 1"/><path d="M0 0 1 8 2 5 3 4 4 3 5 3 6 2 7 2 8 3 9 3 10 3 11 3 12 2 13 2 14 2"/><path d="M0 0 1 5 2 5 3 5 4 5 5 4 6 4 7 3 8 3 9 3 10 2 11 2 12 2 13 2 14 2"/></g><g stroke="#555" stroke-opacity="0.0325" stroke-width="0.8"><path d="M0 0 1 27 2 17 3 12 4 9 5 8 6 7 7 6 8 5 9 5 10 4 11 4 12 4 13 3 14 3"/><path d="M0 0 1 17 2 12 3 9 4 7 5 6 6 7 7 6 8 6 9 5 10 5 11 4 12 4 13 4 14 4"/><path d="M0 0 1 17 2 9 3 7 4 6 5 5 6 4 7 4 8 4 9 3 10 3 11 3 12 3 13 3 14 3"/><path d="M0 0 1 22 2 15 3 10 4 7 5 7 6 5 7 5 8 4 9 4 10 3 11 3 12 3 13 3 14 3"/><path d="M0 0 1 16 2 9 3 7 4 6 5 5 6 5 7 4 8 4 9 3 10 3 11 3 12 3 13 3 14 2"/></g><g stroke="#555" stroke-opacity="0.035" stroke-width="0.8"><path d="M0 0 1 6 2 7 3 5 4 4 5 3 6 3 7 3 8 3 9 2 10 2 11 2 12 2 13 2 14 2"/></g><g stroke="#555" stroke-opacity="0.0375" stroke-width="0.8"><path d="M0 0 1 2 2 2 3 1 4 1 5 1 6 1 7 1 8 1 9 1 10 1 11 1 12 1 13 1 14 1"/><path d="M0 0 1 4 2 20 3 19 4 16 5 13 6 12 7 11 8 10 9 9 10 8 11 8 12 7 13 7 14 6"/><path d="M0 0 1 0 2 9 3 8 4 9 5 8 6 7 7 7 8 6 9 6 10 5 11 5 12 4 13 4 14 4"/><path d="M0 0 1 7 2 6 3 5 4 4 5 4 6 3 7 3 8 3 9 3 10 3 11 2 12 2 13 2 14 2"/><path d="M0 0 1 6 2 9 3 7 4 6 5 5 6 4 7 5 8 6 9 6 10 5 11 5 12 5 13 4 14 5"/></g><g stroke="#555" stroke-opacity="0.04" stroke-width="0.8"><path d="M0 0 1 11 2 19 3 18 4 15 5 12 6 10 7 9 8 9 9 8 10 7 11 6 12 6 13 5 14 5"/><path d="M0 0 1 4 2 2 3 1 4 1 5 1 6 1 7 1 8 1 9 1 10 1 11 1 12 1 13 1 14 1"/><path d="M0 0 1 9 2 4 3 3 4 2 5 2 6 2 7 2 8 1 9 1 10 1 11 1 12 1 13 1 14 1"/><path d="M0 0 1 6 2 5 3 4 4 3 5 2 6 2 7 2 8 2 9 2 10 2 11 2 12 2 13 2 14 2"/><path d="M0 0 1 0 2 0 3 2 4 3 5 2 6 2 7 2 8 2 9 2 10 2 11 1 12 1 13 1 14 1"/><path d="M0 0 1 19 2 12 3 8 4 6 5 5 6 5 7 4 8 3 9 3 10 3 11 3 12 2 13 2 14 2"/></g><g stroke="#555" stroke-opacity="0.0425" stroke-width="0.8"><path d="M0 0 1 20 2 12 3 10 4 9 5 7 6 6 7 5 8 6 9 5 10 5 11 5 12 5 13 5 14 5"/><path d="M0 0 1 1 2 0 3 1 4 1 5 1 6 1 7 1 8 1 9 1 10 1 11 1 12 0 13 0 14 0"/><path d="M0 0 1 21 2 18 3 12 4 10 5 9 6 9 7 8 8 7 9 6 10 5 11 6 12 5 13 5 14 5"/><path d="M0 0 1 15 2 8 3 6 4 5 5 6 6 5 7 4 8 4 9 4 10 3 11 3 12 3 13 3 14 3"/><path d="M0 0 1 0 2 1 3 2 4 3 5 2 6 2 7 2 8 2 9 2 10 1 11 2 12 1 13 1 14 1"/><path d="M0 0 1 4 2 6 3 6 4 5 5 5 6 4 7 4 8 4 9 3 10 4 11 3 12 4 13 3 14 4"/><path d="M0 0 1 2 2 2 3 2 4 2 5 2 6 1 7 1 8 1 9 1 10 1 11 1 12 1 13 1 14 1"/><path d="M0 0 1 1 2 0 3 1 4 1 5 1 6 1 7 1 8 1 9 1 10 1 11 1 12 1 13 1 14 1"/><path d="M0 0 1 1 2 0 3 1 4 1 5 0 6 1 7 1 8 1 9 1 10 1 11 1 12 1 13 1 14 1"/><path d="M0 0 1 1 2 2 3 2 4 1 5 1 6 1 7 1 8 1 9 1 10 1 11 1 12 1 13 1 14 1"/><path d="M0 0 1 7 2 4 3 3 4 3 5 2 6 2 7 1 8 1 9 1 10 1 11 1 12 1 13 1 14 1"/></g><g stroke="#555" stroke-opacity="0.045" stroke-width="0.8"><path d="M0 0 1 9 2 7 3 7 4 5 5 5 6 4 7 3 8 3 9 3 10 2 11 2 12 2 13 2 14 2"/><path d="M0 0 1 21 2 11 3 7 4 6 5 5 6 4 7 3 8 3 9 3 10 2 11 2 12 2 13 2 14 2"/></g><g stroke="#555" stroke-opacity="0.0475" stroke-width="0.8"><path d="M0 0 1 5 2 6 3 5 4 4 5 3 6 3 7 3 8 2 9 2 10 2 11 2 12 2 13 2 14 2"/><path d="M0 0 1 10 2 8 3 6 4 4 5 4 6 3 7 3 8 3 9 3 10 3 11 2 12 2 13 2 14 2"/><path d="M0 0 1 14 2 10 3 11 4 8 5 7 6 6 7 5 8 4 9 4 10 4 11 3 12 3 13 3 14 3"/><path d="M0 0 1 7 2 8 3 13 4 10 5 9 6 8 7 7 8 6 9 5 10 5 11 5 12 4 13 4 14 4"/><path d="M0 0 1 8 2 12 3 11 4 11 5 9 6 8 7 7 8 6 9 6 10 5 11 5 12 5 13 5 14 5"/><path d="M0 0 1 4 2 2 3 2 4 2 5 2 6 2 7 2 8 2 9 1 10 1 11 1 12 1 13 1 14 1"/><path d="M0 0 1 5 2 6 3 5 4 5 5 4 6 4 7 3 8 3 9 2 10 2 11 2 12 2 13 2 14 2"/></g><g stroke="#555" stroke-opacity="0.05" stroke-width="0.8"><path d="M0 0 1 2 2 1 3 1 4 1 5 1 6 1 7 1 8 1 9 1 10 1 11 1 12 1 13 1 14 1"/><path d="M0 0 1 9 2 6 3 5 4 5 5 4 6 4 7 3 8 3 9 3 10 3 11 3 12 3 13 3 14 2"/><path d="M0 0 1 26 2 13 3 10 4 8 5 8 6 7 7 6 8 5 9 5 10 5 11 4 12 4 13 4 14 4"/><path d="M0 0 1 0 2 2 3 2 4 1 5 1 6 1 7 1 8 1 9 1 10 1 11 1 12 1 13 1 14 1"/><path d="M0 0 1 16 2 11 3 8 4 7 5 6 6 5 7 4 8 4 9 4 10 3 11 3 12 3 13 3 14 3"/><path d="M0 0 1 2 2 1 3 1 4 1 5 1 6 1 7 1 8 1 9 1 10 1 11 1 12 1 13 1 14 1"/><path d="M0 0 1 5 2 8 3 7 4 6 5 6 6 5 7 4 8 4 9 4 10 5 11 4 12 4 13 4 14 3"/><path d="M0 0 1 0 2 0 3 0 4 2 5 1 6 1 7 1 8 1 9 1 10 1 11 1 12 1 13 1 14 1"/></g><g stroke="#555" stroke-opacity="0.0525" stroke-width="0.8"><path d="M0 0 1 0 2 0 3 0 4 0 5 1 6 1 7 1 8 1 9 1 10 1 11 1 12 1 13 1 14 1"/><path d="M0 0 1 6 2 5 3 4 4 4 5 4 6 3 7 3 8 3 9 3 10 3 11 3 12 3 13 3 14 3"/></g><g stroke="#555" stroke-opacity="0.055" stroke-width="0.8"><path d="M0 0 1 1 2 0 3 1 4 1 5 1 6 1 7 1 8 1 9 1 10 1 11 1 12 1 13 1 14 1"/><path d="M0 0 1 14 2 7 3 5 4 4 5 3 6 3 7 2 8 2 9 2 10 2 11 2 12 2 13 2 14 1"/><path d="M0 0 1 11 2 9 3 6 4 5 5 4 6 3 7 3 8 3 9 2 10 2 11 2 12 3 13 3 14 3"/><path d="M0 0 1 0 2 0 3 0 4 1 5 0 6 1 7 1 8 1 9 1 10 1 11 1 12 1 13 1 14 1"/><path d="M0 0 1 1 2 0 3 1 4 1 5 1 6 1 7 1 8 1 9 1 10 1 11 1 12 1 13 1 14 1"/><path d="M0 0 1 6 2 7 3 7 4 5 5 4 6 4 7 3 8 3 9 3 10 3 11 2 12 2 13 2 14 2"/><path d="M0 0 1 5 2 12 3 9 4 8 5 7 6 7 7 8 8 7 9 8 10 8 11 7 12 7 13 6 14 6"/></g><g stroke="#555" stroke-opacity="0.0575" stroke-width="0.8"><path d="M0 0 1 0 2 1 3 1 4 1 5 1 6 1 7 0 8 1 9 1 10 1 11 1 12 1 13 1 14 1"/><path d="M0 0 1 13 2 8 3 6 4 5 5 4 6 3 7 3 8 3 9 2 10 2 11 2 12 2 13 2 14 2"/></g><g stroke="#555" stroke-opacity="0.06" stroke-width="0.8"><path d="M0 0 1 0 2 2 3 2 4 1 5 1 6 1 7 1 8 1 9 1 10 2 11 1 12 1 13 1 14 1"/></g></g><g fill="none" stroke-linejoin="round" transform="matrix(7.99 0 0 -0.193000 226.5 286.3)"><g stroke="#333" stroke-opacity="0.3475" stroke-width="0.9"><path d="M0 0 1 22 2 14 3 13 4 10 5 11 6 9 7 8 8 8 9 7 10 7 11 6 12 6 13 6 14 5"/><path d="M0 0 1 23 2 162 3 139 4 112 5 104 6 90 7 77 8 77 9 73 10 67 11 62 12 57 13 53 14 49"/></g><g stroke="#333" stroke-opacity="0.3525" stroke-width="0.9"><path d="M0 0 1 50 2 38 3 25 4 20 5 20 6 23 7 21 8 19 9 20 10 18 11 16 12 15 13 14 14 13"/></g><g stroke="#333" stroke-opacity="0.36" stroke-width="0.9"><path d="M0 0 1 68 2 44 3 40 4 30 5 24 6 26 7 24 8 22 9 22 10 20 11 18 12 17 13 17 14 16"/></g><g stroke="#333" stroke-opacity="0.3725" stroke-width="0.9"><path d="M0 0 1 153 2 85 3 72 4 64 5 57 6 49 7 42 8 38 9 34 10 30 11 28 12 25 13 24 14 22"/></g><g stroke="#333" stroke-opacity="0.375" stroke-width="0.9"><path d="M0 0 1 41 2 60 3 45 4 34 5 31 6 37 7 33 8 32 9 30 10 30 11 28 12 27 13 26 14 24"/></g><g stroke="#333" stroke-opacity="0.3875" stroke-width="0.9"><path d="M0 0 1 156 2 98 3 72 4 54 5 46 6 42 7 36 8 34 9 32 10 29 11 26 12 25 13 24 14 22"/></g><g stroke="#333" stroke-opacity="0.405" stroke-width="0.9"><path d="M0 0 1 118 2 142 3 125 4 103 5 90 6 77 7 70 8 63 9 58 10 53 11 49 12 46 13 43 14 40"/></g><g stroke="#333" stroke-opacity="0.415" stroke-width="0.9"><path d="M0 0 1 140 2 108 3 89 4 74 5 67 6 57 7 51 8 46 9 41 10 38 11 35 12 35 13 33 14 32"/></g><g stroke="#333" stroke-opacity="0.4175" stroke-width="0.9"><path d="M0 0 1 55 2 29 3 20 4 30 5 26 6 22 7 19 8 17 9 15 10 14 11 12 12 12 13 11 14 11"/></g><g stroke="#333" stroke-opacity="0.4225" stroke-width="0.9"><path d="M0 0 1 3 2 32 3 22 4 27 5 28 6 24 7 22 8 20 9 18 10 17 11 16 12 15 13 17 14 16"/></g><g stroke="#333" stroke-opacity="0.425" stroke-width="0.9"><path d="M0 0 1 31 2 21 3 20 4 17 5 14 6 12 7 10 8 10 9 9 10 9 11 8 12 7 13 7 14 6"/></g><g stroke="#333" stroke-opacity="0.4325" stroke-width="0.9"><path d="M0 0 1 159 2 170 3 136 4 114 5 98 6 85 7 75 8 69 9 63 10 59 11 56 12 51 13 48 14 45"/></g><g stroke="#333" stroke-opacity="0.4375" stroke-width="0.9"><path d="M0 0 1 1 2 1 3 1 4 1 5 4 6 4 7 4 8 3 9 3 10 3 11 3 12 3 13 3 14 4"/></g><g stroke="#333" stroke-opacity="0.44" stroke-width="0.9"><path d="M0 0 1 235 2 117 3 79 4 60 5 51 6 43 7 37 8 33 9 30 10 30 11 31 12 31 13 29 14 27"/></g><g stroke="#333" stroke-opacity="0.4425" stroke-width="0.9"><path d="M0 0 1 125 2 118 3 102 4 79 5 74 6 64 7 55 8 53 9 47 10 42 11 39 12 36 13 33 14 31"/></g><g stroke="#333" stroke-opacity="0.4475" stroke-width="0.9"><path d="M0 0 1 104 2 53 3 45 4 34 5 28 6 24 7 20 8 18 9 16 10 15 11 14 12 15 13 14 14 13"/></g><g stroke="#333" stroke-opacity="0.4575" stroke-width="0.9"><path d="M0 0 1 37 2 37 3 35 4 49 5 39 6 33 7 28 8 27 9 27 10 25 11 27 12 28 13 27 14 27"/><path d="M0 0 1 29 2 20 3 15 4 16 5 14 6 12 7 11 8 10 9 9 10 8 11 11 12 11 13 11 14 10"/></g><g stroke="#333" stroke-opacity="0.4675" stroke-width="0.9"><path d="M0 0 1 88 2 100 3 74 4 74 5 62 6 52 7 45 8 40 9 35 10 32 11 29 12 29 13 26 14 26"/></g><g stroke="#333" stroke-opacity="0.4825" stroke-width="0.9"><path d="M0 0 1 43 2 80 3 75 4 58 5 49 6 41 7 35 8 32 9 31 10 28 11 28 12 26 13 24 14 24"/><path d="M0 0 1 3 2 7 3 6 4 8 5 18 6 17 7 15 8 13 9 13 10 13 11 12 12 13 13 12 14 12"/></g><g stroke="#333" stroke-opacity="0.485" stroke-width="0.9"><path d="M0 0 1 103 2 102 3 101 4 84 5 74 6 64 7 59 8 52 9 49 10 44 11 41 12 38 13 36 14 34"/></g><g stroke="#333" stroke-opacity="0.4875" stroke-width="0.9"><path d="M0 0 1 107 2 103 3 75 4 61 5 63 6 59 7 51 8 48 9 44 10 41 11 37 12 35 13 32 14 31"/></g></g><g fill="none" stroke-linejoin="round" transform="matrix(7.74 0 0 0.975000 397.1 34.3)"><g stroke="#555" stroke-opacity="0.015" stroke-width="0.8"><path d="M0 36 1 30 2 22 3 37 4 37 5 66 6 89 7 74 8 100 9 37 10 51 11 36 12 84 13 0 14 17"/><path d="M0 49 1 47 2 22 3 24 4 53 5 59 6 0 7 74 8 59 9 35 10 14 11 37 12 49 13 63 14 100"/><path d="M0 23 1 39 2 71 3 61 4 17 5 14 6 28 7 85 8 52 9 81 10 36 11 28 12 35 13 90 14 68"/><path d="M0 74 1 77 2 84 3 100 4 71 5 74 6 44 7 46 8 38 9 80 10 40 11 21 12 69 13 66 14 36"/><path d="M0 63 1 83 2 0 3 79 4 45 5 18 6 87 7 63 8 37 9 67 10 13 11 23 12 42 13 79 14 81"/><path d="M0 73 1 59 2 37 3 27 4 37 5 72 6 70 7 61 8 51 9 100 10 11 11 12 12 26 13 67 14 25"/><path d="M0 42 1 67 2 70 3 54 4 55 5 21 6 30 7 59 8 16 9 42 10 69 11 21 12 77 13 100 14 39"/></g><g stroke="#555" stroke-opacity="0.0175" stroke-width="0.8"><path d="M0 26 1 80 2 75 3 20 4 38 5 82 6 32 7 80 8 90 9 74 10 25 11 13 12 61 13 0 14 16"/><path d="M0 50 1 60 2 67 3 0 4 78 5 13 6 22 7 56 8 0 9 46 10 44 11 48 12 44 13 34 14 16"/><path d="M0 66 1 100 2 79 3 35 4 100 5 32 6 68 7 44 8 54 9 83 10 0 11 84 12 40 13 54 14 75"/><path d="M0 56 1 15 2 41 3 31 4 32 5 55 6 78 7 13 8 11 9 0 10 100 11 30 12 0 13 46 14 41"/><path d="M0 53 1 55 2 58 3 35 4 18 5 18 6 85 7 82 8 44 9 54 10 38 11 62 12 0 13 78 14 100"/><path d="M0 12 1 27 2 0 3 26 4 76 5 30 6 100 7 65 8 0 9 51 10 0 11 100 12 29 13 55 14 67"/><path d="M0 29 1 14 2 10 3 21 4 42 5 13 6 0 7 33 8 67 9 57 10 38 11 21 12 84 13 78 14 29"/><path d="M0 26 1 17 2 68 3 40 4 100 5 100 6 57 7 48 8 68 9 100 10 0 11 0 12 83 13 0 14 19"/><path d="M0 55 1 76 2 84 3 100 4 56 5 55 6 100 7 0 8 73 9 14 10 54 11 0 12 24 13 28 14 39"/><path d="M0 63 1 28 2 0 3 39 4 38 5 50 6 37 7 20 8 55 9 0 10 34 11 52 12 0 13 60 14 59"/><path d="M0 27 1 23 2 35 3 37 4 100 5 50 6 25 7 44 8 86 9 63 10 59 11 20 12 45 13 47 14 64"/><path d="M0 66 1 22 2 20 3 35 4 29 5 12 6 66 7 19 8 24 9 17 10 56 11 23 12 80 13 35 14 52"/><path d="M0 27 1 37 2 90 3 69 4 17 5 45 6 100 7 29 8 90 9 0 10 28 11 27 12 12 13 90 14 68"/><path d="M0 39 1 15 2 0 3 85 4 14 5 64 6 16 7 23 8 100 9 52 10 27 11 88 12 11 13 37 14 85"/><path d="M0 62 1 89 2 88 3 37 4 61 5 100 6 16 7 25 8 26 9 21 10 22 11 35 12 22 13 41 14 14"/><path d="M0 80 1 35 2 44 3 0 4 35 5 68 6 16 7 100 8 37 9 11 10 41 11 27 12 52 13 12 14 50"/><path d="M0 25 1 42 2 0 3 36 4 37 5 21 6 100 7 31 8 73 9 100 10 20 11 100 12 51 13 100 14 73"/><path d="M0 27 1 52 2 65 3 27 4 15 5 60 6 35 7 50 8 73 9 36 10 18 11 29 12 100 13 100 14 56"/></g><g stroke="#555" stroke-opacity="0.02" stroke-width="0.8"><path d="M0 69 1 100 2 100 3 11 4 70 5 0 6 46 7 44 8 0 9 20 10 41 11 12 12 30 13 37 14 100"/><path d="M0 22 1 27 2 100 3 60 4 89 5 75 6 74 7 71 8 21 9 59 10 36 11 47 12 85 13 64 14 79"/><path d="M0 74 1 40 2 55 3 29 4 28 5 37 6 57 7 64 8 23 9 19 10 22 11 49 12 71 13 87 14 35"/><path d="M0 25 1 88 2 100 3 75 4 78 5 87 6 43 7 13 8 0 9 14 10 36 11 0 12 31 13 59 14 0"/><path d="M0 86 1 33 2 84 3 75 4 29 5 44 6 35 7 26 8 35 9 34 10 33 11 37 12 61 13 38 14 13"/><path d="M0 22 1 13 2 30 3 75 4 33 5 44 6 52 7 14 8 61 9 17 10 28 11 72 12 86 13 11 14 44"/><path d="M0 50 1 89 2 47 3 0 4 21 5 74 6 100 7 100 8 70 9 30 10 74 11 36 12 88 13 100 14 100"/><path d="M0 79 1 0 2 67 3 21 4 0 5 34 6 74 7 41 8 52 9 42 10 44 11 66 12 0 13 60 14 73"/><path d="M0 42 1 43 2 65 3 26 4 71 5 100 6 83 7 100 8 87 9 17 10 40 11 0 12 100 13 44 14 20"/><path d="M0 47 1 79 2 21 3 20 4 33 5 36 6 65 7 29 8 100 9 0 10 22 11 87 12 100 13 58 14 0"/><path d="M0 27 1 73 2 88 3 0 4 100 5 88 6 100 7 72 8 0 9 44 10 71 11 22 12 100 13 11 14 59"/></g><g stroke="#555" stroke-opacity="0.0225" stroke-width="0.8"><path d="M0 23 1 46 2 50 3 77 4 45 5 70 6 57 7 59 8 62 9 80 10 0 11 78 12 79 13 69 14 100"/><path d="M0 73 1 0 2 57 3 0 4 74 5 22 6 100 7 83 8 48 9 0 10 88 11 33 12 57 13 100 14 100"/><path d="M0 47 1 33 2 14 3 76 4 90 5 22 6 62 7 73 8 63 9 55 10 47 11 80 12 51 13 100 14 57"/><path d="M0 53 1 100 2 37 3 49 4 57 5 75 6 25 7 53 8 79 9 74 10 0 11 66 12 28 13 100 14 100"/><path d="M0 40 1 58 2 89 3 24 4 36 5 52 6 14 7 49 8 100 9 68 10 42 11 79 12 48 13 20 14 57"/><path d="M0 52 1 15 2 54 3 24 4 14 5 0 6 75 7 26 8 18 9 15 10 72 11 0 12 65 13 26 14 20"/><path d="M0 66 1 83 2 40 3 41 4 41 5 55 6 44 7 78 8 86 9 58 10 80 11 69 12 55 13 73 14 48"/><path d="M0 66 1 30 2 73 3 100 4 85 5 0 6 62 7 37 8 0 9 100 10 56 11 42 12 18 13 67 14 29"/><path d="M0 71 1 19 2 0 3 100 4 88 5 100 6 80 7 80 8 75 9 100 10 84 11 100 12 84 13 47 14 60"/><path d="M0 59 1 0 2 50 3 74 4 34 5 18 6 69 7 41 8 0 9 47 10 24 11 73 12 82 13 85 14 0"/><path d="M0 15 1 38 2 20 3 60 4 77 5 55 6 32 7 78 8 90 9 71 10 33 11 31 12 14 13 50 14 84"/></g><g stroke="#555" stroke-opacity="0.025" stroke-width="0.8"><path d="M0 37 1 100 2 48 3 75 4 100 5 27 6 73 7 67 8 64 9 17 10 100 11 84 12 38 13 42 14 48"/><path d="M0 51 1 56 2 73 3 0 4 65 5 87 6 53 7 86 8 26 9 60 10 24 11 65 12 28 13 38 14 28"/><path d="M0 42 1 28 2 63 3 12 4 100 5 75 6 82 7 0 8 43 9 27 10 63 11 31 12 16 13 72 14 82"/><path d="M0 55 1 0 2 0 3 37 4 88 5 74 6 45 7 38 8 53 9 65 10 26 11 69 12 79 13 28 14 100"/><path d="M0 73 1 52 2 100 3 37 4 70 5 29 6 26 7 32 8 43 9 66 10 0 11 89 12 13 13 10 14 100"/><path d="M0 48 1 62 2 23 3 14 4 76 5 30 6 59 7 52 8 55 9 70 10 53 11 29 12 0 13 100 14 58"/><path d="M0 26 1 12 2 12 3 28 4 81 5 74 6 68 7 78 8 32 9 66 10 27 11 79 12 48 13 42 14 0"/><path d="M0 23 1 66 2 62 3 0 4 50 5 38 6 66 7 48 8 79 9 45 10 65 11 52 12 58 13 11 14 77"/><path d="M0 65 1 34 2 67 3 0 4 78 5 0 6 84 7 18 8 47 9 39 10 0 11 51 12 55 13 0 14 0"/><path d="M0 48 1 60 2 67 3 68 4 100 5 30 6 0 7 31 8 100 9 24 10 14 11 63 12 16 13 0 14 0"/><path d="M0 65 1 77 2 36 3 19 4 100 5 72 6 0 7 0 8 43 9 24 10 28 11 25 12 35 13 70 14 43"/><path d="M0 74 1 100 2 0 3 81 4 33 5 100 6 63 7 34 8 22 9 34 10 42 11 51 12 0 13 51 14 63"/><path d="M0 54 1 26 2 11 3 69 4 14 5 21 6 89 7 56 8 30 9 37 10 63 11 61 12 66 13 21 14 89"/><path d="M0 21 1 60 2 49 3 72 4 100 5 82 6 33 7 100 8 0 9 53 10 100 11 43 12 53 13 84 14 32"/><path d="M0 78 1 40 2 12 3 0 4 54 5 31 6 58 7 34 8 100 9 22 10 72 11 77 12 0 13 20 14 100"/><path d="M0 79 1 63 2 71 3 56 4 64 5 51 6 43 7 36 8 41 9 20 10 20 11 15 12 11 13 8 14 15"/><path d="M0 61 1 73 2 76 3 77 4 89 5 75 6 76 7 72 8 65 9 66 10 57 11 38 12 38 13 34 14 20"/><path d="M0 63 1 73 2 77 3 60 4 68 5 56 6 43 7 38 8 16 9 9 10 28 11 4 12 14 13 21 14 30"/><path d="M0 65 1 64 2 58 3 51 4 36 5 25 6 30 7 26 8 26 9 19 10 35 11 28 12 17 13 17 14 15"/></g><g stroke="#555" stroke-opacity="0.0275" stroke-width="0.8"><path d="M0 52 1 44 2 59 3 37 4 11 5 48 6 72 7 34 8 31 9 10 10 17 11 57 12 65 13 84 14 31"/><path d="M0 26 1 31 2 61 3 65 4 30 5 20 6 100 7 100 8 29 9 0 10 66 11 100 12 24 13 44 14 67"/><path d="M0 20 1 77 2 58 3 13 4 58 5 24 6 53 7 77 8 89 9 12 10 82 11 100 12 45 13 0 14 21"/><path d="M0 59 1 100 2 81 3 24 4 84 5 17 6 42 7 14 8 79 9 0 10 45 11 71 12 84 13 78 14 86"/><path d="M0 27 1 19 2 23 3 12 4 69 5 45 6 16 7 0 8 12 9 69 10 72 11 0 12 0 13 36 14 51"/><path d="M0 22 1 53 2 83 3 59 4 27 5 0 6 68 7 27 8 68 9 26 10 100 11 53 12 13 13 80 14 0"/><path d="M0 24 1 55 2 0 3 100 4 0 5 40 6 81 7 84 8 76 9 83 10 51 11 20 12 27 13 0 14 57"/><path d="M0 41 1 64 2 44 3 75 4 100 5 39 6 39 7 73 8 0 9 100 10 56 11 90 12 0 13 78 14 22"/><path d="M0 34 1 56 2 59 3 100 4 22 5 100 6 39 7 40 8 21 9 89 10 34 11 29 12 100 13 73 14 20"/><path d="M0 52 1 12 2 100 3 32 4 12 5 30 6 25 7 67 8 47 9 0 10 0 11 0 12 13 13 62 14 14"/><path d="M0 72 1 37 2 29 3 83 4 56 5 100 6 86 7 33 8 30 9 24 10 40 11 56 12 79 13 44 14 0"/><path d="M0 30 1 59 2 100 3 89 4 59 5 82 6 60 7 100 8 23 9 37 10 39 11 49 12 64 13 100 14 17"/><path d="M0 62 1 54 2 53 3 56 4 47 5 36 6 30 7 23 8 18 9 21 10 16 11 10 12 7 13 7 14 1"/><path d="M0 49 1 52 2 49 3 50 4 50 5 50 6 52 7 49 8 34 9 37 10 37 11 27 12 19 13 15 14 19"/><path d="M0 100 1 82 2 85 3 91 4 69 5 82 6 88 7 67 8 87 9 66 10 53 11 61 12 29 13 32 14 30"/><path d="M0 44 1 61 2 39 3 57 4 34 5 23 6 48 7 28 8 35 9 18 10 60 11 23 12 27 13 14 14 11"/><path d="M0 39 1 44 2 41 3 34 4 28 5 17 6 15 7 13 8 9 9 7 10 5 11 0 12 11 13 7 14 4"/><path d="M0 75 1 65 2 46 3 32 4 28 5 8 6 9 7 8 8 17 9 8 10 4 11 7 12 7 13 1 14 15"/></g><g stroke="#555" stroke-opacity="0.03" stroke-width="0.8"><path d="M0 35 1 86 2 51 3 43 4 76 5 54 6 58 7 41 8 84 9 64 10 85 11 37 12 57 13 66 14 66"/><path d="M0 25 1 51 2 0 3 63 4 17 5 77 6 0 7 0 8 46 9 16 10 52 11 71 12 100 13 17 14 33"/><path d="M0 57 1 0 2 12 3 76 4 14 5 85 6 48 7 60 8 61 9 100 10 43 11 11 12 30 13 42 14 100"/><path d="M0 79 1 0 2 68 3 84 4 84 5 52 6 100 7 37 8 0 9 100 10 59 11 86 12 56 13 0 14 0"/><path d="M0 78 1 78 2 30 3 100 4 40 5 67 6 100 7 68 8 18 9 70 10 50 11 40 12 71 13 70 14 43"/><path d="M0 57 1 59 2 34 3 50 4 0 5 61 6 39 7 0 8 23 9 71 10 46 11 0 12 0 13 0 14 66"/><path d="M0 64 1 92 2 92 3 79 4 97 5 94 6 93 7 88 8 81 9 98 10 93 11 80 12 79 13 60 14 64"/><path d="M0 68 1 64 2 67 3 74 4 67 5 74 6 61 7 63 8 62 9 69 10 60 11 58 12 46 13 63 14 58"/><path d="M0 56 1 63 2 74 3 83 4 71 5 74 6 92 7 91 8 99 9 98 10 79 11 71 12 61 13 73 14 50"/><path d="M0 70 1 66 2 53 3 80 4 70 5 66 6 61 7 41 8 59 9 52 10 30 11 41 12 53 13 34 14 15"/><path d="M0 47 1 61 2 63 3 65 4 66 5 50 6 52 7 43 8 39 9 23 10 42 11 19 12 4 13 6 14 7"/><path d="M0 77 1 78 2 81 3 77 4 76 5 75 6 81 7 74 8 81 9 75 10 75 11 70 12 47 13 28 14 26"/><path d="M0 60 1 57 2 78 3 56 4 51 5 60 6 47 7 47 8 35 9 29 10 21 11 34 12 25 13 13 14 16"/><path d="M0 69 1 64 2 64 3 61 4 47 5 42 6 32 7 29 8 27 9 19 10 27 11 28 12 26 13 22 14 24"/><path d="M0 52 1 67 2 49 3 11 4 54 5 52 6 60 7 46 8 39 9 38 10 37 11 36 12 25 13 16 14 10"/></g><g stroke="#555" stroke-opacity="0.0325" stroke-width="0.8"><path d="M0 0 1 68 2 100 3 100 4 99 5 86 6 71 7 70 8 76 9 83 10 58 11 84 12 88 13 68 14 89"/><path d="M0 55 1 48 2 51 3 44 4 52 5 63 6 53 7 58 8 64 9 75 10 67 11 55 12 62 13 69 14 64"/><path d="M0 90 1 72 2 79 3 73 4 74 5 63 6 57 7 55 8 31 9 35 10 13 11 31 12 9 13 12 14 9"/><path d="M0 38 1 42 2 41 3 34 4 40 5 32 6 11 7 33 8 17 9 15 10 10 11 24 12 19 13 17 14 22"/><path d="M0 82 1 68 2 66 3 51 4 66 5 45 6 43 7 19 8 17 9 15 10 19 11 11 12 27 13 11 14 19"/></g><g stroke="#555" stroke-opacity="0.035" stroke-width="0.8"><path d="M0 100 1 72 2 66 3 68 4 72 5 73 6 69 7 62 8 52 9 52 10 61 11 62 12 64 13 49 14 51"/><path d="M0 65 1 49 2 32 3 38 4 69 5 100 6 100 7 100 8 84 9 89 10 79 11 77 12 83 13 70 14 34"/><path d="M0 45 1 47 2 44 3 44 4 32 5 47 6 61 7 85 8 91 9 93 10 80 11 72 12 41 13 54 14 47"/><path d="M0 0 1 85 2 82 3 91 4 58 5 62 6 86 7 62 8 48 9 45 10 25 11 57 12 71 13 42 14 42"/><path d="M0 77 1 100 2 93 3 100 4 89 5 100 6 100 7 93 8 100 9 73 10 97 11 93 12 100 13 97 14 59"/><path d="M0 62 1 71 2 72 3 71 4 91 5 81 6 66 7 66 8 74 9 83 10 60 11 60 12 48 13 48 14 42"/><path d="M0 90 1 100 2 100 3 81 4 65 5 76 6 77 7 86 8 88 9 100 10 76 11 79 12 78 13 82 14 97"/><path d="M0 52 1 61 2 45 3 43 4 40 5 35 6 36 7 22 8 19 9 17 10 9 11 13 12 8 13 2 14 3"/><path d="M0 49 1 41 2 50 3 51 4 46 5 51 6 63 7 53 8 36 9 38 10 54 11 40 12 19 13 8 14 17"/><path d="M0 36 1 44 2 28 3 12 4 15 5 8 6 13 7 0 8 5 9 0 10 13 11 4 12 10 13 3 14 8"/><path d="M0 77 1 83 2 91 3 76 4 69 5 67 6 88 7 79 8 77 9 73 10 56 11 46 12 42 13 29 14 25"/><path d="M0 63 1 43 2 60 3 61 4 63 5 64 6 65 7 43 8 23 9 27 10 8 11 18 12 4 13 0 14 13"/></g><g stroke="#555" stroke-opacity="0.0375" stroke-width="0.8"><path d="M0 95 1 100 2 100 3 100 4 74 5 77 6 69 7 61 8 59 9 77 10 72 11 68 12 83 13 73 14 66"/><path d="M0 46 1 44 2 58 3 53 4 46 5 56 6 52 7 49 8 54 9 56 10 56 11 60 12 55 13 73 14 55"/><path d="M0 67 1 75 2 69 3 83 4 82 5 90 6 91 7 83 8 81 9 99 10 100 11 94 12 81 13 37 14 43"/><path d="M0 100 1 85 2 78 3 98 4 81 5 76 6 78 7 72 8 75 9 53 10 28 11 12 12 15 13 13 14 14"/><path d="M0 55 1 59 2 51 3 41 4 27 5 20 6 6 7 6 8 9 9 8 10 7 11 8 12 4 13 3 14 5"/><path d="M0 35 1 47 2 36 3 42 4 38 5 28 6 26 7 29 8 28 9 28 10 20 11 24 12 19 13 19 14 22"/><path d="M0 100 1 38 2 44 3 45 4 25 5 26 6 32 7 13 8 15 9 12 10 17 11 28 12 12 13 26 14 9"/><path d="M0 43 1 52 2 47 3 43 4 40 5 47 6 46 7 37 8 30 9 19 10 26 11 21 12 23 13 23 14 14"/></g><g stroke="#555" stroke-opacity="0.04" stroke-width="0.8"><path d="M0 42 1 42 2 52 3 66 4 73 5 72 6 51 7 46 8 30 9 11 10 0 11 15 12 31 13 43 14 27"/><path d="M0 53 1 66 2 53 3 53 4 54 5 52 6 51 7 39 8 42 9 32 10 26 11 31 12 49 13 42 14 58"/><path d="M0 44 1 56 2 60 3 72 4 51 5 61 6 81 7 94 8 68 9 80 10 60 11 61 12 72 13 59 14 43"/><path d="M0 100 1 54 2 52 3 59 4 49 5 52 6 52 7 39 8 21 9 10 10 0 11 4 12 6 13 11 14 0"/><path d="M0 37 1 25 2 43 3 38 4 32 5 27 6 32 7 30 8 30 9 21 10 13 11 9 12 31 13 16 14 16"/><path d="M0 61 1 70 2 62 3 46 4 56 5 49 6 36 7 31 8 19 9 12 10 12 11 0 12 1 13 1 14 13"/><path d="M0 100 1 86 2 83 3 83 4 87 5 92 6 99 7 83 8 48 9 40 10 31 11 16 12 27 13 32 14 33"/><path d="M0 51 1 66 2 48 3 44 4 65 5 57 6 27 7 23 8 22 9 37 10 64 11 34 12 31 13 10 14 5"/><path d="M0 64 1 96 2 90 3 72 4 59 5 17 6 8 7 5 8 0 9 13 10 16 11 9 12 3 13 0 14 0"/><path d="M0 15 1 22 2 31 3 27 4 16 5 5 6 0 7 0 8 3 9 11 10 21 11 29 12 18 13 0 14 30"/><path d="M0 86 1 84 2 93 3 96 4 87 5 82 6 72 7 72 8 100 9 74 10 47 11 59 12 71 13 53 14 93"/><path d="M0 30 1 26 2 52 3 44 4 17 5 9 6 17 7 27 8 16 9 0 10 11 11 17 12 14 13 15 14 10"/><path d="M0 36 1 34 2 33 3 18 4 29 5 16 6 23 7 51 8 40 9 30 10 36 11 38 12 41 13 27 14 42"/><path d="M0 65 1 58 2 62 3 61 4 63 5 64 6 61 7 55 8 58 9 37 10 23 11 19 12 12 13 24 14 19"/><path d="M0 57 1 62 2 48 3 39 4 45 5 29 6 28 7 35 8 22 9 22 10 20 11 26 12 22 13 22 14 26"/><path d="M0 56 1 55 2 49 3 52 4 56 5 55 6 47 7 45 8 43 9 34 10 31 11 29 12 21 13 24 14 30"/><path d="M0 60 1 55 2 25 3 50 4 26 5 13 6 6 7 2 8 10 9 11 10 0 11 17 12 3 13 0 14 6"/><path d="M0 66 1 78 2 78 3 74 4 60 5 66 6 56 7 51 8 57 9 34 10 29 11 19 12 16 13 14 14 0"/><path d="M0 100 1 49 2 52 3 42 4 24 5 40 6 36 7 25 8 24 9 13 10 18 11 0 12 11 13 14 14 12"/></g><g stroke="#555" stroke-opacity="0.0425" stroke-width="0.8"><path d="M0 83 1 97 2 100 3 66 4 71 5 87 6 70 7 38 8 58 9 68 10 62 11 66 12 66 13 65 14 57"/><path d="M0 72 1 65 2 47 3 47 4 35 5 25 6 12 7 25 8 27 9 15 10 25 11 44 12 52 13 93 14 100"/><path d="M0 79 1 100 2 97 3 100 4 100 5 100 6 100 7 100 8 100 9 82 10 81 11 63 12 80 13 87 14 81"/><path d="M0 78 1 82 2 77 3 64 4 70 5 77 6 81 7 75 8 74 9 65 10 72 11 68 12 78 13 99 14 100"/><path d="M0 90 1 88 2 83 3 100 4 81 5 82 6 77 7 71 8 70 9 57 10 83 11 86 12 89 13 91 14 89"/><path d="M0 0 1 56 2 35 3 8 4 0 5 6 6 15 7 28 8 63 9 56 10 81 11 71 12 74 13 49 14 100"/><path d="M0 32 1 34 2 32 3 31 4 30 5 23 6 29 7 28 8 22 9 28 10 23 11 24 12 9 13 14 14 24"/><path d="M0 57 1 72 2 55 3 57 4 52 5 45 6 39 7 22 8 29 9 24 10 24 11 10 12 9 13 8 14 14"/><path d="M0 49 1 54 2 59 3 67 4 62 5 57 6 54 7 42 8 33 9 27 10 34 11 32 12 62 13 75 14 88"/><path d="M0 69 1 79 2 85 3 65 4 64 5 53 6 57 7 46 8 59 9 62 10 52 11 44 12 42 13 54 14 48"/><path d="M0 34 1 41 2 55 3 49 4 34 5 54 6 71 7 58 8 45 9 40 10 44 11 33 12 27 13 15 14 30"/><path d="M0 67 1 49 2 52 3 48 4 53 5 57 6 50 7 51 8 53 9 51 10 53 11 43 12 30 13 6 14 15"/><path d="M0 42 1 46 2 20 3 12 4 40 5 43 6 56 7 47 8 58 9 57 10 56 11 42 12 63 13 64 14 58"/><path d="M0 56 1 23 2 0 3 12 4 53 5 55 6 56 7 68 8 84 9 65 10 65 11 78 12 75 13 68 14 62"/><path d="M0 52 1 59 2 55 3 43 4 53 5 42 6 42 7 53 8 53 9 67 10 54 11 44 12 43 13 23 14 28"/><path d="M0 100 1 69 2 58 3 67 4 75 5 51 6 54 7 43 8 34 9 23 10 27 11 11 12 17 13 19 14 10"/><path d="M0 43 1 45 2 37 3 39 4 36 5 22 6 14 7 15 8 0 9 8 10 13 11 17 12 20 13 19 14 3"/><path d="M0 46 1 50 2 49 3 45 4 37 5 39 6 31 7 24 8 28 9 23 10 21 11 22 12 17 13 21 14 15"/><path d="M0 54 1 66 2 50 3 54 4 49 5 15 6 30 7 38 8 23 9 34 10 18 11 21 12 27 13 11 14 35"/></g><g stroke="#555" stroke-opacity="0.045" stroke-width="0.8"><path d="M0 90 1 100 2 100 3 87 4 100 5 96 6 99 7 100 8 85 9 86 10 81 11 100 12 100 13 95 14 100"/><path d="M0 87 1 100 2 100 3 100 4 87 5 80 6 90 7 80 8 66 9 49 10 7 11 8 12 7 13 6 14 32"/><path d="M0 60 1 43 2 33 3 21 4 30 5 57 6 55 7 93 8 65 9 74 10 89 11 88 12 100 13 91 14 87"/><path d="M0 75 1 81 2 86 3 81 4 53 5 53 6 58 7 59 8 49 9 33 10 40 11 58 12 37 13 36 14 76"/><path d="M0 76 1 81 2 92 3 100 4 100 5 62 6 55 7 76 8 88 9 100 10 92 11 76 12 80 13 100 14 93"/><path d="M0 100 1 53 2 59 3 73 4 77 5 82 6 75 7 90 8 99 9 94 10 75 11 84 12 92 13 84 14 82"/><path d="M0 0 1 97 2 91 3 99 4 99 5 100 6 100 7 83 8 89 9 89 10 96 11 96 12 86 13 76 14 77"/><path d="M0 100 1 56 2 50 3 52 4 24 5 27 6 44 7 60 8 45 9 10 10 28 11 37 12 59 13 93 14 73"/><path d="M0 56 1 67 2 66 3 68 4 63 5 60 6 67 7 59 8 50 9 41 10 48 11 18 12 18 13 20 14 23"/><path d="M0 49 1 50 2 35 3 69 4 40 5 49 6 40 7 56 8 52 9 32 10 40 11 32 12 31 13 27 14 22"/><path d="M0 28 1 33 2 27 3 32 4 21 5 18 6 17 7 13 8 19 9 20 10 15 11 15 12 13 13 8 14 12"/><path d="M0 0 1 33 2 32 3 32 4 28 5 22 6 31 7 26 8 24 9 23 10 25 11 22 12 30 13 19 14 23"/><path d="M0 51 1 48 2 37 3 67 4 82 5 76 6 76 7 61 8 52 9 35 10 25 11 11 12 23 13 25 14 0"/><path d="M0 45 1 42 2 50 3 52 4 35 5 32 6 51 7 58 8 52 9 51 10 49 11 55 12 53 13 52 14 40"/><path d="M0 60 1 68 2 100 3 100 4 100 5 95 6 86 7 78 8 80 9 78 10 79 11 84 12 82 13 76 14 67"/><path d="M0 15 1 27 2 0 3 1 4 25 5 4 6 10 7 15 8 0 9 12 10 12 11 7 12 0 13 13 14 20"/><path d="M0 15 1 17 2 16 3 15 4 20 5 49 6 58 7 39 8 35 9 51 10 61 11 57 12 44 13 26 14 26"/><path d="M0 49 1 57 2 48 3 54 4 40 5 39 6 37 7 28 8 37 9 40 10 32 11 33 12 41 13 38 14 54"/><path d="M0 23 1 22 2 30 3 31 4 53 5 59 6 56 7 50 8 44 9 41 10 51 11 53 12 50 13 59 14 47"/><path d="M0 15 1 28 2 11 3 15 4 14 5 22 6 20 7 29 8 27 9 33 10 17 11 17 12 5 13 0 14 0"/><path d="M0 42 1 34 2 27 3 29 4 45 5 36 6 62 7 79 8 54 9 27 10 24 11 13 12 18 13 20 14 0"/><path d="M0 61 1 66 2 62 3 67 4 60 5 38 6 26 7 38 8 56 9 68 10 62 11 58 12 51 13 58 14 54"/><path d="M0 80 1 90 2 100 3 90 4 100 5 80 6 80 7 80 8 72 9 67 10 72 11 76 12 86 13 89 14 85"/><path d="M0 53 1 53 2 55 3 55 4 51 5 52 6 38 7 31 8 23 9 22 10 12 11 21 12 14 13 4 14 6"/><path d="M0 100 1 61 2 55 3 50 4 62 5 52 6 52 7 56 8 63 9 52 10 67 11 20 12 15 13 17 14 3"/><path d="M0 100 1 81 2 87 3 88 4 100 5 89 6 91 7 83 8 80 9 75 10 61 11 50 12 28 13 22 14 17"/><path d="M0 100 1 41 2 33 3 32 4 23 5 21 6 7 7 14 8 16 9 15 10 9 11 5 12 6 13 0 14 11"/><path d="M0 90 1 86 2 81 3 83 4 70 5 49 6 30 7 18 8 16 9 12 10 14 11 17 12 15 13 19 14 19"/><path d="M0 95 1 79 2 82 3 95 4 78 5 86 6 75 7 80 8 73 9 49 10 53 11 59 12 36 13 24 14 21"/></g><g stroke="#555" stroke-opacity="0.0475" stroke-width="0.8"><path d="M0 47 1 44 2 35 3 19 4 10 5 14 6 18 7 2 8 18 9 6 10 12 11 12 12 7 13 0 14 2"/><path d="M0 74 1 73 2 70 3 87 4 89 5 91 6 100 7 100 8 100 9 98 10 98 11 87 12 71 13 75 14 54"/><path d="M0 67 1 66 2 73 3 70 4 67 5 79 6 80 7 66 8 66 9 71 10 88 11 97 12 100 13 99 14 100"/><path d="M0 42 1 39 2 29 3 19 4 32 5 23 6 37 7 24 8 31 9 31 10 52 11 58 12 46 13 51 14 54"/><path d="M0 100 1 100 2 93 3 88 4 43 5 58 6 81 7 100 8 100 9 94 10 75 11 100 12 78 13 100 14 100"/><path d="M0 73 1 75 2 93 3 95 4 83 5 100 6 92 7 90 8 88 9 90 10 59 11 52 12 43 13 35 14 55"/><path d="M0 43 1 50 2 49 3 46 4 46 5 44 6 37 7 44 8 44 9 25 10 37 11 28 12 32 13 22 14 25"/><path d="M0 25 1 36 2 29 3 42 4 26 5 38 6 30 7 24 8 28 9 12 10 29 11 13 12 20 13 20 14 32"/><path d="M0 47 1 42 2 30 3 35 4 42 5 26 6 32 7 37 8 35 9 27 10 30 11 19 12 14 13 14 14 18"/><path d="M0 35 1 41 2 30 3 26 4 19 5 36 6 16 7 14 8 30 9 22 10 24 11 6 12 11 13 1 14 10"/><path d="M0 50 1 45 2 56 3 49 4 60 5 47 6 49 7 57 8 54 9 75 10 82 11 86 12 71 13 58 14 58"/><path d="M0 0 1 52 2 45 3 37 4 35 5 33 6 56 7 67 8 52 9 48 10 35 11 27 12 24 13 0 14 12"/><path d="M0 0 1 3 2 28 3 37 4 35 5 21 6 29 7 48 8 59 9 40 10 34 11 0 12 0 13 9 14 0"/><path d="M0 27 1 16 2 0 3 25 4 28 5 6 6 27 7 25 8 38 9 34 10 21 11 21 12 7 13 21 14 39"/><path d="M0 33 1 35 2 23 3 48 4 54 5 53 6 36 7 68 8 74 9 61 10 62 11 81 12 57 13 42 14 41"/><path d="M0 100 1 52 2 53 3 5 4 33 5 44 6 17 7 0 8 0 9 0 10 18 11 36 12 14 13 7 14 5"/><path d="M0 54 1 44 2 47 3 62 4 62 5 67 6 73 7 77 8 62 9 56 10 66 11 66 12 56 13 50 14 53"/><path d="M0 68 1 82 2 100 3 100 4 90 5 52 6 47 7 19 8 30 9 38 10 55 11 14 12 48 13 56 14 49"/><path d="M0 49 1 33 2 56 3 32 4 43 5 64 6 51 7 55 8 53 9 61 10 52 11 56 12 47 13 30 14 23"/><path d="M0 26 1 14 2 0 3 0 4 0 5 14 6 22 7 42 8 56 9 48 10 21 11 6 12 7 13 5 14 31"/><path d="M0 40 1 84 2 87 3 70 4 59 5 45 6 28 7 21 8 15 9 0 10 46 11 40 12 49 13 25 14 16"/><path d="M0 77 1 79 2 80 3 88 4 86 5 83 6 79 7 75 8 72 9 55 10 46 11 36 12 20 13 7 14 0"/><path d="M0 70 1 87 2 71 3 73 4 57 5 56 6 74 7 44 8 50 9 33 10 35 11 35 12 32 13 27 14 26"/><path d="M0 100 1 49 2 53 3 33 4 21 5 13 6 26 7 21 8 23 9 17 10 7 11 17 12 27 13 29 14 21"/><path d="M0 45 1 47 2 38 3 19 4 39 5 19 6 17 7 8 8 11 9 2 10 0 11 5 12 0 13 0 14 0"/><path d="M0 100 1 40 2 21 3 30 4 36 5 19 6 27 7 14 8 13 9 18 10 31 11 23 12 0 13 3 14 11"/></g><g stroke="#555" stroke-opacity="0.05" stroke-width="0.8"><path d="M0 95 1 100 2 100 3 100 4 100 5 92 6 95 7 100 8 75 9 78 10 75 11 64 12 67 13 73 14 71"/><path d="M0 66 1 57 2 52 3 46 4 57 5 34 6 80 7 95 8 69 9 90 10 60 11 61 12 40 13 34 14 39"/><path d="M0 100 1 64 2 42 3 54 4 44 5 48 6 27 7 46 8 56 9 45 10 22 11 19 12 34 13 37 14 66"/><path d="M0 52 1 39 2 62 3 79 4 79 5 100 6 100 7 75 8 41 9 62 10 31 11 56 12 66 13 75 14 100"/><path d="M0 79 1 88 2 85 3 60 4 43 5 41 6 46 7 34 8 44 9 58 10 67 11 95 12 94 13 100 14 100"/><path d="M0 76 1 69 2 85 3 100 4 100 5 87 6 91 7 100 8 100 9 100 10 81 11 84 12 85 13 83 14 71"/><path d="M0 48 1 45 2 54 3 45 4 39 5 34 6 34 7 28 8 18 9 18 10 17 11 17 12 22 13 5 14 10"/><path d="M0 37 1 31 2 33 3 25 4 31 5 36 6 27 7 22 8 25 9 20 10 26 11 28 12 28 13 14 14 14"/><path d="M0 49 1 47 2 54 3 52 4 38 5 53 6 46 7 43 8 44 9 43 10 19 11 27 12 25 13 23 14 24"/><path d="M0 61 1 64 2 59 3 63 4 58 5 61 6 64 7 58 8 54 9 53 10 35 11 21 12 24 13 19 14 24"/><path d="M0 100 1 49 2 46 3 48 4 36 5 38 6 39 7 31 8 26 9 32 10 19 11 30 12 18 13 22 14 8"/><path d="M0 44 1 38 2 32 3 21 4 41 5 52 6 53 7 65 8 51 9 62 10 55 11 67 12 55 13 58 14 47"/><path d="M0 47 1 43 2 56 3 59 4 60 5 54 6 68 7 80 8 71 9 65 10 73 11 71 12 75 13 69 14 53"/><path d="M0 63 1 64 2 57 3 66 4 67 5 68 6 67 7 61 8 53 9 79 10 73 11 71 12 74 13 68 14 66"/><path d="M0 72 1 60 2 67 3 70 4 59 5 60 6 67 7 76 8 71 9 67 10 69 11 38 12 52 13 34 14 25"/><path d="M0 83 1 78 2 91 3 78 4 68 5 77 6 66 7 74 8 96 9 89 10 75 11 66 12 78 13 66 14 67"/><path d="M0 21 1 9 2 1 3 1 4 6 5 28 6 27 7 18 8 0 9 0 10 0 11 0 12 21 13 18 14 12"/><path d="M0 39 1 55 2 50 3 53 4 57 5 54 6 45 7 48 8 40 9 43 10 45 11 30 12 32 13 28 14 28"/><path d="M0 65 1 66 2 57 3 47 4 48 5 55 6 58 7 76 8 78 9 77 10 81 11 76 12 74 13 83 14 90"/><path d="M0 100 1 25 2 7 3 25 4 0 5 0 6 7 7 20 8 46 9 52 10 44 11 32 12 31 13 24 14 34"/><path d="M0 31 1 4 2 18 3 21 4 11 5 0 6 0 7 0 8 23 9 11 10 32 11 4 12 0 13 0 14 11"/><path d="M0 48 1 56 2 52 3 49 4 53 5 50 6 59 7 77 8 76 9 80 10 80 11 77 12 75 13 67 14 74"/><path d="M0 46 1 70 2 81 3 76 4 55 5 37 6 41 7 57 8 50 9 48 10 31 11 23 12 22 13 25 14 23"/><path d="M0 38 1 43 2 47 3 22 4 19 5 14 6 17 7 0 8 0 9 10 10 5 11 3 12 0 13 29 14 31"/><path d="M0 63 1 76 2 76 3 66 4 72 5 65 6 60 7 47 8 23 9 24 10 7 11 0 12 0 13 21 14 22"/><path d="M0 73 1 65 2 83 3 85 4 79 5 54 6 65 7 60 8 45 9 43 10 29 11 35 12 24 13 27 14 13"/><path d="M0 100 1 87 2 85 3 84 4 84 5 84 6 84 7 80 8 70 9 66 10 81 11 51 12 31 13 39 14 20"/><path d="M0 54 1 57 2 62 3 44 4 57 5 60 6 53 7 57 8 34 9 21 10 37 11 14 12 20 13 15 14 20"/><path d="M0 0 1 71 2 80 3 69 4 63 5 62 6 48 7 32 8 34 9 11 10 17 11 3 12 5 13 7 14 5"/><path d="M0 73 1 71 2 54 3 68 4 58 5 39 6 34 7 33 8 37 9 31 10 24 11 9 12 0 13 0 14 11"/><path d="M0 76 1 82 2 85 3 71 4 72 5 83 6 87 7 83 8 67 9 64 10 52 11 34 12 33 13 30 14 43"/><path d="M0 46 1 36 2 50 3 41 4 40 5 47 6 49 7 30 8 12 9 9 10 1 11 0 12 0 13 2 14 0"/><path d="M0 54 1 56 2 70 3 51 4 56 5 34 6 12 7 11 8 19 9 2 10 0 11 3 12 10 13 4 14 0"/><path d="M0 83 1 80 2 94 3 76 4 81 5 65 6 61 7 70 8 42 9 29 10 32 11 21 12 19 13 28 14 14"/></g><g stroke="#555" stroke-opacity="0.0525" stroke-width="0.8"><path d="M0 82 1 68 2 81 3 99 4 99 5 89 6 86 7 78 8 98 9 83 10 96 11 100 12 100 13 87 14 93"/><path d="M0 47 1 57 2 53 3 57 4 65 5 29 6 42 7 39 8 40 9 16 10 13 11 0 12 15 13 7 14 1"/><path d="M0 47 1 43 2 52 3 65 4 52 5 53 6 64 7 56 8 66 9 47 10 60 11 58 12 73 13 80 14 62"/><path d="M0 73 1 85 2 100 3 82 4 73 5 100 6 79 7 100 8 92 9 87 10 97 11 87 12 79 13 81 14 94"/><path d="M0 0 1 65 2 79 3 84 4 68 5 46 6 43 7 50 8 40 9 44 10 66 11 72 12 82 13 80 14 78"/><path d="M0 52 1 45 2 47 3 52 4 47 5 39 6 32 7 26 8 27 9 23 10 26 11 21 12 25 13 14 14 26"/><path d="M0 54 1 56 2 57 3 56 4 50 5 48 6 54 7 51 8 40 9 27 10 22 11 19 12 9 13 23 14 20"/><path d="M0 66 1 76 2 68 3 63 4 53 5 61 6 54 7 50 8 41 9 40 10 38 11 26 12 15 13 19 14 26"/><path d="M0 64 1 64 2 50 3 56 4 69 5 65 6 54 7 39 8 17 9 20 10 10 11 9 12 12 13 0 14 3"/><path d="M0 32 1 28 2 32 3 36 4 32 5 37 6 34 7 32 8 33 9 27 10 25 11 18 12 11 13 9 14 16"/><path d="M0 67 1 77 2 93 3 94 4 59 5 67 6 85 7 99 8 90 9 82 10 79 11 100 12 74 13 67 14 49"/><path d="M0 100 1 8 2 22 3 42 4 42 5 26 6 0 7 0 8 0 9 37 10 15 11 11 12 13 13 8 14 16"/><path d="M0 0 1 19 2 1 3 0 4 0 5 4 6 8 7 15 8 10 9 14 10 9 11 10 12 0 13 3 14 10"/><path d="M0 53 1 45 2 43 3 53 4 59 5 63 6 52 7 62 8 77 9 73 10 69 11 69 12 78 13 64 14 61"/><path d="M0 48 1 38 2 53 3 49 4 40 5 39 6 34 7 24 8 15 9 0 10 37 11 35 12 14 13 28 14 20"/><path d="M0 23 1 22 2 32 3 37 4 23 5 32 6 21 7 10 8 0 9 0 10 16 11 13 12 47 13 39 14 23"/><path d="M0 21 1 26 2 26 3 2 4 14 5 6 6 34 7 20 8 38 9 51 10 49 11 38 12 24 13 18 14 36"/><path d="M0 34 1 30 2 48 3 36 4 21 5 32 6 29 7 12 8 21 9 24 10 20 11 10 12 8 13 10 14 25"/><path d="M0 66 1 61 2 69 3 39 4 53 5 31 6 13 7 14 8 32 9 40 10 49 11 83 12 76 13 69 14 86"/><path d="M0 100 1 11 2 33 3 50 4 57 5 36 6 20 7 0 8 1 9 18 10 13 11 0 12 6 13 0 14 1"/><path d="M0 23 1 26 2 8 3 14 4 32 5 36 6 20 7 49 8 36 9 35 10 29 11 19 12 27 13 22 14 39"/><path d="M0 58 1 75 2 79 3 55 4 58 5 67 6 61 7 82 8 45 9 74 10 62 11 46 12 68 13 80 14 94"/><path d="M0 15 1 12 2 17 3 0 4 3 5 22 6 0 7 1 8 0 9 0 10 0 11 18 12 53 13 47 14 48"/><path d="M0 40 1 33 2 34 3 17 4 18 5 36 6 38 7 43 8 49 9 50 10 22 11 37 12 32 13 30 14 40"/><path d="M0 41 1 33 2 42 3 59 4 68 5 69 6 55 7 83 8 69 9 50 10 47 11 36 12 41 13 6 14 5"/><path d="M0 52 1 52 2 46 3 46 4 45 5 71 6 100 7 100 8 100 9 85 10 49 11 61 12 77 13 81 14 54"/><path d="M0 52 1 45 2 47 3 47 4 47 5 34 6 47 7 49 8 67 9 42 10 47 11 47 12 31 13 58 14 45"/><path d="M0 15 1 30 2 11 3 0 4 0 5 0 6 41 7 25 8 0 9 0 10 0 11 0 12 0 13 0 14 14"/><path d="M0 74 1 78 2 51 3 61 4 49 5 30 6 48 7 75 8 77 9 73 10 81 11 81 12 54 13 41 14 50"/><path d="M0 47 1 42 2 52 3 44 4 49 5 64 6 37 7 39 8 27 9 33 10 28 11 16 12 17 13 18 14 33"/><path d="M0 34 1 28 2 26 3 17 4 32 5 36 6 29 7 37 8 32 9 36 10 35 11 29 12 13 13 25 14 19"/><path d="M0 22 1 16 2 26 3 6 4 7 5 0 6 2 7 0 8 1 9 11 10 15 11 27 12 26 13 32 14 9"/><path d="M0 73 1 70 2 100 3 100 4 100 5 72 6 75 7 82 8 80 9 79 10 100 11 100 12 96 13 80 14 74"/><path d="M0 48 1 39 2 49 3 44 4 31 5 57 6 56 7 39 8 37 9 33 10 29 11 46 12 15 13 18 14 17"/></g><g stroke="#555" stroke-opacity="0.055" stroke-width="0.8"><path d="M0 51 1 54 2 70 3 68 4 65 5 62 6 78 7 49 8 61 9 44 10 74 11 95 12 77 13 72 14 100"/><path d="M0 70 1 66 2 82 3 87 4 81 5 93 6 69 7 64 8 73 9 78 10 65 11 76 12 90 13 87 14 92"/><path d="M0 51 1 58 2 61 3 63 4 76 5 78 6 85 7 77 8 70 9 72 10 51 11 64 12 67 13 65 14 65"/><path d="M0 57 1 70 2 95 3 73 4 71 5 53 6 52 7 54 8 69 9 73 10 57 11 49 12 55 13 61 14 12"/><path d="M0 67 1 76 2 76 3 76 4 73 5 82 6 71 7 56 8 48 9 52 10 50 11 42 12 66 13 71 14 66"/><path d="M0 55 1 59 2 67 3 43 4 39 5 30 6 51 7 35 8 15 9 5 10 11 11 24 12 44 13 66 14 65"/><path d="M0 35 1 33 2 35 3 39 4 31 5 31 6 27 7 25 8 15 9 10 10 11 11 3 12 14 13 9 14 5"/><path d="M0 45 1 43 2 50 3 52 4 33 5 40 6 47 7 36 8 48 9 49 10 50 11 58 12 57 13 51 14 60"/><path d="M0 49 1 56 2 52 3 43 4 42 5 37 6 31 7 40 8 46 9 52 10 37 11 38 12 51 13 51 14 66"/><path d="M0 81 1 92 2 94 3 100 4 70 5 50 6 73 7 92 8 94 9 96 10 100 11 87 12 73 13 86 14 61"/><path d="M0 31 1 43 2 40 3 28 4 41 5 37 6 30 7 22 8 34 9 14 10 0 11 6 12 0 13 0 14 4"/><path d="M0 100 1 63 2 43 3 57 4 50 5 43 6 24 7 23 8 8 9 26 10 35 11 47 12 58 13 84 14 96"/><path d="M0 100 1 67 2 73 3 63 4 39 5 34 6 26 7 36 8 62 9 64 10 70 11 77 12 53 13 65 14 68"/><path d="M0 0 1 23 2 22 3 31 4 25 5 30 6 21 7 16 8 19 9 19 10 0 11 0 12 0 13 16 14 40"/><path d="M0 0 1 17 2 51 3 57 4 33 5 43 6 24 7 17 8 30 9 24 10 37 11 8 12 0 13 18 14 0"/><path d="M0 100 1 66 2 79 3 53 4 69 5 62 6 55 7 70 8 76 9 52 10 62 11 22 12 10 13 39 14 42"/><path d="M0 100 1 100 2 100 3 100 4 74 5 56 6 59 7 47 8 58 9 80 10 80 11 90 12 84 13 55 14 60"/><path d="M0 0 1 43 2 52 3 61 4 63 5 77 6 64 7 47 8 50 9 53 10 57 11 54 12 69 13 85 14 67"/><path d="M0 15 1 24 2 26 3 26 4 23 5 5 6 19 7 10 8 6 9 3 10 18 11 23 12 12 13 22 14 28"/><path d="M0 40 1 35 2 18 3 13 4 8 5 9 6 0 7 4 8 6 9 4 10 10 11 1 12 2 13 6 14 1"/><path d="M0 56 1 50 2 49 3 43 4 39 5 28 6 22 7 26 8 22 9 22 10 10 11 15 12 12 13 21 14 18"/><path d="M0 100 1 34 2 30 3 47 4 22 5 14 6 6 7 6 8 16 9 0 10 2 11 17 12 0 13 6 14 4"/><path d="M0 100 1 93 2 87 3 68 4 74 5 64 6 51 7 48 8 41 9 42 10 27 11 21 12 9 13 12 14 0"/><path d="M0 100 1 86 2 80 3 75 4 73 5 68 6 53 7 43 8 32 9 32 10 21 11 26 12 22 13 16 14 17"/><path d="M0 48 1 55 2 52 3 35 4 30 5 31 6 43 7 31 8 38 9 26 10 27 11 16 12 32 13 17 14 29"/></g><g stroke="#555" stroke-opacity="0.0575" stroke-width="0.8"><path d="M0 0 1 67 2 59 3 63 4 64 5 67 6 68 7 71 8 82 9 71 10 67 11 92 12 92 13 100 14 100"/><path d="M0 75 1 95 2 97 3 97 4 86 5 73 6 51 7 53 8 53 9 56 10 63 11 78 12 70 13 75 14 75"/><path d="M0 57 1 70 2 67 3 69 4 69 5 83 6 85 7 93 8 66 9 62 10 67 11 89 12 72 13 73 14 63"/><path d="M0 100 1 94 2 100 3 91 4 70 5 56 6 59 7 45 8 62 9 96 10 93 11 78 12 100 13 100 14 84"/><path d="M0 50 1 34 2 17 3 54 4 13 5 22 6 8 7 18 8 30 9 47 10 50 11 35 12 19 13 8 14 22"/><path d="M0 73 1 72 2 69 3 49 4 51 5 61 6 53 7 64 8 62 9 56 10 44 11 56 12 43 13 49 14 48"/><path d="M0 74 1 100 2 100 3 80 4 87 5 74 6 60 7 87 8 91 9 85 10 96 11 96 12 79 13 91 14 94"/><path d="M0 73 1 73 2 85 3 80 4 75 5 70 6 66 7 66 8 74 9 68 10 75 11 67 12 51 13 71 14 81"/><path d="M0 100 1 30 2 47 3 40 4 42 5 39 6 28 7 35 8 41 9 33 10 33 11 25 12 18 13 8 14 0"/><path d="M0 73 1 59 2 50 3 32 4 19 5 34 6 13 7 20 8 2 9 2 10 0 11 7 12 1 13 23 14 20"/><path d="M0 100 1 70 2 65 3 69 4 62 5 57 6 59 7 51 8 48 9 65 10 61 11 64 12 55 13 41 14 28"/><path d="M0 66 1 64 2 48 3 31 4 35 5 19 6 30 7 52 8 51 9 69 10 63 11 56 12 53 13 61 14 69"/><path d="M0 27 1 28 2 34 3 25 4 23 5 27 6 17 7 14 8 12 9 12 10 10 11 7 12 0 13 9 14 4"/><path d="M0 100 1 53 2 41 3 56 4 47 5 50 6 56 7 27 8 35 9 26 10 38 11 18 12 23 13 26 14 18"/><path d="M0 31 1 23 2 20 3 30 4 21 5 10 6 4 7 5 8 7 9 11 10 8 11 17 12 0 13 4 14 8"/><path d="M0 37 1 30 2 43 3 32 4 31 5 25 6 14 7 33 8 20 9 11 10 18 11 23 12 11 13 16 14 17"/><path d="M0 21 1 21 2 30 3 28 4 35 5 54 6 42 7 38 8 57 9 63 10 54 11 37 12 45 13 42 14 47"/><path d="M0 100 1 47 2 70 3 61 4 84 5 65 6 69 7 87 8 77 9 68 10 44 11 90 12 58 13 88 14 61"/><path d="M0 50 1 39 2 32 3 4 4 23 5 29 6 42 7 58 8 36 9 48 10 57 11 61 12 71 13 67 14 46"/><path d="M0 100 1 64 2 70 3 72 4 77 5 100 6 67 7 82 8 76 9 49 10 57 11 42 12 29 13 49 14 32"/><path d="M0 31 1 22 2 22 3 37 4 40 5 37 6 41 7 28 8 12 9 28 10 22 11 12 12 0 13 0 14 0"/><path d="M0 19 1 13 2 17 3 52 4 44 5 20 6 20 7 14 8 16 9 0 10 14 11 4 12 0 13 0 14 0"/><path d="M0 0 1 40 2 74 3 49 4 37 5 43 6 54 7 60 8 56 9 40 10 38 11 44 12 24 13 18 14 2"/><path d="M0 95 1 85 2 89 3 88 4 86 5 100 6 100 7 94 8 100 9 100 10 87 11 97 12 100 13 86 14 65"/><path d="M0 57 1 83 2 70 3 64 4 58 5 51 6 56 7 54 8 48 9 69 10 24 11 16 12 37 13 41 14 66"/><path d="M0 78 1 69 2 72 3 85 4 93 5 92 6 91 7 80 8 94 9 93 10 100 11 100 12 64 13 74 14 79"/><path d="M0 95 1 91 2 86 3 73 4 69 5 67 6 64 7 65 8 67 9 40 10 31 11 26 12 40 13 31 14 35"/></g><g stroke="#555" stroke-opacity="0.06" stroke-width="0.8"><path d="M0 70 1 62 2 58 3 71 4 73 5 86 6 92 7 91 8 95 9 79 10 68 11 82 12 96 13 100 14 48"/><path d="M0 40 1 70 2 46 3 35 4 32 5 68 6 65 7 66 8 46 9 12 10 12 11 0 12 20 13 34 14 29"/><path d="M0 82 1 100 2 94 3 100 4 100 5 87 6 86 7 77 8 78 9 79 10 90 11 100 12 100 13 87 14 76"/><path d="M0 60 1 59 2 70 3 59 4 48 5 39 6 25 7 16 8 21 9 23 10 16 11 22 12 17 13 20 14 16"/><path d="M0 63 1 54 2 52 3 45 4 39 5 38 6 24 7 25 8 20 9 13 10 22 11 12 12 11 13 16 14 20"/><path d="M0 51 1 51 2 44 3 55 4 46 5 37 6 42 7 33 8 33 9 32 10 17 11 22 12 12 13 17 14 18"/><path d="M0 50 1 31 2 29 3 39 4 41 5 30 6 33 7 26 8 34 9 20 10 8 11 11 12 10 13 4 14 11"/><path d="M0 100 1 58 2 63 3 49 4 42 5 25 6 20 7 10 8 9 9 5 10 5 11 4 12 0 13 11 14 9"/><path d="M0 0 1 41 2 55 3 59 4 42 5 38 6 49 7 45 8 52 9 47 10 41 11 37 12 47 13 50 14 44"/><path d="M0 56 1 49 2 45 3 41 4 50 5 59 6 52 7 51 8 55 9 56 10 66 11 65 12 56 13 53 14 42"/><path d="M0 30 1 20 2 2 3 18 4 22 5 48 6 55 7 50 8 67 9 69 10 67 11 56 12 52 13 43 14 40"/><path d="M0 64 1 54 2 48 3 55 4 43 5 59 6 57 7 67 8 56 9 61 10 56 11 42 12 56 13 66 14 72"/><path d="M0 56 1 33 2 19 3 12 4 31 5 20 6 36 7 49 8 36 9 46 10 51 11 70 12 54 13 13 14 13"/><path d="M0 35 1 54 2 69 3 53 4 59 5 81 6 67 7 71 8 65 9 50 10 39 11 42 12 33 13 35 14 41"/><path d="M0 54 1 51 2 36 3 44 4 41 5 59 6 41 7 39 8 58 9 80 10 77 11 66 12 66 13 53 14 43"/><path d="M0 15 1 0 2 17 3 25 4 57 5 71 6 87 7 73 8 71 9 80 10 95 11 65 12 44 13 44 14 32"/><path d="M0 100 1 12 2 22 3 13 4 23 5 2 6 0 7 26 8 1 9 13 10 12 11 38 12 40 13 64 14 73"/><path d="M0 87 1 88 2 78 3 67 4 46 5 31 6 33 7 25 8 21 9 16 10 29 11 20 12 27 13 26 14 22"/><path d="M0 45 1 44 2 43 3 33 4 33 5 35 6 30 7 19 8 26 9 22 10 13 11 16 12 18 13 18 14 21"/><path d="M0 52 1 62 2 40 3 43 4 42 5 27 6 25 7 20 8 22 9 13 10 10 11 20 12 21 13 14 14 14"/></g><g stroke="#555" stroke-opacity="0.0625" stroke-width="0.8"><path d="M0 56 1 56 2 58 3 52 4 54 5 52 6 46 7 48 8 52 9 36 10 33 11 23 12 22 13 18 14 20"/><path d="M0 36 1 43 2 35 3 33 4 38 5 18 6 9 7 0 8 7 9 3 10 0 11 2 12 10 13 7 14 0"/><path d="M0 61 1 58 2 56 3 53 4 48 5 51 6 42 7 34 8 30 9 38 10 25 11 16 12 6 13 12 14 3"/><path d="M0 39 1 32 2 40 3 39 4 32 5 39 6 45 7 38 8 30 9 34 10 32 11 40 12 20 13 28 14 24"/><path d="M0 31 1 31 2 33 3 34 4 27 5 27 6 31 7 31 8 20 9 20 10 23 11 19 12 18 13 19 14 10"/><path d="M0 37 1 47 2 42 3 45 4 37 5 30 6 48 7 79 8 70 9 51 10 27 11 44 12 39 13 31 14 41"/><path d="M0 67 1 48 2 68 3 50 4 73 5 87 6 89 7 100 8 100 9 74 10 48 11 65 12 100 13 83 14 82"/><path d="M0 0 1 5 2 2 3 0 4 0 5 0 6 15 7 7 8 4 9 11 10 24 11 20 12 14 13 15 14 20"/><path d="M0 72 1 80 2 75 3 71 4 64 5 69 6 74 7 76 8 78 9 67 10 97 11 81 12 99 13 100 14 86"/><path d="M0 56 1 53 2 64 3 72 4 80 5 70 6 80 7 75 8 65 9 73 10 55 11 53 12 42 13 45 14 49"/><path d="M0 100 1 58 2 93 3 71 4 73 5 87 6 75 7 63 8 59 9 59 10 54 11 78 12 81 13 43 14 46"/><path d="M0 24 1 34 2 15 3 16 4 20 5 22 6 25 7 26 8 21 9 24 10 28 11 19 12 9 13 6 14 7"/></g><g stroke="#555" stroke-opacity="0.065" stroke-width="0.8"><path d="M0 30 1 37 2 34 3 36 4 34 5 26 6 23 7 29 8 22 9 20 10 19 11 12 12 13 13 8 14 9"/><path d="M0 35 1 36 2 42 3 24 4 27 5 25 6 33 7 13 8 15 9 15 10 17 11 23 12 23 13 16 14 29"/><path d="M0 39 1 16 2 35 3 37 4 48 5 63 6 37 7 48 8 42 9 72 10 41 11 4 12 0 13 0 14 2"/><path d="M0 31 1 30 2 46 3 31 4 50 5 56 6 57 7 47 8 29 9 37 10 38 11 60 12 59 13 54 14 50"/><path d="M0 81 1 100 2 89 3 100 4 96 5 95 6 75 7 83 8 79 9 79 10 76 11 64 12 53 13 61 14 64"/><path d="M0 62 1 84 2 84 3 76 4 82 5 81 6 88 7 80 8 71 9 61 10 71 11 67 12 57 13 55 14 67"/><path d="M0 66 1 64 2 30 3 18 4 16 5 29 6 46 7 40 8 47 9 67 10 73 11 59 12 73 13 84 14 97"/><path d="M0 40 1 43 2 51 3 65 4 59 5 49 6 54 7 61 8 65 9 68 10 90 11 97 12 100 13 84 14 89"/><path d="M0 72 1 61 2 84 3 72 4 95 5 80 6 87 7 89 8 82 9 91 10 75 11 59 12 50 13 59 14 66"/><path d="M0 61 1 50 2 51 3 63 4 61 5 56 6 52 7 60 8 56 9 64 10 69 11 69 12 60 13 48 14 43"/><path d="M0 69 1 100 2 85 3 88 4 88 5 88 6 97 7 77 8 83 9 84 10 99 11 75 12 78 13 81 14 93"/><path d="M0 100 1 0 2 7 3 0 4 0 5 14 6 30 7 40 8 46 9 30 10 38 11 20 12 1 13 0 14 0"/><path d="M0 43 1 43 2 57 3 50 4 43 5 29 6 42 7 42 8 31 9 46 10 25 11 31 12 37 13 39 14 70"/><path d="M0 57 1 64 2 52 3 61 4 80 5 71 6 52 7 56 8 53 9 72 10 53 11 71 12 51 13 27 14 15"/><path d="M0 93 1 100 2 100 3 79 4 87 5 82 6 87 7 93 8 96 9 100 10 87 11 96 12 100 13 92 14 84"/></g><g stroke="#555" stroke-opacity="0.0675" stroke-width="0.8"><path d="M0 59 1 49 2 56 3 43 4 51 5 43 6 43 7 57 8 40 9 54 10 32 11 35 12 20 13 21 14 19"/><path d="M0 67 1 50 2 56 3 53 4 52 5 51 6 48 7 34 8 42 9 23 10 18 11 17 12 14 13 13 14 10"/><path d="M0 74 1 67 2 60 3 53 4 46 5 50 6 51 7 37 8 45 9 41 10 12 11 28 12 19 13 18 14 23"/><path d="M0 59 1 65 2 72 3 68 4 72 5 62 6 53 7 42 8 49 9 14 10 38 11 20 12 22 13 20 14 30"/><path d="M0 50 1 50 2 48 3 47 4 48 5 48 6 40 7 46 8 46 9 43 10 35 11 24 12 28 13 19 14 24"/><path d="M0 31 1 64 2 48 3 13 4 47 5 9 6 0 7 27 8 24 9 24 10 27 11 28 12 30 13 31 14 41"/><path d="M0 66 1 73 2 73 3 67 4 53 5 49 6 48 7 48 8 31 9 52 10 39 11 27 12 53 13 52 14 43"/><path d="M0 46 1 42 2 28 3 46 4 47 5 36 6 35 7 30 8 38 9 46 10 50 11 42 12 51 13 34 14 52"/><path d="M0 100 1 53 2 42 3 25 4 30 5 13 6 7 7 10 8 5 9 32 10 12 11 41 12 78 13 91 14 54"/><path d="M0 51 1 55 2 57 3 30 4 58 5 67 6 60 7 71 8 56 9 44 10 81 11 63 12 78 13 45 14 46"/><path d="M0 86 1 85 2 77 3 91 4 82 5 72 6 77 7 82 8 80 9 83 10 65 11 70 12 75 13 82 14 81"/><path d="M0 15 1 0 2 0 3 14 4 28 5 35 6 42 7 23 8 18 9 0 10 8 11 0 12 0 13 29 14 26"/><path d="M0 95 1 100 2 96 3 89 4 79 5 67 6 76 7 96 8 98 9 100 10 96 11 100 12 93 13 97 14 100"/><path d="M0 15 1 3 2 23 3 23 4 9 5 11 6 24 7 17 8 28 9 41 10 34 11 14 12 31 13 54 14 26"/><path d="M0 100 1 22 2 44 3 19 4 43 5 58 6 60 7 61 8 48 9 49 10 67 11 69 12 66 13 54 14 35"/><path d="M0 71 1 74 2 64 3 81 4 78 5 52 6 44 7 56 8 55 9 73 10 64 11 61 12 72 13 94 14 71"/><path d="M0 46 1 27 2 41 3 10 4 13 5 63 6 64 7 0 8 0 9 0 10 0 11 0 12 0 13 0 14 0"/></g><g stroke="#555" stroke-opacity="0.07" stroke-width="0.8"><path d="M0 59 1 44 2 54 3 51 4 54 5 56 6 48 7 42 8 35 9 40 10 18 11 21 12 10 13 12 14 13"/><path d="M0 57 1 56 2 33 3 53 4 46 5 52 6 41 7 32 8 29 9 32 10 20 11 27 12 18 13 12 14 20"/><path d="M0 53 1 55 2 59 3 60 4 58 5 57 6 55 7 52 8 56 9 39 10 28 11 15 12 13 13 16 14 16"/><path d="M0 46 1 47 2 44 3 42 4 38 5 43 6 41 7 31 8 27 9 34 10 33 11 21 12 28 13 19 14 29"/><path d="M0 68 1 62 2 66 3 65 4 64 5 68 6 60 7 56 8 48 9 43 10 23 11 31 12 27 13 19 14 26"/><path d="M0 54 1 55 2 43 3 50 4 50 5 33 6 29 7 16 8 18 9 22 10 16 11 9 12 13 13 13 14 8"/><path d="M0 24 1 31 2 29 3 19 4 22 5 13 6 23 7 15 8 6 9 5 10 4 11 0 12 2 13 0 14 0"/><path d="M0 49 1 56 2 68 3 90 4 100 5 99 6 100 7 100 8 73 9 68 10 61 11 53 12 65 13 64 14 48"/><path d="M0 52 1 70 2 80 3 52 4 48 5 49 6 16 7 25 8 33 9 33 10 28 11 43 12 51 13 35 14 49"/><path d="M0 15 1 6 2 7 3 24 4 12 5 12 6 19 7 25 8 40 9 27 10 27 11 21 12 12 13 22 14 12"/><path d="M0 89 1 100 2 70 3 63 4 65 5 94 6 92 7 96 8 87 9 75 10 81 11 43 12 34 13 30 14 27"/><path d="M0 100 1 97 2 95 3 90 4 83 5 87 6 78 7 57 8 34 9 44 10 60 11 88 12 90 13 78 14 89"/><path d="M0 19 1 29 2 20 3 27 4 16 5 13 6 29 7 36 8 8 9 0 10 43 11 29 12 54 13 45 14 63"/><path d="M0 61 1 60 2 56 3 32 4 36 5 27 6 37 7 38 8 36 9 21 10 20 11 24 12 30 13 41 14 50"/><path d="M0 85 1 78 2 86 3 100 4 86 5 60 6 61 7 84 8 95 9 86 10 100 11 59 12 79 13 71 14 74"/><path d="M0 38 1 55 2 55 3 52 4 52 5 70 6 81 7 85 8 83 9 77 10 73 11 60 12 56 13 40 14 41"/><path d="M0 95 1 95 2 81 3 76 4 93 5 94 6 100 7 91 8 92 9 100 10 88 11 70 12 85 13 85 14 81"/><path d="M0 0 1 25 2 18 3 4 4 0 5 0 6 27 7 47 8 55 9 32 10 28 11 18 12 0 13 15 14 14"/><path d="M0 100 1 2 2 19 3 11 4 4 5 0 6 4 7 17 8 27 9 30 10 13 11 19 12 11 13 55 14 48"/><path d="M0 95 1 100 2 78 3 72 4 70 5 96 6 92 7 100 8 80 9 99 10 96 11 98 12 64 13 79 14 80"/><path d="M0 15 1 32 2 24 3 6 4 0 5 34 6 62 7 62 8 31 9 22 10 46 11 69 12 100 13 84 14 58"/><path d="M0 45 1 25 2 54 3 40 4 43 5 46 6 50 7 29 8 37 9 24 10 35 11 24 12 34 13 52 14 71"/><path d="M0 15 1 21 2 4 3 1 4 17 5 13 6 20 7 16 8 26 9 26 10 17 11 1 12 12 13 16 14 6"/><path d="M0 59 1 72 2 58 3 74 4 55 5 50 6 70 7 53 8 48 9 52 10 44 11 49 12 45 13 51 14 68"/><path d="M0 15 1 13 2 14 3 14 4 12 5 17 6 12 7 10 8 0 9 0 10 1 11 18 12 20 13 17 14 23"/><path d="M0 71 1 73 2 65 3 69 4 62 5 60 6 41 7 32 8 42 9 54 10 67 11 73 12 60 13 66 14 80"/></g><g stroke="#555" stroke-opacity="0.0725" stroke-width="0.8"><path d="M0 100 1 57 2 62 3 58 4 60 5 48 6 54 7 50 8 46 9 34 10 31 11 30 12 16 13 23 14 27"/><path d="M0 59 1 51 2 45 3 49 4 41 5 35 6 39 7 25 8 26 9 26 10 22 11 10 12 9 13 17 14 13"/><path d="M0 66 1 54 2 69 3 58 4 58 5 49 6 50 7 38 8 30 9 28 10 23 11 25 12 7 13 18 14 12"/><path d="M0 34 1 23 2 31 3 38 4 25 5 21 6 26 7 27 8 18 9 20 10 15 11 20 12 11 13 4 14 5"/><path d="M0 24 1 31 2 33 3 26 4 26 5 28 6 24 7 19 8 21 9 29 10 22 11 22 12 16 13 19 14 21"/><path d="M0 100 1 56 2 48 3 49 4 45 5 40 6 40 7 46 8 38 9 27 10 23 11 15 12 18 13 16 14 8"/><path d="M0 35 1 36 2 44 3 29 4 38 5 26 6 26 7 25 8 21 9 15 10 24 11 13 12 19 13 15 14 12"/><path d="M0 53 1 54 2 53 3 46 4 46 5 57 6 38 7 36 8 36 9 46 10 37 11 42 12 23 13 38 14 45"/><path d="M0 38 1 28 2 29 3 37 4 25 5 36 6 49 7 11 8 28 9 30 10 45 11 39 12 19 13 0 14 9"/><path d="M0 100 1 34 2 45 3 50 4 31 5 48 6 73 7 71 8 50 9 57 10 51 11 50 12 67 13 61 14 49"/><path d="M0 38 1 31 2 29 3 38 4 27 5 30 6 11 7 18 8 36 9 43 10 49 11 42 12 37 13 42 14 19"/><path d="M0 77 1 83 2 76 3 100 4 97 5 100 6 72 7 83 8 100 9 84 10 83 11 67 12 62 13 77 14 58"/><path d="M0 0 1 78 2 66 3 88 4 100 5 98 6 97 7 100 8 100 9 77 10 77 11 75 12 74 13 40 14 62"/><path d="M0 33 1 46 2 47 3 71 4 67 5 33 6 39 7 21 8 50 9 58 10 51 11 52 12 26 13 32 14 31"/><path d="M0 69 1 67 2 95 3 93 4 84 5 67 6 76 7 97 8 100 9 68 10 83 11 87 12 91 13 87 14 100"/><path d="M0 52 1 63 2 33 3 27 4 27 5 21 6 0 7 1 8 0 9 1 10 12 11 12 12 22 13 6 14 14"/><path d="M0 15 1 4 2 0 3 0 4 9 5 0 6 8 7 6 8 12 9 1 10 1 11 2 12 2 13 0 14 8"/><path d="M0 100 1 30 2 51 3 83 4 81 5 94 6 83 7 69 8 63 9 65 10 48 11 27 12 24 13 25 14 0"/><path d="M0 100 1 80 2 99 3 74 4 74 5 61 6 53 7 52 8 45 9 53 10 62 11 85 12 83 13 100 14 100"/><path d="M0 35 1 31 2 22 3 25 4 28 5 28 6 33 7 45 8 42 9 34 10 45 11 48 12 43 13 36 14 23"/><path d="M0 61 1 67 2 73 3 78 4 64 5 93 6 81 7 64 8 72 9 77 10 90 11 88 12 88 13 100 14 99"/><path d="M0 0 1 84 2 73 3 69 4 76 5 51 6 61 7 41 8 48 9 77 10 82 11 67 12 68 13 72 14 86"/><path d="M0 15 1 18 2 2 3 0 4 0 5 10 6 2 7 11 8 12 9 8 10 0 11 1 12 12 13 5 14 1"/><path d="M0 44 1 34 2 54 3 26 4 13 5 43 6 46 7 21 8 0 9 0 10 0 11 0 12 0 13 0 14 0"/><path d="M0 0 1 84 2 0 3 49 4 40 5 50 6 81 7 42 8 50 9 0 10 16 11 0 12 0 13 0 14 0"/></g><g stroke="#555" stroke-opacity="0.075" stroke-width="0.8"><path d="M0 65 1 48 2 33 3 33 4 44 5 18 6 30 7 38 8 29 9 30 10 11 11 24 12 22 13 16 14 6"/><path d="M0 39 1 42 2 41 3 43 4 38 5 38 6 33 7 31 8 24 9 11 10 15 11 13 12 6 13 0 14 0"/><path d="M0 32 1 36 2 36 3 43 4 40 5 32 6 31 7 22 8 18 9 24 10 16 11 13 12 20 13 14 14 17"/><path d="M0 40 1 44 2 44 3 44 4 38 5 30 6 36 7 34 8 24 9 23 10 19 11 23 12 23 13 26 14 22"/><path d="M0 67 1 63 2 65 3 63 4 62 5 64 6 59 7 55 8 52 9 53 10 48 11 29 12 37 13 32 14 30"/><path d="M0 68 1 61 2 60 3 58 4 59 5 76 6 68 7 59 8 52 9 41 10 43 11 31 12 37 13 24 14 22"/><path d="M0 53 1 60 2 58 3 56 4 52 5 43 6 42 7 37 8 41 9 22 10 32 11 18 12 26 13 7 14 26"/><path d="M0 46 1 21 2 42 3 19 4 0 5 16 6 11 7 2 8 46 9 65 10 58 11 69 12 42 13 24 14 20"/><path d="M0 37 1 43 2 58 3 39 4 29 5 38 6 47 7 34 8 54 9 63 10 73 11 68 12 58 13 55 14 71"/><path d="M0 65 1 81 2 92 3 76 4 76 5 61 6 86 7 92 8 83 9 57 10 68 11 74 12 77 13 77 14 85"/><path d="M0 71 1 81 2 76 3 83 4 94 5 50 6 66 7 51 8 44 9 60 10 79 11 84 12 79 13 87 14 66"/><path d="M0 59 1 48 2 39 3 56 4 75 5 73 6 83 7 60 8 54 9 48 10 29 11 46 12 35 13 65 14 61"/><path d="M0 100 1 25 2 31 3 25 4 23 5 18 6 23 7 31 8 25 9 18 10 23 11 18 12 26 13 30 14 22"/><path d="M0 22 1 7 2 3 3 0 4 0 5 10 6 16 7 20 8 32 9 54 10 71 11 100 12 75 13 80 14 87"/><path d="M0 44 1 42 2 72 3 58 4 50 5 36 6 31 7 45 8 36 9 53 10 52 11 92 12 91 13 98 14 100"/><path d="M0 76 1 64 2 52 3 49 4 80 5 59 6 76 7 74 8 71 9 70 10 69 11 43 12 28 13 0 14 1"/><path d="M0 68 1 77 2 94 3 71 4 82 5 67 6 51 7 85 8 100 9 100 10 100 11 82 12 70 13 58 14 84"/><path d="M0 46 1 48 2 65 3 63 4 68 5 62 6 61 7 53 8 61 9 62 10 66 11 20 12 27 13 39 14 54"/></g><g stroke="#555" stroke-opacity="0.0775" stroke-width="0.8"><path d="M0 100 1 64 2 54 3 57 4 56 5 35 6 42 7 54 8 33 9 20 10 21 11 16 12 19 13 18 14 13"/><path d="M0 100 1 41 2 26 3 36 4 8 5 25 6 4 7 21 8 12 9 14 10 13 11 0 12 10 13 9 14 11"/><path d="M0 0 1 63 2 57 3 100 4 100 5 70 6 81 7 67 8 53 9 59 10 37 11 62 12 78 13 74 14 88"/><path d="M0 15 1 19 2 5 3 11 4 16 5 0 6 4 7 0 8 0 9 21 10 7 11 5 12 4 13 14 14 15"/><path d="M0 44 1 20 2 36 3 37 4 49 5 8 6 18 7 37 8 45 9 59 10 40 11 48 12 52 13 34 14 12"/><path d="M0 37 1 41 2 33 3 40 4 32 5 42 6 27 7 30 8 32 9 17 10 25 11 28 12 20 13 25 14 25"/><path d="M0 38 1 19 2 10 3 35 4 40 5 36 6 43 7 45 8 65 9 53 10 72 11 64 12 57 13 35 14 5"/><path d="M0 79 1 90 2 69 3 67 4 54 5 82 6 75 7 69 8 59 9 82 10 85 11 100 12 91 13 91 14 91"/><path d="M0 81 1 74 2 65 3 74 4 71 5 50 6 56 7 51 8 47 9 68 10 53 11 56 12 44 13 61 14 99"/><path d="M0 57 1 62 2 50 3 63 4 78 5 72 6 76 7 59 8 66 9 54 10 60 11 53 12 31 13 31 14 37"/><path d="M0 83 1 69 2 78 3 63 4 71 5 59 6 60 7 54 8 48 9 48 10 39 11 48 12 60 13 49 14 43"/><path d="M0 92 1 98 2 98 3 100 4 81 5 100 6 100 7 91 8 98 9 86 10 100 11 79 12 68 13 46 14 69"/><path d="M0 29 1 35 2 45 3 62 4 69 5 28 6 32 7 14 8 30 9 18 10 14 11 12 12 29 13 29 14 36"/><path d="M0 100 1 10 2 18 3 50 4 24 5 17 6 21 7 29 8 42 9 32 10 35 11 33 12 46 13 29 14 22"/></g><g stroke="#555" stroke-opacity="0.08" stroke-width="0.8"><path d="M0 72 1 63 2 61 3 65 4 67 5 65 6 64 7 46 8 45 9 29 10 23 11 25 12 9 13 12 14 17"/><path d="M0 53 1 45 2 42 3 40 4 49 5 28 6 27 7 19 8 28 9 7 10 7 11 17 12 18 13 11 14 10"/><path d="M0 100 1 49 2 62 3 42 4 33 5 26 6 42 7 34 8 38 9 44 10 46 11 65 12 53 13 47 14 31"/><path d="M0 15 1 25 2 37 3 52 4 45 5 41 6 41 7 29 8 16 9 13 10 0 11 5 12 16 13 6 14 12"/><path d="M0 15 1 15 2 18 3 13 4 10 5 0 6 0 7 0 8 16 9 27 10 33 11 13 12 27 13 19 14 11"/><path d="M0 0 1 6 2 0 3 25 4 50 5 38 6 62 7 43 8 23 9 27 10 8 11 11 12 17 13 7 14 10"/><path d="M0 61 1 65 2 95 3 70 4 66 5 42 6 78 7 74 8 76 9 97 10 86 11 84 12 100 13 100 14 100"/><path d="M0 50 1 39 2 54 3 28 4 46 5 35 6 39 7 26 8 18 9 48 10 73 11 97 12 62 13 89 14 100"/><path d="M0 25 1 31 2 40 3 24 4 23 5 32 6 30 7 39 8 19 9 25 10 59 11 51 12 55 13 63 14 54"/></g><g stroke="#555" stroke-opacity="0.0825" stroke-width="0.8"><path d="M0 46 1 39 2 32 3 18 4 23 5 45 6 27 7 23 8 35 9 0 10 0 11 0 12 0 13 0 14 0"/></g><g stroke="#555" stroke-opacity="0.0875" stroke-width="0.8"><path d="M0 100 1 90 2 80 3 80 4 78 5 89 6 76 7 78 8 63 9 43 10 32 11 23 12 15 13 18 14 13"/><path d="M0 0 1 35 2 49 3 18 4 50 5 46 6 26 7 0 8 0 9 0 10 0 11 0 12 0 13 0 14 0"/><path d="M0 100 1 32 2 9 3 29 4 74 5 61 6 0 7 0 8 0 9 0 10 0 11 0 12 0 13 0 14 0"/></g><g stroke="#555" stroke-opacity="0.09" stroke-width="0.8"><path d="M0 52 1 41 2 58 3 54 4 42 5 27 6 36 7 18 8 12 9 7 10 12 11 2 12 0 13 3 14 8"/></g><g stroke="#555" stroke-opacity="0.0925" stroke-width="0.8"><path d="M0 39 1 43 2 56 3 34 4 64 5 70 6 54 7 48 8 36 9 23 10 24 11 5 12 6 13 9 14 40"/><path d="M0 39 1 62 2 38 3 64 4 50 5 43 6 40 7 42 8 49 9 38 10 34 11 28 12 25 13 15 14 17"/></g><g stroke="#555" stroke-opacity="0.095" stroke-width="0.8"><path d="M0 77 1 72 2 68 3 67 4 59 5 42 6 47 7 37 8 30 9 27 10 29 11 25 12 27 13 24 14 20"/><path d="M0 0 1 31 2 39 3 33 4 25 5 0 6 6 7 29 8 44 9 33 10 34 11 0 12 0 13 0 14 0"/><path d="M0 100 1 11 2 43 3 41 4 51 5 29 6 25 7 15 8 26 9 0 10 0 11 0 12 0 13 0 14 0"/></g><g stroke="#555" stroke-opacity="0.0975" stroke-width="0.8"><path d="M0 66 1 0 2 65 3 49 4 17 5 37 6 36 7 28 8 59 9 73 10 0 11 0 12 0 13 0 14 0"/><path d="M0 62 1 37 2 78 3 49 4 39 5 0 6 33 7 35 8 52 9 48 10 0 11 0 12 0 13 0 14 0"/></g><g stroke="#555" stroke-opacity="0.1025" stroke-width="0.8"><path d="M0 100 1 79 2 66 3 49 4 41 5 32 6 34 7 0 8 20 9 18 10 0 11 0 12 10 13 7 14 2"/><path d="M0 61 1 59 2 48 3 54 4 36 5 30 6 40 7 25 8 21 9 12 10 0 11 7 12 17 13 0 14 1"/></g><g stroke="#555" stroke-opacity="0.105" stroke-width="0.8"><path d="M0 0 1 52 2 18 3 22 4 38 5 35 6 52 7 43 8 33 9 39 10 53 11 34 12 29 13 21 14 25"/><path d="M0 64 1 92 2 100 3 80 4 97 5 75 6 59 7 47 8 58 9 35 10 15 11 0 12 5 13 0 14 18"/><path d="M0 52 1 49 2 60 3 48 4 43 5 44 6 37 7 27 8 27 9 5 10 2 11 9 12 9 13 3 14 1"/></g><g stroke="#555" stroke-opacity="0.1075" stroke-width="0.8"><path d="M0 30 1 49 2 63 3 45 4 28 5 0 6 12 7 20 8 27 9 27 10 8 11 18 12 25 13 0 14 0"/><path d="M0 40 1 47 2 45 3 39 4 34 5 25 6 33 7 26 8 48 9 25 10 30 11 42 12 45 13 48 14 44"/></g><g stroke="#555" stroke-opacity="0.11" stroke-width="0.8"><path d="M0 0 1 31 2 18 3 38 4 31 5 19 6 35 7 38 8 10 9 0 10 0 11 0 12 0 13 0 14 0"/></g><g stroke="#555" stroke-opacity="0.1125" stroke-width="0.8"><path d="M0 33 1 20 2 24 3 34 4 29 5 29 6 42 7 43 8 44 9 52 10 55 11 57 12 66 13 63 14 62"/><path d="M0 15 1 3 2 0 3 4 4 13 5 3 6 0 7 0 8 0 9 9 10 19 11 18 12 33 13 32 14 23"/><path d="M0 74 1 77 2 87 3 84 4 75 5 61 6 33 7 56 8 52 9 59 10 79 11 90 12 69 13 60 14 66"/><path d="M0 58 1 55 2 42 3 59 4 67 5 58 6 44 7 41 8 42 9 54 10 64 11 52 12 55 13 46 14 53"/><path d="M0 100 1 60 2 64 3 55 4 73 5 70 6 58 7 59 8 64 9 75 10 73 11 82 12 83 13 73 14 72"/><path d="M0 100 1 78 2 75 3 47 4 70 5 56 6 58 7 49 8 52 9 48 10 42 11 45 12 38 13 36 14 29"/><path d="M0 80 1 84 2 80 3 85 4 77 5 66 6 52 7 39 8 29 9 24 10 20 11 21 12 22 13 27 14 27"/><path d="M0 54 1 47 2 24 3 20 4 1 5 0 6 5 7 30 8 59 9 39 10 52 11 0 12 0 13 0 14 0"/></g><g stroke="#555" stroke-opacity="0.115" stroke-width="0.8"><path d="M0 15 1 21 2 20 3 28 4 17 5 18 6 37 7 29 8 35 9 20 10 9 11 28 12 53 13 61 14 49"/><path d="M0 43 1 33 2 40 3 38 4 52 5 50 6 44 7 30 8 26 9 29 10 24 11 16 12 31 13 33 14 29"/><path d="M0 52 1 64 2 57 3 53 4 43 5 46 6 33 7 29 8 2 9 11 10 7 11 10 12 29 13 42 14 36"/><path d="M0 100 1 38 2 44 3 61 4 45 5 47 6 56 7 41 8 31 9 28 10 36 11 17 12 10 13 16 14 3"/></g><g stroke="#555" stroke-opacity="0.1175" stroke-width="0.8"><path d="M0 52 1 59 2 62 3 66 4 58 5 58 6 58 7 53 8 53 9 47 10 47 11 42 12 37 13 43 14 40"/><path d="M0 35 1 44 2 19 3 20 4 38 5 56 6 34 7 32 8 42 9 47 10 44 11 30 12 36 13 29 14 4"/><path d="M0 100 1 52 2 76 3 59 4 55 5 64 6 51 7 55 8 31 9 18 10 11 11 17 12 25 13 16 14 11"/><path d="M0 100 1 25 2 30 3 35 4 11 5 46 6 29 7 43 8 34 9 0 10 0 11 0 12 0 13 0 14 0"/></g><g stroke="#555" stroke-opacity="0.12" stroke-width="0.8"><path d="M0 95 1 83 2 77 3 72 4 62 5 81 6 77 7 91 8 75 9 93 10 92 11 100 12 92 13 85 14 81"/></g><g stroke="#555" stroke-opacity="0.1225" stroke-width="0.8"><path d="M0 47 1 64 2 64 3 44 4 35 5 42 6 45 7 56 8 63 9 50 10 38 11 20 12 28 13 31 14 17"/><path d="M0 58 1 49 2 51 3 44 4 36 5 43 6 22 7 30 8 38 9 27 10 23 11 31 12 22 13 26 14 34"/><path d="M0 58 1 61 2 50 3 19 4 45 5 32 6 24 7 15 8 41 9 0 10 0 11 0 12 0 13 0 14 0"/></g><g stroke="#555" stroke-opacity="0.125" stroke-width="0.8"><path d="M0 0 1 43 2 42 3 32 4 33 5 33 6 25 7 23 8 40 9 47 10 48 11 44 12 40 13 37 14 26"/><path d="M0 36 1 35 2 5 3 15 4 5 5 0 6 0 7 11 8 12 9 0 10 0 11 0 12 0 13 6 14 11"/><path d="M0 82 1 87 2 80 3 80 4 82 5 77 6 81 7 76 8 72 9 63 10 44 11 34 12 22 13 8 14 2"/></g><g stroke="#555" stroke-opacity="0.1275" stroke-width="0.8"><path d="M0 81 1 89 2 77 3 100 4 100 5 73 6 59 7 61 8 59 9 55 10 43 11 61 12 75 13 77 14 68"/><path d="M0 38 1 51 2 49 3 37 4 35 5 32 6 32 7 40 8 39 9 47 10 42 11 32 12 23 13 6 14 18"/><path d="M0 59 1 63 2 51 3 49 4 38 5 44 6 22 7 27 8 17 9 24 10 29 11 23 12 15 13 21 14 26"/></g><g stroke="#555" stroke-opacity="0.13" stroke-width="0.8"><path d="M0 75 1 78 2 66 3 68 4 68 5 73 6 77 7 59 8 60 9 50 10 43 11 36 12 21 13 34 14 24"/><path d="M0 62 1 57 2 62 3 70 4 58 5 61 6 68 7 63 8 66 9 56 10 58 11 42 12 23 13 18 14 12"/></g><g stroke="#555" stroke-opacity="0.1325" stroke-width="0.8"><path d="M0 95 1 88 2 59 3 62 4 66 5 80 6 66 7 74 8 69 9 60 10 74 11 55 12 65 13 83 14 75"/></g><g stroke="#555" stroke-opacity="0.135" stroke-width="0.8"><path d="M0 63 1 61 2 69 3 74 4 58 5 52 6 37 7 41 8 31 9 35 10 31 11 30 12 51 13 64 14 63"/><path d="M0 95 1 100 2 100 3 95 4 100 5 83 6 72 7 72 8 80 9 100 10 100 11 100 12 86 13 71 14 62"/></g><g stroke="#555" stroke-opacity="0.14" stroke-width="0.8"><path d="M0 95 1 97 2 100 3 100 4 100 5 100 6 100 7 100 8 89 9 97 10 100 11 100 12 100 13 98 14 94"/><path d="M0 45 1 46 2 52 3 49 4 33 5 53 6 50 7 51 8 40 9 47 10 47 11 56 12 41 13 26 14 21"/><path d="M0 100 1 68 2 67 3 56 4 65 5 57 6 55 7 58 8 69 9 71 10 78 11 84 12 80 13 76 14 75"/></g><g stroke="#555" stroke-opacity="0.1425" stroke-width="0.8"><path d="M0 100 1 61 2 64 3 70 4 71 5 58 6 66 7 60 8 60 9 64 10 66 11 80 12 84 13 93 14 100"/><path d="M0 73 1 67 2 65 3 84 4 83 5 87 6 91 7 86 8 100 9 97 10 98 11 90 12 85 13 98 14 81"/></g><g stroke="#555" stroke-opacity="0.145" stroke-width="0.8"><path d="M0 100 1 87 2 79 3 77 4 72 5 71 6 74 7 80 8 84 9 99 10 100 11 96 12 100 13 100 14 90"/><path d="M0 22 1 14 2 8 3 16 4 11 5 13 6 21 7 17 8 10 9 21 10 11 11 22 12 21 13 40 14 52"/><path d="M0 15 1 17 2 6 3 7 4 10 5 19 6 7 7 0 8 5 9 22 10 17 11 28 12 5 13 0 14 1"/></g><g stroke="#555" stroke-opacity="0.1475" stroke-width="0.8"><path d="M0 100 1 69 2 70 3 74 4 65 5 61 6 66 7 86 8 91 9 98 10 100 11 100 12 83 13 100 14 92"/><path d="M0 55 1 58 2 58 3 63 4 67 5 57 6 54 7 48 8 45 9 36 10 27 11 30 12 27 13 17 14 11"/></g><g stroke="#555" stroke-opacity="0.15" stroke-width="0.8"><path d="M0 37 1 24 2 27 3 45 4 39 5 47 6 41 7 41 8 35 9 32 10 32 11 45 12 41 13 54 14 57"/><path d="M0 47 1 56 2 56 3 47 4 49 5 48 6 36 7 52 8 56 9 39 10 21 11 36 12 39 13 9 14 21"/></g><g stroke="#555" stroke-opacity="0.1525" stroke-width="0.8"><path d="M0 87 1 95 2 95 3 100 4 100 5 94 6 100 7 92 8 82 9 83 10 100 11 100 12 100 13 89 14 94"/></g><g stroke="#555" stroke-opacity="0.155" stroke-width="0.8"><path d="M0 100 1 1 2 3 3 0 4 0 5 7 6 15 7 26 8 37 9 12 10 9 11 0 12 25 13 20 14 2"/><path d="M0 47 1 39 2 15 3 0 4 6 5 11 6 23 7 42 8 51 9 62 10 56 11 52 12 48 13 39 14 33"/><path d="M0 71 1 71 2 76 3 73 4 63 5 54 6 77 7 43 8 52 9 53 10 33 11 15 12 28 13 19 14 15"/></g><g stroke="#555" stroke-opacity="0.1625" stroke-width="0.8"><path d="M0 0 1 31 2 36 3 41 4 20 5 38 6 51 7 62 8 55 9 47 10 54 11 49 12 36 13 29 14 44"/></g><g stroke="#555" stroke-opacity="0.1675" stroke-width="0.8"><path d="M0 38 1 35 2 35 3 43 4 58 5 49 6 49 7 48 8 47 9 37 10 42 11 43 12 48 13 44 14 39"/><path d="M0 18 1 30 2 23 3 9 4 1 5 0 6 4 7 6 8 0 9 2 10 25 11 16 12 31 13 40 14 15"/><path d="M0 80 1 65 2 47 3 46 4 53 5 56 6 57 7 64 8 77 9 74 10 59 11 51 12 53 13 46 14 53"/><path d="M0 0 1 64 2 84 3 99 4 99 5 85 6 88 7 92 8 82 9 85 10 79 11 76 12 84 13 100 14 98"/></g><g stroke="#555" stroke-opacity="0.17" stroke-width="0.8"><path d="M0 100 1 94 2 93 3 86 4 80 5 83 6 85 7 88 8 97 9 100 10 100 11 94 12 88 13 88 14 78"/></g><g stroke="#555" stroke-opacity="0.1725" stroke-width="0.8"><path d="M0 28 1 29 2 36 3 46 4 60 5 59 6 55 7 46 8 46 9 50 10 48 11 49 12 61 13 63 14 62"/><path d="M0 49 1 41 2 48 3 57 4 59 5 62 6 62 7 59 8 62 9 66 10 56 11 47 12 54 13 33 14 45"/></g><g stroke="#555" stroke-opacity="0.1775" stroke-width="0.8"><path d="M0 100 1 41 2 52 3 52 4 51 5 54 6 51 7 39 8 42 9 42 10 41 11 49 12 49 13 44 14 36"/><path d="M0 0 1 47 2 44 3 39 4 51 5 51 6 53 7 59 8 57 9 45 10 49 11 56 12 44 13 55 14 56"/></g><g stroke="#555" stroke-opacity="0.18" stroke-width="0.8"><path d="M0 100 1 22 2 9 3 10 4 15 5 29 6 11 7 19 8 31 9 32 10 32 11 38 12 49 13 47 14 62"/></g><g stroke="#555" stroke-opacity="0.1825" stroke-width="0.8"><path d="M0 86 1 73 2 64 3 68 4 63 5 75 6 70 7 79 8 84 9 92 10 76 11 71 12 74 13 66 14 47"/></g><g stroke="#555" stroke-opacity="0.1875" stroke-width="0.8"><path d="M0 70 1 82 2 84 3 90 4 93 5 77 6 73 7 85 8 73 9 63 10 62 11 55 12 53 13 53 14 61"/></g><g stroke="#555" stroke-opacity="0.19" stroke-width="0.8"><path d="M0 15 1 7 2 9 3 0 4 6 5 20 6 17 7 11 8 6 9 0 10 0 11 6 12 6 13 6 14 24"/></g><g stroke="#555" stroke-opacity="0.1925" stroke-width="0.8"><path d="M0 100 1 92 2 93 3 98 4 100 5 90 6 89 7 93 8 92 9 87 10 89 11 77 12 72 13 77 14 77"/></g><g stroke="#555" stroke-opacity="0.195" stroke-width="0.8"><path d="M0 100 1 60 2 63 3 50 4 45 5 42 6 41 7 29 8 19 9 21 10 25 11 35 12 37 13 45 14 45"/><path d="M0 95 1 90 2 94 3 99 4 96 5 89 6 84 7 92 8 100 9 100 10 100 11 96 12 100 13 92 14 100"/></g><g stroke="#555" stroke-opacity="0.2" stroke-width="0.8"><path d="M0 44 1 58 2 63 3 64 4 55 5 60 6 61 7 64 8 70 9 75 10 70 11 76 12 71 13 73 14 72"/><path d="M0 49 1 35 2 28 3 36 4 19 5 38 6 44 7 29 8 29 9 8 10 25 11 34 12 37 13 23 14 19"/></g></g><g fill="none" stroke-linejoin="round" transform="matrix(7.74 0 0 0.097500 397.1 34.3)"><g stroke="#444" stroke-opacity="0.3" stroke-width="0.9"><path d="M0 0 1 1000 2 0 3 1000 4 50 5 950 6 100 7 900 8 100 9 900 10 150 11 850 12 100 13 900 14 200"/></g><g stroke="#333" stroke-opacity="0.395" stroke-width="0.9"><path d="M0 548 1 637 2 527 3 489 4 365 5 309 6 310 7 289 8 435 9 450 10 414 11 398 12 378 13 435 14 231"/></g><g stroke="#333" stroke-opacity="0.4025" stroke-width="0.9"><path d="M0 0 1 562 2 552 3 631 4 772 5 699 6 585 7 568 8 624 9 700 10 638 11 560 12 608 13 563 14 566"/></g><g stroke="#333" stroke-opacity="0.4275" stroke-width="0.9"><path d="M0 1000 1 79 2 87 3 191 4 175 5 275 6 285 7 92 8 112 9 310 10 372 11 356 12 352 13 254 14 123"/></g><g stroke="#333" stroke-opacity="0.45" stroke-width="0.9"><path d="M0 1000 1 450 2 450 3 80 4 330 5 450 6 380 7 450 8 500 9 420 10 450 11 500 12 400 13 450 14 500"/><path d="M0 1000 1 850 2 880 3 800 4 815 5 760 6 750 7 700 8 670 9 575 10 690 11 800 12 640 13 560 14 600"/><path d="M0 1000 1 500 2 370 3 400 4 480 5 680 6 690 7 660 8 350 9 500 10 550 11 600 12 550 13 180 14 400"/><path d="M0 0 1 300 2 550 3 600 4 500 5 450 6 500 7 200 8 20 9 50 10 150 11 300 12 450 13 600 14 550"/><path d="M0 1000 1 950 2 900 3 940 4 990 5 900 6 850 7 800 8 850 9 800 10 750 11 800 12 720 13 800 14 780"/></g></g><g fill="none" stroke-linejoin="round" transform="matrix(7.98 0 0 -1.930000 397.1 286.3)"><g stroke="#555" stroke-opacity="0.015" stroke-width="0.8"><path d="M0 0 1 0 2 1 3 0 4 0 5 2 6 6 7 6 8 8 9 7 10 7 11 6 12 7 13 8 14 8"/><path d="M0 0 1 0 2 2 3 2 4 2 5 2 6 5 7 6 8 5 9 5 10 5 11 5 12 4 13 4 14 6"/><path d="M0 0 1 1 2 6 3 5 4 5 5 6 6 5 7 7 8 6 9 7 10 7 11 6 12 6 13 7 14 7"/><path d="M0 0 1 0 2 0 3 1 4 1 5 1 6 3 7 4 8 4 9 4 10 4 11 6 12 5 13 5 14 5"/><path d="M0 0 1 2 2 19 3 15 4 11 5 11 6 11 7 10 8 9 9 8 10 9 11 9 12 8 13 8 14 8"/><path d="M0 0 1 1 2 3 3 4 4 4 5 4 6 4 7 3 8 3 9 5 10 6 11 7 12 7 13 7 14 7"/><path d="M0 0 1 3 2 2 3 2 4 1 5 3 6 3 7 3 8 4 9 3 10 4 11 4 12 4 13 6 14 6"/></g><g stroke="#555" stroke-opacity="0.0175" stroke-width="0.8"><path d="M0 0 1 14 2 9 3 10 4 8 5 8 6 7 7 7 8 8 9 7 10 8 11 9 12 8 13 9 14 9"/><path d="M0 0 1 1 2 1 3 9 4 9 5 10 6 9 7 8 8 9 9 8 10 7 11 7 12 6 13 6 14 6"/><path d="M0 0 1 6 2 3 3 7 4 7 5 9 6 8 7 7 8 6 9 6 10 9 11 9 12 9 13 8 14 8"/><path d="M0 0 1 8 2 4 3 3 4 2 5 2 6 4 7 5 8 5 9 6 10 9 11 9 12 9 13 8 14 8"/><path d="M0 0 1 0 2 0 3 1 4 3 5 3 6 6 7 7 8 6 9 5 10 5 11 5 12 6 13 6 14 8"/><path d="M0 0 1 1 2 2 3 2 4 8 5 7 6 13 7 12 8 12 9 11 10 11 11 14 12 13 13 12 14 12"/><path d="M0 0 1 1 2 1 3 1 4 2 5 1 6 2 7 2 8 4 9 5 10 4 11 4 12 6 13 7 14 6"/><path d="M0 0 1 0 2 8 3 5 4 12 5 13 6 11 7 10 8 9 9 9 10 12 11 14 12 13 13 14 14 14"/><path d="M0 0 1 2 2 2 3 3 4 4 5 4 6 4 7 11 8 9 9 11 10 10 11 12 12 12 13 11 14 11"/><path d="M0 0 1 6 2 10 3 7 4 5 5 5 6 4 7 4 8 4 9 5 10 4 11 4 12 5 13 5 14 5"/><path d="M0 0 1 0 2 0 3 0 4 10 5 8 6 7 7 6 8 8 9 7 10 6 11 7 12 6 13 6 14 5"/><path d="M0 0 1 10 2 7 3 4 4 3 5 4 6 5 7 4 8 4 9 4 10 4 11 4 12 5 13 5 14 5"/><path d="M0 0 1 1 2 11 3 8 4 9 5 7 6 10 7 9 8 10 9 12 10 11 11 11 12 11 13 11 14 11"/><path d="M0 0 1 3 2 4 3 14 4 11 5 11 6 10 7 8 8 12 9 11 10 10 11 11 12 11 13 10 14 11"/><path d="M0 0 1 4 2 2 3 6 4 5 5 6 6 9 7 10 8 10 9 10 10 10 11 9 12 9 13 8 14 8"/><path d="M0 0 1 10 2 5 3 11 4 8 5 8 6 8 7 11 8 10 9 10 10 9 11 8 12 8 13 8 14 7"/><path d="M0 0 1 2 2 4 3 3 4 3 5 2 6 10 7 8 8 9 9 11 10 11 11 12 12 11 13 12 14 12"/><path d="M0 0 1 3 2 4 3 4 4 4 5 4 6 4 7 3 8 4 9 4 10 4 11 4 12 6 13 8 14 7"/></g><g stroke="#555" stroke-opacity="0.02" stroke-width="0.8"><path d="M0 0 1 5 2 3 3 18 4 13 5 19 6 16 7 14 8 15 9 15 10 13 11 13 12 12 13 11 14 12"/><path d="M0 0 1 0 2 19 3 13 4 12 5 10 6 9 7 8 8 9 9 8 10 7 11 7 12 7 13 6 14 6"/><path d="M0 0 1 6 2 3 3 4 4 4 5 3 6 3 7 3 8 3 9 3 10 4 11 3 12 4 13 5 14 4"/><path d="M0 0 1 19 2 16 3 11 4 8 5 7 6 7 7 10 8 14 9 14 10 13 11 14 12 13 13 12 14 12"/><path d="M0 0 1 14 2 9 3 6 4 8 5 7 6 7 7 7 8 6 9 6 10 5 11 5 12 5 13 4 14 5"/><path d="M0 0 1 0 2 1 3 8 4 6 5 5 6 4 7 4 8 5 9 5 10 4 11 5 12 6 13 6 14 6"/><path d="M0 0 1 8 2 6 3 13 4 11 5 11 6 13 7 14 8 12 9 12 10 11 11 10 12 10 13 11 14 11"/><path d="M0 0 1 31 2 18 3 14 4 14 5 11 6 12 7 10 8 9 9 8 10 7 11 7 12 8 13 8 14 8"/><path d="M0 0 1 0 2 2 3 3 4 3 5 7 6 7 7 8 8 7 9 9 10 9 11 11 12 12 13 11 14 11"/><path d="M0 0 1 5 2 8 3 8 4 6 5 5 6 5 7 4 8 8 9 9 10 9 11 10 12 11 13 10 14 11"/><path d="M0 0 1 10 2 10 3 17 4 18 5 16 6 15 7 13 8 17 9 15 10 14 11 14 12 14 13 15 14 14"/></g><g stroke="#555" stroke-opacity="0.0225" stroke-width="0.8"><path d="M0 0 1 3 2 2 3 5 4 4 5 4 6 3 7 3 8 3 9 3 10 6 11 6 12 6 13 5 14 6"/><path d="M0 0 1 27 2 15 3 15 4 14 5 12 6 16 7 15 8 13 9 14 10 15 11 13 12 12 13 13 14 14"/><path d="M0 0 1 1 2 3 3 7 4 10 5 9 6 8 7 8 8 7 9 6 10 5 11 6 12 5 13 6 14 6"/><path d="M0 0 1 11 2 11 3 8 4 6 5 5 6 6 7 5 8 5 9 5 10 8 11 7 12 7 13 8 14 9"/><path d="M0 0 1 2 2 6 3 8 4 6 5 5 6 6 7 5 8 8 9 7 10 7 11 7 12 6 13 7 14 6"/><path d="M0 0 1 7 2 5 3 4 4 4 5 5 6 7 7 6 8 6 9 5 10 7 11 7 12 7 13 7 14 6"/><path d="M0 0 1 2 2 5 3 4 4 4 5 3 6 3 7 3 8 4 9 3 10 3 11 3 12 3 13 3 14 3"/><path d="M0 0 1 7 2 5 3 8 4 7 5 14 6 12 7 11 8 13 9 14 10 12 11 11 12 12 13 11 14 10"/><path d="M0 0 1 14 2 14 3 21 4 19 5 19 6 16 7 14 8 12 9 12 10 11 11 11 12 10 13 10 14 9"/><path d="M0 0 1 17 2 10 3 10 4 8 5 7 6 7 7 6 8 8 9 7 10 6 11 7 12 8 13 8 14 9"/><path d="M0 0 1 3 2 2 3 4 4 7 5 6 6 5 7 6 8 7 9 7 10 7 11 6 12 7 13 6 14 7"/></g><g stroke="#555" stroke-opacity="0.025" stroke-width="0.8"><path d="M0 0 1 20 2 11 3 8 4 8 5 10 6 9 7 7 8 6 9 8 10 9 11 8 12 8 13 8 14 7"/><path d="M0 0 1 0 2 1 3 10 4 8 5 9 6 7 7 8 8 8 9 7 10 7 11 7 12 7 13 6 14 6"/><path d="M0 0 1 1 2 3 3 5 4 12 5 11 6 10 7 13 8 11 9 10 10 10 11 9 12 9 13 9 14 9"/><path d="M0 0 1 15 2 10 3 8 4 14 5 14 6 12 7 10 8 9 9 8 10 8 11 8 12 8 13 8 14 9"/><path d="M0 0 1 2 2 6 3 8 4 6 5 7 6 7 7 7 8 6 9 6 10 8 11 8 12 9 13 9 14 11"/><path d="M0 0 1 1 2 4 3 5 4 7 5 6 6 5 7 5 8 4 9 4 10 4 11 4 12 5 13 7 14 7"/><path d="M0 0 1 1 2 1 3 1 4 8 5 9 6 9 7 9 8 8 9 8 10 8 11 8 12 7 13 7 14 8"/><path d="M0 0 1 9 2 6 3 10 4 8 5 6 6 6 7 5 8 6 9 5 10 5 11 5 12 4 13 5 14 5"/><path d="M0 0 1 5 2 3 3 10 4 10 5 12 6 13 7 12 8 10 9 9 10 10 11 9 12 9 13 9 14 10"/><path d="M0 0 1 1 2 1 3 1 4 4 5 5 6 10 7 9 8 11 9 11 10 11 11 10 12 10 13 11 14 11"/><path d="M0 0 1 1 2 5 3 7 4 11 5 9 6 13 7 14 8 12 9 12 10 11 11 10 12 9 13 9 14 8"/><path d="M0 0 1 3 2 27 3 19 4 16 5 16 6 13 7 13 8 13 9 12 10 11 11 10 12 11 13 10 14 10"/><path d="M0 0 1 4 2 5 3 7 4 7 5 6 6 9 7 8 8 7 9 7 10 6 11 6 12 6 13 6 14 7"/><path d="M0 0 1 8 2 4 3 5 4 9 5 8 6 8 7 9 8 12 9 11 10 11 11 11 12 10 13 9 14 9"/><path d="M0 0 1 7 2 11 3 12 4 10 5 8 6 7 7 6 8 10 9 9 10 9 11 9 12 10 13 10 14 11"/><path d="M0 0 1 1 2 1 3 1 4 1 5 1 6 2 7 2 8 2 9 3 10 4 11 5 12 5 13 6 14 6"/><path d="M0 0 1 1 2 1 3 1 4 1 5 1 6 1 7 1 8 1 9 1 10 1 11 2 12 2 13 3 14 4"/><path d="M0 0 1 0 2 0 3 1 4 0 5 1 6 1 7 2 8 4 9 5 10 5 11 6 12 7 13 6 14 6"/><path d="M0 0 1 0 2 0 3 0 4 1 5 3 6 3 7 3 8 3 9 3 10 3 11 3 12 3 13 3 14 3"/></g><g stroke="#555" stroke-opacity="0.0275" stroke-width="0.8"><path d="M0 0 1 0 2 1 3 1 4 3 5 3 6 4 7 3 8 3 9 4 10 4 11 4 12 4 13 5 14 5"/><path d="M0 0 1 0 2 4 3 4 4 4 5 4 6 8 7 11 8 10 9 12 10 11 11 12 12 12 13 11 14 10"/><path d="M0 0 1 16 2 9 3 10 4 8 5 7 6 6 7 7 8 8 9 8 10 9 11 10 12 9 13 10 14 10"/><path d="M0 0 1 9 2 4 3 11 4 9 5 12 6 10 7 11 8 11 9 12 10 11 11 11 12 11 13 10 14 10"/><path d="M0 0 1 0 2 0 3 0 4 5 5 5 6 4 7 5 8 4 9 6 10 7 11 7 12 7 13 7 14 7"/><path d="M0 0 1 5 2 9 3 6 4 6 5 9 6 8 7 8 8 7 9 7 10 9 11 8 12 9 13 9 14 10"/><path d="M0 0 1 5 2 8 3 19 4 18 5 14 6 15 7 15 8 14 9 13 10 12 11 12 12 11 13 12 14 11"/><path d="M0 0 1 3 2 2 3 3 4 6 5 6 6 6 7 5 8 8 9 10 10 9 11 9 12 11 13 10 14 10"/><path d="M0 0 1 2 2 2 3 8 4 9 5 11 6 10 7 9 8 9 9 9 10 9 11 9 12 10 13 9 14 9"/><path d="M0 0 1 8 2 20 3 14 4 13 5 11 6 9 7 9 8 8 9 9 10 9 11 9 12 9 13 9 14 9"/><path d="M0 0 1 6 2 5 3 7 4 5 5 7 6 7 7 7 8 8 9 8 10 7 11 7 12 7 13 6 14 8"/><path d="M0 0 1 4 2 12 3 10 4 8 5 6 6 6 7 6 8 8 9 8 10 8 11 7 12 7 13 7 14 8"/><path d="M0 0 1 0 2 0 3 0 4 0 5 1 6 1 7 2 8 2 9 3 10 3 11 3 12 4 13 4 14 4"/><path d="M0 0 1 0 2 0 3 0 4 0 5 0 6 0 7 0 8 0 9 0 10 0 11 1 12 1 13 2 14 2"/><path d="M0 0 1 2 2 1 3 1 4 1 5 1 6 1 7 1 8 1 9 1 10 2 11 2 12 4 13 5 14 5"/><path d="M0 0 1 1 2 1 3 1 4 1 5 2 6 2 7 2 8 2 9 2 10 2 11 2 12 2 13 2 14 3"/><path d="M0 0 1 0 2 0 3 0 4 0 5 1 6 1 7 2 8 2 9 2 10 2 11 2 12 2 13 2 14 2"/><path d="M0 0 1 0 2 2 3 4 4 4 5 6 6 7 7 7 8 6 9 6 10 6 11 6 12 6 13 6 14 5"/></g><g stroke="#555" stroke-opacity="0.03" stroke-width="0.8"><path d="M0 0 1 13 2 7 3 5 4 5 5 4 6 3 7 3 8 4 9 3 10 4 11 4 12 3 13 3 14 3"/><path d="M0 0 1 3 2 7 3 8 4 6 5 9 6 9 7 9 8 9 9 8 10 8 11 8 12 11 13 10 14 10"/><path d="M0 0 1 16 2 9 3 13 4 11 5 13 6 11 7 10 8 9 9 11 10 10 11 10 12 10 13 9 14 10"/><path d="M0 0 1 31 2 19 3 15 4 13 5 11 6 11 7 11 8 14 9 14 10 13 11 12 12 11 13 13 14 14"/><path d="M0 0 1 0 2 8 3 9 4 8 5 7 6 7 7 6 8 9 9 8 10 7 11 7 12 6 13 6 14 6"/><path d="M0 0 1 0 2 2 3 1 4 6 5 6 6 5 7 6 8 6 9 6 10 6 11 7 12 7 13 7 14 8"/><path d="M0 0 1 0 2 1 3 1 4 1 5 1 6 1 7 1 8 1 9 1 10 2 11 2 12 2 13 2 14 3"/><path d="M0 0 1 1 2 1 3 1 4 1 5 1 6 1 7 1 8 1 9 2 10 2 11 2 12 4 13 4 14 5"/><path d="M0 0 1 0 2 0 3 0 4 0 5 0 6 0 7 0 8 0 9 0 10 0 11 0 12 1 13 2 14 3"/><path d="M0 0 1 0 2 1 3 1 4 1 5 1 6 1 7 1 8 1 9 2 10 3 11 3 12 3 13 3 14 4"/><path d="M0 0 1 0 2 0 3 0 4 1 5 1 6 2 7 2 8 3 9 3 10 3 11 3 12 3 13 3 14 3"/><path d="M0 0 1 1 2 1 3 6 4 5 5 4 6 3 7 3 8 3 9 2 10 2 11 2 12 2 13 3 14 3"/></g><g stroke="#555" stroke-opacity="0.0325" stroke-width="0.8"><path d="M0 0 1 2 2 1 3 1 4 1 5 1 6 1 7 1 8 3 9 4 10 5 11 6 12 7 13 7 14 8"/><path d="M0 0 1 0 2 0 3 0 4 0 5 0 6 1 7 1 8 1 9 1 10 2 11 1 12 1 13 1 14 1"/><path d="M0 0 1 1 2 1 3 2 4 1 5 2 6 2 7 4 8 5 9 6 10 6 11 6 12 6 13 6 14 6"/></g><g stroke="#555" stroke-opacity="0.035" stroke-width="0.8"><path d="M0 0 1 4 2 4 3 4 4 7 5 8 6 13 7 12 8 11 9 11 10 10 11 10 12 11 13 10 14 11"/><path d="M0 0 1 10 2 7 3 6 4 5 5 12 6 10 7 10 8 13 9 12 10 11 11 12 12 11 13 11 14 10"/><path d="M0 0 1 16 2 8 3 5 4 6 5 5 6 5 7 12 8 13 9 16 10 17 11 16 12 16 13 15 14 15"/><path d="M0 0 1 2 2 15 3 10 4 8 5 12 6 11 7 11 8 11 9 10 10 9 11 12 12 12 13 11 14 11"/><path d="M0 0 1 1 2 10 3 12 4 12 5 11 6 13 7 17 8 16 9 15 10 14 11 13 12 13 13 12 14 12"/><path d="M0 0 1 8 2 4 3 5 4 16 5 13 6 16 7 17 8 18 9 19 10 20 11 18 12 18 13 17 14 16"/><path d="M0 0 1 0 2 1 3 1 4 1 5 1 6 1 7 1 8 2 9 2 10 3 11 3 12 3 13 3 14 4"/><path d="M0 0 1 0 2 0 3 0 4 0 5 0 6 0 7 0 8 1 9 1 10 1 11 1 12 1 13 2 14 2"/><path d="M0 0 1 0 2 1 3 2 4 2 5 2 6 2 7 2 8 2 9 2 10 2 11 2 12 2 13 2 14 2"/><path d="M0 0 1 0 2 1 3 0 4 1 5 1 6 1 7 1 8 1 9 1 10 1 11 2 12 2 13 3 14 4"/><path d="M0 0 1 2 2 1 3 1 4 1 5 1 6 1 7 1 8 2 9 3 10 4 11 4 12 5 13 6 14 6"/></g><g stroke="#555" stroke-opacity="0.0375" stroke-width="0.8"><path d="M0 0 1 0 2 3 3 13 4 12 5 13 6 12 7 17 8 15 9 14 10 13 11 14 12 15 13 16 14 15"/><path d="M0 0 1 14 2 25 3 19 4 15 5 12 6 10 7 12 8 12 9 13 10 13 11 12 12 11 13 13 14 13"/><path d="M0 0 1 3 2 2 3 1 4 1 5 7 6 8 7 8 8 10 9 10 10 11 11 11 12 10 13 11 14 12"/><path d="M0 0 1 0 2 0 3 3 4 3 5 6 6 5 7 5 8 4 9 7 10 7 11 8 12 8 13 8 14 8"/><path d="M0 0 1 1 2 8 3 14 4 11 5 14 6 15 7 13 8 15 9 13 10 14 11 13 12 12 13 12 14 12"/><path d="M0 0 1 8 2 25 3 17 4 19 5 19 6 16 7 15 8 15 9 18 10 18 11 17 12 16 13 15 14 15"/><path d="M0 0 1 0 2 0 3 0 4 1 5 2 6 4 7 5 8 5 9 5 10 5 11 9 12 9 13 9 14 9"/><path d="M0 0 1 0 2 0 3 0 4 4 5 4 6 7 7 8 8 7 9 7 10 7 11 6 12 7 13 6 14 6"/><path d="M0 0 1 8 2 5 3 3 4 10 5 8 6 9 7 10 8 13 9 14 10 14 11 14 12 13 13 12 14 12"/><path d="M0 0 1 50 2 33 3 33 4 26 5 26 6 23 7 20 8 20 9 21 10 21 11 22 12 22 13 21 14 21"/><path d="M0 0 1 3 2 2 3 1 4 4 5 16 6 20 7 20 8 20 9 20 10 21 11 21 12 19 13 19 14 19"/><path d="M0 0 1 1 2 2 3 8 4 13 5 10 6 13 7 11 8 12 9 12 10 13 11 12 12 12 13 12 14 11"/><path d="M0 0 1 15 2 10 3 23 4 25 5 24 6 25 7 23 8 22 9 22 10 20 11 19 12 18 13 17 14 16"/><path d="M0 0 1 1 2 6 3 10 4 9 5 9 6 9 7 8 8 7 9 10 10 11 11 11 12 11 13 11 14 12"/><path d="M0 0 1 0 2 1 3 1 4 3 5 9 6 13 7 14 8 12 9 12 10 11 11 10 12 11 13 10 14 10"/><path d="M0 0 1 50 2 33 3 22 4 17 5 21 6 20 7 20 8 20 9 21 10 19 11 19 12 18 13 19 14 20"/><path d="M0 0 1 4 2 2 3 13 4 10 5 9 6 9 7 11 8 12 9 15 10 13 11 12 12 11 13 13 14 14"/><path d="M0 0 1 5 2 4 3 17 4 17 5 14 6 17 7 18 8 16 9 17 10 15 11 14 12 15 13 15 14 14"/><path d="M0 0 1 1 2 1 3 1 4 1 5 1 6 1 7 1 8 1 9 2 10 4 11 7 12 9 13 10 14 11"/><path d="M0 0 1 0 2 0 3 1 4 2 5 3 6 4 7 5 8 5 9 5 10 5 11 4 12 4 13 4 14 4"/><path d="M0 0 1 1 2 0 3 0 4 0 5 0 6 1 7 1 8 1 9 0 10 1 11 1 12 1 13 1 14 1"/><path d="M0 0 1 19 2 12 3 8 4 8 5 8 6 7 7 7 8 7 9 7 10 6 11 6 12 6 13 5 14 5"/><path d="M0 0 1 0 2 0 3 0 4 0 5 0 6 0 7 0 8 0 9 1 10 1 11 1 12 1 13 1 14 2"/></g><g stroke="#555" stroke-opacity="0.04" stroke-width="0.8"><path d="M0 0 1 3 2 27 3 18 4 14 5 17 6 18 7 17 8 20 9 19 10 21 11 19 12 18 13 17 14 18"/><path d="M0 0 1 0 2 11 3 24 4 18 5 20 6 21 7 19 8 17 9 15 10 15 11 13 12 13 13 12 14 12"/><path d="M0 0 1 0 2 2 3 12 4 11 5 12 6 16 7 14 8 14 9 15 10 15 11 15 12 14 13 13 14 15"/><path d="M0 0 1 35 2 24 3 29 4 22 5 22 6 19 7 19 8 20 9 20 10 20 11 19 12 19 13 18 14 19"/><path d="M0 0 1 0 2 1 3 6 4 18 5 15 6 15 7 18 8 18 9 16 10 18 11 18 12 17 13 18 14 17"/><path d="M0 0 1 11 2 13 3 11 4 8 5 7 6 9 7 10 8 9 9 12 10 14 11 15 12 14 13 13 14 12"/><path d="M0 0 1 5 2 3 3 5 4 6 5 8 6 13 7 15 8 14 9 13 10 13 11 14 12 14 13 14 14 15"/><path d="M0 0 1 30 2 20 3 17 4 21 5 17 6 15 7 13 8 12 9 13 10 13 11 12 12 11 13 11 14 12"/><path d="M0 0 1 50 2 33 3 33 4 30 5 25 6 26 7 26 8 23 9 23 10 22 11 21 12 20 13 19 14 19"/><path d="M0 0 1 19 2 15 3 13 4 10 5 12 6 11 7 9 8 10 9 13 10 13 11 14 12 13 13 12 14 13"/><path d="M0 0 1 50 2 33 3 27 4 20 5 17 6 16 7 19 8 19 9 18 10 16 11 16 12 18 13 17 14 16"/><path d="M0 0 1 3 2 2 3 2 4 1 5 1 6 1 7 2 8 2 9 3 10 3 11 3 12 3 13 3 14 4"/><path d="M0 0 1 1 2 1 3 1 4 0 5 0 6 1 7 0 8 2 9 4 10 6 11 8 12 9 13 9 14 9"/><path d="M0 0 1 1 2 1 3 1 4 1 5 1 6 2 7 3 8 3 9 3 10 3 11 3 12 3 13 3 14 4"/><path d="M0 0 1 5 2 3 3 2 4 3 5 8 6 12 7 13 8 15 9 14 10 13 11 13 12 13 13 13 14 12"/><path d="M0 0 1 0 2 1 3 0 4 0 5 1 6 1 7 1 8 1 9 1 10 1 11 1 12 1 13 1 14 1"/><path d="M0 0 1 0 2 0 3 0 4 0 5 0 6 1 7 1 8 1 9 1 10 2 11 2 12 2 13 3 14 3"/><path d="M0 0 1 0 2 2 3 1 4 2 5 3 6 2 7 2 8 2 9 2 10 2 11 2 12 2 13 2 14 2"/><path d="M0 0 1 0 2 0 3 1 4 1 5 1 6 1 7 1 8 1 9 1 10 1 11 1 12 1 13 1 14 1"/><path d="M0 0 1 0 2 0 3 0 4 0 5 0 6 0 7 0 8 0 9 1 10 2 11 3 12 4 13 4 14 4"/><path d="M0 0 1 0 2 0 3 1 4 1 5 1 6 2 7 1 8 2 9 2 10 2 11 2 12 2 13 2 14 2"/><path d="M0 0 1 0 2 0 3 0 4 0 5 0 6 0 7 0 8 0 9 1 10 1 11 1 12 1 13 2 14 2"/><path d="M0 0 1 0 2 3 3 2 4 3 5 4 6 5 7 5 8 5 9 5 10 5 11 4 12 4 13 4 14 4"/><path d="M0 0 1 1 2 0 3 0 4 1 5 1 6 1 7 1 8 1 9 2 10 3 11 4 12 5 13 5 14 7"/><path d="M0 0 1 13 2 8 3 7 4 8 5 7 6 6 7 6 8 6 9 6 10 6 11 6 12 6 13 6 14 6"/></g><g stroke="#555" stroke-opacity="0.0425" stroke-width="0.8"><path d="M0 0 1 11 2 5 3 11 4 16 5 13 6 14 7 12 8 14 9 15 10 16 11 17 12 17 13 16 14 16"/><path d="M0 0 1 0 2 1 3 1 4 5 5 9 6 10 7 9 8 8 9 8 10 9 11 8 12 10 13 9 14 10"/><path d="M0 0 1 35 2 23 3 20 4 18 5 18 6 16 7 14 8 17 9 17 10 15 11 17 12 17 13 17 14 17"/><path d="M0 0 1 1 2 20 3 14 4 15 5 19 6 19 7 18 8 17 9 19 10 20 11 18 12 18 13 18 14 17"/><path d="M0 0 1 1 2 6 3 6 4 5 5 10 6 11 7 12 8 11 9 10 10 11 11 10 12 10 13 9 14 9"/><path d="M0 0 1 10 2 5 3 6 4 10 5 8 6 9 7 13 8 11 9 11 10 12 11 12 12 12 13 12 14 11"/><path d="M0 0 1 0 2 0 3 6 4 5 5 4 6 4 7 3 8 3 9 5 10 7 11 7 12 10 13 11 14 11"/><path d="M0 0 1 50 2 29 3 20 4 17 5 14 6 12 7 13 8 12 9 11 10 11 11 11 12 11 13 10 14 10"/><path d="M0 0 1 2 2 2 3 6 4 9 5 14 6 12 7 14 8 12 9 11 10 11 11 10 12 9 13 9 14 9"/><path d="M0 0 1 0 2 0 3 0 4 3 5 3 6 6 7 7 8 7 9 7 10 7 11 7 12 11 13 11 14 14"/><path d="M0 0 1 5 2 3 3 3 4 5 5 12 6 12 7 13 8 12 9 12 10 12 11 14 12 15 13 16 14 15"/><path d="M0 0 1 13 2 12 3 14 4 11 5 9 6 13 7 11 8 12 9 13 10 15 11 16 12 17 13 15 14 14"/><path d="M0 0 1 15 2 25 3 18 4 15 5 15 6 17 7 17 8 15 9 15 10 17 11 16 12 16 13 15 14 15"/><path d="M0 0 1 0 2 0 3 1 4 0 5 0 6 0 7 1 8 1 9 2 10 2 11 2 12 2 13 2 14 3"/><path d="M0 0 1 0 2 1 3 1 4 1 5 1 6 1 7 2 8 1 9 1 10 1 11 1 12 2 13 2 14 2"/><path d="M0 0 1 0 2 1 3 1 4 1 5 1 6 2 7 2 8 1 9 1 10 1 11 1 12 1 13 2 14 2"/><path d="M0 0 1 2 2 1 3 1 4 1 5 1 6 0 7 0 8 0 9 0 10 0 11 0 12 1 13 2 14 3"/><path d="M0 0 1 0 2 2 3 3 4 2 5 2 6 2 7 2 8 2 9 2 10 2 11 2 12 2 13 2 14 2"/><path d="M0 0 1 6 2 8 3 6 4 6 5 6 6 6 7 6 8 8 9 7 10 7 11 7 12 7 13 6 14 6"/><path d="M0 0 1 0 2 0 3 0 4 0 5 0 6 0 7 0 8 0 9 1 10 1 11 1 12 1 13 1 14 1"/><path d="M0 0 1 5 2 5 3 3 4 3 5 3 6 3 7 3 8 4 9 5 10 5 11 6 12 7 13 7 14 7"/><path d="M0 0 1 0 2 0 3 0 4 0 5 1 6 1 7 2 8 2 9 3 10 2 11 2 12 2 13 2 14 2"/><path d="M0 0 1 0 2 0 3 0 4 0 5 0 6 0 7 1 8 1 9 1 10 1 11 1 12 1 13 1 14 1"/><path d="M0 0 1 1 2 1 3 0 4 0 5 3 6 3 7 3 8 3 9 3 10 3 11 3 12 3 13 3 14 3"/></g><g stroke="#555" stroke-opacity="0.045" stroke-width="0.8"><path d="M0 0 1 50 2 26 3 22 4 17 5 14 6 12 7 11 8 14 9 16 10 16 11 15 12 14 13 15 14 15"/><path d="M0 0 1 19 2 25 3 22 4 17 5 19 6 21 7 21 8 22 9 20 10 21 11 21 12 21 13 21 14 21"/><path d="M0 0 1 22 2 26 3 22 4 17 5 14 6 13 7 12 8 15 9 19 10 21 11 22 12 22 13 22 14 22"/><path d="M0 0 1 5 2 13 3 15 4 14 5 14 6 18 7 19 8 18 9 19 10 18 11 19 12 17 13 17 14 19"/><path d="M0 0 1 24 2 16 3 19 4 15 5 18 6 17 7 15 8 13 9 13 10 12 11 12 12 14 13 13 14 14"/><path d="M0 0 1 50 2 33 3 33 4 30 5 30 6 26 7 26 8 23 9 23 10 23 11 22 12 23 13 24 14 22"/><path d="M0 0 1 30 2 20 3 27 4 24 5 26 6 25 7 26 8 26 9 26 10 24 11 23 12 23 13 21 14 20"/><path d="M0 0 1 1 2 30 3 30 4 27 5 24 6 20 7 19 8 17 9 21 10 20 11 19 12 18 13 17 14 18"/><path d="M0 0 1 25 2 26 3 18 4 17 5 17 6 17 7 16 8 14 9 16 10 14 11 13 12 13 13 12 14 12"/><path d="M0 0 1 5 2 3 3 9 4 7 5 11 6 10 7 12 8 11 9 12 10 12 11 11 12 11 13 12 14 13"/><path d="M0 0 1 50 2 27 3 19 4 15 5 14 6 12 7 11 8 14 9 14 10 13 11 13 12 13 13 13 14 13"/><path d="M0 0 1 10 2 7 3 18 4 14 5 13 6 12 7 11 8 10 9 16 10 17 11 18 12 17 13 19 14 20"/><path d="M0 0 1 2 2 28 3 23 4 27 5 23 6 20 7 21 8 18 9 18 10 18 11 18 12 18 13 17 14 17"/><path d="M0 0 1 3 2 14 3 18 4 20 5 17 6 16 7 15 8 16 9 15 10 16 11 17 12 16 13 17 14 16"/><path d="M0 0 1 2 2 1 3 12 4 9 5 12 6 15 7 13 8 14 9 15 10 14 11 15 12 15 13 14 14 15"/><path d="M0 0 1 0 2 1 3 2 4 3 5 3 6 3 7 3 8 2 9 3 10 4 11 5 12 5 13 5 14 6"/><path d="M0 0 1 0 2 0 3 0 4 0 5 1 6 1 7 1 8 1 9 1 10 1 11 1 12 1 13 1 14 1"/><path d="M0 0 1 0 2 4 3 4 4 4 5 3 6 3 7 2 8 2 9 2 10 2 11 2 12 2 13 1 14 2"/><path d="M0 0 1 1 2 2 3 2 4 2 5 1 6 1 7 1 8 1 9 1 10 1 11 1 12 1 13 1 14 1"/><path d="M0 0 1 0 2 0 3 0 4 0 5 2 6 3 7 3 8 3 9 3 10 3 11 4 12 3 13 3 14 3"/><path d="M0 0 1 0 2 0 3 0 4 0 5 1 6 1 7 1 8 1 9 1 10 1 11 1 12 1 13 1 14 1"/><path d="M0 0 1 0 2 0 3 0 4 2 5 2 6 3 7 2 8 2 9 2 10 2 11 2 12 2 13 2 14 2"/><path d="M0 0 1 1 2 1 3 1 4 0 5 0 6 0 7 0 8 0 9 1 10 1 11 1 12 1 13 1 14 1"/><path d="M0 0 1 0 2 1 3 0 4 1 5 1 6 1 7 3 8 3 9 3 10 3 11 3 12 3 13 3 14 4"/><path d="M0 0 1 0 2 0 3 0 4 0 5 1 6 3 7 2 8 2 9 2 10 2 11 2 12 2 13 2 14 1"/><path d="M0 0 1 0 2 1 3 1 4 1 5 1 6 1 7 1 8 1 9 1 10 1 11 1 12 1 13 1 14 1"/><path d="M0 0 1 0 2 0 3 0 4 0 5 0 6 0 7 1 8 1 9 2 10 3 11 3 12 3 13 3 14 4"/><path d="M0 0 1 8 2 6 3 5 4 4 5 3 6 3 7 3 8 2 9 2 10 2 11 3 12 4 13 5 14 6"/><path d="M0 0 1 2 2 1 3 1 4 1 5 1 6 0 7 0 8 1 9 1 10 1 11 2 12 4 13 6 14 8"/><path d="M0 0 1 18 2 13 3 11 4 10 5 9 6 9 7 8 8 8 9 7 10 7 11 7 12 6 13 6 14 6"/><path d="M0 0 1 0 2 0 3 0 4 1 5 2 6 5 7 8 8 9 9 10 10 11 11 11 12 11 13 10 14 10"/><path d="M0 0 1 1 2 1 3 1 4 1 5 1 6 1 7 1 8 1 9 2 10 2 11 2 12 3 13 5 14 6"/></g><g stroke="#555" stroke-opacity="0.0475" stroke-width="0.8"><path d="M0 0 1 6 2 5 3 4 4 6 5 6 6 5 7 6 8 11 9 10 10 10 11 10 12 12 13 12 14 13"/><path d="M0 0 1 2 2 1 3 2 4 2 5 5 6 5 7 9 8 11 9 11 10 10 11 10 12 10 13 9 14 10"/><path d="M0 0 1 1 2 2 3 8 4 9 5 7 6 6 7 5 8 11 9 10 10 9 11 12 12 12 13 11 14 11"/><path d="M0 0 1 3 2 4 3 3 4 15 5 18 6 16 7 14 8 12 9 13 10 12 11 14 12 16 13 17 14 16"/><path d="M0 0 1 19 2 13 3 24 4 18 5 17 6 14 7 14 8 16 9 15 10 15 11 15 12 15 13 15 14 17"/><path d="M0 0 1 1 2 29 3 19 4 17 5 18 6 17 7 20 8 18 9 17 10 17 11 19 12 17 13 18 14 18"/><path d="M0 0 1 1 2 3 3 4 4 7 5 12 6 12 7 10 8 10 9 11 10 12 11 12 12 11 13 13 14 13"/><path d="M0 0 1 0 2 10 3 14 4 14 5 12 6 10 7 11 8 11 9 10 10 9 11 10 12 9 13 10 14 9"/><path d="M0 0 1 4 2 3 3 2 4 7 5 5 6 9 7 11 8 12 9 12 10 12 11 12 12 11 13 13 14 12"/><path d="M0 0 1 0 2 1 3 1 4 8 5 7 6 16 7 21 8 23 9 22 10 20 11 18 12 17 13 16 14 15"/><path d="M0 0 1 0 2 10 3 7 4 8 5 6 6 5 7 5 8 5 9 4 10 10 11 10 12 11 13 11 14 14"/><path d="M0 0 1 13 2 8 3 6 4 5 5 4 6 16 7 14 8 19 9 23 10 23 11 24 12 22 13 20 14 20"/><path d="M0 0 1 0 2 0 3 0 4 0 5 0 6 0 7 0 8 0 9 1 10 1 11 2 12 2 13 2 14 2"/><path d="M0 0 1 14 2 8 3 5 4 4 5 3 6 3 7 4 8 4 9 3 10 3 11 3 12 3 13 4 14 4"/><path d="M0 0 1 0 2 2 3 3 4 3 5 2 6 2 7 3 8 4 9 3 10 3 11 4 12 4 13 4 14 4"/><path d="M0 0 1 1 2 2 3 1 4 1 5 1 6 1 7 1 8 1 9 1 10 1 11 1 12 1 13 1 14 1"/><path d="M0 0 1 0 2 0 3 1 4 1 5 2 6 1 7 2 8 3 9 3 10 3 11 3 12 3 13 3 14 3"/><path d="M0 0 1 11 2 7 3 15 4 12 5 10 6 9 7 10 8 11 9 11 10 10 11 9 12 8 13 8 14 8"/><path d="M0 0 1 0 2 0 3 1 4 1 5 1 6 1 7 1 8 1 9 1 10 1 11 1 12 1 13 1 14 1"/><path d="M0 0 1 1 2 3 3 2 4 2 5 4 6 5 7 8 8 9 9 9 10 8 11 9 12 8 13 8 14 7"/><path d="M0 0 1 1 2 1 3 1 4 1 5 2 6 1 7 1 8 1 9 1 10 1 11 1 12 1 13 1 14 1"/><path d="M0 0 1 1 2 2 3 2 4 1 5 1 6 1 7 2 8 4 9 4 10 4 11 4 12 4 13 3 14 3"/><path d="M0 0 1 10 2 7 3 5 4 4 5 4 6 5 7 6 8 7 9 9 10 8 11 7 12 7 13 6 14 7"/><path d="M0 0 1 0 2 0 3 0 4 0 5 0 6 0 7 0 8 0 9 1 10 2 11 3 12 5 13 7 14 9"/><path d="M0 0 1 1 2 1 3 1 4 1 5 1 6 1 7 2 8 2 9 3 10 3 11 3 12 3 13 4 14 4"/><path d="M0 0 1 13 2 8 3 8 4 9 5 10 6 9 7 8 8 7 9 7 10 7 11 6 12 6 13 6 14 5"/><path d="M0 0 1 0 2 0 3 2 4 1 5 2 6 2 7 2 8 2 9 3 10 3 11 3 12 3 13 3 14 3"/><path d="M0 0 1 18 2 17 3 13 4 10 5 9 6 8 7 7 8 7 9 7 10 6 11 5 12 6 13 6 14 6"/></g><g stroke="#555" stroke-opacity="0.05" stroke-width="0.8"><path d="M0 0 1 31 2 21 3 27 4 21 5 21 6 23 7 23 8 20 9 19 10 18 11 18 12 18 13 18 14 19"/><path d="M0 0 1 1 2 4 3 7 4 7 5 8 6 8 7 7 8 12 9 15 10 17 11 18 12 17 13 18 14 17"/><path d="M0 0 1 3 2 3 3 2 4 1 5 4 6 6 7 7 8 8 9 7 10 9 11 8 12 7 13 8 14 7"/><path d="M0 0 1 1 2 5 3 4 4 8 5 8 6 7 7 10 8 11 9 10 10 12 11 13 12 13 13 15 14 14"/><path d="M0 0 1 4 2 13 3 11 4 12 5 17 6 14 7 15 8 14 9 17 10 17 11 19 12 19 13 20 14 19"/><path d="M0 0 1 5 2 3 3 8 4 6 5 7 6 6 7 5 8 8 9 12 10 12 11 12 12 11 13 14 14 14"/><path d="M0 0 1 0 2 0 3 3 4 7 5 12 6 11 7 10 8 9 9 10 10 9 11 9 12 10 13 10 14 11"/><path d="M0 0 1 28 2 16 3 11 4 15 5 12 6 10 7 10 8 13 9 13 10 13 11 15 12 14 13 14 14 13"/><path d="M0 0 1 30 2 27 3 19 4 15 5 12 6 10 7 9 8 10 9 13 10 12 11 11 12 10 13 10 14 9"/><path d="M0 0 1 15 2 25 3 23 4 25 5 22 6 23 7 23 8 22 9 21 10 19 11 18 12 17 13 17 14 19"/><path d="M0 0 1 4 2 11 3 19 4 19 5 21 6 21 7 20 8 19 9 18 10 16 11 17 12 16 13 16 14 15"/><path d="M0 0 1 6 2 4 3 12 4 13 5 11 6 9 7 13 8 13 9 16 10 17 11 16 12 15 13 14 14 14"/><path d="M0 0 1 1 2 1 3 4 4 14 5 17 6 15 7 13 8 15 9 14 10 15 11 13 12 15 13 16 14 16"/><path d="M0 0 1 0 2 0 3 1 4 1 5 1 6 1 7 2 8 2 9 2 10 2 11 2 12 2 13 2 14 2"/><path d="M0 0 1 0 2 0 3 1 4 1 5 0 6 1 7 1 8 1 9 1 10 1 11 1 12 1 13 1 14 1"/><path d="M0 0 1 0 2 0 3 0 4 0 5 0 6 0 7 0 8 0 9 1 10 1 11 1 12 1 13 0 14 0"/><path d="M0 0 1 1 2 0 3 0 4 0 5 0 6 0 7 0 8 0 9 0 10 0 11 1 12 1 13 2 14 2"/><path d="M0 0 1 0 2 0 3 0 4 1 5 1 6 1 7 1 8 1 9 1 10 1 11 1 12 1 13 1 14 1"/><path d="M0 0 1 1 2 1 3 1 4 1 5 1 6 1 7 1 8 1 9 1 10 1 11 1 12 1 13 1 14 1"/><path d="M0 0 1 1 2 1 3 1 4 0 5 0 6 0 7 0 8 0 9 0 10 0 11 1 12 1 13 1 14 1"/><path d="M0 0 1 0 2 0 3 1 4 1 5 1 6 1 7 1 8 1 9 1 10 2 11 1 12 1 13 2 14 2"/><path d="M0 0 1 28 2 24 3 17 4 16 5 14 6 13 7 11 8 10 9 10 10 9 11 8 12 7 13 7 14 6"/><path d="M0 0 1 3 2 2 3 1 4 1 5 1 6 1 7 1 8 1 9 1 10 1 11 1 12 1 13 1 14 1"/><path d="M0 0 1 0 2 0 3 0 4 0 5 0 6 0 7 1 8 1 9 2 10 2 11 2 12 2 13 2 14 2"/><path d="M0 0 1 3 2 3 3 2 4 2 5 3 6 3 7 3 8 2 9 2 10 3 11 3 12 4 13 4 14 4"/><path d="M0 0 1 0 2 0 3 1 4 2 5 2 6 2 7 3 8 3 9 3 10 3 11 3 12 3 13 3 14 3"/><path d="M0 0 1 1 2 1 3 0 4 0 5 0 6 0 7 1 8 3 9 4 10 6 11 8 12 9 13 8 14 8"/><path d="M0 0 1 0 2 1 3 1 4 1 5 1 6 1 7 1 8 2 9 2 10 3 11 4 12 4 13 5 14 5"/><path d="M0 0 1 1 2 1 3 1 4 0 5 0 6 0 7 0 8 1 9 1 10 1 11 2 12 3 13 4 14 6"/><path d="M0 0 1 0 2 0 3 1 4 0 5 0 6 0 7 0 8 1 9 2 10 2 11 3 12 3 13 3 14 3"/><path d="M0 0 1 25 2 19 3 14 4 10 5 8 6 7 7 7 8 6 9 7 10 7 11 8 12 8 13 8 14 8"/><path d="M0 0 1 0 2 1 3 1 4 1 5 2 6 2 7 3 8 3 9 3 10 3 11 4 12 5 13 6 14 6"/><path d="M0 0 1 0 2 0 3 0 4 0 5 0 6 0 7 0 8 0 9 1 10 1 11 2 12 3 13 4 14 4"/><path d="M0 0 1 0 2 0 3 0 4 0 5 0 6 0 7 0 8 1 9 2 10 3 11 4 12 4 13 4 14 4"/><path d="M0 0 1 0 2 1 3 1 4 1 5 1 6 4 7 5 8 5 9 6 10 6 11 6 12 6 13 6 14 6"/><path d="M0 0 1 0 2 1 3 1 4 0 5 1 6 1 7 1 8 2 9 4 10 5 11 6 12 7 13 7 14 8"/></g><g stroke="#555" stroke-opacity="0.0525" stroke-width="0.8"><path d="M0 0 1 4 2 7 3 13 4 13 5 14 6 14 7 13 8 17 9 16 10 14 11 14 12 13 13 14 14 16"/><path d="M0 0 1 9 2 25 3 19 4 18 5 15 6 19 7 17 8 17 9 19 10 19 11 19 12 17 13 17 14 18"/><path d="M0 0 1 0 2 0 3 14 4 12 5 11 6 12 7 11 8 14 9 16 10 14 11 13 12 12 13 12 14 12"/><path d="M0 0 1 1 2 0 3 0 4 0 5 0 6 0 7 0 8 3 9 3 10 3 11 8 12 11 13 11 14 11"/><path d="M0 0 1 19 2 10 3 12 4 13 5 12 6 11 7 12 8 12 9 13 10 12 11 11 12 11 13 11 14 12"/><path d="M0 0 1 12 2 8 3 17 4 15 5 14 6 15 7 16 8 15 9 18 10 17 11 18 12 19 13 19 14 18"/><path d="M0 0 1 30 2 20 3 14 4 10 5 9 6 12 7 10 8 10 9 12 10 11 11 11 12 10 13 11 14 12"/><path d="M0 0 1 7 2 26 3 22 4 19 5 20 6 19 7 22 8 19 9 19 10 17 11 18 12 19 13 19 14 20"/><path d="M0 0 1 22 2 26 3 17 4 14 5 15 6 12 7 11 8 12 9 12 10 11 11 10 12 10 13 10 14 10"/><path d="M0 0 1 5 2 13 3 9 4 8 5 9 6 14 7 17 8 18 9 18 10 16 11 16 12 16 13 15 14 14"/><path d="M0 0 1 13 2 25 3 23 4 19 5 17 6 15 7 13 8 12 9 11 10 13 11 14 12 12 13 12 14 11"/><path d="M0 0 1 0 2 4 3 6 4 6 5 6 6 7 7 9 8 9 9 8 10 11 11 12 12 12 13 12 14 14"/><path d="M0 0 1 0 2 1 3 4 4 10 5 8 6 10 7 11 8 9 9 8 10 8 11 8 12 7 13 8 14 7"/><path d="M0 0 1 4 2 11 3 10 4 8 5 7 6 6 7 6 8 7 9 7 10 7 11 6 12 7 13 8 14 10"/><path d="M0 0 1 10 2 25 3 19 4 15 5 18 6 15 7 16 8 17 9 16 10 15 11 14 12 14 13 14 14 14"/><path d="M0 0 1 1 2 2 3 2 4 2 5 2 6 2 7 2 8 2 9 2 10 2 11 2 12 2 13 2 14 2"/><path d="M0 0 1 42 2 24 3 16 4 12 5 10 6 11 7 11 8 10 9 9 10 9 11 8 12 7 13 7 14 7"/><path d="M0 0 1 2 2 1 3 1 4 1 5 1 6 0 7 1 8 0 9 0 10 0 11 0 12 0 13 0 14 0"/><path d="M0 0 1 0 2 0 3 0 4 0 5 1 6 1 7 1 8 1 9 1 10 1 11 1 12 1 13 1 14 1"/><path d="M0 0 1 0 2 1 3 0 4 0 5 0 6 0 7 1 8 2 9 3 10 2 11 2 12 2 13 2 14 2"/><path d="M0 0 1 0 2 0 3 1 4 0 5 0 6 0 7 1 8 1 9 2 10 2 11 1 12 2 13 2 14 2"/><path d="M0 0 1 0 2 0 3 1 4 1 5 1 6 1 7 1 8 1 9 2 10 3 11 2 12 2 13 2 14 2"/><path d="M0 0 1 0 2 1 3 1 4 1 5 1 6 1 7 1 8 1 9 1 10 1 11 1 12 1 13 1 14 1"/><path d="M0 0 1 0 2 0 3 2 4 1 5 2 6 4 7 5 8 5 9 4 10 4 11 5 12 5 13 5 14 5"/><path d="M0 0 1 40 2 22 3 14 4 11 5 9 6 9 7 10 8 10 9 9 10 9 11 9 12 8 13 8 14 8"/><path d="M0 0 1 0 2 1 3 1 4 1 5 1 6 1 7 2 8 2 9 1 10 1 11 1 12 1 13 1 14 1"/><path d="M0 0 1 1 2 1 3 1 4 1 5 1 6 1 7 1 8 2 9 1 10 1 11 2 12 1 13 1 14 2"/><path d="M0 0 1 0 2 0 3 1 4 1 5 1 6 1 7 1 8 1 9 1 10 1 11 1 12 2 13 3 14 4"/><path d="M0 0 1 0 2 0 3 1 4 1 5 1 6 1 7 1 8 1 9 1 10 1 11 1 12 1 13 1 14 1"/><path d="M0 0 1 0 2 0 3 1 4 2 5 2 6 2 7 3 8 3 9 2 10 2 11 2 12 2 13 4 14 5"/><path d="M0 0 1 0 2 0 3 0 4 0 5 1 6 4 7 6 8 6 9 6 10 6 11 5 12 5 13 5 14 4"/><path d="M0 0 1 0 2 0 3 0 4 0 5 0 6 0 7 0 8 1 9 1 10 1 11 1 12 1 13 1 14 1"/><path d="M0 0 1 1 2 1 3 2 4 2 5 1 6 3 7 2 8 2 9 2 10 2 11 2 12 2 13 2 14 2"/><path d="M0 0 1 0 2 2 3 1 4 2 5 3 6 3 7 3 8 3 9 3 10 3 11 3 12 3 13 3 14 3"/><path d="M0 0 1 0 2 0 3 0 4 0 5 1 6 1 7 1 8 1 9 1 10 1 11 2 12 2 13 2 14 2"/><path d="M0 0 1 0 2 0 3 0 4 0 5 0 6 0 7 0 8 0 9 0 10 0 11 0 12 1 13 1 14 1"/><path d="M0 0 1 0 2 0 3 1 4 1 5 1 6 1 7 1 8 1 9 1 10 1 11 1 12 1 13 1 14 1"/><path d="M0 0 1 0 2 3 3 3 4 2 5 2 6 2 7 2 8 2 9 2 10 2 11 2 12 2 13 2 14 1"/><path d="M0 0 1 0 2 0 3 0 4 1 5 1 6 1 7 1 8 1 9 1 10 1 11 1 12 1 13 2 14 2"/></g><g stroke="#555" stroke-opacity="0.055" stroke-width="0.8"><path d="M0 0 1 0 2 20 3 15 4 12 5 13 6 14 7 12 8 14 9 14 10 14 11 13 12 14 13 13 14 14"/><path d="M0 0 1 0 2 2 3 5 4 4 5 4 6 4 7 4 8 10 9 13 10 11 11 11 12 12 13 13 14 12"/><path d="M0 0 1 9 2 6 3 14 4 13 5 11 6 11 7 15 8 14 9 14 10 12 11 13 12 14 13 14 14 13"/><path d="M0 0 1 9 2 10 3 9 4 7 5 6 6 6 7 6 8 7 9 11 10 11 11 10 12 12 13 12 14 13"/><path d="M0 0 1 3 2 10 3 9 4 6 5 7 6 9 7 10 8 9 9 8 10 9 11 8 12 8 13 7 14 8"/><path d="M0 0 1 16 2 19 3 20 4 15 5 18 6 19 7 18 8 16 9 17 10 16 11 16 12 16 13 15 14 17"/><path d="M0 0 1 50 2 25 3 23 4 25 5 20 6 20 7 19 8 19 9 18 10 18 11 17 12 16 13 18 14 18"/><path d="M0 0 1 1 2 30 3 25 4 22 5 18 6 15 7 13 8 14 9 13 10 14 11 13 12 12 13 13 14 13"/><path d="M0 0 1 17 2 25 3 21 4 19 5 19 6 16 7 14 8 13 9 13 10 13 11 15 12 15 13 16 14 17"/><path d="M0 0 1 16 2 10 3 7 4 13 5 12 6 14 7 16 8 17 9 15 10 15 11 16 12 16 13 15 14 14"/><path d="M0 0 1 5 2 3 3 5 4 5 5 7 6 10 7 11 8 10 9 10 10 9 11 8 12 8 13 8 14 8"/><path d="M0 0 1 0 2 0 3 0 4 1 5 0 6 0 7 0 8 0 9 0 10 0 11 0 12 1 13 1 14 1"/><path d="M0 0 1 0 2 0 3 0 4 0 5 0 6 1 7 1 8 1 9 1 10 1 11 1 12 1 13 1 14 1"/><path d="M0 0 1 1 2 1 3 1 4 1 5 3 6 3 7 3 8 3 9 2 10 2 11 2 12 2 13 2 14 2"/><path d="M0 0 1 1 2 0 3 1 4 0 5 0 6 0 7 1 8 0 9 1 10 2 11 2 12 2 13 3 14 3"/><path d="M0 0 1 7 2 8 3 6 4 5 5 5 6 6 7 6 8 7 9 7 10 6 11 6 12 5 13 6 14 7"/><path d="M0 0 1 5 2 3 3 3 4 5 5 6 6 7 7 6 8 6 9 5 10 5 11 5 12 4 13 4 14 4"/><path d="M0 0 1 3 2 2 3 2 4 1 5 1 6 1 7 1 8 1 9 1 10 1 11 1 12 1 13 1 14 2"/><path d="M0 0 1 1 2 7 3 7 4 6 5 5 6 4 7 4 8 3 9 3 10 3 11 3 12 3 13 3 14 3"/><path d="M0 0 1 6 2 3 3 4 4 3 5 3 6 3 7 2 8 2 9 2 10 2 11 4 12 5 13 5 14 5"/><path d="M0 0 1 0 2 0 3 0 4 1 5 4 6 4 7 5 8 5 9 5 10 4 11 4 12 4 13 4 14 4"/><path d="M0 0 1 9 2 8 3 7 4 7 5 7 6 6 7 5 8 5 9 4 10 4 11 3 12 3 13 4 14 4"/><path d="M0 0 1 0 2 0 3 0 4 0 5 1 6 1 7 1 8 1 9 1 10 1 11 1 12 1 13 1 14 1"/><path d="M0 0 1 0 2 1 3 2 4 2 5 2 6 2 7 2 8 2 9 2 10 2 11 2 12 2 13 2 14 1"/><path d="M0 0 1 0 2 0 3 0 4 0 5 1 6 2 7 2 8 2 9 2 10 2 11 2 12 2 13 2 14 2"/><path d="M0 0 1 22 2 15 3 10 4 10 5 9 6 10 7 9 8 9 9 9 10 8 11 8 12 7 13 7 14 7"/><path d="M0 0 1 0 2 0 3 2 4 2 5 2 6 3 7 4 8 4 9 5 10 6 11 7 12 8 13 9 14 10"/><path d="M0 0 1 1 2 1 3 1 4 1 5 1 6 2 7 3 8 5 9 5 10 7 11 7 12 7 13 8 14 8"/><path d="M0 0 1 0 2 0 3 1 4 1 5 1 6 1 7 1 8 1 9 1 10 1 11 1 12 1 13 1 14 1"/></g><g stroke="#555" stroke-opacity="0.0575" stroke-width="0.8"><path d="M0 0 1 0 2 33 3 28 4 21 5 22 6 19 7 20 8 21 9 21 10 19 11 20 12 20 13 20 14 20"/><path d="M0 0 1 33 2 17 3 16 4 18 5 14 6 16 7 17 8 15 9 16 10 15 11 16 12 16 13 15 14 14"/><path d="M0 0 1 0 2 0 3 25 4 25 5 27 6 25 7 24 8 25 9 23 10 23 11 22 12 21 13 20 14 20"/><path d="M0 0 1 50 2 33 3 22 4 18 5 21 6 21 7 20 8 17 9 17 10 18 11 16 12 17 13 17 14 18"/><path d="M0 0 1 11 2 7 3 5 4 5 5 4 6 6 7 10 8 9 9 8 10 8 11 7 12 7 13 6 14 6"/><path d="M0 0 1 8 2 10 3 11 4 12 5 11 6 10 7 10 8 10 9 10 10 9 11 9 12 11 13 11 14 10"/><path d="M0 0 1 35 2 29 3 29 4 27 5 27 6 27 7 25 8 24 9 22 10 22 11 21 12 19 13 19 14 18"/><path d="M0 0 1 5 2 3 3 17 4 22 5 23 6 20 7 17 8 18 9 18 10 19 11 18 12 16 13 17 14 18"/><path d="M0 0 1 15 2 7 3 12 4 12 5 11 6 14 7 15 8 15 9 15 10 14 11 15 12 17 13 17 14 18"/><path d="M0 0 1 7 2 5 3 15 4 13 5 11 6 10 7 13 8 12 9 11 10 10 11 10 12 9 13 9 14 13"/><path d="M0 0 1 17 2 12 3 8 4 7 5 6 6 5 7 6 8 5 9 8 10 8 11 7 12 9 13 9 14 8"/><path d="M0 0 1 31 2 28 3 19 4 14 5 12 6 12 7 16 8 14 9 16 10 17 11 18 12 16 13 17 14 16"/><path d="M0 0 1 0 2 0 3 0 4 0 5 1 6 1 7 1 8 2 9 2 10 2 11 2 12 2 13 2 14 2"/><path d="M0 0 1 14 2 7 3 5 4 4 5 3 6 3 7 3 8 2 9 2 10 3 11 3 12 3 13 3 14 3"/><path d="M0 0 1 1 2 1 3 4 4 3 5 2 6 2 7 3 8 2 9 2 10 3 11 3 12 3 13 3 14 3"/><path d="M0 0 1 6 2 4 3 3 4 2 5 2 6 2 7 2 8 2 9 2 10 3 11 3 12 4 13 4 14 5"/><path d="M0 0 1 0 2 0 3 1 4 1 5 1 6 1 7 1 8 1 9 1 10 1 11 1 12 2 13 2 14 2"/><path d="M0 0 1 0 2 0 3 3 4 3 5 3 6 2 7 2 8 2 9 2 10 2 11 2 12 2 13 2 14 2"/><path d="M0 0 1 8 2 14 3 10 4 7 5 6 6 5 7 5 8 4 9 4 10 3 11 3 12 3 13 3 14 4"/><path d="M0 0 1 1 2 0 3 0 4 0 5 0 6 0 7 0 8 0 9 0 10 0 11 0 12 0 13 0 14 1"/><path d="M0 0 1 3 2 2 3 1 4 1 5 1 6 1 7 1 8 1 9 1 10 2 11 4 12 3 13 3 14 3"/><path d="M0 0 1 0 2 0 3 0 4 1 5 1 6 1 7 1 8 1 9 1 10 1 11 1 12 1 13 1 14 1"/><path d="M0 0 1 0 2 0 3 1 4 1 5 1 6 2 7 2 8 1 9 3 10 4 11 5 12 5 13 5 14 5"/></g><g stroke="#555" stroke-opacity="0.06" stroke-width="0.8"><path d="M0 0 1 12 2 7 3 10 4 8 5 14 6 14 7 17 8 17 9 19 10 17 11 17 12 17 13 16 14 16"/><path d="M0 0 1 0 2 14 3 25 4 22 5 18 6 18 7 16 8 16 9 15 10 15 11 14 12 13 13 16 14 15"/><path d="M0 0 1 3 2 2 3 4 4 10 5 13 6 11 7 12 8 11 9 12 10 12 11 12 12 11 13 10 14 10"/><path d="M0 0 1 1 2 6 3 11 4 15 5 17 6 15 7 13 8 15 9 14 10 15 11 16 12 15 13 15 14 15"/><path d="M0 0 1 17 2 25 3 22 4 25 5 20 6 18 7 16 8 17 9 15 10 14 11 15 12 14 13 13 14 14"/><path d="M0 0 1 8 2 5 3 4 4 3 5 3 6 7 7 7 8 6 9 12 10 12 11 15 12 15 13 14 14 13"/><path d="M0 0 1 27 2 18 3 26 4 24 5 21 6 17 7 21 8 19 9 18 10 17 11 18 12 17 13 16 14 18"/><path d="M0 0 1 23 2 13 3 13 4 12 5 12 6 17 7 15 8 15 9 14 10 15 11 17 12 17 13 16 14 17"/><path d="M0 0 1 1 2 17 3 11 4 9 5 9 6 8 7 7 8 7 9 7 10 9 11 10 12 9 13 9 14 10"/><path d="M0 0 1 7 2 4 3 22 4 17 5 21 6 17 7 16 8 14 9 13 10 12 11 13 12 13 13 13 14 13"/><path d="M0 0 1 12 2 6 3 13 4 10 5 8 6 7 7 6 8 7 9 7 10 7 11 7 12 7 13 10 14 10"/><path d="M0 0 1 0 2 1 3 1 4 1 5 1 6 1 7 1 8 7 9 7 10 8 11 11 12 13 13 12 14 12"/><path d="M0 0 1 2 2 3 3 9 4 11 5 9 6 11 7 14 8 15 9 15 10 14 11 14 12 13 13 12 14 11"/><path d="M0 0 1 0 2 8 3 6 4 5 5 4 6 4 7 4 8 4 9 3 10 4 11 4 12 4 13 4 14 5"/><path d="M0 0 1 8 2 8 3 7 4 5 5 4 6 4 7 3 8 3 9 3 10 2 11 2 12 2 13 2 14 2"/><path d="M0 0 1 0 2 0 3 0 4 0 5 0 6 0 7 0 8 0 9 0 10 0 11 1 12 0 13 0 14 1"/><path d="M0 0 1 1 2 2 3 1 4 1 5 2 6 3 7 3 8 5 9 5 10 5 11 5 12 5 13 4 14 4"/><path d="M0 0 1 0 2 1 3 0 4 1 5 1 6 0 7 1 8 1 9 1 10 0 11 1 12 1 13 1 14 1"/><path d="M0 0 1 3 2 4 3 4 4 3 5 2 6 2 7 2 8 2 9 2 10 2 11 3 12 3 13 3 14 3"/><path d="M0 0 1 2 2 3 3 2 4 2 5 2 6 2 7 2 8 2 9 2 10 2 11 2 12 2 13 2 14 2"/><path d="M0 0 1 0 2 1 3 1 4 1 5 1 6 1 7 1 8 1 9 2 10 2 11 2 12 2 13 2 14 2"/><path d="M0 0 1 1 2 1 3 1 4 4 5 7 6 11 7 11 8 10 9 10 10 11 11 10 12 9 13 9 14 8"/><path d="M0 0 1 39 2 23 3 18 4 14 5 13 6 12 7 10 8 9 9 9 10 8 11 7 12 7 13 8 14 9"/><path d="M0 0 1 0 2 0 3 1 4 3 5 5 6 6 7 7 8 7 9 8 10 8 11 8 12 7 13 7 14 7"/><path d="M0 0 1 0 2 0 3 0 4 0 5 0 6 0 7 1 8 1 9 1 10 1 11 1 12 1 13 1 14 1"/><path d="M0 0 1 1 2 1 3 1 4 1 5 1 6 2 7 2 8 2 9 2 10 3 11 3 12 2 13 2 14 2"/></g><g stroke="#555" stroke-opacity="0.0625" stroke-width="0.8"><path d="M0 0 1 33 2 28 3 21 4 21 5 17 6 17 7 20 8 19 9 21 10 21 11 22 12 22 13 21 14 21"/><path d="M0 0 1 0 2 3 3 2 4 3 5 2 6 11 7 10 8 11 9 10 10 9 11 9 12 12 13 14 14 13"/><path d="M0 0 1 2 2 6 3 9 4 11 5 11 6 13 7 11 8 13 9 14 10 15 11 16 12 15 13 14 14 13"/><path d="M0 0 1 5 2 6 3 14 4 11 5 11 6 9 7 12 8 14 9 14 10 16 11 15 12 14 13 13 14 13"/><path d="M0 0 1 9 2 15 3 11 4 9 5 11 6 9 7 8 8 7 9 6 10 6 11 7 12 7 13 8 14 8"/><path d="M0 0 1 0 2 11 3 11 4 10 5 18 6 21 7 20 8 20 9 21 10 20 11 20 12 18 13 19 14 20"/><path d="M0 0 1 1 2 13 3 22 4 22 5 23 6 20 7 18 8 18 9 17 10 16 11 16 12 15 13 15 14 14"/><path d="M0 0 1 5 2 26 3 22 4 26 5 24 6 25 7 22 8 22 9 20 10 21 11 19 12 18 13 17 14 17"/><path d="M0 0 1 1 2 19 3 17 4 14 5 15 6 13 7 12 8 14 9 15 10 14 11 13 12 12 13 13 14 13"/><path d="M0 0 1 15 2 8 3 5 4 14 5 16 6 18 7 18 8 16 9 17 10 18 11 19 12 19 13 20 14 18"/><path d="M0 0 1 1 2 12 3 12 4 12 5 10 6 10 7 10 8 10 9 12 10 10 11 10 12 9 13 10 14 10"/><path d="M0 0 1 1 2 30 3 21 4 19 5 23 6 19 7 20 8 20 9 20 10 21 11 21 12 21 13 19 14 18"/><path d="M0 0 1 23 2 15 3 11 4 22 5 23 6 22 7 20 8 19 9 18 10 21 11 23 12 21 13 21 14 19"/><path d="M0 0 1 0 2 0 3 6 4 20 5 24 6 25 7 23 8 22 9 23 10 22 11 20 12 21 13 21 14 21"/><path d="M0 0 1 0 2 18 3 26 4 20 5 16 6 18 7 19 8 18 9 19 10 19 11 19 12 19 13 20 14 20"/><path d="M0 0 1 0 2 9 3 23 4 25 5 20 6 17 7 18 8 19 9 19 10 19 11 19 12 20 13 19 14 19"/><path d="M0 0 1 16 2 10 3 14 4 20 5 16 6 13 7 15 8 15 9 14 10 15 11 15 12 14 13 13 14 13"/><path d="M0 0 1 1 2 13 3 13 4 12 5 15 6 14 7 14 8 13 9 12 10 11 11 10 12 10 13 12 14 11"/><path d="M0 0 1 50 2 33 3 33 4 30 5 25 6 21 7 23 8 22 9 20 10 19 11 18 12 20 13 18 14 17"/><path d="M0 0 1 25 2 13 3 9 4 12 5 12 6 13 7 12 8 11 9 10 10 11 11 13 12 12 13 12 14 12"/><path d="M0 0 1 6 2 10 3 15 4 15 5 14 6 19 7 21 8 21 9 18 10 18 11 18 12 16 13 16 14 16"/><path d="M0 0 1 4 2 7 3 5 4 5 5 4 6 10 7 9 8 8 9 8 10 8 11 7 12 7 13 9 14 10"/><path d="M0 0 1 1 2 0 3 0 4 0 5 0 6 0 7 2 8 3 9 2 10 2 11 2 12 2 13 2 14 2"/><path d="M0 0 1 2 2 1 3 1 4 1 5 2 6 3 7 3 8 4 9 3 10 4 11 3 12 4 13 4 14 3"/><path d="M0 0 1 0 2 0 3 0 4 0 5 0 6 0 7 0 8 0 9 0 10 1 11 1 12 1 13 1 14 1"/><path d="M0 0 1 0 2 0 3 0 4 0 5 0 6 0 7 0 8 0 9 0 10 1 11 1 12 1 13 1 14 1"/><path d="M0 0 1 0 2 0 3 1 4 1 5 1 6 1 7 1 8 1 9 1 10 1 11 1 12 1 13 2 14 2"/><path d="M0 0 1 9 2 5 3 4 4 3 5 2 6 2 7 2 8 2 9 2 10 2 11 2 12 2 13 3 14 3"/><path d="M0 0 1 1 2 1 3 1 4 1 5 0 6 0 7 0 8 0 9 0 10 0 11 0 12 0 13 1 14 1"/></g><g stroke="#555" stroke-opacity="0.065" stroke-width="0.8"><path d="M0 0 1 30 2 16 3 13 4 11 5 9 6 8 7 7 8 11 9 15 10 15 11 17 12 16 13 16 14 15"/><path d="M0 0 1 23 2 20 3 20 4 16 5 18 6 18 7 20 8 18 9 18 10 19 11 20 12 20 13 18 14 18"/><path d="M0 0 1 31 2 21 3 27 4 21 5 21 6 23 7 23 8 20 9 20 10 20 11 18 12 16 13 15 14 15"/><path d="M0 0 1 10 2 5 3 19 4 15 5 13 6 13 7 12 8 14 9 15 10 15 11 16 12 15 13 14 14 15"/><path d="M0 0 1 0 2 33 3 25 4 24 5 22 6 21 7 18 8 16 9 17 10 17 11 15 12 15 13 15 14 14"/><path d="M0 0 1 2 2 7 3 7 4 6 5 5 6 5 7 14 8 13 9 12 10 16 11 14 12 13 13 13 14 15"/><path d="M0 0 1 1 2 3 3 19 4 17 5 15 6 21 7 19 8 18 9 17 10 20 11 19 12 18 13 17 14 16"/><path d="M0 0 1 3 2 2 3 1 4 1 5 2 6 2 7 2 8 2 9 2 10 2 11 3 12 4 13 5 14 5"/><path d="M0 0 1 0 2 1 3 1 4 1 5 1 6 1 7 1 8 1 9 1 10 1 11 1 12 1 13 1 14 1"/><path d="M0 0 1 2 2 1 3 1 4 1 5 1 6 1 7 1 8 1 9 1 10 1 11 1 12 2 13 2 14 2"/><path d="M0 0 1 2 2 2 3 1 4 1 5 1 6 1 7 1 8 1 9 1 10 1 11 1 12 1 13 1 14 1"/><path d="M0 0 1 0 2 4 3 6 4 6 5 5 6 4 7 4 8 3 9 4 10 4 11 4 12 4 13 5 14 6"/><path d="M0 0 1 0 2 0 3 1 4 1 5 1 6 1 7 1 8 1 9 1 10 2 11 3 12 4 13 4 14 4"/><path d="M0 0 1 1 2 1 3 1 4 2 5 1 6 1 7 1 8 1 9 1 10 1 11 1 12 2 13 2 14 2"/><path d="M0 0 1 1 2 0 3 0 4 0 5 0 6 0 7 0 8 0 9 0 10 0 11 0 12 0 13 0 14 1"/><path d="M0 0 1 5 2 2 3 2 4 1 5 1 6 1 7 1 8 1 9 1 10 1 11 1 12 1 13 1 14 1"/><path d="M0 0 1 50 2 31 3 24 4 19 5 16 6 13 7 12 8 11 9 10 10 9 11 8 12 8 13 8 14 8"/><path d="M0 0 1 0 2 1 3 0 4 0 5 1 6 1 7 1 8 1 9 1 10 1 11 1 12 1 13 1 14 1"/><path d="M0 0 1 0 2 0 3 0 4 1 5 1 6 1 7 1 8 1 9 1 10 1 11 1 12 1 13 2 14 3"/><path d="M0 0 1 0 2 0 3 1 4 1 5 1 6 1 7 1 8 1 9 1 10 1 11 1 12 1 13 0 14 0"/></g><g stroke="#555" stroke-opacity="0.0675" stroke-width="0.8"><path d="M0 0 1 5 2 3 3 5 4 4 5 5 6 6 7 5 8 4 9 4 10 3 11 3 12 3 13 3 14 3"/><path d="M0 0 1 0 2 0 3 0 4 1 5 1 6 1 7 1 8 2 9 2 10 2 11 2 12 2 13 2 14 2"/><path d="M0 0 1 0 2 1 3 1 4 1 5 1 6 1 7 1 8 1 9 1 10 1 11 1 12 1 13 1 14 1"/><path d="M0 0 1 11 2 10 3 10 4 9 5 9 6 10 7 9 8 9 9 8 10 8 11 7 12 8 13 10 14 9"/><path d="M0 0 1 0 2 0 3 2 4 1 5 2 6 1 7 1 8 1 9 1 10 2 11 2 12 2 13 2 14 2"/><path d="M0 0 1 0 2 0 3 0 4 0 5 0 6 0 7 0 8 0 9 0 10 1 11 1 12 1 13 0 14 0"/><path d="M0 0 1 1 2 1 3 1 4 1 5 2 6 3 7 2 8 2 9 2 10 2 11 2 12 2 13 2 14 2"/><path d="M0 0 1 0 2 0 3 0 4 1 5 2 6 2 7 1 8 1 9 1 10 1 11 1 12 1 13 1 14 1"/><path d="M0 0 1 1 2 1 3 1 4 1 5 1 6 1 7 1 8 1 9 1 10 1 11 1 12 1 13 2 14 2"/><path d="M0 0 1 31 2 16 3 14 4 11 5 9 6 7 7 7 8 6 9 5 10 5 11 5 12 4 13 4 14 4"/><path d="M0 0 1 0 2 0 3 0 4 0 5 1 6 2 7 2 8 2 9 2 10 1 11 1 12 1 13 2 14 2"/><path d="M0 0 1 2 2 1 3 3 4 3 5 4 6 5 7 6 8 6 9 7 10 7 11 6 12 6 13 6 14 6"/></g><g stroke="#555" stroke-opacity="0.07" stroke-width="0.8"><path d="M0 0 1 0 2 1 3 3 4 5 5 5 6 5 7 5 8 4 9 4 10 4 11 4 12 4 13 4 14 4"/><path d="M0 0 1 2 2 2 3 2 4 2 5 2 6 4 7 4 8 4 9 4 10 4 11 3 12 3 13 3 14 3"/><path d="M0 0 1 0 2 0 3 1 4 1 5 0 6 0 7 1 8 1 9 1 10 1 11 1 12 1 13 1 14 1"/><path d="M0 0 1 1 2 2 3 3 4 3 5 3 6 2 7 2 8 2 9 2 10 2 11 3 12 4 13 5 14 6"/><path d="M0 0 1 0 2 0 3 0 4 0 5 0 6 1 7 2 8 5 9 5 10 5 11 5 12 5 13 4 14 4"/><path d="M0 0 1 1 2 0 3 0 4 0 5 0 6 0 7 1 8 1 9 1 10 2 11 1 12 2 13 2 14 3"/><path d="M0 0 1 0 2 0 3 2 4 2 5 2 6 2 7 2 8 2 9 2 10 2 11 2 12 2 13 2 14 2"/><path d="M0 0 1 0 2 0 3 1 4 1 5 2 6 2 7 2 8 2 9 2 10 2 11 2 12 2 13 2 14 2"/><path d="M0 0 1 2 2 1 3 1 4 1 5 1 6 2 7 3 8 3 9 3 10 2 11 2 12 2 13 2 14 3"/><path d="M0 0 1 0 2 1 3 1 4 1 5 1 6 1 7 1 8 1 9 1 10 1 11 1 12 1 13 1 14 1"/><path d="M0 0 1 3 2 2 3 1 4 1 5 1 6 2 7 3 8 4 9 4 10 4 11 3 12 3 13 3 14 3"/><path d="M0 0 1 48 2 28 3 21 4 17 5 15 6 13 7 11 8 10 9 9 10 8 11 7 12 7 13 7 14 7"/><path d="M0 0 1 0 2 1 3 2 4 2 5 2 6 2 7 2 8 1 9 1 10 1 11 1 12 2 13 2 14 2"/><path d="M0 0 1 1 2 1 3 1 4 2 5 2 6 4 7 5 8 5 9 4 10 4 11 5 12 8 13 9 14 8"/><path d="M0 0 1 2 2 2 3 1 4 1 5 1 6 1 7 1 8 1 9 1 10 1 11 1 12 1 13 1 14 2"/><path d="M0 0 1 0 2 1 3 1 4 1 5 1 6 1 7 1 8 1 9 1 10 1 11 1 12 1 13 1 14 1"/><path d="M0 0 1 1 2 1 3 1 4 1 5 1 6 1 7 1 8 1 9 1 10 1 11 1 12 1 13 1 14 1"/><path d="M0 0 1 0 2 0 3 0 4 0 5 0 6 0 7 0 8 0 9 0 10 0 11 0 12 0 13 0 14 0"/><path d="M0 0 1 0 2 0 3 0 4 0 5 0 6 1 7 2 8 2 9 2 10 2 11 2 12 2 13 2 14 2"/></g><g stroke="#555" stroke-opacity="0.0725" stroke-width="0.8"><path d="M0 0 1 0 2 0 3 0 4 0 5 0 6 0 7 1 8 1 9 1 10 1 11 1 12 1 13 1 14 1"/><path d="M0 0 1 1 2 0 3 0 4 0 5 0 6 1 7 1 8 1 9 1 10 1 11 1 12 1 13 2 14 2"/><path d="M0 0 1 22 2 12 3 9 4 8 5 6 6 6 7 5 8 5 9 4 10 4 11 4 12 3 13 3 14 3"/><path d="M0 0 1 0 2 0 3 0 4 0 5 0 6 1 7 1 8 1 9 1 10 1 11 1 12 1 13 1 14 1"/><path d="M0 0 1 0 2 0 3 1 4 1 5 1 6 1 7 1 8 1 9 1 10 1 11 1 12 2 13 2 14 2"/><path d="M0 0 1 31 2 18 3 16 4 15 5 14 6 13 7 12 8 11 9 9 10 8 11 8 12 7 13 8 14 7"/><path d="M0 0 1 1 2 1 3 3 4 3 5 3 6 2 7 3 8 3 9 2 10 2 11 2 12 2 13 2 14 2"/><path d="M0 0 1 0 2 2 3 2 4 2 5 2 6 1 7 2 8 2 9 2 10 2 11 2 12 1 13 1 14 1"/><path d="M0 0 1 1 2 2 3 3 4 3 5 3 6 4 7 5 8 5 9 5 10 5 11 4 12 4 13 4 14 4"/><path d="M0 0 1 1 2 1 3 0 4 0 5 0 6 0 7 0 8 0 9 0 10 0 11 0 12 0 13 0 14 0"/><path d="M0 0 1 24 2 13 3 10 4 8 5 7 6 6 7 5 8 5 9 4 10 4 11 6 12 6 13 7 14 9"/><path d="M0 0 1 2 2 1 3 2 4 2 5 2 6 3 7 3 8 4 9 4 10 3 11 3 12 3 13 4 14 4"/><path d="M0 0 1 0 2 0 3 0 4 0 5 0 6 0 7 0 8 1 9 1 10 1 11 1 12 1 13 1 14 1"/><path d="M0 0 1 0 2 0 3 1 4 0 5 1 6 1 7 1 8 1 9 1 10 1 11 1 12 1 13 1 14 2"/><path d="M0 0 1 36 2 21 3 15 4 12 5 10 6 8 7 7 8 6 9 6 10 6 11 6 12 5 13 5 14 5"/><path d="M0 0 1 0 2 1 3 1 4 1 5 1 6 1 7 1 8 0 9 0 10 0 11 0 12 0 13 0 14 0"/><path d="M0 0 1 1 2 1 3 1 4 2 5 2 6 2 7 2 8 3 9 4 10 4 11 4 12 4 13 4 14 4"/><path d="M0 0 1 35 2 23 3 17 4 13 5 10 6 11 7 10 8 9 9 10 10 9 11 9 12 10 13 10 14 9"/></g><g stroke="#555" stroke-opacity="0.075" stroke-width="0.8"><path d="M0 0 1 3 2 2 3 2 4 3 5 3 6 3 7 3 8 3 9 5 10 5 11 6 12 6 13 5 14 5"/><path d="M0 0 1 0 2 1 3 1 4 1 5 1 6 1 7 1 8 1 9 1 10 2 11 2 12 2 13 2 14 2"/><path d="M0 0 1 1 2 2 3 1 4 1 5 1 6 1 7 1 8 1 9 2 10 1 11 1 12 1 13 1 14 1"/><path d="M0 0 1 1 2 0 3 0 4 1 5 2 6 2 7 2 8 3 9 3 10 3 11 3 12 2 13 2 14 2"/><path d="M0 0 1 1 2 1 3 1 4 2 5 2 6 3 7 2 8 2 9 2 10 3 11 2 12 3 13 2 14 2"/><path d="M0 0 1 28 2 17 3 13 4 11 5 10 6 8 7 7 8 6 9 6 10 5 11 5 12 5 13 4 14 4"/><path d="M0 0 1 1 2 1 3 1 4 1 5 1 6 1 7 1 8 1 9 3 10 5 11 10 12 11 13 12 14 13"/><path d="M0 0 1 0 2 3 3 2 4 1 5 2 6 2 7 2 8 2 9 1 10 1 11 3 12 4 13 5 14 6"/><path d="M0 0 1 1 2 1 3 2 4 2 5 2 6 2 7 1 8 1 9 1 10 1 11 1 12 2 13 5 14 7"/><path d="M0 0 1 0 2 2 3 1 4 1 5 1 6 2 7 2 8 2 9 2 10 3 11 2 12 2 13 2 14 2"/><path d="M0 0 1 0 2 1 3 1 4 1 5 1 6 1 7 1 8 1 9 1 10 1 11 2 12 2 13 2 14 2"/></g><g stroke="#555" stroke-opacity="0.0775" stroke-width="0.8"><path d="M0 0 1 20 2 12 3 17 4 17 5 13 6 12 7 10 8 9 9 8 10 8 11 7 12 7 13 6 14 6"/><path d="M0 0 1 0 2 0 3 0 4 0 5 1 6 0 7 1 8 1 9 1 10 1 11 1 12 1 13 1 14 1"/><path d="M0 0 1 3 2 2 3 1 4 1 5 2 6 2 7 2 8 2 9 2 10 2 11 2 12 2 13 2 14 2"/><path d="M0 0 1 0 2 0 3 0 4 0 5 0 6 0 7 0 8 0 9 1 10 1 11 1 12 1 13 1 14 1"/><path d="M0 0 1 2 2 2 3 2 4 2 5 2 6 1 7 2 8 2 9 2 10 3 11 3 12 3 13 3 14 4"/><path d="M0 0 1 1 2 1 3 1 4 2 5 2 6 1 7 1 8 1 9 1 10 1 11 2 12 2 13 2 14 2"/><path d="M0 0 1 0 2 1 3 0 4 0 5 1 6 1 7 1 8 2 9 1 10 1 11 1 12 1 13 1 14 2"/><path d="M0 0 1 0 2 0 3 0 4 1 5 1 6 1 7 1 8 1 9 1 10 1 11 1 12 2 13 2 14 2"/><path d="M0 0 1 1 2 0 3 1 4 1 5 1 6 1 7 1 8 1 9 1 10 2 11 2 12 2 13 2 14 2"/><path d="M0 0 1 0 2 0 3 0 4 1 5 1 6 0 7 0 8 0 9 0 10 0 11 1 12 1 13 2 14 3"/><path d="M0 0 1 0 2 1 3 2 4 3 5 3 6 3 7 3 8 3 9 3 10 3 11 3 12 3 13 3 14 3"/><path d="M0 0 1 41 2 25 3 17 4 13 5 12 6 10 7 9 8 8 9 7 10 6 11 6 12 5 13 5 14 5"/></g><g stroke="#555" stroke-opacity="0.08" stroke-width="0.8"><path d="M0 0 1 0 2 2 3 1 4 1 5 2 6 2 7 1 8 1 9 2 10 2 11 2 12 2 13 2 14 4"/><path d="M0 0 1 13 2 7 3 7 4 7 5 7 6 6 7 6 8 5 9 4 10 4 11 4 12 4 13 3 14 3"/><path d="M0 0 1 1 2 1 3 3 4 2 5 2 6 2 7 1 8 2 9 2 10 3 11 3 12 3 13 3 14 3"/><path d="M0 0 1 0 2 0 3 0 4 0 5 0 6 1 7 1 8 1 9 1 10 1 11 1 12 1 13 1 14 1"/><path d="M0 0 1 0 2 0 3 1 4 5 5 4 6 6 7 6 8 5 9 4 10 4 11 4 12 4 13 4 14 4"/><path d="M0 0 1 0 2 3 3 2 4 2 5 3 6 3 7 2 8 2 9 3 10 2 11 2 12 3 13 3 14 3"/><path d="M0 0 1 1 2 1 3 1 4 1 5 1 6 1 7 1 8 1 9 1 10 2 11 5 12 4 13 5 14 7"/><path d="M0 0 1 0 2 1 3 1 4 1 5 0 6 0 7 0 8 1 9 0 10 1 11 1 12 2 13 2 14 2"/></g><g stroke="#555" stroke-opacity="0.0825" stroke-width="0.8"><path d="M0 0 1 12 2 7 3 6 4 4 5 4 6 3 7 4 8 4 9 3 10 3 11 3 12 3 13 3 14 3"/><path d="M0 0 1 2 2 3 3 4 4 5 5 4 6 4 7 4 8 4 9 3 10 5 11 6 12 6 13 6 14 6"/><path d="M0 0 1 0 2 5 3 4 4 3 5 3 6 3 7 6 8 8 9 10 10 9 11 8 12 8 13 7 14 7"/><path d="M0 0 1 6 2 3 3 2 4 2 5 2 6 2 7 3 8 3 9 3 10 3 11 4 12 4 13 5 14 5"/><path d="M0 0 1 1 2 6 3 4 4 4 5 4 6 3 7 3 8 3 9 4 10 5 11 4 12 4 13 4 14 4"/><path d="M0 0 1 0 2 0 3 1 4 1 5 1 6 1 7 1 8 1 9 2 10 2 11 3 12 3 13 3 14 3"/></g><g stroke="#555" stroke-opacity="0.0875" stroke-width="0.8"><path d="M0 0 1 17 2 11 3 9 4 7 5 6 6 5 7 5 8 6 9 5 10 5 11 5 12 5 13 5 14 5"/><path d="M0 0 1 44 2 23 3 16 4 13 5 13 6 11 7 10 8 9 9 8 10 8 11 8 12 7 13 7 14 6"/><path d="M0 0 1 2 2 3 3 4 4 5 5 5 6 11 7 13 8 14 9 15 10 13 11 14 12 12 13 12 14 12"/><path d="M0 0 1 3 2 3 3 3 4 3 5 3 6 2 7 3 8 4 9 4 10 6 11 8 12 10 13 11 14 12"/><path d="M0 0 1 1 2 1 3 1 4 1 5 1 6 1 7 1 8 1 9 2 10 4 11 6 12 8 13 9 14 10"/><path d="M0 0 1 6 2 6 3 5 4 5 5 4 6 3 7 4 8 5 9 5 10 5 11 5 12 5 13 4 14 4"/><path d="M0 0 1 23 2 23 3 16 4 14 5 11 6 13 7 14 8 14 9 13 10 13 11 12 12 12 13 11 14 11"/></g><g stroke="#555" stroke-opacity="0.09" stroke-width="0.8"><path d="M0 0 1 2 2 1 3 3 4 4 5 7 6 7 7 7 8 6 9 8 10 7 11 7 12 6 13 6 14 6"/><path d="M0 0 1 1 2 2 3 1 4 2 5 1 6 2 7 3 8 5 9 4 10 7 11 9 12 9 13 11 14 12"/><path d="M0 0 1 2 2 1 3 6 4 8 5 7 6 6 7 7 8 7 9 7 10 6 11 6 12 6 13 6 14 5"/><path d="M0 0 1 0 2 4 3 8 4 8 5 8 6 7 7 6 8 6 9 5 10 5 11 5 12 4 13 4 14 4"/><path d="M0 0 1 1 2 1 3 1 4 1 5 1 6 1 7 2 8 3 9 3 10 3 11 4 12 4 13 4 14 4"/></g><g stroke="#555" stroke-opacity="0.0925" stroke-width="0.8"><path d="M0 0 1 25 2 25 3 21 4 18 5 16 6 14 7 12 8 10 9 10 10 13 11 13 12 14 13 13 14 12"/><path d="M0 0 1 50 2 32 3 23 4 19 5 15 6 13 7 12 8 11 9 9 10 9 11 8 12 7 13 7 14 6"/><path d="M0 0 1 1 2 2 3 1 4 1 5 1 6 2 7 3 8 3 9 3 10 3 11 3 12 3 13 4 14 4"/><path d="M0 0 1 14 2 13 3 9 4 7 5 7 6 6 7 8 8 8 9 9 10 9 11 8 12 8 13 8 14 7"/><path d="M0 0 1 0 2 8 3 8 4 6 5 5 6 4 7 4 8 7 9 8 10 8 11 10 12 9 13 9 14 8"/><path d="M0 0 1 0 2 1 3 1 4 2 5 2 6 2 7 2 8 2 9 2 10 2 11 3 12 4 13 4 14 4"/><path d="M0 0 1 3 2 2 3 2 4 2 5 1 6 1 7 1 8 1 9 1 10 1 11 1 12 1 13 2 14 2"/></g><g stroke="#555" stroke-opacity="0.095" stroke-width="0.8"><path d="M0 0 1 0 2 8 3 5 4 4 5 4 6 3 7 4 8 4 9 3 10 3 11 3 12 4 13 4 14 6"/><path d="M0 0 1 6 2 15 3 20 4 19 5 18 6 16 7 15 8 13 9 12 10 11 11 10 12 9 13 9 14 8"/><path d="M0 0 1 13 2 8 3 6 4 7 5 14 6 12 7 10 8 9 9 8 10 8 11 10 12 9 13 8 14 8"/><path d="M0 0 1 0 2 0 3 0 4 0 5 1 6 2 7 3 8 5 9 5 10 5 11 5 12 6 13 8 14 10"/><path d="M0 0 1 0 2 0 3 0 4 0 5 2 6 2 7 2 8 3 9 3 10 4 11 4 12 4 13 4 14 4"/><path d="M0 0 1 5 2 4 3 3 4 2 5 3 6 3 7 3 8 3 9 3 10 2 11 3 12 3 13 3 14 3"/><path d="M0 0 1 39 2 20 3 14 4 10 5 9 6 8 7 8 8 7 9 8 10 8 11 8 12 8 13 8 14 8"/></g><g stroke="#555" stroke-opacity="0.0975" stroke-width="0.8"><path d="M0 0 1 9 2 7 3 16 4 13 5 11 6 11 7 12 8 10 9 10 10 10 11 10 12 9 13 9 14 9"/><path d="M0 0 1 1 2 2 3 1 4 2 5 4 6 6 7 5 8 5 9 4 10 4 11 4 12 5 13 5 14 5"/><path d="M0 0 1 50 2 33 3 23 4 17 5 14 6 12 7 13 8 12 9 11 10 9 11 9 12 8 13 7 14 8"/><path d="M0 0 1 14 2 25 3 17 4 14 5 13 6 13 7 12 8 11 9 11 10 10 11 9 12 9 13 8 14 7"/><path d="M0 0 1 22 2 14 3 10 4 9 5 7 6 6 7 5 8 5 9 6 10 7 11 7 12 8 13 8 14 8"/><path d="M0 0 1 3 2 4 3 3 4 3 5 7 6 6 7 5 8 5 9 4 10 5 11 6 12 7 13 7 14 7"/></g><g stroke="#555" stroke-opacity="0.1025" stroke-width="0.8"><path d="M0 0 1 0 2 1 3 1 4 1 5 1 6 3 7 5 8 6 9 6 10 5 11 5 12 5 13 5 14 5"/><path d="M0 0 1 2 2 6 3 5 4 4 5 3 6 3 7 2 8 2 9 2 10 2 11 2 12 3 13 4 14 5"/><path d="M0 0 1 0 2 4 3 4 4 4 5 3 6 3 7 4 8 5 9 7 10 9 11 8 12 8 13 8 14 10"/><path d="M0 0 1 0 2 1 3 1 4 2 5 3 6 3 7 3 8 4 9 4 10 4 11 4 12 4 13 4 14 4"/><path d="M0 0 1 2 2 3 3 5 4 5 5 6 6 6 7 10 8 9 9 9 10 10 11 10 12 10 13 10 14 10"/><path d="M0 0 1 0 2 0 3 0 4 1 5 2 6 1 7 2 8 2 9 3 10 4 11 4 12 4 13 4 14 5"/></g><g stroke="#555" stroke-opacity="0.105" stroke-width="0.8"><path d="M0 0 1 1 2 3 3 2 4 5 5 5 6 5 7 5 8 5 9 4 10 4 11 4 12 4 13 4 14 3"/><path d="M0 0 1 2 2 5 3 6 4 5 5 4 6 4 7 5 8 4 9 5 10 9 11 10 12 9 13 10 14 10"/><path d="M0 0 1 5 2 12 3 8 4 14 5 16 6 16 7 16 8 14 9 12 10 12 11 11 12 11 13 10 14 9"/><path d="M0 0 1 13 2 7 3 5 4 4 5 3 6 4 7 3 8 3 9 3 10 3 11 2 12 2 13 2 14 2"/><path d="M0 0 1 4 2 4 3 2 4 2 5 2 6 3 7 4 8 4 9 5 10 7 11 10 12 12 13 13 14 13"/><path d="M0 0 1 0 2 0 3 0 4 0 5 0 6 1 7 1 8 1 9 2 10 4 11 4 12 4 13 4 14 5"/></g><g stroke="#555" stroke-opacity="0.1075" stroke-width="0.8"><path d="M0 0 1 0 2 0 3 7 4 9 5 7 6 6 7 7 8 9 9 9 10 10 11 10 12 10 13 9 14 8"/><path d="M0 0 1 2 2 3 3 2 4 2 5 5 6 5 7 4 8 4 9 3 10 3 11 3 12 3 13 3 14 3"/><path d="M0 0 1 0 2 0 3 0 4 0 5 1 6 1 7 1 8 1 9 1 10 1 11 1 12 1 13 1 14 1"/></g><g stroke="#555" stroke-opacity="0.11" stroke-width="0.8"><path d="M0 0 1 19 2 13 3 10 4 14 5 19 6 21 7 21 8 21 9 19 10 18 11 17 12 16 13 16 14 15"/><path d="M0 0 1 0 2 1 3 1 4 1 5 2 6 6 7 7 8 8 9 8 10 8 11 8 12 8 13 8 14 7"/><path d="M0 0 1 8 2 13 3 12 4 10 5 10 6 8 7 7 8 6 9 6 10 5 11 5 12 5 13 4 14 4"/><path d="M0 0 1 0 2 0 3 2 4 2 5 5 6 4 7 4 8 3 9 3 10 5 11 6 12 7 13 7 14 7"/><path d="M0 0 1 6 2 12 3 14 4 14 5 15 6 14 7 13 8 12 9 11 10 10 11 10 12 9 13 8 14 8"/><path d="M0 0 1 5 2 2 3 3 4 2 5 2 6 2 7 2 8 2 9 2 10 2 11 3 12 3 13 3 14 3"/></g><g stroke="#555" stroke-opacity="0.1125" stroke-width="0.8"><path d="M0 0 1 0 2 0 3 0 4 0 5 0 6 0 7 1 8 2 9 2 10 2 11 1 12 2 13 2 14 2"/><path d="M0 0 1 15 2 10 3 7 4 5 5 4 6 4 7 4 8 4 9 4 10 4 11 3 12 3 13 4 14 3"/><path d="M0 0 1 1 2 0 3 0 4 0 5 0 6 0 7 1 8 1 9 1 10 1 11 1 12 2 13 2 14 2"/><path d="M0 0 1 1 2 1 3 0 4 0 5 0 6 0 7 0 8 0 9 0 10 0 11 1 12 1 13 1 14 1"/><path d="M0 0 1 0 2 0 3 0 4 0 5 1 6 3 7 3 8 3 9 3 10 3 11 3 12 3 13 2 14 2"/><path d="M0 0 1 0 2 1 3 1 4 1 5 1 6 1 7 1 8 1 9 1 10 1 11 1 12 1 13 1 14 1"/><path d="M0 0 1 8 2 5 3 4 4 3 5 3 6 2 7 2 8 2 9 2 10 2 11 2 12 2 13 1 14 1"/><path d="M0 0 1 3 2 2 3 5 4 4 5 3 6 3 7 3 8 3 9 3 10 3 11 3 12 3 13 3 14 4"/><path d="M0 0 1 0 2 0 3 0 4 0 5 0 6 1 7 3 8 4 9 6 10 7 11 7 12 7 13 7 14 7"/><path d="M0 0 1 0 2 2 3 3 4 5 5 5 6 5 7 4 8 5 9 5 10 5 11 5 12 5 13 5 14 5"/></g><g stroke="#555" stroke-opacity="0.115" stroke-width="0.8"><path d="M0 0 1 1 2 1 3 5 4 4 5 5 6 4 7 5 8 4 9 4 10 4 11 4 12 4 13 5 14 6"/><path d="M0 0 1 1 2 5 3 6 4 5 5 6 6 9 7 8 8 8 9 10 10 9 11 9 12 9 13 9 14 9"/><path d="M0 0 1 1 2 2 3 9 4 15 5 13 6 11 7 10 8 9 9 10 10 9 11 9 12 8 13 9 14 9"/><path d="M0 0 1 0 2 0 3 0 4 0 5 0 6 1 7 1 8 1 9 1 10 1 11 1 12 1 13 2 14 2"/><path d="M0 0 1 1 2 0 3 0 4 0 5 1 6 0 7 1 8 1 9 1 10 1 11 1 12 1 13 1 14 1"/><path d="M0 0 1 1 2 0 3 0 4 1 5 1 6 1 7 1 8 4 9 4 10 5 11 5 12 4 13 4 14 4"/><path d="M0 0 1 19 2 12 3 8 4 6 5 5 6 4 7 4 8 4 9 4 10 4 11 4 12 5 13 5 14 6"/></g><g stroke="#555" stroke-opacity="0.1175" stroke-width="0.8"><path d="M0 0 1 0 2 0 3 1 4 2 5 1 6 1 7 1 8 1 9 1 10 1 11 1 12 1 13 2 14 2"/><path d="M0 0 1 32 2 28 3 23 4 19 5 15 6 13 7 11 8 10 9 9 10 9 11 9 12 8 13 8 14 7"/><path d="M0 0 1 1 2 0 3 2 4 3 5 4 6 4 7 3 8 4 9 4 10 4 11 4 12 4 13 4 14 4"/><path d="M0 0 1 0 2 3 3 2 4 3 5 6 6 6 7 7 8 8 9 8 10 8 11 7 12 7 13 6 14 6"/><path d="M0 0 1 0 2 0 3 0 4 0 5 0 6 0 7 0 8 0 9 0 10 0 11 0 12 1 13 1 14 1"/><path d="M0 0 1 0 2 2 3 1 4 1 5 2 6 2 7 1 8 1 9 1 10 1 11 1 12 1 13 1 14 2"/><path d="M0 0 1 12 2 6 3 5 4 4 5 3 6 3 7 3 8 4 9 5 10 6 11 7 12 7 13 7 14 7"/><path d="M0 0 1 28 2 18 3 12 4 12 5 10 6 8 7 7 8 6 9 7 10 8 11 8 12 8 13 8 14 8"/></g><g stroke="#555" stroke-opacity="0.12" stroke-width="0.8"><path d="M0 0 1 1 2 1 3 1 4 2 5 1 6 1 7 1 8 1 9 1 10 1 11 1 12 1 13 1 14 1"/></g><g stroke="#555" stroke-opacity="0.1225" stroke-width="0.8"><path d="M0 0 1 3 2 5 3 4 4 4 5 5 6 5 7 5 8 5 9 5 10 5 11 5 12 4 13 4 14 4"/><path d="M0 0 1 6 2 4 3 4 4 4 5 3 6 3 7 3 8 3 9 4 10 3 11 3 12 3 13 4 14 7"/><path d="M0 0 1 2 2 1 3 1 4 2 5 1 6 1 7 1 8 1 9 1 10 1 11 2 12 2 13 2 14 2"/><path d="M0 0 1 0 2 0 3 0 4 1 5 1 6 1 7 1 8 1 9 1 10 1 11 1 12 1 13 1 14 1"/><path d="M0 0 1 0 2 0 3 4 4 3 5 3 6 3 7 3 8 3 9 4 10 5 11 5 12 5 13 5 14 5"/></g><g stroke="#555" stroke-opacity="0.125" stroke-width="0.8"><path d="M0 0 1 6 2 5 3 4 4 3 5 5 6 14 7 18 8 20 9 21 10 20 11 20 12 20 13 19 14 18"/><path d="M0 0 1 0 2 2 3 3 4 3 5 3 6 2 7 2 8 4 9 4 10 4 11 4 12 6 13 5 14 5"/><path d="M0 0 1 9 2 6 3 4 4 3 5 2 6 2 7 2 8 2 9 2 10 2 11 2 12 2 13 2 14 2"/><path d="M0 0 1 0 2 3 3 2 4 2 5 3 6 2 7 2 8 2 9 2 10 2 11 2 12 2 13 2 14 1"/><path d="M0 0 1 0 2 0 3 0 4 0 5 0 6 0 7 0 8 0 9 0 10 1 11 3 12 4 13 7 14 9"/></g><g stroke="#555" stroke-opacity="0.1275" stroke-width="0.8"><path d="M0 0 1 4 2 3 3 2 4 1 5 1 6 1 7 1 8 1 9 1 10 1 11 1 12 1 13 1 14 1"/><path d="M0 0 1 0 2 0 3 1 4 1 5 1 6 2 7 2 8 3 9 3 10 4 11 3 12 3 13 3 14 3"/><path d="M0 0 1 1 2 0 3 1 4 1 5 1 6 1 7 1 8 0 9 0 10 0 11 0 12 1 13 1 14 1"/><path d="M0 0 1 0 2 0 3 0 4 1 5 1 6 2 7 2 8 3 9 3 10 3 11 2 12 3 13 3 14 2"/></g><g stroke="#555" stroke-opacity="0.13" stroke-width="0.8"><path d="M0 0 1 1 2 1 3 3 4 3 5 2 6 2 7 2 8 2 9 2 10 2 11 2 12 3 13 4 14 6"/><path d="M0 0 1 1 2 1 3 1 4 0 5 1 6 2 7 3 8 3 9 3 10 3 11 3 12 3 13 3 14 3"/><path d="M0 0 1 1 2 1 3 0 4 1 5 1 6 1 7 1 8 1 9 1 10 1 11 1 12 2 13 2 14 2"/><path d="M0 0 1 0 2 0 3 0 4 0 5 0 6 0 7 0 8 0 9 1 10 1 11 2 12 3 13 3 14 4"/><path d="M0 0 1 0 2 0 3 0 4 0 5 0 6 0 7 0 8 0 9 0 10 0 11 1 12 2 13 3 14 4"/></g><g stroke="#555" stroke-opacity="0.1325" stroke-width="0.8"><path d="M0 0 1 2 2 2 3 6 4 7 5 7 6 6 7 7 8 8 9 8 10 8 11 7 12 7 13 6 14 6"/><path d="M0 0 1 1 2 2 3 3 4 8 5 6 6 5 7 6 8 6 9 7 10 7 11 8 12 8 13 8 14 8"/><path d="M0 0 1 0 2 8 3 7 4 8 5 8 6 7 7 7 8 6 9 6 10 6 11 5 12 5 13 5 14 4"/><path d="M0 0 1 3 2 1 3 1 4 1 5 1 6 1 7 1 8 1 9 3 10 5 11 6 12 6 13 6 14 5"/><path d="M0 0 1 1 2 5 3 4 4 3 5 3 6 3 7 3 8 3 9 3 10 3 11 4 12 4 13 4 14 4"/><path d="M0 0 1 41 2 23 3 15 4 13 5 12 6 12 7 12 8 11 9 11 10 10 11 9 12 9 13 8 14 8"/><path d="M0 0 1 7 2 5 3 4 4 8 5 6 6 5 7 4 8 6 9 8 10 8 11 8 12 8 13 8 14 8"/><path d="M0 0 1 0 2 4 3 3 4 3 5 2 6 2 7 2 8 1 9 2 10 1 11 1 12 1 13 1 14 1"/></g><g stroke="#555" stroke-opacity="0.135" stroke-width="0.8"><path d="M0 0 1 2 2 1 3 2 4 7 5 9 6 11 7 11 8 11 9 11 10 10 11 9 12 9 13 8 14 8"/><path d="M0 0 1 2 2 2 3 2 4 4 5 5 6 5 7 4 8 4 9 4 10 4 11 4 12 4 13 4 14 4"/><path d="M0 0 1 1 2 1 3 3 4 2 5 2 6 2 7 2 8 2 9 2 10 1 11 2 12 2 13 2 14 3"/><path d="M0 0 1 0 2 0 3 0 4 0 5 1 6 2 7 2 8 2 9 2 10 3 11 3 12 2 13 2 14 2"/><path d="M0 0 1 0 2 0 3 0 4 0 5 0 6 1 7 1 8 1 9 1 10 1 11 1 12 1 13 1 14 2"/></g><g stroke="#555" stroke-opacity="0.1375" stroke-width="0.8"><path d="M0 0 1 3 2 8 3 17 4 14 5 13 6 14 7 12 8 11 9 10 10 9 11 9 12 9 13 8 14 8"/><path d="M0 0 1 11 2 6 3 4 4 3 5 3 6 3 7 4 8 5 9 5 10 5 11 5 12 6 13 6 14 6"/></g><g stroke="#555" stroke-opacity="0.14" stroke-width="0.8"><path d="M0 0 1 13 2 10 3 13 4 10 5 12 6 10 7 11 8 9 9 9 10 8 11 9 12 11 13 12 14 11"/><path d="M0 0 1 4 2 4 3 4 4 3 5 3 6 3 7 2 8 2 9 2 10 2 11 2 12 3 13 5 14 7"/><path d="M0 0 1 0 2 1 3 4 4 4 5 5 6 5 7 7 8 7 9 7 10 7 11 7 12 7 13 6 14 6"/><path d="M0 0 1 7 2 3 3 8 4 8 5 8 6 7 7 6 8 7 9 7 10 7 11 6 12 7 13 7 14 7"/><path d="M0 0 1 0 2 3 3 3 4 2 5 2 6 4 7 4 8 4 9 4 10 4 11 4 12 4 13 3 14 4"/><path d="M0 0 1 0 2 0 3 0 4 0 5 0 6 0 7 0 8 0 9 0 10 0 11 0 12 0 13 0 14 0"/><path d="M0 0 1 0 2 0 3 0 4 1 5 1 6 0 7 0 8 0 9 0 10 0 11 0 12 0 13 1 14 1"/><path d="M0 0 1 5 2 4 3 4 4 3 5 3 6 2 7 2 8 2 9 2 10 2 11 2 12 2 13 2 14 1"/></g><g stroke="#555" stroke-opacity="0.1425" stroke-width="0.8"><path d="M0 0 1 21 2 13 3 14 4 15 5 14 6 13 7 12 8 11 9 10 10 9 11 9 12 8 13 7 14 7"/><path d="M0 0 1 0 2 0 3 1 4 1 5 2 6 2 7 2 8 2 9 2 10 2 11 2 12 2 13 2 14 2"/><path d="M0 0 1 0 2 4 3 3 4 3 5 2 6 2 7 2 8 2 9 2 10 4 11 5 12 4 13 4 14 4"/><path d="M0 0 1 1 2 2 3 1 4 1 5 1 6 1 7 3 8 3 9 3 10 3 11 3 12 3 13 4 14 5"/><path d="M0 0 1 26 2 17 3 12 4 9 5 8 6 7 7 6 8 6 9 5 10 5 11 5 12 4 13 5 14 5"/><path d="M0 0 1 8 2 5 3 3 4 2 5 2 6 2 7 2 8 2 9 2 10 1 11 1 12 1 13 2 14 2"/><path d="M0 0 1 0 2 0 3 1 4 1 5 1 6 1 7 1 8 1 9 1 10 1 11 1 12 1 13 1 14 1"/></g><g stroke="#555" stroke-opacity="0.145" stroke-width="0.8"><path d="M0 0 1 0 2 1 3 2 4 8 5 8 6 7 7 6 8 6 9 7 10 9 11 10 12 11 13 11 14 10"/><path d="M0 0 1 5 2 3 3 2 4 2 5 2 6 2 7 1 8 2 9 2 10 2 11 2 12 4 13 5 14 6"/><path d="M0 0 1 0 2 0 3 1 4 1 5 1 6 2 7 2 8 2 9 2 10 2 11 3 12 3 13 3 14 3"/><path d="M0 0 1 0 2 0 3 0 4 1 5 1 6 0 7 1 8 3 9 4 10 4 11 3 12 4 13 4 14 4"/><path d="M0 0 1 0 2 0 3 1 4 1 5 2 6 2 7 4 8 5 9 5 10 5 11 5 12 6 13 8 14 7"/><path d="M0 0 1 1 2 1 3 1 4 1 5 1 6 1 7 1 8 1 9 1 10 1 11 1 12 1 13 1 14 1"/><path d="M0 0 1 0 2 1 3 0 4 0 5 0 6 0 7 0 8 0 9 0 10 0 11 0 12 0 13 1 14 1"/><path d="M0 0 1 0 2 0 3 0 4 0 5 0 6 0 7 0 8 0 9 0 10 0 11 1 12 1 13 1 14 1"/></g><g stroke="#555" stroke-opacity="0.1475" stroke-width="0.8"><path d="M0 0 1 2 2 1 3 1 4 1 5 0 6 1 7 1 8 1 9 2 10 2 11 3 12 4 13 5 14 7"/><path d="M0 0 1 1 2 1 3 0 4 0 5 0 6 0 7 0 8 0 9 0 10 3 11 3 12 4 13 3 14 3"/><path d="M0 0 1 12 2 6 3 4 4 7 5 7 6 6 7 6 8 6 9 6 10 5 11 5 12 5 13 5 14 5"/><path d="M0 0 1 25 2 14 3 10 4 10 5 9 6 8 7 8 8 7 9 7 10 7 11 9 12 11 13 11 14 13"/><path d="M0 0 1 1 2 1 3 0 4 0 5 0 6 0 7 1 8 3 9 5 10 6 11 5 12 6 13 5 14 5"/><path d="M0 0 1 2 2 1 3 1 4 1 5 1 6 6 7 8 8 10 9 12 10 13 11 11 12 13 13 13 14 14"/><path d="M0 0 1 5 2 3 3 2 4 2 5 2 6 2 7 2 8 2 9 2 10 2 11 2 12 2 13 2 14 2"/><path d="M0 0 1 0 2 0 3 0 4 0 5 0 6 0 7 0 8 0 9 1 10 1 11 2 12 2 13 2 14 3"/></g><g stroke="#555" stroke-opacity="0.15" stroke-width="0.8"><path d="M0 0 1 1 2 0 3 1 4 1 5 1 6 1 7 1 8 1 9 1 10 1 11 1 12 1 13 1 14 1"/><path d="M0 0 1 0 2 0 3 0 4 0 5 0 6 0 7 0 8 0 9 0 10 1 11 1 12 1 13 2 14 2"/></g><g stroke="#555" stroke-opacity="0.1525" stroke-width="0.8"><path d="M0 0 1 0 2 0 3 0 4 0 5 0 6 0 7 0 8 0 9 0 10 0 11 0 12 0 13 0 14 0"/></g><g stroke="#555" stroke-opacity="0.155" stroke-width="0.8"><path d="M0 0 1 49 2 32 3 24 4 20 5 16 6 13 7 12 8 10 9 9 10 9 11 8 12 7 13 7 14 7"/><path d="M0 0 1 0 2 3 3 5 4 4 5 4 6 3 7 3 8 4 9 5 10 5 11 5 12 4 13 4 14 4"/><path d="M0 0 1 0 2 0 3 0 4 0 5 1 6 1 7 1 8 1 9 1 10 2 11 4 12 4 13 5 14 5"/></g><g stroke="#555" stroke-opacity="0.1625" stroke-width="0.8"><path d="M0 0 1 5 2 4 3 3 4 3 5 2 6 3 7 4 8 4 9 3 10 3 11 3 12 3 13 3 14 2"/></g><g stroke="#555" stroke-opacity="0.1675" stroke-width="0.8"><path d="M0 0 1 0 2 0 3 0 4 1 5 1 6 1 7 1 8 1 9 1 10 1 11 0 12 0 13 0 14 0"/><path d="M0 0 1 1 2 0 3 1 4 1 5 2 6 1 7 1 8 1 9 1 10 1 11 1 12 1 13 2 14 2"/><path d="M0 0 1 1 2 3 3 3 4 2 5 2 6 1 7 1 8 1 9 1 10 1 11 1 12 1 13 1 14 1"/><path d="M0 0 1 20 2 19 3 19 4 17 5 14 6 12 7 11 8 9 9 8 10 8 11 7 12 6 13 6 14 6"/></g><g stroke="#555" stroke-opacity="0.17" stroke-width="0.8"><path d="M0 0 1 0 2 0 3 0 4 1 5 1 6 1 7 0 8 0 9 1 10 1 11 0 12 0 13 0 14 1"/></g><g stroke="#555" stroke-opacity="0.1725" stroke-width="0.8"><path d="M0 0 1 0 2 0 3 1 4 2 5 2 6 2 7 2 8 1 9 1 10 1 11 1 12 1 13 1 14 1"/><path d="M0 0 1 0 2 0 3 0 4 1 5 1 6 1 7 1 8 1 9 1 10 1 11 1 12 1 13 1 14 1"/></g><g stroke="#555" stroke-opacity="0.1775" stroke-width="0.8"><path d="M0 0 1 17 2 10 3 7 4 5 5 4 6 4 7 4 8 3 9 3 10 3 11 3 12 2 13 2 14 2"/><path d="M0 0 1 11 2 7 3 5 4 4 5 4 6 3 7 3 8 3 9 3 10 3 11 2 12 2 13 2 14 2"/></g><g stroke="#555" stroke-opacity="0.18" stroke-width="0.8"><path d="M0 0 1 30 2 24 3 19 4 15 5 12 6 11 7 9 8 8 9 7 10 6 11 6 12 6 13 5 14 6"/></g><g stroke="#555" stroke-opacity="0.1825" stroke-width="0.8"><path d="M0 0 1 1 2 1 3 1 4 1 5 1 6 1 7 1 8 1 9 1 10 1 11 1 12 1 13 1 14 1"/></g><g stroke="#555" stroke-opacity="0.1875" stroke-width="0.8"><path d="M0 0 1 1 2 1 3 1 4 1 5 1 6 1 7 1 8 1 9 1 10 1 11 1 12 2 13 2 14 2"/></g><g stroke="#555" stroke-opacity="0.19" stroke-width="0.8"><path d="M0 0 1 0 2 0 3 0 4 0 5 0 6 0 7 0 8 0 9 0 10 0 11 0 12 0 13 0 14 1"/></g><g stroke="#555" stroke-opacity="0.1925" stroke-width="0.8"><path d="M0 0 1 0 2 0 3 0 4 0 5 0 6 0 7 0 8 0 9 0 10 0 11 0 12 1 13 1 14 1"/></g><g stroke="#555" stroke-opacity="0.195" stroke-width="0.8"><path d="M0 0 1 8 2 5 3 5 4 5 5 4 6 4 7 5 8 5 9 6 10 6 11 5 12 5 13 4 14 4"/><path d="M0 0 1 0 2 0 3 0 4 0 5 0 6 0 7 0 8 0 9 0 10 0 11 0 12 0 13 0 14 0"/></g><g stroke="#555" stroke-opacity="0.2" stroke-width="0.8"><path d="M0 0 1 1 2 1 3 1 4 1 5 1 6 0 7 0 8 1 9 1 10 1 11 1 12 1 13 1 14 1"/><path d="M0 0 1 1 2 1 3 1 4 1 5 1 6 1 7 1 8 1 9 1 10 1 11 1 12 1 13 1 14 1"/></g></g><g fill="none" stroke-linejoin="round" transform="matrix(7.98 0 0 -0.193000 397.1 286.3)"><g stroke="#444" stroke-opacity="0.3" stroke-width="0.9"><path d="M0 0 1 500 2 333 3 333 4 291 5 281 6 257 7 246 8 233 9 227 10 216 11 208 12 203 13 201 14 192"/><path d="M0 0 1 1 2 48 3 172 4 217 5 212 6 206 7 203 8 200 9 194 10 188 11 184 12 183 13 178 14 177"/></g><g stroke="#333" stroke-opacity="0.395" stroke-width="0.9"><path d="M0 0 1 4 2 3 3 4 4 10 5 15 6 16 7 18 8 15 9 14 10 12 11 11 12 11 13 10 14 12"/></g><g stroke="#333" stroke-opacity="0.4025" stroke-width="0.9"><path d="M0 0 1 158 2 103 3 86 4 87 5 76 6 64 7 55 8 48 9 45 10 41 11 37 12 34 13 32 14 29"/></g><g stroke="#333" stroke-opacity="0.4275" stroke-width="0.9"><path d="M0 0 1 424 2 280 3 197 4 153 5 122 6 102 7 93 8 84 9 75 10 69 11 63 12 58 13 54 14 52"/></g><g stroke="#333" stroke-opacity="0.45" stroke-width="0.9"><path d="M0 0 1 151 2 101 3 144 4 113 5 91 6 76 7 66 8 58 9 51 10 46 11 42 12 39 13 36 14 34"/><path d="M0 0 1 11 2 6 3 7 4 6 5 7 6 7 7 9 8 10 9 14 10 13 11 12 12 13 13 15 14 15"/><path d="M0 0 1 125 2 111 3 86 4 66 5 56 6 48 7 42 8 44 9 39 10 35 11 32 12 30 13 38 14 36"/><path d="M0 0 1 45 2 76 3 76 4 61 5 49 6 42 7 42 8 52 9 55 10 52 11 47 12 45 13 47 14 47"/><path d="M0 0 1 1 2 2 3 2 4 2 5 2 6 3 7 5 8 5 9 5 10 7 11 7 12 8 13 8 14 8"/></g></g></g><g filter="url(#bt)"><rect x="48.78" y="30.40" width="116.58" height="105.30" fill="none" stroke="#000" stroke-width="1.5"/><line x1="45.48" y1="34.30" x2="48.78" y2="34.30" stroke="#000" stroke-width="1.1"/><text x="42.48" y="36.20" font-size="5.5" text-anchor="end" fill="#1a1a1a" stroke="#1a1a1a" stroke-width="0.12">Gr 0:1 Mo</text><line x1="45.48" y1="66.80" x2="48.78" y2="66.80" stroke="#000" stroke-width="1.1"/><text x="42.48" y="68.70" font-size="5.5" text-anchor="end" fill="#1a1a1a" stroke="#1a1a1a" stroke-width="0.12">1:2</text><line x1="45.48" y1="83.05" x2="48.78" y2="83.05" stroke="#000" stroke-width="1.1"/><text x="42.48" y="84.95" font-size="5.5" text-anchor="end" fill="#1a1a1a" stroke="#1a1a1a" stroke-width="0.12">1:1</text><line x1="45.48" y1="99.30" x2="48.78" y2="99.30" stroke="#000" stroke-width="1.1"/><text x="42.48" y="101.20" font-size="5.5" text-anchor="end" fill="#1a1a1a" stroke="#1a1a1a" stroke-width="0.12">2:1</text><line x1="45.48" y1="131.80" x2="48.78" y2="131.80" stroke="#000" stroke-width="1.1"/><text x="42.48" y="133.70" font-size="5.5" text-anchor="end" fill="#1a1a1a" stroke="#1a1a1a" stroke-width="0.12">Gr 1:0 Mo</text><line x1="53.10" y1="135.70" x2="53.10" y2="139.00" stroke="#000" stroke-width="1.1"/><text x="54.90" y="142.30" font-size="5.0" text-anchor="end" fill="#222" stroke="#222" stroke-width="0.1" transform="rotate(-90 54.90 142.30)">1</text><line x1="60.81" y1="135.70" x2="60.81" y2="139.00" stroke="#000" stroke-width="1.1"/><text x="62.61" y="142.30" font-size="5.0" text-anchor="end" fill="#222" stroke="#222" stroke-width="0.1" transform="rotate(-90 62.61 142.30)">2</text><line x1="68.52" y1="135.70" x2="68.52" y2="139.00" stroke="#000" stroke-width="1.1"/><text x="70.32" y="142.30" font-size="5.0" text-anchor="end" fill="#222" stroke="#222" stroke-width="0.1" transform="rotate(-90 70.32 142.30)">3</text><line x1="76.23" y1="135.70" x2="76.23" y2="139.00" stroke="#000" stroke-width="1.1"/><text x="78.03" y="142.30" font-size="5.0" text-anchor="end" fill="#222" stroke="#222" stroke-width="0.1" transform="rotate(-90 78.03 142.30)">4.5</text><line x1="83.94" y1="135.70" x2="83.94" y2="139.00" stroke="#000" stroke-width="1.1"/><text x="85.74" y="142.30" font-size="5.0" text-anchor="end" fill="#222" stroke="#222" stroke-width="0.1" transform="rotate(-90 85.74 142.30)">6.5</text><line x1="91.65" y1="135.70" x2="91.65" y2="139.00" stroke="#000" stroke-width="1.1"/><text x="93.45" y="142.30" font-size="5.0" text-anchor="end" fill="#222" stroke="#222" stroke-width="0.1" transform="rotate(-90 93.45 142.30)">9.5</text><line x1="99.36" y1="135.70" x2="99.36" y2="139.00" stroke="#000" stroke-width="1.1"/><text x="101.16" y="142.30" font-size="5.0" text-anchor="end" fill="#222" stroke="#222" stroke-width="0.1" transform="rotate(-90 101.16 142.30)">12</text><line x1="107.07" y1="135.70" x2="107.07" y2="139.00" stroke="#000" stroke-width="1.1"/><text x="108.87" y="142.30" font-size="5.0" text-anchor="end" fill="#222" stroke="#222" stroke-width="0.1" transform="rotate(-90 108.87 142.30)">14</text><line x1="114.78" y1="135.70" x2="114.78" y2="139.00" stroke="#000" stroke-width="1.1"/><text x="116.58" y="142.30" font-size="5.0" text-anchor="end" fill="#222" stroke="#222" stroke-width="0.1" transform="rotate(-90 116.58 142.30)">21</text><line x1="122.49" y1="135.70" x2="122.49" y2="139.00" stroke="#000" stroke-width="1.1"/><text x="124.29" y="142.30" font-size="5.0" text-anchor="end" fill="#222" stroke="#222" stroke-width="0.1" transform="rotate(-90 124.29 142.30)">26</text><line x1="130.20" y1="135.70" x2="130.20" y2="139.00" stroke="#000" stroke-width="1.1"/><text x="132.00" y="142.30" font-size="5.0" text-anchor="end" fill="#222" stroke="#222" stroke-width="0.1" transform="rotate(-90 132.00 142.30)">30</text><line x1="137.91" y1="135.70" x2="137.91" y2="139.00" stroke="#000" stroke-width="1.1"/><text x="139.71" y="142.30" font-size="5.0" text-anchor="end" fill="#222" stroke="#222" stroke-width="0.1" transform="rotate(-90 139.71 142.30)">36</text><line x1="145.62" y1="135.70" x2="145.62" y2="139.00" stroke="#000" stroke-width="1.1"/><text x="147.42" y="142.30" font-size="5.0" text-anchor="end" fill="#222" stroke="#222" stroke-width="0.1" transform="rotate(-90 147.42 142.30)">42</text><line x1="153.33" y1="135.70" x2="153.33" y2="139.00" stroke="#000" stroke-width="1.1"/><text x="155.13" y="142.30" font-size="5.0" text-anchor="end" fill="#222" stroke="#222" stroke-width="0.1" transform="rotate(-90 155.13 142.30)">46</text><line x1="161.04" y1="135.70" x2="161.04" y2="139.00" stroke="#000" stroke-width="1.1"/><text x="162.84" y="142.30" font-size="5.0" text-anchor="end" fill="#222" stroke="#222" stroke-width="0.1" transform="rotate(-90 162.84 142.30)">49</text><text x="7.50" y="15.70" font-size="12.5" text-anchor="start" fill="#000" stroke="#000" stroke-width="0.4" font-weight="bold" textLength="7.9" lengthAdjust="spacingAndGlyphs">A</text><text x="107.07" y="26.60" font-size="8.1" text-anchor="middle" fill="#000" stroke="#000" stroke-width="0.1" textLength="72.0" lengthAdjust="spacingAndGlyphs">ZH33 Mono v Gr bias</text><text x="13.90" y="82.90" font-size="7.6" text-anchor="middle" fill="#222" stroke="#222" stroke-width="0.05" textLength="11.6" lengthAdjust="spacingAndGlyphs" transform="rotate(-90 13.90 82.90)">Bias</text><text x="107.07" y="159.40" font-size="7.6" text-anchor="middle" fill="#111" stroke="#111" stroke-width="0.25" textLength="70" lengthAdjust="spacingAndGlyphs">Months post-transplant</text><rect x="222.28" y="30.40" width="116.64" height="105.30" fill="none" stroke="#000" stroke-width="1.5"/><line x1="218.98" y1="34.30" x2="222.28" y2="34.30" stroke="#000" stroke-width="1.1"/><text x="215.98" y="36.20" font-size="5.5" text-anchor="end" fill="#1a1a1a" stroke="#1a1a1a" stroke-width="0.12">Gr 0:1 B</text><line x1="218.98" y1="66.80" x2="222.28" y2="66.80" stroke="#000" stroke-width="1.1"/><text x="215.98" y="68.70" font-size="5.5" text-anchor="end" fill="#1a1a1a" stroke="#1a1a1a" stroke-width="0.12">1:2</text><line x1="218.98" y1="83.05" x2="222.28" y2="83.05" stroke="#000" stroke-width="1.1"/><text x="215.98" y="84.95" font-size="5.5" text-anchor="end" fill="#1a1a1a" stroke="#1a1a1a" stroke-width="0.12">1:1</text><line x1="218.98" y1="99.30" x2="222.28" y2="99.30" stroke="#000" stroke-width="1.1"/><text x="215.98" y="101.20" font-size="5.5" text-anchor="end" fill="#1a1a1a" stroke="#1a1a1a" stroke-width="0.12">2:1</text><line x1="218.98" y1="131.80" x2="222.28" y2="131.80" stroke="#000" stroke-width="1.1"/><text x="215.98" y="133.70" font-size="5.5" text-anchor="end" fill="#1a1a1a" stroke="#1a1a1a" stroke-width="0.12">Gr 1:0 B</text><line x1="226.60" y1="135.70" x2="226.60" y2="139.00" stroke="#000" stroke-width="1.1"/><text x="228.40" y="142.30" font-size="5.0" text-anchor="end" fill="#222" stroke="#222" stroke-width="0.1" transform="rotate(-90 228.40 142.30)">1</text><line x1="234.31" y1="135.70" x2="234.31" y2="139.00" stroke="#000" stroke-width="1.1"/><text x="236.11" y="142.30" font-size="5.0" text-anchor="end" fill="#222" stroke="#222" stroke-width="0.1" transform="rotate(-90 236.11 142.30)">2</text><line x1="242.03" y1="135.70" x2="242.03" y2="139.00" stroke="#000" stroke-width="1.1"/><text x="243.83" y="142.30" font-size="5.0" text-anchor="end" fill="#222" stroke="#222" stroke-width="0.1" transform="rotate(-90 243.83 142.30)">3</text><line x1="249.74" y1="135.70" x2="249.74" y2="139.00" stroke="#000" stroke-width="1.1"/><text x="251.54" y="142.30" font-size="5.0" text-anchor="end" fill="#222" stroke="#222" stroke-width="0.1" transform="rotate(-90 251.54 142.30)">4.5</text><line x1="257.46" y1="135.70" x2="257.46" y2="139.00" stroke="#000" stroke-width="1.1"/><text x="259.26" y="142.30" font-size="5.0" text-anchor="end" fill="#222" stroke="#222" stroke-width="0.1" transform="rotate(-90 259.26 142.30)">6.5</text><line x1="265.17" y1="135.70" x2="265.17" y2="139.00" stroke="#000" stroke-width="1.1"/><text x="266.97" y="142.30" font-size="5.0" text-anchor="end" fill="#222" stroke="#222" stroke-width="0.1" transform="rotate(-90 266.97 142.30)">9.5</text><line x1="272.88" y1="135.70" x2="272.88" y2="139.00" stroke="#000" stroke-width="1.1"/><text x="274.68" y="142.30" font-size="5.0" text-anchor="end" fill="#222" stroke="#222" stroke-width="0.1" transform="rotate(-90 274.68 142.30)">12</text><line x1="280.60" y1="135.70" x2="280.60" y2="139.00" stroke="#000" stroke-width="1.1"/><text x="282.40" y="142.30" font-size="5.0" text-anchor="end" fill="#222" stroke="#222" stroke-width="0.1" transform="rotate(-90 282.40 142.30)">14</text><line x1="288.31" y1="135.70" x2="288.31" y2="139.00" stroke="#000" stroke-width="1.1"/><text x="290.11" y="142.30" font-size="5.0" text-anchor="end" fill="#222" stroke="#222" stroke-width="0.1" transform="rotate(-90 290.11 142.30)">21</text><line x1="296.03" y1="135.70" x2="296.03" y2="139.00" stroke="#000" stroke-width="1.1"/><text x="297.83" y="142.30" font-size="5.0" text-anchor="end" fill="#222" stroke="#222" stroke-width="0.1" transform="rotate(-90 297.83 142.30)">26</text><line x1="303.74" y1="135.70" x2="303.74" y2="139.00" stroke="#000" stroke-width="1.1"/><text x="305.54" y="142.30" font-size="5.0" text-anchor="end" fill="#222" stroke="#222" stroke-width="0.1" transform="rotate(-90 305.54 142.30)">30</text><line x1="311.45" y1="135.70" x2="311.45" y2="139.00" stroke="#000" stroke-width="1.1"/><text x="313.25" y="142.30" font-size="5.0" text-anchor="end" fill="#222" stroke="#222" stroke-width="0.1" transform="rotate(-90 313.25 142.30)">36</text><line x1="319.17" y1="135.70" x2="319.17" y2="139.00" stroke="#000" stroke-width="1.1"/><text x="320.97" y="142.30" font-size="5.0" text-anchor="end" fill="#222" stroke="#222" stroke-width="0.1" transform="rotate(-90 320.97 142.30)">42</text><line x1="326.88" y1="135.70" x2="326.88" y2="139.00" stroke="#000" stroke-width="1.1"/><text x="328.68" y="142.30" font-size="5.0" text-anchor="end" fill="#222" stroke="#222" stroke-width="0.1" transform="rotate(-90 328.68 142.30)">46</text><line x1="334.60" y1="135.70" x2="334.60" y2="139.00" stroke="#000" stroke-width="1.1"/><text x="336.40" y="142.30" font-size="5.0" text-anchor="end" fill="#222" stroke="#222" stroke-width="0.1" transform="rotate(-90 336.40 142.30)">49</text><text x="184.30" y="15.70" font-size="12.5" text-anchor="start" fill="#000" stroke="#000" stroke-width="0.4" font-weight="bold" textLength="7.9" lengthAdjust="spacingAndGlyphs">B</text><text x="280.60" y="26.60" font-size="8.1" text-anchor="middle" fill="#000" stroke="#000" stroke-width="0.1" textLength="57.7" lengthAdjust="spacingAndGlyphs">ZH33 B v Gr bias</text><text x="190.90" y="82.90" font-size="7.6" text-anchor="middle" fill="#222" stroke="#222" stroke-width="0.05" textLength="11.6" lengthAdjust="spacingAndGlyphs" transform="rotate(-90 190.90 82.90)">Bias</text><text x="280.60" y="159.40" font-size="7.6" text-anchor="middle" fill="#111" stroke="#111" stroke-width="0.25" textLength="70" lengthAdjust="spacingAndGlyphs">Months post-transplant</text><rect x="392.77" y="30.40" width="117.03" height="105.30" fill="none" stroke="#000" stroke-width="1.5"/><line x1="389.47" y1="34.30" x2="392.77" y2="34.30" stroke="#000" stroke-width="1.1"/><text x="386.47" y="36.20" font-size="5.5" text-anchor="end" fill="#1a1a1a" stroke="#1a1a1a" stroke-width="0.12">B 0:1 T</text><line x1="389.47" y1="66.80" x2="392.77" y2="66.80" stroke="#000" stroke-width="1.1"/><text x="386.47" y="68.70" font-size="5.5" text-anchor="end" fill="#1a1a1a" stroke="#1a1a1a" stroke-width="0.12">1:2</text><line x1="389.47" y1="83.05" x2="392.77" y2="83.05" stroke="#000" stroke-width="1.1"/><text x="386.47" y="84.95" font-size="5.5" text-anchor="end" fill="#1a1a1a" stroke="#1a1a1a" stroke-width="0.12">1:1</text><line x1="389.47" y1="99.30" x2="392.77" y2="99.30" stroke="#000" stroke-width="1.1"/><text x="386.47" y="101.20" font-size="5.5" text-anchor="end" fill="#1a1a1a" stroke="#1a1a1a" stroke-width="0.12">2:1</text><line x1="389.47" y1="131.80" x2="392.77" y2="131.80" stroke="#000" stroke-width="1.1"/><text x="386.47" y="133.70" font-size="5.5" text-anchor="end" fill="#1a1a1a" stroke="#1a1a1a" stroke-width="0.12">B 1:0 T</text><line x1="397.10" y1="135.70" x2="397.10" y2="139.00" stroke="#000" stroke-width="1.1"/><text x="398.90" y="142.30" font-size="5.0" text-anchor="end" fill="#222" stroke="#222" stroke-width="0.1" transform="rotate(-90 398.90 142.30)">1</text><line x1="404.84" y1="135.70" x2="404.84" y2="139.00" stroke="#000" stroke-width="1.1"/><text x="406.64" y="142.30" font-size="5.0" text-anchor="end" fill="#222" stroke="#222" stroke-width="0.1" transform="rotate(-90 406.64 142.30)">2</text><line x1="412.58" y1="135.70" x2="412.58" y2="139.00" stroke="#000" stroke-width="1.1"/><text x="414.38" y="142.30" font-size="5.0" text-anchor="end" fill="#222" stroke="#222" stroke-width="0.1" transform="rotate(-90 414.38 142.30)">3</text><line x1="420.32" y1="135.70" x2="420.32" y2="139.00" stroke="#000" stroke-width="1.1"/><text x="422.12" y="142.30" font-size="5.0" text-anchor="end" fill="#222" stroke="#222" stroke-width="0.1" transform="rotate(-90 422.12 142.30)">4.5</text><line x1="428.06" y1="135.70" x2="428.06" y2="139.00" stroke="#000" stroke-width="1.1"/><text x="429.86" y="142.30" font-size="5.0" text-anchor="end" fill="#222" stroke="#222" stroke-width="0.1" transform="rotate(-90 429.86 142.30)">6.5</text><line x1="435.80" y1="135.70" x2="435.80" y2="139.00" stroke="#000" stroke-width="1.1"/><text x="437.60" y="142.30" font-size="5.0" text-anchor="end" fill="#222" stroke="#222" stroke-width="0.1" transform="rotate(-90 437.60 142.30)">9.5</text><line x1="443.54" y1="135.70" x2="443.54" y2="139.00" stroke="#000" stroke-width="1.1"/><text x="445.34" y="142.30" font-size="5.0" text-anchor="end" fill="#222" stroke="#222" stroke-width="0.1" transform="rotate(-90 445.34 142.30)">12</text><line x1="451.28" y1="135.70" x2="451.28" y2="139.00" stroke="#000" stroke-width="1.1"/><text x="453.08" y="142.30" font-size="5.0" text-anchor="end" fill="#222" stroke="#222" stroke-width="0.1" transform="rotate(-90 453.08 142.30)">14</text><line x1="459.02" y1="135.70" x2="459.02" y2="139.00" stroke="#000" stroke-width="1.1"/><text x="460.82" y="142.30" font-size="5.0" text-anchor="end" fill="#222" stroke="#222" stroke-width="0.1" transform="rotate(-90 460.82 142.30)">21</text><line x1="466.76" y1="135.70" x2="466.76" y2="139.00" stroke="#000" stroke-width="1.1"/><text x="468.56" y="142.30" font-size="5.0" text-anchor="end" fill="#222" stroke="#222" stroke-width="0.1" transform="rotate(-90 468.56 142.30)">26</text><line x1="474.50" y1="135.70" x2="474.50" y2="139.00" stroke="#000" stroke-width="1.1"/><text x="476.30" y="142.30" font-size="5.0" text-anchor="end" fill="#222" stroke="#222" stroke-width="0.1" transform="rotate(-90 476.30 142.30)">30</text><line x1="482.24" y1="135.70" x2="482.24" y2="139.00" stroke="#000" stroke-width="1.1"/><text x="484.04" y="142.30" font-size="5.0" text-anchor="end" fill="#222" stroke="#222" stroke-width="0.1" transform="rotate(-90 484.04 142.30)">36</text><line x1="489.98" y1="135.70" x2="489.98" y2="139.00" stroke="#000" stroke-width="1.1"/><text x="491.78" y="142.30" font-size="5.0" text-anchor="end" fill="#222" stroke="#222" stroke-width="0.1" transform="rotate(-90 491.78 142.30)">42</text><line x1="497.72" y1="135.70" x2="497.72" y2="139.00" stroke="#000" stroke-width="1.1"/><text x="499.52" y="142.30" font-size="5.0" text-anchor="end" fill="#222" stroke="#222" stroke-width="0.1" transform="rotate(-90 499.52 142.30)">46</text><line x1="505.46" y1="135.70" x2="505.46" y2="139.00" stroke="#000" stroke-width="1.1"/><text x="507.26" y="142.30" font-size="5.0" text-anchor="end" fill="#222" stroke="#222" stroke-width="0.1" transform="rotate(-90 507.26 142.30)">49</text><text x="358.20" y="15.70" font-size="12.5" text-anchor="start" fill="#000" stroke="#000" stroke-width="0.4" font-weight="bold" textLength="7.9" lengthAdjust="spacingAndGlyphs">C</text><text x="451.28" y="26.60" font-size="8.1" text-anchor="middle" fill="#000" stroke="#000" stroke-width="0.1" textLength="54.5" lengthAdjust="spacingAndGlyphs">ZH33 T v B bias</text><text x="363.50" y="82.90" font-size="7.6" text-anchor="middle" fill="#222" stroke="#222" stroke-width="0.05" textLength="11.6" lengthAdjust="spacingAndGlyphs" transform="rotate(-90 363.50 82.90)">Bias</text><text x="451.28" y="159.40" font-size="7.6" text-anchor="middle" fill="#111" stroke="#111" stroke-width="0.25" textLength="70" lengthAdjust="spacingAndGlyphs">Months post-transplant</text><rect x="48.63" y="185.94" width="120.66" height="104.22" fill="none" stroke="#000" stroke-width="1.5"/><line x1="45.33" y1="286.30" x2="48.63" y2="286.30" stroke="#000" stroke-width="1.1"/><text x="42.33" y="288.20" font-size="5.5" text-anchor="end" fill="#1a1a1a" stroke="#1a1a1a" stroke-width="0.12">0</text><line x1="45.33" y1="238.05" x2="48.63" y2="238.05" stroke="#000" stroke-width="1.1"/><text x="42.33" y="239.95" font-size="5.5" text-anchor="end" fill="#1a1a1a" stroke="#1a1a1a" stroke-width="0.12">0.25</text><line x1="45.33" y1="189.80" x2="48.63" y2="189.80" stroke="#000" stroke-width="1.1"/><text x="42.33" y="191.70" font-size="5.5" text-anchor="end" fill="#1a1a1a" stroke="#1a1a1a" stroke-width="0.12">0.5</text><line x1="53.10" y1="290.16" x2="53.10" y2="293.46" stroke="#000" stroke-width="1.1"/><text x="54.90" y="297.00" font-size="5.0" text-anchor="end" fill="#222" stroke="#222" stroke-width="0.1" transform="rotate(-90 54.90 297.00)">1</text><line x1="61.08" y1="290.16" x2="61.08" y2="293.46" stroke="#000" stroke-width="1.1"/><text x="62.88" y="297.00" font-size="5.0" text-anchor="end" fill="#222" stroke="#222" stroke-width="0.1" transform="rotate(-90 62.88 297.00)">2</text><line x1="69.06" y1="290.16" x2="69.06" y2="293.46" stroke="#000" stroke-width="1.1"/><text x="70.86" y="297.00" font-size="5.0" text-anchor="end" fill="#222" stroke="#222" stroke-width="0.1" transform="rotate(-90 70.86 297.00)">3</text><line x1="77.04" y1="290.16" x2="77.04" y2="293.46" stroke="#000" stroke-width="1.1"/><text x="78.84" y="297.00" font-size="5.0" text-anchor="end" fill="#222" stroke="#222" stroke-width="0.1" transform="rotate(-90 78.84 297.00)">4.5</text><line x1="85.02" y1="290.16" x2="85.02" y2="293.46" stroke="#000" stroke-width="1.1"/><text x="86.82" y="297.00" font-size="5.0" text-anchor="end" fill="#222" stroke="#222" stroke-width="0.1" transform="rotate(-90 86.82 297.00)">6.5</text><line x1="93.00" y1="290.16" x2="93.00" y2="293.46" stroke="#000" stroke-width="1.1"/><text x="94.80" y="297.00" font-size="5.0" text-anchor="end" fill="#222" stroke="#222" stroke-width="0.1" transform="rotate(-90 94.80 297.00)">9.5</text><line x1="100.98" y1="290.16" x2="100.98" y2="293.46" stroke="#000" stroke-width="1.1"/><text x="102.78" y="297.00" font-size="5.0" text-anchor="end" fill="#222" stroke="#222" stroke-width="0.1" transform="rotate(-90 102.78 297.00)">12</text><line x1="108.96" y1="290.16" x2="108.96" y2="293.46" stroke="#000" stroke-width="1.1"/><text x="110.76" y="297.00" font-size="5.0" text-anchor="end" fill="#222" stroke="#222" stroke-width="0.1" transform="rotate(-90 110.76 297.00)">14</text><line x1="116.94" y1="290.16" x2="116.94" y2="293.46" stroke="#000" stroke-width="1.1"/><text x="118.74" y="297.00" font-size="5.0" text-anchor="end" fill="#222" stroke="#222" stroke-width="0.1" transform="rotate(-90 118.74 297.00)">21</text><line x1="124.92" y1="290.16" x2="124.92" y2="293.46" stroke="#000" stroke-width="1.1"/><text x="126.72" y="297.00" font-size="5.0" text-anchor="end" fill="#222" stroke="#222" stroke-width="0.1" transform="rotate(-90 126.72 297.00)">26</text><line x1="132.90" y1="290.16" x2="132.90" y2="293.46" stroke="#000" stroke-width="1.1"/><text x="134.70" y="297.00" font-size="5.0" text-anchor="end" fill="#222" stroke="#222" stroke-width="0.1" transform="rotate(-90 134.70 297.00)">30</text><line x1="140.88" y1="290.16" x2="140.88" y2="293.46" stroke="#000" stroke-width="1.1"/><text x="142.68" y="297.00" font-size="5.0" text-anchor="end" fill="#222" stroke="#222" stroke-width="0.1" transform="rotate(-90 142.68 297.00)">36</text><line x1="148.86" y1="290.16" x2="148.86" y2="293.46" stroke="#000" stroke-width="1.1"/><text x="150.66" y="297.00" font-size="5.0" text-anchor="end" fill="#222" stroke="#222" stroke-width="0.1" transform="rotate(-90 150.66 297.00)">42</text><line x1="156.84" y1="290.16" x2="156.84" y2="293.46" stroke="#000" stroke-width="1.1"/><text x="158.64" y="297.00" font-size="5.0" text-anchor="end" fill="#222" stroke="#222" stroke-width="0.1" transform="rotate(-90 158.64 297.00)">46</text><line x1="164.82" y1="290.16" x2="164.82" y2="293.46" stroke="#000" stroke-width="1.1"/><text x="166.62" y="297.00" font-size="5.0" text-anchor="end" fill="#222" stroke="#222" stroke-width="0.1" transform="rotate(-90 166.62 297.00)">49</text><text x="108.96" y="182.00" font-size="8.1" text-anchor="middle" fill="#000" stroke="#000" stroke-width="0.1" textLength="100.3" lengthAdjust="spacingAndGlyphs">ZH33 Mono v Gr bias stability</text><text x="27.50" y="238.00" font-size="7.6" text-anchor="middle" fill="#222" stroke="#222" stroke-width="0.05" textLength="49" lengthAdjust="spacingAndGlyphs" transform="rotate(-90 27.50 238.00)">Variance of bias</text><text x="108.96" y="314.20" font-size="7.6" text-anchor="middle" fill="#111" stroke="#111" stroke-width="0.25" textLength="70.3" lengthAdjust="spacingAndGlyphs">Months post-transplant</text><rect x="222.03" y="185.94" width="120.81" height="104.22" fill="none" stroke="#000" stroke-width="1.5"/><line x1="218.73" y1="286.30" x2="222.03" y2="286.30" stroke="#000" stroke-width="1.1"/><text x="215.73" y="288.20" font-size="5.5" text-anchor="end" fill="#1a1a1a" stroke="#1a1a1a" stroke-width="0.12">0</text><line x1="218.73" y1="238.05" x2="222.03" y2="238.05" stroke="#000" stroke-width="1.1"/><text x="215.73" y="239.95" font-size="5.5" text-anchor="end" fill="#1a1a1a" stroke="#1a1a1a" stroke-width="0.12">0.25</text><line x1="218.73" y1="189.80" x2="222.03" y2="189.80" stroke="#000" stroke-width="1.1"/><text x="215.73" y="191.70" font-size="5.5" text-anchor="end" fill="#1a1a1a" stroke="#1a1a1a" stroke-width="0.12">0.5</text><line x1="226.50" y1="290.16" x2="226.50" y2="293.46" stroke="#000" stroke-width="1.1"/><text x="228.30" y="297.00" font-size="5.0" text-anchor="end" fill="#222" stroke="#222" stroke-width="0.1" transform="rotate(-90 228.30 297.00)">1</text><line x1="234.49" y1="290.16" x2="234.49" y2="293.46" stroke="#000" stroke-width="1.1"/><text x="236.29" y="297.00" font-size="5.0" text-anchor="end" fill="#222" stroke="#222" stroke-width="0.1" transform="rotate(-90 236.29 297.00)">2</text><line x1="242.48" y1="290.16" x2="242.48" y2="293.46" stroke="#000" stroke-width="1.1"/><text x="244.28" y="297.00" font-size="5.0" text-anchor="end" fill="#222" stroke="#222" stroke-width="0.1" transform="rotate(-90 244.28 297.00)">3</text><line x1="250.47" y1="290.16" x2="250.47" y2="293.46" stroke="#000" stroke-width="1.1"/><text x="252.27" y="297.00" font-size="5.0" text-anchor="end" fill="#222" stroke="#222" stroke-width="0.1" transform="rotate(-90 252.27 297.00)">4.5</text><line x1="258.46" y1="290.16" x2="258.46" y2="293.46" stroke="#000" stroke-width="1.1"/><text x="260.26" y="297.00" font-size="5.0" text-anchor="end" fill="#222" stroke="#222" stroke-width="0.1" transform="rotate(-90 260.26 297.00)">6.5</text><line x1="266.45" y1="290.16" x2="266.45" y2="293.46" stroke="#000" stroke-width="1.1"/><text x="268.25" y="297.00" font-size="5.0" text-anchor="end" fill="#222" stroke="#222" stroke-width="0.1" transform="rotate(-90 268.25 297.00)">9.5</text><line x1="274.44" y1="290.16" x2="274.44" y2="293.46" stroke="#000" stroke-width="1.1"/><text x="276.24" y="297.00" font-size="5.0" text-anchor="end" fill="#222" stroke="#222" stroke-width="0.1" transform="rotate(-90 276.24 297.00)">12</text><line x1="282.43" y1="290.16" x2="282.43" y2="293.46" stroke="#000" stroke-width="1.1"/><text x="284.23" y="297.00" font-size="5.0" text-anchor="end" fill="#222" stroke="#222" stroke-width="0.1" transform="rotate(-90 284.23 297.00)">14</text><line x1="290.42" y1="290.16" x2="290.42" y2="293.46" stroke="#000" stroke-width="1.1"/><text x="292.22" y="297.00" font-size="5.0" text-anchor="end" fill="#222" stroke="#222" stroke-width="0.1" transform="rotate(-90 292.22 297.00)">21</text><line x1="298.41" y1="290.16" x2="298.41" y2="293.46" stroke="#000" stroke-width="1.1"/><text x="300.21" y="297.00" font-size="5.0" text-anchor="end" fill="#222" stroke="#222" stroke-width="0.1" transform="rotate(-90 300.21 297.00)">26</text><line x1="306.40" y1="290.16" x2="306.40" y2="293.46" stroke="#000" stroke-width="1.1"/><text x="308.20" y="297.00" font-size="5.0" text-anchor="end" fill="#222" stroke="#222" stroke-width="0.1" transform="rotate(-90 308.20 297.00)">30</text><line x1="314.39" y1="290.16" x2="314.39" y2="293.46" stroke="#000" stroke-width="1.1"/><text x="316.19" y="297.00" font-size="5.0" text-anchor="end" fill="#222" stroke="#222" stroke-width="0.1" transform="rotate(-90 316.19 297.00)">36</text><line x1="322.38" y1="290.16" x2="322.38" y2="293.46" stroke="#000" stroke-width="1.1"/><text x="324.18" y="297.00" font-size="5.0" text-anchor="end" fill="#222" stroke="#222" stroke-width="0.1" transform="rotate(-90 324.18 297.00)">42</text><line x1="330.37" y1="290.16" x2="330.37" y2="293.46" stroke="#000" stroke-width="1.1"/><text x="332.17" y="297.00" font-size="5.0" text-anchor="end" fill="#222" stroke="#222" stroke-width="0.1" transform="rotate(-90 332.17 297.00)">46</text><line x1="338.36" y1="290.16" x2="338.36" y2="293.46" stroke="#000" stroke-width="1.1"/><text x="340.16" y="297.00" font-size="5.0" text-anchor="end" fill="#222" stroke="#222" stroke-width="0.1" transform="rotate(-90 340.16 297.00)">49</text><text x="282.43" y="182.00" font-size="8.1" text-anchor="middle" fill="#000" stroke="#000" stroke-width="0.1" textLength="85.3" lengthAdjust="spacingAndGlyphs">ZH33 B v Gr bias stability</text><text x="200.70" y="238.00" font-size="7.6" text-anchor="middle" fill="#222" stroke="#222" stroke-width="0.05" textLength="49" lengthAdjust="spacingAndGlyphs" transform="rotate(-90 200.70 238.00)">Variance of bias</text><text x="282.43" y="314.20" font-size="7.6" text-anchor="middle" fill="#111" stroke="#111" stroke-width="0.25" textLength="70.3" lengthAdjust="spacingAndGlyphs">Months post-transplant</text><rect x="392.63" y="185.94" width="120.66" height="104.22" fill="none" stroke="#000" stroke-width="1.5"/><line x1="389.33" y1="286.30" x2="392.63" y2="286.30" stroke="#000" stroke-width="1.1"/><text x="386.33" y="288.20" font-size="5.5" text-anchor="end" fill="#1a1a1a" stroke="#1a1a1a" stroke-width="0.12">0</text><line x1="389.33" y1="238.05" x2="392.63" y2="238.05" stroke="#000" stroke-width="1.1"/><text x="386.33" y="239.95" font-size="5.5" text-anchor="end" fill="#1a1a1a" stroke="#1a1a1a" stroke-width="0.12">0.25</text><line x1="389.33" y1="189.80" x2="392.63" y2="189.80" stroke="#000" stroke-width="1.1"/><text x="386.33" y="191.70" font-size="5.5" text-anchor="end" fill="#1a1a1a" stroke="#1a1a1a" stroke-width="0.12">0.5</text><line x1="397.10" y1="290.16" x2="397.10" y2="293.46" stroke="#000" stroke-width="1.1"/><text x="398.90" y="297.00" font-size="5.0" text-anchor="end" fill="#222" stroke="#222" stroke-width="0.1" transform="rotate(-90 398.90 297.00)">1</text><line x1="405.08" y1="290.16" x2="405.08" y2="293.46" stroke="#000" stroke-width="1.1"/><text x="406.88" y="297.00" font-size="5.0" text-anchor="end" fill="#222" stroke="#222" stroke-width="0.1" transform="rotate(-90 406.88 297.00)">2</text><line x1="413.06" y1="290.16" x2="413.06" y2="293.46" stroke="#000" stroke-width="1.1"/><text x="414.86" y="297.00" font-size="5.0" text-anchor="end" fill="#222" stroke="#222" stroke-width="0.1" transform="rotate(-90 414.86 297.00)">3</text><line x1="421.04" y1="290.16" x2="421.04" y2="293.46" stroke="#000" stroke-width="1.1"/><text x="422.84" y="297.00" font-size="5.0" text-anchor="end" fill="#222" stroke="#222" stroke-width="0.1" transform="rotate(-90 422.84 297.00)">4.5</text><line x1="429.02" y1="290.16" x2="429.02" y2="293.46" stroke="#000" stroke-width="1.1"/><text x="430.82" y="297.00" font-size="5.0" text-anchor="end" fill="#222" stroke="#222" stroke-width="0.1" transform="rotate(-90 430.82 297.00)">6.5</text><line x1="437.00" y1="290.16" x2="437.00" y2="293.46" stroke="#000" stroke-width="1.1"/><text x="438.80" y="297.00" font-size="5.0" text-anchor="end" fill="#222" stroke="#222" stroke-width="0.1" transform="rotate(-90 438.80 297.00)">9.5</text><line x1="444.98" y1="290.16" x2="444.98" y2="293.46" stroke="#000" stroke-width="1.1"/><text x="446.78" y="297.00" font-size="5.0" text-anchor="end" fill="#222" stroke="#222" stroke-width="0.1" transform="rotate(-90 446.78 297.00)">12</text><line x1="452.96" y1="290.16" x2="452.96" y2="293.46" stroke="#000" stroke-width="1.1"/><text x="454.76" y="297.00" font-size="5.0" text-anchor="end" fill="#222" stroke="#222" stroke-width="0.1" transform="rotate(-90 454.76 297.00)">14</text><line x1="460.94" y1="290.16" x2="460.94" y2="293.46" stroke="#000" stroke-width="1.1"/><text x="462.74" y="297.00" font-size="5.0" text-anchor="end" fill="#222" stroke="#222" stroke-width="0.1" transform="rotate(-90 462.74 297.00)">21</text><line x1="468.92" y1="290.16" x2="468.92" y2="293.46" stroke="#000" stroke-width="1.1"/><text x="470.72" y="297.00" font-size="5.0" text-anchor="end" fill="#222" stroke="#222" stroke-width="0.1" transform="rotate(-90 470.72 297.00)">26</text><line x1="476.90" y1="290.16" x2="476.90" y2="293.46" stroke="#000" stroke-width="1.1"/><text x="478.70" y="297.00" font-size="5.0" text-anchor="end" fill="#222" stroke="#222" stroke-width="0.1" transform="rotate(-90 478.70 297.00)">30</text><line x1="484.88" y1="290.16" x2="484.88" y2="293.46" stroke="#000" stroke-width="1.1"/><text x="486.68" y="297.00" font-size="5.0" text-anchor="end" fill="#222" stroke="#222" stroke-width="0.1" transform="rotate(-90 486.68 297.00)">36</text><line x1="492.86" y1="290.16" x2="492.86" y2="293.46" stroke="#000" stroke-width="1.1"/><text x="494.66" y="297.00" font-size="5.0" text-anchor="end" fill="#222" stroke="#222" stroke-width="0.1" transform="rotate(-90 494.66 297.00)">42</text><line x1="500.84" y1="290.16" x2="500.84" y2="293.46" stroke="#000" stroke-width="1.1"/><text x="502.64" y="297.00" font-size="5.0" text-anchor="end" fill="#222" stroke="#222" stroke-width="0.1" transform="rotate(-90 502.64 297.00)">46</text><line x1="508.82" y1="290.16" x2="508.82" y2="293.46" stroke="#000" stroke-width="1.1"/><text x="510.62" y="297.00" font-size="5.0" text-anchor="end" fill="#222" stroke="#222" stroke-width="0.1" transform="rotate(-90 510.62 297.00)">49</text><text x="452.96" y="182.00" font-size="8.1" text-anchor="middle" fill="#000" stroke="#000" stroke-width="0.1" textLength="81.5" lengthAdjust="spacingAndGlyphs">ZH33 T v B bias stability</text><text x="370.70" y="238.00" font-size="7.6" text-anchor="middle" fill="#222" stroke="#222" stroke-width="0.05" textLength="49" lengthAdjust="spacingAndGlyphs" transform="rotate(-90 370.70 238.00)">Variance of bias</text><text x="452.96" y="314.20" font-size="7.6" text-anchor="middle" fill="#111" stroke="#111" stroke-width="0.25" textLength="70.3" lengthAdjust="spacingAndGlyphs">Months post-transplant</text></g><rect x="0" y="0" width="520" height="323" fill="none" stroke="#000" stroke-width="2.8"/></svg>
</body></html>
